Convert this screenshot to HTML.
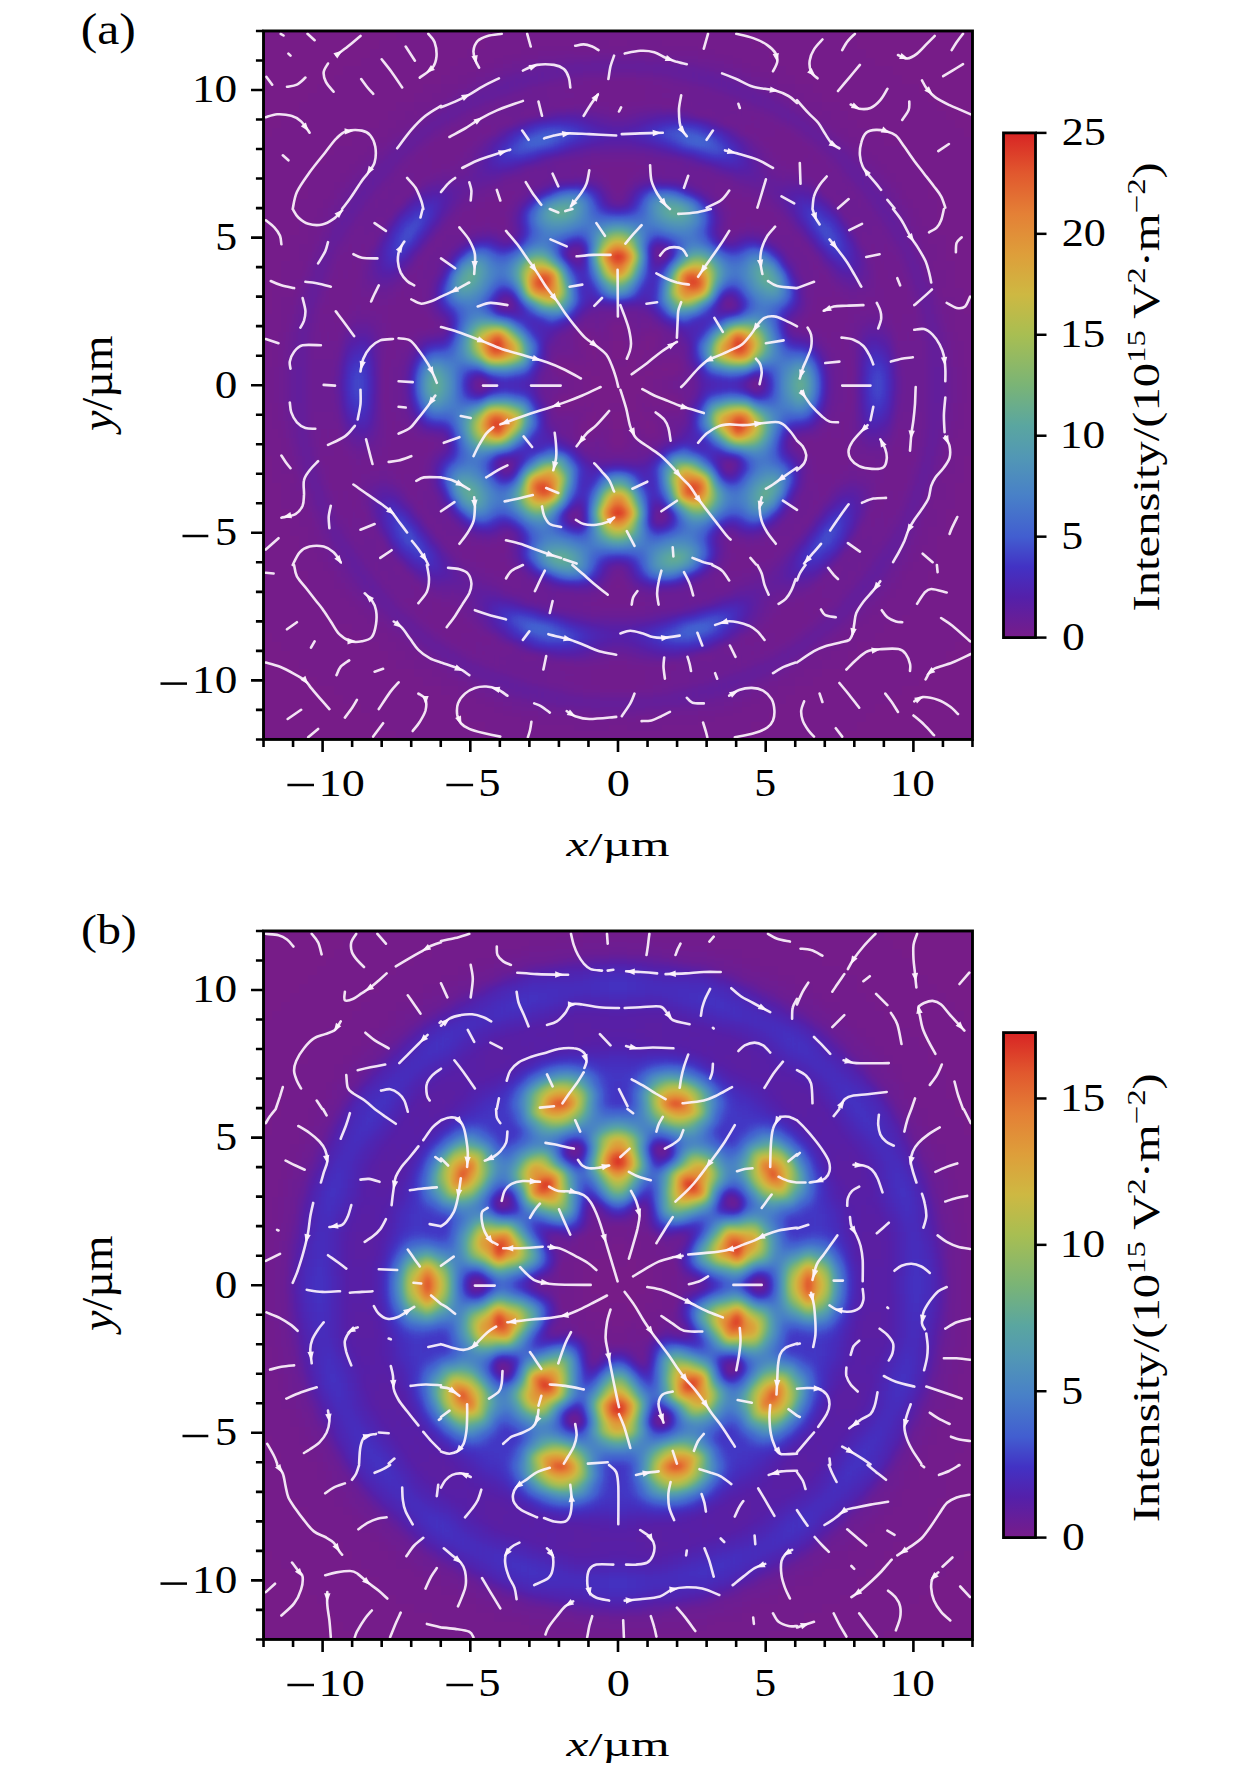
<!DOCTYPE html>
<html><head><meta charset="utf-8"><style>
html,body{margin:0;padding:0;background:#fff;}
svg{display:block;}
text{font-family:"Liberation Serif",serif;fill:#000;}
</style></head><body>
<svg width="1260" height="1772" viewBox="0 0 1260 1772">
<defs><filter id="cma" x="0" y="0" width="1260" height="1772" filterUnits="userSpaceOnUse" color-interpolation-filters="sRGB"><feGaussianBlur stdDeviation="4.43"/><feComponentTransfer><feFuncR type="table" tableValues="0.467 0.424 0.381 0.338 0.306 0.276 0.259 0.259 0.259 0.266 0.274 0.281 0.292 0.304 0.317 0.329 0.342 0.361 0.400 0.439 0.478 0.524 0.569 0.614 0.659 0.705 0.752 0.799 0.824 0.843 0.863 0.875 0.882 0.890 0.893 0.889 0.885 0.880 0.869 0.858 0.847"/><feFuncG type="table" tableValues="0.110 0.115 0.120 0.125 0.149 0.178 0.225 0.297 0.369 0.410 0.452 0.494 0.525 0.555 0.584 0.610 0.633 0.654 0.672 0.689 0.706 0.716 0.725 0.735 0.745 0.738 0.730 0.723 0.696 0.664 0.632 0.598 0.561 0.524 0.482 0.433 0.384 0.332 0.269 0.205 0.141"/><feFuncB type="table" tableValues="0.537 0.578 0.618 0.659 0.701 0.743 0.776 0.796 0.816 0.806 0.796 0.786 0.765 0.740 0.716 0.686 0.654 0.617 0.566 0.514 0.463 0.427 0.392 0.357 0.322 0.302 0.282 0.263 0.251 0.241 0.231 0.225 0.220 0.215 0.208 0.198 0.188 0.178 0.166 0.153 0.141"/></feComponentTransfer></filter><filter id="cmb" x="0" y="0" width="1260" height="1772" filterUnits="userSpaceOnUse" color-interpolation-filters="sRGB"><feGaussianBlur stdDeviation="4.43"/><feComponentTransfer><feFuncR type="table" tableValues="0.467 0.424 0.381 0.338 0.306 0.276 0.259 0.259 0.259 0.266 0.274 0.281 0.292 0.304 0.317 0.329 0.342 0.361 0.400 0.439 0.478 0.524 0.569 0.614 0.659 0.705 0.752 0.799 0.824 0.843 0.863 0.875 0.882 0.890 0.893 0.889 0.885 0.880 0.869 0.858 0.847"/><feFuncG type="table" tableValues="0.110 0.115 0.120 0.125 0.149 0.178 0.225 0.297 0.369 0.410 0.452 0.494 0.525 0.555 0.584 0.610 0.633 0.654 0.672 0.689 0.706 0.716 0.725 0.735 0.745 0.738 0.730 0.723 0.696 0.664 0.632 0.598 0.561 0.524 0.482 0.433 0.384 0.332 0.269 0.205 0.141"/><feFuncB type="table" tableValues="0.537 0.578 0.618 0.659 0.701 0.743 0.776 0.796 0.816 0.806 0.796 0.786 0.765 0.740 0.716 0.686 0.654 0.617 0.566 0.514 0.463 0.427 0.392 0.357 0.322 0.302 0.282 0.263 0.251 0.241 0.231 0.225 0.220 0.215 0.208 0.198 0.188 0.178 0.166 0.153 0.141"/></feComponentTransfer></filter><linearGradient id="cbga" x1="0" y1="1" x2="0" y2="0"><stop offset="0.000" stop-color="rgb(119,28,137)"/><stop offset="0.080" stop-color="rgb(84,32,170)"/><stop offset="0.140" stop-color="rgb(66,50,196)"/><stop offset="0.200" stop-color="rgb(66,94,208)"/><stop offset="0.280" stop-color="rgb(72,128,200)"/><stop offset="0.360" stop-color="rgb(82,152,180)"/><stop offset="0.420" stop-color="rgb(90,166,160)"/><stop offset="0.500" stop-color="rgb(122,180,118)"/><stop offset="0.600" stop-color="rgb(168,190,82)"/><stop offset="0.680" stop-color="rgb(206,184,66)"/><stop offset="0.760" stop-color="rgb(222,158,58)"/><stop offset="0.840" stop-color="rgb(228,128,54)"/><stop offset="0.920" stop-color="rgb(225,88,46)"/><stop offset="1.000" stop-color="rgb(216,36,36)"/></linearGradient><linearGradient id="cbgb" x1="0" y1="1" x2="0" y2="0"><stop offset="0.000" stop-color="rgb(119,28,137)"/><stop offset="0.080" stop-color="rgb(84,32,170)"/><stop offset="0.140" stop-color="rgb(66,50,196)"/><stop offset="0.200" stop-color="rgb(66,94,208)"/><stop offset="0.280" stop-color="rgb(72,128,200)"/><stop offset="0.360" stop-color="rgb(82,152,180)"/><stop offset="0.420" stop-color="rgb(90,166,160)"/><stop offset="0.500" stop-color="rgb(122,180,118)"/><stop offset="0.600" stop-color="rgb(168,190,82)"/><stop offset="0.680" stop-color="rgb(206,184,66)"/><stop offset="0.760" stop-color="rgb(222,158,58)"/><stop offset="0.840" stop-color="rgb(228,128,54)"/><stop offset="0.920" stop-color="rgb(225,88,46)"/><stop offset="1.000" stop-color="rgb(216,36,36)"/></linearGradient></defs>
<clipPath id="clipa"><rect x="263.52" y="30.96" width="708.96" height="708.48"/></clipPath>
<g clip-path="url(#clipa)"><g filter="url(#cma)">
<g transform="translate(236.93 4.39) scale(8.8620 8.8560)" shape-rendering="crispEdges">
<rect x="-2" y="-2" width="90" height="90" fill="#000"/>
<path fill="#010101" d="M22 0h42v1h-42zM20 1h46v1h-46zM19 2h48v1h-48zM18 3h11v1h-11zM57 3h11v1h-11zM16 4h12v1h-12zM58 4h12v1h-12zM15 5h11v1h-11zM60 5h11v1h-11zM14 6h11v1h-11zM61 6h11v1h-11zM12 7h12v1h-12zM62 7h12v1h-12zM11 8h12v1h-12zM63 8h12v1h-12zM9 9h12v1h-12zM65 9h12v1h-12zM8 10h12v1h-12zM66 10h12v1h-12zM7 11h11v1h-11zM68 11h11v1h-11zM6 12h11v1h-11zM69 12h11v1h-11zM5 13h11v1h-11zM70 13h11v1h-11zM4 14h10v1h-10zM72 14h10v1h-10zM3 15h10v1h-10zM73 15h10v1h-10zM3 16h8v1h-8zM75 16h8v1h-8zM2 17h8v1h-8zM76 17h8v1h-8zM2 18h7v1h-7zM77 18h7v1h-7zM1 19h7v1h-7zM78 19h7v1h-7zM1 20h7v1h-7zM78 20h7v1h-7zM1 21h7v1h-7zM78 21h7v1h-7zM1 22h6v1h-6zM18 22h1v1h-1zM67 22h1v1h-1zM79 22h6v1h-6zM0 23h7v1h-7zM79 23h7v1h-7zM0 24h7v1h-7zM79 24h7v1h-7zM0 25h7v1h-7zM79 25h7v1h-7zM0 26h6v1h-6zM80 26h6v1h-6zM0 27h6v1h-6zM80 27h6v1h-6zM0 28h6v1h-6zM80 28h6v1h-6zM0 29h5v1h-5zM81 29h5v1h-5zM0 30h5v1h-5zM81 30h5v1h-5zM0 31h5v1h-5zM81 31h5v1h-5zM0 32h4v1h-4zM82 32h4v1h-4zM0 33h4v1h-4zM82 33h4v1h-4zM0 34h4v1h-4zM82 34h4v1h-4zM0 35h3v1h-3zM83 35h3v1h-3zM0 36h3v1h-3zM83 36h3v1h-3zM0 37h3v1h-3zM38 37h1v1h-1zM42 37h2v1h-2zM47 37h1v1h-1zM83 37h3v1h-3zM0 38h2v1h-2zM40 38h1v1h-1zM45 38h1v1h-1zM84 38h2v1h-2zM0 39h2v1h-2zM39 39h1v1h-1zM46 39h1v1h-1zM84 39h2v1h-2zM0 40h1v1h-1zM37 40h1v1h-1zM40 40h1v1h-1zM42 40h2v1h-2zM45 40h1v1h-1zM48 40h1v1h-1zM85 40h1v1h-1zM0 41h1v1h-1zM40 41h1v1h-1zM45 41h1v1h-1zM85 41h1v1h-1zM0 42h1v1h-1zM39 42h1v1h-1zM46 42h1v1h-1zM85 42h1v1h-1zM0 43h1v1h-1zM39 43h1v1h-1zM46 43h1v1h-1zM85 43h1v1h-1zM0 44h1v1h-1zM40 44h1v1h-1zM45 44h1v1h-1zM85 44h1v1h-1zM0 45h1v1h-1zM37 45h1v1h-1zM40 45h1v1h-1zM42 45h2v1h-2zM45 45h1v1h-1zM48 45h1v1h-1zM85 45h1v1h-1zM0 46h2v1h-2zM39 46h1v1h-1zM46 46h1v1h-1zM84 46h2v1h-2zM0 47h2v1h-2zM40 47h1v1h-1zM45 47h1v1h-1zM84 47h2v1h-2zM0 48h3v1h-3zM38 48h1v1h-1zM42 48h2v1h-2zM47 48h1v1h-1zM83 48h3v1h-3zM0 49h3v1h-3zM83 49h3v1h-3zM0 50h3v1h-3zM83 50h3v1h-3zM0 51h4v1h-4zM82 51h4v1h-4zM0 52h4v1h-4zM82 52h4v1h-4zM0 53h4v1h-4zM82 53h4v1h-4zM0 54h5v1h-5zM81 54h5v1h-5zM0 55h5v1h-5zM81 55h5v1h-5zM0 56h5v1h-5zM81 56h5v1h-5zM0 57h6v1h-6zM80 57h6v1h-6zM0 58h6v1h-6zM80 58h6v1h-6zM0 59h6v1h-6zM80 59h6v1h-6zM0 60h7v1h-7zM79 60h7v1h-7zM0 61h7v1h-7zM79 61h7v1h-7zM0 62h7v1h-7zM79 62h7v1h-7zM1 63h6v1h-6zM18 63h1v1h-1zM67 63h1v1h-1zM79 63h6v1h-6zM1 64h7v1h-7zM78 64h7v1h-7zM1 65h7v1h-7zM78 65h7v1h-7zM1 66h7v1h-7zM78 66h7v1h-7zM2 67h7v1h-7zM77 67h7v1h-7zM2 68h8v1h-8zM76 68h8v1h-8zM3 69h8v1h-8zM75 69h8v1h-8zM3 70h10v1h-10zM73 70h10v1h-10zM4 71h10v1h-10zM72 71h10v1h-10zM5 72h11v1h-11zM70 72h11v1h-11zM6 73h11v1h-11zM69 73h11v1h-11zM7 74h11v1h-11zM68 74h11v1h-11zM8 75h12v1h-12zM66 75h12v1h-12zM9 76h12v1h-12zM65 76h12v1h-12zM11 77h12v1h-12zM63 77h12v1h-12zM12 78h12v1h-12zM62 78h12v1h-12zM14 79h11v1h-11zM61 79h11v1h-11zM15 80h11v1h-11zM60 80h11v1h-11zM16 81h12v1h-12zM58 81h12v1h-12zM18 82h11v1h-11zM57 82h11v1h-11zM19 83h48v1h-48zM20 84h46v1h-46zM22 85h42v1h-42z"/>
<path fill="#020202" d="M29 3h28v1h-28zM28 4h10v1h-10zM42 4h2v1h-2zM48 4h10v1h-10zM26 5h6v1h-6zM54 5h6v1h-6zM25 6h4v1h-4zM57 6h4v1h-4zM24 7h3v1h-3zM59 7h3v1h-3zM23 8h2v1h-2zM61 8h2v1h-2zM21 9h2v1h-2zM63 9h2v1h-2zM20 10h2v1h-2zM64 10h2v1h-2zM18 11h2v1h-2zM36 11h1v1h-1zM49 11h1v1h-1zM66 11h2v1h-2zM17 12h2v1h-2zM20 12h1v1h-1zM33 12h1v1h-1zM52 12h1v1h-1zM65 12h1v1h-1zM67 12h2v1h-2zM16 13h2v1h-2zM30 13h1v1h-1zM55 13h1v1h-1zM68 13h2v1h-2zM14 14h3v1h-3zM24 14h1v1h-1zM28 14h1v1h-1zM57 14h1v1h-1zM61 14h1v1h-1zM69 14h3v1h-3zM13 15h3v1h-3zM22 15h1v1h-1zM63 15h1v1h-1zM70 15h3v1h-3zM11 16h4v1h-4zM21 16h1v1h-1zM64 16h1v1h-1zM71 16h4v1h-4zM10 17h4v1h-4zM72 17h4v1h-4zM9 18h4v1h-4zM73 18h4v1h-4zM8 19h4v1h-4zM74 19h4v1h-4zM8 20h3v1h-3zM42 20h2v1h-2zM75 20h3v1h-3zM8 21h3v1h-3zM19 21h1v1h-1zM66 21h1v1h-1zM75 21h3v1h-3zM7 22h3v1h-3zM76 22h3v1h-3zM7 23h2v1h-2zM17 23h1v1h-1zM68 23h1v1h-1zM77 23h2v1h-2zM7 24h2v1h-2zM29 24h1v1h-1zM56 24h1v1h-1zM77 24h2v1h-2zM7 25h1v1h-1zM78 25h1v1h-1zM6 26h2v1h-2zM15 26h1v1h-1zM22 26h1v1h-1zM63 26h1v1h-1zM70 26h1v1h-1zM78 26h2v1h-2zM6 27h1v1h-1zM21 27h1v1h-1zM64 27h1v1h-1zM79 27h1v1h-1zM6 28h1v1h-1zM14 28h1v1h-1zM71 28h1v1h-1zM79 28h1v1h-1zM5 29h3v1h-3zM78 29h3v1h-3zM5 30h1v1h-1zM13 30h1v1h-1zM72 30h1v1h-1zM80 30h1v1h-1zM5 31h1v1h-1zM80 31h1v1h-1zM4 32h3v1h-3zM10 32h1v1h-1zM75 32h1v1h-1zM79 32h3v1h-3zM4 33h1v1h-1zM81 33h1v1h-1zM4 34h1v1h-1zM81 34h1v1h-1zM3 35h2v1h-2zM81 35h2v1h-2zM3 36h2v1h-2zM21 36h1v1h-1zM64 36h1v1h-1zM81 36h2v1h-2zM3 37h2v1h-2zM81 37h2v1h-2zM2 38h2v1h-2zM38 38h1v1h-1zM47 38h1v1h-1zM82 38h2v1h-2zM2 39h2v1h-2zM41 39h1v1h-1zM44 39h1v1h-1zM82 39h2v1h-2zM1 40h3v1h-3zM38 40h1v1h-1zM47 40h1v1h-1zM82 40h3v1h-3zM1 41h3v1h-3zM16 41h1v1h-1zM69 41h1v1h-1zM82 41h3v1h-3zM1 42h3v1h-3zM16 42h1v1h-1zM27 42h1v1h-1zM38 42h1v1h-1zM47 42h1v1h-1zM58 42h1v1h-1zM69 42h1v1h-1zM82 42h3v1h-3zM1 43h3v1h-3zM16 43h1v1h-1zM27 43h1v1h-1zM38 43h1v1h-1zM47 43h1v1h-1zM58 43h1v1h-1zM69 43h1v1h-1zM82 43h3v1h-3zM1 44h3v1h-3zM16 44h1v1h-1zM69 44h1v1h-1zM82 44h3v1h-3zM1 45h3v1h-3zM38 45h1v1h-1zM47 45h1v1h-1zM82 45h3v1h-3zM2 46h2v1h-2zM41 46h1v1h-1zM44 46h1v1h-1zM82 46h2v1h-2zM2 47h2v1h-2zM38 47h1v1h-1zM47 47h1v1h-1zM82 47h2v1h-2zM3 48h2v1h-2zM81 48h2v1h-2zM3 49h2v1h-2zM21 49h1v1h-1zM64 49h1v1h-1zM81 49h2v1h-2zM3 50h2v1h-2zM81 50h2v1h-2zM4 51h1v1h-1zM81 51h1v1h-1zM4 52h1v1h-1zM81 52h1v1h-1zM4 53h3v1h-3zM10 53h1v1h-1zM75 53h1v1h-1zM79 53h3v1h-3zM5 54h1v1h-1zM80 54h1v1h-1zM5 55h1v1h-1zM13 55h1v1h-1zM72 55h1v1h-1zM80 55h1v1h-1zM5 56h3v1h-3zM78 56h3v1h-3zM6 57h1v1h-1zM14 57h1v1h-1zM71 57h1v1h-1zM79 57h1v1h-1zM6 58h1v1h-1zM21 58h1v1h-1zM64 58h1v1h-1zM79 58h1v1h-1zM6 59h2v1h-2zM15 59h1v1h-1zM22 59h1v1h-1zM63 59h1v1h-1zM70 59h1v1h-1zM78 59h2v1h-2zM7 60h1v1h-1zM78 60h1v1h-1zM7 61h2v1h-2zM29 61h1v1h-1zM56 61h1v1h-1zM77 61h2v1h-2zM7 62h2v1h-2zM17 62h1v1h-1zM68 62h1v1h-1zM77 62h2v1h-2zM7 63h3v1h-3zM76 63h3v1h-3zM8 64h3v1h-3zM19 64h1v1h-1zM66 64h1v1h-1zM75 64h3v1h-3zM8 65h3v1h-3zM42 65h2v1h-2zM75 65h3v1h-3zM8 66h4v1h-4zM74 66h4v1h-4zM9 67h4v1h-4zM73 67h4v1h-4zM10 68h4v1h-4zM72 68h4v1h-4zM11 69h4v1h-4zM21 69h1v1h-1zM64 69h1v1h-1zM71 69h4v1h-4zM13 70h3v1h-3zM22 70h1v1h-1zM63 70h1v1h-1zM70 70h3v1h-3zM14 71h3v1h-3zM24 71h1v1h-1zM28 71h1v1h-1zM57 71h1v1h-1zM61 71h1v1h-1zM69 71h3v1h-3zM16 72h2v1h-2zM30 72h1v1h-1zM55 72h1v1h-1zM68 72h2v1h-2zM17 73h2v1h-2zM20 73h1v1h-1zM33 73h1v1h-1zM52 73h1v1h-1zM65 73h1v1h-1zM67 73h2v1h-2zM18 74h2v1h-2zM36 74h1v1h-1zM49 74h1v1h-1zM66 74h2v1h-2zM20 75h2v1h-2zM64 75h2v1h-2zM21 76h2v1h-2zM63 76h2v1h-2zM23 77h2v1h-2zM61 77h2v1h-2zM24 78h3v1h-3zM59 78h3v1h-3zM25 79h4v1h-4zM57 79h4v1h-4zM26 80h6v1h-6zM54 80h6v1h-6zM28 81h10v1h-10zM42 81h2v1h-2zM48 81h10v1h-10zM29 82h28v1h-28z"/>
<path fill="#030303" d="M38 4h4v1h-4zM44 4h4v1h-4zM32 5h2v1h-2zM38 5h3v1h-3zM45 5h3v1h-3zM52 5h2v1h-2zM29 6h1v1h-1zM56 6h1v1h-1zM27 7h1v1h-1zM58 7h1v1h-1zM25 8h1v1h-1zM41 8h4v1h-4zM60 8h1v1h-1zM23 9h2v1h-2zM40 9h6v1h-6zM61 9h2v1h-2zM22 10h2v1h-2zM40 10h6v1h-6zM62 10h2v1h-2zM20 11h3v1h-3zM37 11h1v1h-1zM42 11h2v1h-2zM48 11h1v1h-1zM63 11h3v1h-3zM19 12h1v1h-1zM32 12h1v1h-1zM53 12h1v1h-1zM66 12h1v1h-1zM18 13h2v1h-2zM25 13h1v1h-1zM60 13h1v1h-1zM66 13h2v1h-2zM17 14h2v1h-2zM23 14h1v1h-1zM62 14h1v1h-1zM67 14h2v1h-2zM16 15h1v1h-1zM23 15h4v1h-4zM59 15h4v1h-4zM69 15h1v1h-1zM22 16h4v1h-4zM60 16h4v1h-4zM20 17h1v1h-1zM22 17h3v1h-3zM61 17h3v1h-3zM65 17h1v1h-1zM22 18h1v1h-1zM41 18h4v1h-4zM63 18h1v1h-1zM21 19h1v1h-1zM42 19h2v1h-2zM64 19h1v1h-1zM11 20h1v1h-1zM20 20h1v1h-1zM65 20h1v1h-1zM74 20h1v1h-1zM28 22h3v1h-3zM55 22h3v1h-3zM9 23h1v1h-1zM27 23h3v1h-3zM56 23h3v1h-3zM76 23h1v1h-1zM27 24h1v1h-1zM58 24h1v1h-1zM8 25h1v1h-1zM77 25h1v1h-1zM8 26h1v1h-1zM77 26h1v1h-1zM7 27h2v1h-2zM77 27h2v1h-2zM7 28h1v1h-1zM78 28h1v1h-1zM11 29h1v1h-1zM13 29h1v1h-1zM20 29h1v1h-1zM65 29h1v1h-1zM72 29h1v1h-1zM74 29h1v1h-1zM6 30h2v1h-2zM11 30h1v1h-1zM19 30h1v1h-1zM66 30h1v1h-1zM74 30h1v1h-1zM78 30h2v1h-2zM6 31h1v1h-1zM10 31h4v1h-4zM19 31h1v1h-1zM66 31h1v1h-1zM72 31h4v1h-4zM79 31h1v1h-1zM11 32h2v1h-2zM18 32h1v1h-1zM67 32h1v1h-1zM73 32h2v1h-2zM5 33h2v1h-2zM10 33h3v1h-3zM18 33h3v1h-3zM65 33h3v1h-3zM73 33h3v1h-3zM79 33h2v1h-2zM5 34h1v1h-1zM9 34h4v1h-4zM17 34h4v1h-4zM65 34h4v1h-4zM73 34h4v1h-4zM80 34h1v1h-1zM5 35h1v1h-1zM9 35h1v1h-1zM11 35h1v1h-1zM17 35h5v1h-5zM64 35h5v1h-5zM74 35h1v1h-1zM76 35h1v1h-1zM80 35h1v1h-1zM5 36h1v1h-1zM9 36h1v1h-1zM11 36h1v1h-1zM17 36h4v1h-4zM65 36h4v1h-4zM74 36h1v1h-1zM76 36h1v1h-1zM80 36h1v1h-1zM11 37h1v1h-1zM17 37h1v1h-1zM19 37h1v1h-1zM40 37h1v1h-1zM45 37h1v1h-1zM66 37h1v1h-1zM68 37h1v1h-1zM74 37h1v1h-1zM4 38h1v1h-1zM17 38h1v1h-1zM41 38h1v1h-1zM44 38h1v1h-1zM68 38h1v1h-1zM81 38h1v1h-1zM4 39h1v1h-1zM81 39h1v1h-1zM4 40h1v1h-1zM16 40h1v1h-1zM39 40h1v1h-1zM46 40h1v1h-1zM69 40h1v1h-1zM81 40h1v1h-1zM37 42h1v1h-1zM48 42h1v1h-1zM37 43h1v1h-1zM48 43h1v1h-1zM4 45h1v1h-1zM16 45h1v1h-1zM39 45h1v1h-1zM46 45h1v1h-1zM69 45h1v1h-1zM81 45h1v1h-1zM4 46h1v1h-1zM81 46h1v1h-1zM4 47h1v1h-1zM17 47h1v1h-1zM41 47h1v1h-1zM44 47h1v1h-1zM68 47h1v1h-1zM81 47h1v1h-1zM11 48h1v1h-1zM17 48h1v1h-1zM19 48h1v1h-1zM40 48h1v1h-1zM45 48h1v1h-1zM66 48h1v1h-1zM68 48h1v1h-1zM74 48h1v1h-1zM5 49h1v1h-1zM9 49h1v1h-1zM11 49h1v1h-1zM17 49h4v1h-4zM65 49h4v1h-4zM74 49h1v1h-1zM76 49h1v1h-1zM80 49h1v1h-1zM5 50h1v1h-1zM9 50h1v1h-1zM11 50h1v1h-1zM17 50h5v1h-5zM64 50h5v1h-5zM74 50h1v1h-1zM76 50h1v1h-1zM80 50h1v1h-1zM5 51h1v1h-1zM9 51h4v1h-4zM17 51h4v1h-4zM65 51h4v1h-4zM73 51h4v1h-4zM80 51h1v1h-1zM5 52h2v1h-2zM10 52h3v1h-3zM18 52h3v1h-3zM65 52h3v1h-3zM73 52h3v1h-3zM79 52h2v1h-2zM11 53h2v1h-2zM18 53h1v1h-1zM67 53h1v1h-1zM73 53h2v1h-2zM6 54h1v1h-1zM10 54h4v1h-4zM19 54h1v1h-1zM66 54h1v1h-1zM72 54h4v1h-4zM79 54h1v1h-1zM6 55h2v1h-2zM11 55h1v1h-1zM19 55h1v1h-1zM66 55h1v1h-1zM74 55h1v1h-1zM78 55h2v1h-2zM11 56h1v1h-1zM13 56h1v1h-1zM20 56h1v1h-1zM65 56h1v1h-1zM72 56h1v1h-1zM74 56h1v1h-1zM7 57h1v1h-1zM78 57h1v1h-1zM7 58h2v1h-2zM77 58h2v1h-2zM8 59h1v1h-1zM77 59h1v1h-1zM8 60h1v1h-1zM77 60h1v1h-1zM27 61h1v1h-1zM58 61h1v1h-1zM9 62h1v1h-1zM27 62h3v1h-3zM56 62h3v1h-3zM76 62h1v1h-1zM28 63h3v1h-3zM55 63h3v1h-3zM11 65h1v1h-1zM20 65h1v1h-1zM65 65h1v1h-1zM74 65h1v1h-1zM21 66h1v1h-1zM42 66h2v1h-2zM64 66h1v1h-1zM22 67h1v1h-1zM41 67h4v1h-4zM63 67h1v1h-1zM20 68h1v1h-1zM22 68h3v1h-3zM61 68h3v1h-3zM65 68h1v1h-1zM22 69h4v1h-4zM60 69h4v1h-4zM16 70h1v1h-1zM23 70h4v1h-4zM59 70h4v1h-4zM69 70h1v1h-1zM17 71h2v1h-2zM23 71h1v1h-1zM62 71h1v1h-1zM67 71h2v1h-2zM18 72h2v1h-2zM25 72h1v1h-1zM60 72h1v1h-1zM66 72h2v1h-2zM19 73h1v1h-1zM32 73h1v1h-1zM53 73h1v1h-1zM66 73h1v1h-1zM20 74h3v1h-3zM37 74h1v1h-1zM42 74h2v1h-2zM48 74h1v1h-1zM63 74h3v1h-3zM22 75h2v1h-2zM40 75h6v1h-6zM62 75h2v1h-2zM23 76h2v1h-2zM40 76h6v1h-6zM61 76h2v1h-2zM25 77h1v1h-1zM41 77h4v1h-4zM60 77h1v1h-1zM27 78h1v1h-1zM58 78h1v1h-1zM29 79h1v1h-1zM56 79h1v1h-1zM32 80h2v1h-2zM38 80h3v1h-3zM45 80h3v1h-3zM52 80h2v1h-2zM38 81h4v1h-4zM44 81h4v1h-4z"/>
<path fill="#040404" d="M34 5h4v1h-4zM41 5h4v1h-4zM48 5h4v1h-4zM30 6h1v1h-1zM55 6h1v1h-1zM28 7h1v1h-1zM57 7h1v1h-1zM26 8h1v1h-1zM39 8h2v1h-2zM45 8h2v1h-2zM59 8h1v1h-1zM25 9h1v1h-1zM35 9h5v1h-5zM46 9h5v1h-5zM60 9h1v1h-1zM38 10h2v1h-2zM46 10h2v1h-2zM29 11h1v1h-1zM35 11h1v1h-1zM38 11h4v1h-4zM44 11h4v1h-4zM50 11h1v1h-1zM56 11h1v1h-1zM26 12h2v1h-2zM58 12h2v1h-2zM26 13h1v1h-1zM29 13h1v1h-1zM56 13h1v1h-1zM59 13h1v1h-1zM25 14h3v1h-3zM58 14h3v1h-3zM17 15h1v1h-1zM68 15h1v1h-1zM15 16h1v1h-1zM70 16h1v1h-1zM14 17h1v1h-1zM19 17h1v1h-1zM21 17h1v1h-1zM64 17h1v1h-1zM66 17h1v1h-1zM71 17h1v1h-1zM13 18h1v1h-1zM18 18h4v1h-4zM23 18h1v1h-1zM40 18h1v1h-1zM45 18h1v1h-1zM62 18h1v1h-1zM64 18h4v1h-4zM72 18h1v1h-1zM12 19h1v1h-1zM20 19h1v1h-1zM41 19h1v1h-1zM44 19h1v1h-1zM65 19h1v1h-1zM73 19h1v1h-1zM29 21h3v1h-3zM54 21h3v1h-3zM10 22h1v1h-1zM27 22h1v1h-1zM58 22h1v1h-1zM75 22h1v1h-1zM25 23h2v1h-2zM59 23h2v1h-2zM9 24h1v1h-1zM16 24h1v1h-1zM24 24h3v1h-3zM28 24h1v1h-1zM30 24h1v1h-1zM55 24h1v1h-1zM57 24h1v1h-1zM59 24h3v1h-3zM69 24h1v1h-1zM76 24h1v1h-1zM9 25h1v1h-1zM13 25h1v1h-1zM16 25h1v1h-1zM23 25h1v1h-1zM26 25h1v1h-1zM29 25h2v1h-2zM55 25h2v1h-2zM59 25h1v1h-1zM62 25h1v1h-1zM69 25h1v1h-1zM72 25h1v1h-1zM76 25h1v1h-1zM12 27h1v1h-1zM14 27h1v1h-1zM71 27h1v1h-1zM73 27h1v1h-1zM8 28h1v1h-1zM11 28h2v1h-2zM73 28h2v1h-2zM77 28h1v1h-1zM12 29h1v1h-1zM73 29h1v1h-1zM12 30h1v1h-1zM73 30h1v1h-1zM21 31h1v1h-1zM64 31h1v1h-1zM13 32h1v1h-1zM19 32h2v1h-2zM65 32h2v1h-2zM72 32h1v1h-1zM13 33h3v1h-3zM17 33h1v1h-1zM68 33h1v1h-1zM70 33h3v1h-3zM6 34h1v1h-1zM14 34h3v1h-3zM69 34h3v1h-3zM79 34h1v1h-1zM10 35h1v1h-1zM12 35h1v1h-1zM16 35h1v1h-1zM42 35h2v1h-2zM69 35h1v1h-1zM73 35h1v1h-1zM75 35h1v1h-1zM10 36h1v1h-1zM22 36h1v1h-1zM39 36h1v1h-1zM46 36h1v1h-1zM63 36h1v1h-1zM75 36h1v1h-1zM5 37h1v1h-1zM9 37h1v1h-1zM18 37h1v1h-1zM41 37h1v1h-1zM44 37h1v1h-1zM67 37h1v1h-1zM76 37h1v1h-1zM80 37h1v1h-1zM5 38h1v1h-1zM11 38h1v1h-1zM18 38h1v1h-1zM67 38h1v1h-1zM74 38h1v1h-1zM80 38h1v1h-1zM16 39h2v1h-2zM38 39h1v1h-1zM47 39h1v1h-1zM68 39h2v1h-2zM4 41h1v1h-1zM81 41h1v1h-1zM4 42h1v1h-1zM81 42h1v1h-1zM4 43h1v1h-1zM81 43h1v1h-1zM4 44h1v1h-1zM81 44h1v1h-1zM16 46h2v1h-2zM38 46h1v1h-1zM47 46h1v1h-1zM68 46h2v1h-2zM5 47h1v1h-1zM11 47h1v1h-1zM18 47h1v1h-1zM67 47h1v1h-1zM74 47h1v1h-1zM80 47h1v1h-1zM5 48h1v1h-1zM9 48h1v1h-1zM18 48h1v1h-1zM41 48h1v1h-1zM44 48h1v1h-1zM67 48h1v1h-1zM76 48h1v1h-1zM80 48h1v1h-1zM10 49h1v1h-1zM22 49h1v1h-1zM39 49h1v1h-1zM46 49h1v1h-1zM63 49h1v1h-1zM75 49h1v1h-1zM10 50h1v1h-1zM12 50h1v1h-1zM16 50h1v1h-1zM42 50h2v1h-2zM69 50h1v1h-1zM73 50h1v1h-1zM75 50h1v1h-1zM6 51h1v1h-1zM14 51h3v1h-3zM69 51h3v1h-3zM79 51h1v1h-1zM13 52h3v1h-3zM17 52h1v1h-1zM68 52h1v1h-1zM70 52h3v1h-3zM13 53h1v1h-1zM19 53h2v1h-2zM65 53h2v1h-2zM72 53h1v1h-1zM21 54h1v1h-1zM64 54h1v1h-1zM12 55h1v1h-1zM73 55h1v1h-1zM12 56h1v1h-1zM73 56h1v1h-1zM8 57h1v1h-1zM11 57h2v1h-2zM73 57h2v1h-2zM77 57h1v1h-1zM12 58h1v1h-1zM14 58h1v1h-1zM71 58h1v1h-1zM73 58h1v1h-1zM9 60h1v1h-1zM13 60h1v1h-1zM16 60h1v1h-1zM23 60h1v1h-1zM26 60h1v1h-1zM29 60h2v1h-2zM55 60h2v1h-2zM59 60h1v1h-1zM62 60h1v1h-1zM69 60h1v1h-1zM72 60h1v1h-1zM76 60h1v1h-1zM9 61h1v1h-1zM16 61h1v1h-1zM24 61h3v1h-3zM28 61h1v1h-1zM30 61h1v1h-1zM55 61h1v1h-1zM57 61h1v1h-1zM59 61h3v1h-3zM69 61h1v1h-1zM76 61h1v1h-1zM25 62h2v1h-2zM59 62h2v1h-2zM10 63h1v1h-1zM27 63h1v1h-1zM58 63h1v1h-1zM75 63h1v1h-1zM29 64h3v1h-3zM54 64h3v1h-3zM12 66h1v1h-1zM20 66h1v1h-1zM41 66h1v1h-1zM44 66h1v1h-1zM65 66h1v1h-1zM73 66h1v1h-1zM13 67h1v1h-1zM18 67h4v1h-4zM23 67h1v1h-1zM40 67h1v1h-1zM45 67h1v1h-1zM62 67h1v1h-1zM64 67h4v1h-4zM72 67h1v1h-1zM14 68h1v1h-1zM19 68h1v1h-1zM21 68h1v1h-1zM64 68h1v1h-1zM66 68h1v1h-1zM71 68h1v1h-1zM15 69h1v1h-1zM70 69h1v1h-1zM17 70h1v1h-1zM68 70h1v1h-1zM25 71h3v1h-3zM58 71h3v1h-3zM26 72h1v1h-1zM29 72h1v1h-1zM56 72h1v1h-1zM59 72h1v1h-1zM26 73h2v1h-2zM58 73h2v1h-2zM29 74h1v1h-1zM35 74h1v1h-1zM38 74h4v1h-4zM44 74h4v1h-4zM50 74h1v1h-1zM56 74h1v1h-1zM38 75h2v1h-2zM46 75h2v1h-2zM25 76h1v1h-1zM35 76h5v1h-5zM46 76h5v1h-5zM60 76h1v1h-1zM26 77h1v1h-1zM39 77h2v1h-2zM45 77h2v1h-2zM59 77h1v1h-1zM28 78h1v1h-1zM57 78h1v1h-1zM30 79h1v1h-1zM55 79h1v1h-1zM34 80h4v1h-4zM41 80h4v1h-4zM48 80h4v1h-4z"/>
<path fill="#050505" d="M31 6h3v1h-3zM52 6h3v1h-3zM29 7h1v1h-1zM56 7h1v1h-1zM27 8h1v1h-1zM38 8h1v1h-1zM47 8h1v1h-1zM58 8h1v1h-1zM26 9h1v1h-1zM34 9h1v1h-1zM51 9h1v1h-1zM59 9h1v1h-1zM24 10h1v1h-1zM31 10h2v1h-2zM37 10h1v1h-1zM48 10h1v1h-1zM53 10h2v1h-2zM61 10h1v1h-1zM28 11h1v1h-1zM57 11h1v1h-1zM21 12h1v1h-1zM28 12h1v1h-1zM57 12h1v1h-1zM64 12h1v1h-1zM24 13h1v1h-1zM27 13h2v1h-2zM57 13h2v1h-2zM61 13h1v1h-1zM27 15h1v1h-1zM58 15h1v1h-1zM16 16h1v1h-1zM20 16h1v1h-1zM65 16h1v1h-1zM69 16h1v1h-1zM15 17h1v1h-1zM25 17h1v1h-1zM40 17h6v1h-6zM60 17h1v1h-1zM70 17h1v1h-1zM14 18h1v1h-1zM24 18h1v1h-1zM38 18h2v1h-2zM46 18h2v1h-2zM61 18h1v1h-1zM71 18h1v1h-1zM13 19h1v1h-1zM17 19h3v1h-3zM66 19h3v1h-3zM72 19h1v1h-1zM12 20h1v1h-1zM16 20h4v1h-4zM30 20h2v1h-2zM33 20h1v1h-1zM52 20h1v1h-1zM54 20h2v1h-2zM66 20h4v1h-4zM73 20h1v1h-1zM11 21h1v1h-1zM16 21h1v1h-1zM28 21h1v1h-1zM42 21h2v1h-2zM57 21h1v1h-1zM69 21h1v1h-1zM74 21h1v1h-1zM11 22h1v1h-1zM15 22h1v1h-1zM26 22h1v1h-1zM59 22h1v1h-1zM70 22h1v1h-1zM74 22h1v1h-1zM10 23h1v1h-1zM14 23h1v1h-1zM30 23h1v1h-1zM55 23h1v1h-1zM71 23h1v1h-1zM75 23h1v1h-1zM10 24h1v1h-1zM75 24h1v1h-1zM24 25h2v1h-2zM60 25h2v1h-2zM9 26h1v1h-1zM12 26h2v1h-2zM25 26h1v1h-1zM60 26h1v1h-1zM72 26h2v1h-2zM76 26h1v1h-1zM13 27h1v1h-1zM24 27h1v1h-1zM61 27h1v1h-1zM72 27h1v1h-1zM13 28h1v1h-1zM20 28h2v1h-2zM23 28h1v1h-1zM37 28h2v1h-2zM47 28h2v1h-2zM62 28h1v1h-1zM64 28h2v1h-2zM72 28h1v1h-1zM10 30h1v1h-1zM20 30h1v1h-1zM65 30h1v1h-1zM75 30h1v1h-1zM7 31h1v1h-1zM20 31h1v1h-1zM65 31h1v1h-1zM78 31h1v1h-1zM14 32h1v1h-1zM21 32h1v1h-1zM64 32h1v1h-1zM71 32h1v1h-1zM9 33h1v1h-1zM16 33h1v1h-1zM69 33h1v1h-1zM76 33h1v1h-1zM13 34h1v1h-1zM21 34h1v1h-1zM64 34h1v1h-1zM72 34h1v1h-1zM6 35h1v1h-1zM39 35h1v1h-1zM46 35h1v1h-1zM79 35h1v1h-1zM16 36h1v1h-1zM38 36h1v1h-1zM41 36h1v1h-1zM44 36h1v1h-1zM47 36h1v1h-1zM69 36h1v1h-1zM10 37h1v1h-1zM16 37h1v1h-1zM36 37h1v1h-1zM49 37h1v1h-1zM69 37h1v1h-1zM75 37h1v1h-1zM8 38h3v1h-3zM16 38h1v1h-1zM19 38h1v1h-1zM66 38h1v1h-1zM69 38h1v1h-1zM75 38h3v1h-3zM5 39h1v1h-1zM8 39h3v1h-3zM18 39h1v1h-1zM36 39h2v1h-2zM48 39h2v1h-2zM67 39h1v1h-1zM75 39h3v1h-3zM80 39h1v1h-1zM5 40h1v1h-1zM8 40h1v1h-1zM10 40h1v1h-1zM17 40h2v1h-2zM35 40h1v1h-1zM50 40h1v1h-1zM67 40h2v1h-2zM75 40h1v1h-1zM77 40h1v1h-1zM80 40h1v1h-1zM8 41h1v1h-1zM10 41h1v1h-1zM35 41h1v1h-1zM50 41h1v1h-1zM75 41h1v1h-1zM77 41h1v1h-1zM8 42h1v1h-1zM10 42h1v1h-1zM36 42h1v1h-1zM49 42h1v1h-1zM75 42h1v1h-1zM77 42h1v1h-1zM8 43h1v1h-1zM10 43h1v1h-1zM36 43h1v1h-1zM49 43h1v1h-1zM75 43h1v1h-1zM77 43h1v1h-1zM8 44h1v1h-1zM10 44h1v1h-1zM35 44h1v1h-1zM50 44h1v1h-1zM75 44h1v1h-1zM77 44h1v1h-1zM5 45h1v1h-1zM8 45h1v1h-1zM10 45h1v1h-1zM17 45h2v1h-2zM35 45h1v1h-1zM50 45h1v1h-1zM67 45h2v1h-2zM75 45h1v1h-1zM77 45h1v1h-1zM80 45h1v1h-1zM5 46h1v1h-1zM8 46h3v1h-3zM18 46h1v1h-1zM36 46h2v1h-2zM48 46h2v1h-2zM67 46h1v1h-1zM75 46h3v1h-3zM80 46h1v1h-1zM8 47h3v1h-3zM16 47h1v1h-1zM19 47h1v1h-1zM66 47h1v1h-1zM69 47h1v1h-1zM75 47h3v1h-3zM10 48h1v1h-1zM16 48h1v1h-1zM36 48h1v1h-1zM49 48h1v1h-1zM69 48h1v1h-1zM75 48h1v1h-1zM16 49h1v1h-1zM38 49h1v1h-1zM41 49h1v1h-1zM44 49h1v1h-1zM47 49h1v1h-1zM69 49h1v1h-1zM6 50h1v1h-1zM39 50h1v1h-1zM46 50h1v1h-1zM79 50h1v1h-1zM13 51h1v1h-1zM21 51h1v1h-1zM64 51h1v1h-1zM72 51h1v1h-1zM9 52h1v1h-1zM16 52h1v1h-1zM69 52h1v1h-1zM76 52h1v1h-1zM14 53h1v1h-1zM21 53h1v1h-1zM64 53h1v1h-1zM71 53h1v1h-1zM7 54h1v1h-1zM20 54h1v1h-1zM65 54h1v1h-1zM78 54h1v1h-1zM10 55h1v1h-1zM20 55h1v1h-1zM65 55h1v1h-1zM75 55h1v1h-1zM13 57h1v1h-1zM20 57h2v1h-2zM23 57h1v1h-1zM37 57h2v1h-2zM47 57h2v1h-2zM62 57h1v1h-1zM64 57h2v1h-2zM72 57h1v1h-1zM13 58h1v1h-1zM24 58h1v1h-1zM61 58h1v1h-1zM72 58h1v1h-1zM9 59h1v1h-1zM12 59h2v1h-2zM25 59h1v1h-1zM60 59h1v1h-1zM72 59h2v1h-2zM76 59h1v1h-1zM24 60h2v1h-2zM60 60h2v1h-2zM10 61h1v1h-1zM75 61h1v1h-1zM10 62h1v1h-1zM14 62h1v1h-1zM30 62h1v1h-1zM55 62h1v1h-1zM71 62h1v1h-1zM75 62h1v1h-1zM11 63h1v1h-1zM15 63h1v1h-1zM26 63h1v1h-1zM59 63h1v1h-1zM70 63h1v1h-1zM74 63h1v1h-1zM11 64h1v1h-1zM16 64h1v1h-1zM28 64h1v1h-1zM42 64h2v1h-2zM57 64h1v1h-1zM69 64h1v1h-1zM74 64h1v1h-1zM12 65h1v1h-1zM16 65h4v1h-4zM30 65h2v1h-2zM33 65h1v1h-1zM52 65h1v1h-1zM54 65h2v1h-2zM66 65h4v1h-4zM73 65h1v1h-1zM13 66h1v1h-1zM17 66h3v1h-3zM66 66h3v1h-3zM72 66h1v1h-1zM14 67h1v1h-1zM24 67h1v1h-1zM38 67h2v1h-2zM46 67h2v1h-2zM61 67h1v1h-1zM71 67h1v1h-1zM15 68h1v1h-1zM25 68h1v1h-1zM40 68h6v1h-6zM60 68h1v1h-1zM70 68h1v1h-1zM16 69h1v1h-1zM20 69h1v1h-1zM65 69h1v1h-1zM69 69h1v1h-1zM27 70h1v1h-1zM58 70h1v1h-1zM24 72h1v1h-1zM27 72h2v1h-2zM57 72h2v1h-2zM61 72h1v1h-1zM21 73h1v1h-1zM28 73h1v1h-1zM57 73h1v1h-1zM64 73h1v1h-1zM28 74h1v1h-1zM57 74h1v1h-1zM24 75h1v1h-1zM31 75h2v1h-2zM37 75h1v1h-1zM48 75h1v1h-1zM53 75h2v1h-2zM61 75h1v1h-1zM26 76h1v1h-1zM34 76h1v1h-1zM51 76h1v1h-1zM59 76h1v1h-1zM27 77h1v1h-1zM38 77h1v1h-1zM47 77h1v1h-1zM58 77h1v1h-1zM29 78h1v1h-1zM56 78h1v1h-1zM31 79h3v1h-3zM52 79h3v1h-3z"/>
<path fill="#060606" d="M34 6h2v1h-2zM50 6h2v1h-2zM30 7h1v1h-1zM55 7h1v1h-1zM28 8h1v1h-1zM37 8h1v1h-1zM48 8h1v1h-1zM57 8h1v1h-1zM33 9h1v1h-1zM52 9h1v1h-1zM30 10h1v1h-1zM33 10h4v1h-4zM49 10h4v1h-4zM55 10h1v1h-1zM30 11h2v1h-2zM34 11h1v1h-1zM51 11h1v1h-1zM54 11h2v1h-2zM29 12h3v1h-3zM54 12h3v1h-3zM20 13h1v1h-1zM65 13h1v1h-1zM21 15h1v1h-1zM64 15h1v1h-1zM26 16h1v1h-1zM59 16h1v1h-1zM39 17h1v1h-1zM46 17h1v1h-1zM25 18h1v1h-1zM33 18h1v1h-1zM52 18h1v1h-1zM60 18h1v1h-1zM31 19h2v1h-2zM36 19h2v1h-2zM40 19h1v1h-1zM45 19h1v1h-1zM48 19h2v1h-2zM53 19h2v1h-2zM29 20h1v1h-1zM32 20h1v1h-1zM53 20h1v1h-1zM56 20h1v1h-1zM15 21h1v1h-1zM17 21h2v1h-2zM27 21h1v1h-1zM32 21h1v1h-1zM53 21h1v1h-1zM58 21h1v1h-1zM67 21h2v1h-2zM70 21h1v1h-1zM16 22h1v1h-1zM69 22h1v1h-1zM15 23h1v1h-1zM70 23h1v1h-1zM13 24h3v1h-3zM70 24h3v1h-3zM14 25h2v1h-2zM28 25h1v1h-1zM57 25h1v1h-1zM70 25h2v1h-2zM14 26h1v1h-1zM23 26h2v1h-2zM30 26h1v1h-1zM55 26h1v1h-1zM61 26h2v1h-2zM71 26h1v1h-1zM22 27h1v1h-1zM38 27h1v1h-1zM47 27h1v1h-1zM63 27h1v1h-1zM14 29h1v1h-1zM21 29h2v1h-2zM63 29h2v1h-2zM71 29h1v1h-1zM21 30h2v1h-2zM63 30h2v1h-2zM18 31h1v1h-1zM67 31h1v1h-1zM15 32h1v1h-1zM17 32h1v1h-1zM68 32h1v1h-1zM70 32h1v1h-1zM21 33h1v1h-1zM64 33h1v1h-1zM15 35h1v1h-1zM22 35h1v1h-1zM41 35h1v1h-1zM44 35h1v1h-1zM63 35h1v1h-1zM70 35h1v1h-1zM23 36h1v1h-1zM40 36h1v1h-1zM45 36h1v1h-1zM62 36h1v1h-1zM8 37h1v1h-1zM20 37h1v1h-1zM37 37h1v1h-1zM48 37h1v1h-1zM65 37h1v1h-1zM77 37h1v1h-1zM37 38h1v1h-1zM48 38h1v1h-1zM11 39h1v1h-1zM35 39h1v1h-1zM50 39h1v1h-1zM74 39h1v1h-1zM9 40h1v1h-1zM76 40h1v1h-1zM5 41h1v1h-1zM9 41h1v1h-1zM17 41h2v1h-2zM67 41h2v1h-2zM76 41h1v1h-1zM80 41h1v1h-1zM5 42h1v1h-1zM17 42h2v1h-2zM34 42h1v1h-1zM51 42h1v1h-1zM67 42h2v1h-2zM80 42h1v1h-1zM5 43h1v1h-1zM17 43h2v1h-2zM34 43h1v1h-1zM51 43h1v1h-1zM67 43h2v1h-2zM80 43h1v1h-1zM5 44h1v1h-1zM9 44h1v1h-1zM17 44h2v1h-2zM67 44h2v1h-2zM76 44h1v1h-1zM80 44h1v1h-1zM9 45h1v1h-1zM76 45h1v1h-1zM11 46h1v1h-1zM35 46h1v1h-1zM50 46h1v1h-1zM74 46h1v1h-1zM37 47h1v1h-1zM48 47h1v1h-1zM8 48h1v1h-1zM20 48h1v1h-1zM37 48h1v1h-1zM48 48h1v1h-1zM65 48h1v1h-1zM77 48h1v1h-1zM23 49h1v1h-1zM40 49h1v1h-1zM45 49h1v1h-1zM62 49h1v1h-1zM15 50h1v1h-1zM22 50h1v1h-1zM41 50h1v1h-1zM44 50h1v1h-1zM63 50h1v1h-1zM70 50h1v1h-1zM21 52h1v1h-1zM64 52h1v1h-1zM15 53h1v1h-1zM17 53h1v1h-1zM68 53h1v1h-1zM70 53h1v1h-1zM18 54h1v1h-1zM67 54h1v1h-1zM21 55h2v1h-2zM63 55h2v1h-2zM14 56h1v1h-1zM21 56h2v1h-2zM63 56h2v1h-2zM71 56h1v1h-1zM22 58h1v1h-1zM38 58h1v1h-1zM47 58h1v1h-1zM63 58h1v1h-1zM14 59h1v1h-1zM23 59h2v1h-2zM30 59h1v1h-1zM55 59h1v1h-1zM61 59h2v1h-2zM71 59h1v1h-1zM14 60h2v1h-2zM28 60h1v1h-1zM57 60h1v1h-1zM70 60h2v1h-2zM13 61h3v1h-3zM70 61h3v1h-3zM15 62h1v1h-1zM70 62h1v1h-1zM16 63h1v1h-1zM69 63h1v1h-1zM15 64h1v1h-1zM17 64h2v1h-2zM27 64h1v1h-1zM32 64h1v1h-1zM53 64h1v1h-1zM58 64h1v1h-1zM67 64h2v1h-2zM70 64h1v1h-1zM29 65h1v1h-1zM32 65h1v1h-1zM53 65h1v1h-1zM56 65h1v1h-1zM31 66h2v1h-2zM36 66h2v1h-2zM40 66h1v1h-1zM45 66h1v1h-1zM48 66h2v1h-2zM53 66h2v1h-2zM25 67h1v1h-1zM33 67h1v1h-1zM52 67h1v1h-1zM60 67h1v1h-1zM39 68h1v1h-1zM46 68h1v1h-1zM26 69h1v1h-1zM59 69h1v1h-1zM21 70h1v1h-1zM64 70h1v1h-1zM20 72h1v1h-1zM65 72h1v1h-1zM29 73h3v1h-3zM54 73h3v1h-3zM30 74h2v1h-2zM34 74h1v1h-1zM51 74h1v1h-1zM54 74h2v1h-2zM30 75h1v1h-1zM33 75h4v1h-4zM49 75h4v1h-4zM55 75h1v1h-1zM33 76h1v1h-1zM52 76h1v1h-1zM28 77h1v1h-1zM37 77h1v1h-1zM48 77h1v1h-1zM57 77h1v1h-1zM30 78h1v1h-1zM55 78h1v1h-1zM34 79h2v1h-2zM50 79h2v1h-2z"/>
<path fill="#070707" d="M36 6h1v1h-1zM49 6h1v1h-1zM31 7h1v1h-1zM54 7h1v1h-1zM23 11h1v1h-1zM32 11h2v1h-2zM52 11h2v1h-2zM62 11h1v1h-1zM34 12h1v1h-1zM42 12h2v1h-2zM51 12h1v1h-1zM31 13h1v1h-1zM54 13h1v1h-1zM19 14h1v1h-1zM22 14h1v1h-1zM63 14h1v1h-1zM66 14h1v1h-1zM36 17h3v1h-3zM47 17h3v1h-3zM34 18h1v1h-1zM36 18h2v1h-2zM48 18h2v1h-2zM51 18h1v1h-1zM22 19h1v1h-1zM24 19h1v1h-1zM30 19h1v1h-1zM33 19h3v1h-3zM38 19h2v1h-2zM46 19h2v1h-2zM50 19h3v1h-3zM55 19h1v1h-1zM61 19h1v1h-1zM63 19h1v1h-1zM34 20h1v1h-1zM41 20h1v1h-1zM44 20h1v1h-1zM51 20h1v1h-1zM12 21h1v1h-1zM73 21h1v1h-1zM17 22h1v1h-1zM25 22h1v1h-1zM60 22h1v1h-1zM68 22h1v1h-1zM16 23h1v1h-1zM24 23h1v1h-1zM61 23h1v1h-1zM69 23h1v1h-1zM23 24h1v1h-1zM62 24h1v1h-1zM27 25h1v1h-1zM58 25h1v1h-1zM11 27h1v1h-1zM15 27h1v1h-1zM23 27h1v1h-1zM62 27h1v1h-1zM70 27h1v1h-1zM74 27h1v1h-1zM22 28h1v1h-1zM63 28h1v1h-1zM8 29h1v1h-1zM77 29h1v1h-1zM14 31h1v1h-1zM71 31h1v1h-1zM7 32h1v1h-1zM9 32h1v1h-1zM16 32h1v1h-1zM69 32h1v1h-1zM76 32h1v1h-1zM78 32h1v1h-1zM30 34h1v1h-1zM55 34h1v1h-1zM13 35h2v1h-2zM40 35h1v1h-1zM45 35h1v1h-1zM71 35h2v1h-2zM6 36h1v1h-1zM8 36h1v1h-1zM12 36h1v1h-1zM73 36h1v1h-1zM77 36h1v1h-1zM79 36h1v1h-1zM9 42h1v1h-1zM35 42h1v1h-1zM50 42h1v1h-1zM76 42h1v1h-1zM9 43h1v1h-1zM35 43h1v1h-1zM50 43h1v1h-1zM76 43h1v1h-1zM6 49h1v1h-1zM8 49h1v1h-1zM12 49h1v1h-1zM73 49h1v1h-1zM77 49h1v1h-1zM79 49h1v1h-1zM13 50h2v1h-2zM40 50h1v1h-1zM45 50h1v1h-1zM71 50h2v1h-2zM30 51h1v1h-1zM55 51h1v1h-1zM7 53h1v1h-1zM9 53h1v1h-1zM16 53h1v1h-1zM69 53h1v1h-1zM76 53h1v1h-1zM78 53h1v1h-1zM14 54h1v1h-1zM71 54h1v1h-1zM8 56h1v1h-1zM77 56h1v1h-1zM22 57h1v1h-1zM63 57h1v1h-1zM11 58h1v1h-1zM15 58h1v1h-1zM23 58h1v1h-1zM62 58h1v1h-1zM70 58h1v1h-1zM74 58h1v1h-1zM27 60h1v1h-1zM58 60h1v1h-1zM23 61h1v1h-1zM62 61h1v1h-1zM16 62h1v1h-1zM24 62h1v1h-1zM61 62h1v1h-1zM69 62h1v1h-1zM17 63h1v1h-1zM25 63h1v1h-1zM60 63h1v1h-1zM68 63h1v1h-1zM12 64h1v1h-1zM73 64h1v1h-1zM34 65h1v1h-1zM41 65h1v1h-1zM44 65h1v1h-1zM51 65h1v1h-1zM22 66h1v1h-1zM24 66h1v1h-1zM30 66h1v1h-1zM33 66h3v1h-3zM38 66h2v1h-2zM46 66h2v1h-2zM50 66h3v1h-3zM55 66h1v1h-1zM61 66h1v1h-1zM63 66h1v1h-1zM34 67h1v1h-1zM36 67h2v1h-2zM48 67h2v1h-2zM51 67h1v1h-1zM36 68h3v1h-3zM47 68h3v1h-3zM19 71h1v1h-1zM22 71h1v1h-1zM63 71h1v1h-1zM66 71h1v1h-1zM31 72h1v1h-1zM54 72h1v1h-1zM34 73h1v1h-1zM42 73h2v1h-2zM51 73h1v1h-1zM23 74h1v1h-1zM32 74h2v1h-2zM52 74h2v1h-2zM62 74h1v1h-1zM31 78h1v1h-1zM54 78h1v1h-1zM36 79h1v1h-1zM49 79h1v1h-1z"/>
<path fill="#080808" d="M37 6h1v1h-1zM48 6h1v1h-1zM32 7h1v1h-1zM53 7h1v1h-1zM29 8h1v1h-1zM36 8h1v1h-1zM49 8h1v1h-1zM56 8h1v1h-1zM27 9h1v1h-1zM32 9h1v1h-1zM53 9h1v1h-1zM58 9h1v1h-1zM25 10h1v1h-1zM60 10h1v1h-1zM27 11h1v1h-1zM58 11h1v1h-1zM25 12h1v1h-1zM41 12h1v1h-1zM44 12h1v1h-1zM60 12h1v1h-1zM29 14h1v1h-1zM56 14h1v1h-1zM18 15h1v1h-1zM67 15h1v1h-1zM26 17h1v1h-1zM59 17h1v1h-1zM35 18h1v1h-1zM50 18h1v1h-1zM23 19h1v1h-1zM62 19h1v1h-1zM13 20h1v1h-1zM28 20h1v1h-1zM57 20h1v1h-1zM72 20h1v1h-1zM26 21h1v1h-1zM59 21h1v1h-1zM14 22h1v1h-1zM31 22h1v1h-1zM42 22h2v1h-2zM54 22h1v1h-1zM71 22h1v1h-1zM11 23h1v1h-1zM74 23h1v1h-1zM10 25h1v1h-1zM12 25h1v1h-1zM73 25h1v1h-1zM75 25h1v1h-1zM9 27h1v1h-1zM76 27h1v1h-1zM10 29h1v1h-1zM75 29h1v1h-1zM14 30h1v1h-1zM71 30h1v1h-1zM41 34h1v1h-1zM44 34h1v1h-1zM15 36h1v1h-1zM70 36h1v1h-1zM6 37h1v1h-1zM79 37h1v1h-1zM35 38h2v1h-2zM49 38h2v1h-2zM19 39h1v1h-1zM66 39h1v1h-1zM11 40h1v1h-1zM74 40h1v1h-1zM11 45h1v1h-1zM74 45h1v1h-1zM19 46h1v1h-1zM66 46h1v1h-1zM35 47h2v1h-2zM49 47h2v1h-2zM6 48h1v1h-1zM79 48h1v1h-1zM15 49h1v1h-1zM70 49h1v1h-1zM41 51h1v1h-1zM44 51h1v1h-1zM14 55h1v1h-1zM71 55h1v1h-1zM10 56h1v1h-1zM75 56h1v1h-1zM9 58h1v1h-1zM76 58h1v1h-1zM10 60h1v1h-1zM12 60h1v1h-1zM73 60h1v1h-1zM75 60h1v1h-1zM11 62h1v1h-1zM74 62h1v1h-1zM14 63h1v1h-1zM31 63h1v1h-1zM42 63h2v1h-2zM54 63h1v1h-1zM71 63h1v1h-1zM26 64h1v1h-1zM59 64h1v1h-1zM13 65h1v1h-1zM28 65h1v1h-1zM57 65h1v1h-1zM72 65h1v1h-1zM23 66h1v1h-1zM62 66h1v1h-1zM35 67h1v1h-1zM50 67h1v1h-1zM26 68h1v1h-1zM59 68h1v1h-1zM18 70h1v1h-1zM67 70h1v1h-1zM29 71h1v1h-1zM56 71h1v1h-1zM25 73h1v1h-1zM41 73h1v1h-1zM44 73h1v1h-1zM60 73h1v1h-1zM27 74h1v1h-1zM58 74h1v1h-1zM25 75h1v1h-1zM60 75h1v1h-1zM27 76h1v1h-1zM32 76h1v1h-1zM53 76h1v1h-1zM58 76h1v1h-1zM29 77h1v1h-1zM36 77h1v1h-1zM49 77h1v1h-1zM56 77h1v1h-1zM32 78h1v1h-1zM53 78h1v1h-1zM37 79h1v1h-1zM48 79h1v1h-1z"/>
<path fill="#090909" d="M38 6h2v1h-2zM46 6h2v1h-2zM29 10h1v1h-1zM56 10h1v1h-1zM22 12h1v1h-1zM63 12h1v1h-1zM23 13h1v1h-1zM62 13h1v1h-1zM17 16h1v1h-1zM68 16h1v1h-1zM16 17h1v1h-1zM35 17h1v1h-1zM50 17h1v1h-1zM69 17h1v1h-1zM15 18h1v1h-1zM26 18h1v1h-1zM32 18h1v1h-1zM53 18h1v1h-1zM59 18h1v1h-1zM70 18h1v1h-1zM14 19h1v1h-1zM25 19h1v1h-1zM60 19h1v1h-1zM71 19h1v1h-1zM8 30h1v1h-1zM77 30h1v1h-1zM7 33h1v1h-1zM78 33h1v1h-1zM8 35h1v1h-1zM77 35h1v1h-1zM37 36h1v1h-1zM48 36h1v1h-1zM21 37h1v1h-1zM64 37h1v1h-1zM6 38h1v1h-1zM79 38h1v1h-1zM34 41h1v1h-1zM51 41h1v1h-1zM34 44h1v1h-1zM51 44h1v1h-1zM6 47h1v1h-1zM79 47h1v1h-1zM21 48h1v1h-1zM64 48h1v1h-1zM37 49h1v1h-1zM48 49h1v1h-1zM8 50h1v1h-1zM77 50h1v1h-1zM7 52h1v1h-1zM78 52h1v1h-1zM8 55h1v1h-1zM77 55h1v1h-1zM14 66h1v1h-1zM25 66h1v1h-1zM60 66h1v1h-1zM71 66h1v1h-1zM15 67h1v1h-1zM26 67h1v1h-1zM32 67h1v1h-1zM53 67h1v1h-1zM59 67h1v1h-1zM70 67h1v1h-1zM16 68h1v1h-1zM35 68h1v1h-1zM50 68h1v1h-1zM69 68h1v1h-1zM17 69h1v1h-1zM68 69h1v1h-1zM23 72h1v1h-1zM62 72h1v1h-1zM22 73h1v1h-1zM63 73h1v1h-1zM29 75h1v1h-1zM56 75h1v1h-1zM38 79h2v1h-2zM46 79h2v1h-2z"/>
<path fill="#0a0a0a" d="M40 6h6v1h-6zM33 7h1v1h-1zM41 7h4v1h-4zM52 7h1v1h-1zM35 8h1v1h-1zM50 8h1v1h-1zM24 11h1v1h-1zM61 11h1v1h-1zM21 13h1v1h-1zM64 13h1v1h-1zM20 15h1v1h-1zM65 15h1v1h-1zM19 16h1v1h-1zM41 16h4v1h-4zM66 16h1v1h-1zM18 17h1v1h-1zM67 17h1v1h-1zM17 18h1v1h-1zM68 18h1v1h-1zM27 20h1v1h-1zM58 20h1v1h-1zM12 22h1v1h-1zM73 22h1v1h-1zM22 25h1v1h-1zM63 25h1v1h-1zM9 28h1v1h-1zM76 28h1v1h-1zM19 29h1v1h-1zM66 29h1v1h-1zM9 31h1v1h-1zM15 31h1v1h-1zM17 31h1v1h-1zM68 31h1v1h-1zM70 31h1v1h-1zM76 31h1v1h-1zM7 34h2v1h-2zM40 34h1v1h-1zM42 34h2v1h-2zM45 34h1v1h-1zM77 34h2v1h-2zM6 39h1v1h-1zM79 39h1v1h-1zM11 41h1v1h-1zM74 41h1v1h-1zM11 44h1v1h-1zM74 44h1v1h-1zM6 46h1v1h-1zM79 46h1v1h-1zM7 51h2v1h-2zM40 51h1v1h-1zM42 51h2v1h-2zM45 51h1v1h-1zM77 51h2v1h-2zM9 54h1v1h-1zM15 54h1v1h-1zM17 54h1v1h-1zM68 54h1v1h-1zM70 54h1v1h-1zM76 54h1v1h-1zM19 56h1v1h-1zM66 56h1v1h-1zM9 57h1v1h-1zM76 57h1v1h-1zM22 60h1v1h-1zM63 60h1v1h-1zM12 63h1v1h-1zM73 63h1v1h-1zM27 65h1v1h-1zM58 65h1v1h-1zM17 67h1v1h-1zM68 67h1v1h-1zM18 68h1v1h-1zM67 68h1v1h-1zM19 69h1v1h-1zM41 69h4v1h-4zM66 69h1v1h-1zM20 70h1v1h-1zM65 70h1v1h-1zM21 72h1v1h-1zM64 72h1v1h-1zM24 74h1v1h-1zM61 74h1v1h-1zM35 77h1v1h-1zM50 77h1v1h-1zM33 78h1v1h-1zM41 78h4v1h-4zM52 78h1v1h-1zM40 79h6v1h-6z"/>
<path fill="#0b0b0b" d="M39 7h2v1h-2zM45 7h2v1h-2zM30 8h1v1h-1zM55 8h1v1h-1zM28 9h1v1h-1zM31 9h1v1h-1zM54 9h1v1h-1zM57 9h1v1h-1zM26 10h1v1h-1zM59 10h1v1h-1zM26 11h1v1h-1zM59 11h1v1h-1zM24 12h1v1h-1zM40 12h1v1h-1zM45 12h1v1h-1zM61 12h1v1h-1zM20 14h2v1h-2zM64 14h2v1h-2zM27 16h1v1h-1zM40 16h1v1h-1zM45 16h1v1h-1zM58 16h1v1h-1zM16 19h1v1h-1zM26 19h1v1h-1zM59 19h1v1h-1zM69 19h1v1h-1zM21 20h1v1h-1zM26 20h1v1h-1zM59 20h1v1h-1zM64 20h1v1h-1zM25 21h1v1h-1zM60 21h1v1h-1zM13 23h1v1h-1zM31 23h1v1h-1zM54 23h1v1h-1zM72 23h1v1h-1zM11 24h1v1h-1zM17 24h1v1h-1zM68 24h1v1h-1zM74 24h1v1h-1zM31 25h1v1h-1zM54 25h1v1h-1zM10 26h2v1h-2zM74 26h2v1h-2zM10 28h1v1h-1zM75 28h1v1h-1zM9 30h1v1h-1zM76 30h1v1h-1zM8 31h1v1h-1zM77 31h1v1h-1zM7 35h1v1h-1zM78 35h1v1h-1zM13 36h1v1h-1zM72 36h1v1h-1zM15 37h1v1h-1zM22 37h1v1h-1zM63 37h1v1h-1zM70 37h1v1h-1zM20 38h1v1h-1zM65 38h1v1h-1zM6 40h1v1h-1zM19 40h1v1h-1zM66 40h1v1h-1zM79 40h1v1h-1zM11 42h1v1h-1zM74 42h1v1h-1zM11 43h1v1h-1zM74 43h1v1h-1zM6 45h1v1h-1zM19 45h1v1h-1zM66 45h1v1h-1zM79 45h1v1h-1zM20 47h1v1h-1zM65 47h1v1h-1zM15 48h1v1h-1zM22 48h1v1h-1zM63 48h1v1h-1zM70 48h1v1h-1zM13 49h1v1h-1zM72 49h1v1h-1zM7 50h1v1h-1zM78 50h1v1h-1zM8 54h1v1h-1zM77 54h1v1h-1zM9 55h1v1h-1zM76 55h1v1h-1zM10 57h1v1h-1zM75 57h1v1h-1zM10 59h2v1h-2zM74 59h2v1h-2zM31 60h1v1h-1zM54 60h1v1h-1zM11 61h1v1h-1zM17 61h1v1h-1zM68 61h1v1h-1zM74 61h1v1h-1zM13 62h1v1h-1zM31 62h1v1h-1zM54 62h1v1h-1zM72 62h1v1h-1zM25 64h1v1h-1zM60 64h1v1h-1zM21 65h1v1h-1zM26 65h1v1h-1zM59 65h1v1h-1zM64 65h1v1h-1zM16 66h1v1h-1zM26 66h1v1h-1zM59 66h1v1h-1zM69 66h1v1h-1zM27 69h1v1h-1zM40 69h1v1h-1zM45 69h1v1h-1zM58 69h1v1h-1zM20 71h2v1h-2zM64 71h2v1h-2zM24 73h1v1h-1zM40 73h1v1h-1zM45 73h1v1h-1zM61 73h1v1h-1zM26 74h1v1h-1zM59 74h1v1h-1zM26 75h1v1h-1zM59 75h1v1h-1zM28 76h1v1h-1zM31 76h1v1h-1zM54 76h1v1h-1zM57 76h1v1h-1zM30 77h1v1h-1zM55 77h1v1h-1zM39 78h2v1h-2zM45 78h2v1h-2z"/>
<path fill="#0c0c0c" d="M34 7h2v1h-2zM37 7h2v1h-2zM47 7h2v1h-2zM50 7h2v1h-2zM34 8h1v1h-1zM51 8h1v1h-1zM28 10h1v1h-1zM57 10h1v1h-1zM25 11h1v1h-1zM60 11h1v1h-1zM23 12h1v1h-1zM62 12h1v1h-1zM22 13h1v1h-1zM63 13h1v1h-1zM19 15h1v1h-1zM66 15h1v1h-1zM18 16h1v1h-1zM39 16h1v1h-1zM46 16h1v1h-1zM67 16h1v1h-1zM17 17h1v1h-1zM68 17h1v1h-1zM29 19h1v1h-1zM56 19h1v1h-1zM15 20h1v1h-1zM23 20h3v1h-3zM60 20h3v1h-3zM70 20h1v1h-1zM13 21h1v1h-1zM72 21h1v1h-1zM10 27h1v1h-1zM75 27h1v1h-1zM9 29h1v1h-1zM76 29h1v1h-1zM8 32h1v1h-1zM77 32h1v1h-1zM8 33h1v1h-1zM77 33h1v1h-1zM29 34h1v1h-1zM56 34h1v1h-1zM7 36h1v1h-1zM14 36h1v1h-1zM71 36h1v1h-1zM78 36h1v1h-1zM7 37h1v1h-1zM12 37h1v1h-1zM73 37h1v1h-1zM78 37h1v1h-1zM7 38h1v1h-1zM78 38h1v1h-1zM7 39h1v1h-1zM78 39h1v1h-1zM7 40h1v1h-1zM78 40h1v1h-1zM6 41h2v1h-2zM78 41h2v1h-2zM6 42h2v1h-2zM78 42h2v1h-2zM6 43h2v1h-2zM78 43h2v1h-2zM6 44h2v1h-2zM78 44h2v1h-2zM7 45h1v1h-1zM78 45h1v1h-1zM7 46h1v1h-1zM78 46h1v1h-1zM7 47h1v1h-1zM78 47h1v1h-1zM7 48h1v1h-1zM12 48h1v1h-1zM73 48h1v1h-1zM78 48h1v1h-1zM7 49h1v1h-1zM14 49h1v1h-1zM71 49h1v1h-1zM78 49h1v1h-1zM29 51h1v1h-1zM56 51h1v1h-1zM8 52h1v1h-1zM77 52h1v1h-1zM8 53h1v1h-1zM77 53h1v1h-1zM9 56h1v1h-1zM76 56h1v1h-1zM10 58h1v1h-1zM75 58h1v1h-1zM13 64h1v1h-1zM72 64h1v1h-1zM15 65h1v1h-1zM23 65h3v1h-3zM60 65h3v1h-3zM70 65h1v1h-1zM29 66h1v1h-1zM56 66h1v1h-1zM17 68h1v1h-1zM68 68h1v1h-1zM18 69h1v1h-1zM39 69h1v1h-1zM46 69h1v1h-1zM67 69h1v1h-1zM19 70h1v1h-1zM66 70h1v1h-1zM22 72h1v1h-1zM63 72h1v1h-1zM23 73h1v1h-1zM62 73h1v1h-1zM25 74h1v1h-1zM60 74h1v1h-1zM28 75h1v1h-1zM57 75h1v1h-1zM34 77h1v1h-1zM51 77h1v1h-1zM34 78h2v1h-2zM37 78h2v1h-2zM47 78h2v1h-2zM50 78h2v1h-2z"/>
<path fill="#0d0d0d" d="M36 7h1v1h-1zM49 7h1v1h-1zM31 8h1v1h-1zM33 8h1v1h-1zM52 8h1v1h-1zM54 8h1v1h-1zM29 9h2v1h-2zM55 9h2v1h-2zM27 10h1v1h-1zM58 10h1v1h-1zM35 12h1v1h-1zM39 12h1v1h-1zM46 12h1v1h-1zM50 12h1v1h-1zM28 15h1v1h-1zM57 15h1v1h-1zM27 17h1v1h-1zM58 17h1v1h-1zM16 18h1v1h-1zM69 18h1v1h-1zM15 19h1v1h-1zM70 19h1v1h-1zM14 20h1v1h-1zM22 20h1v1h-1zM35 20h1v1h-1zM50 20h1v1h-1zM63 20h1v1h-1zM71 20h1v1h-1zM14 21h1v1h-1zM71 21h1v1h-1zM24 22h1v1h-1zM61 22h1v1h-1zM12 23h1v1h-1zM73 23h1v1h-1zM12 24h1v1h-1zM73 24h1v1h-1zM11 25h1v1h-1zM74 25h1v1h-1zM26 26h1v1h-1zM29 26h1v1h-1zM56 26h1v1h-1zM59 26h1v1h-1zM15 30h1v1h-1zM18 30h1v1h-1zM67 30h1v1h-1zM70 30h1v1h-1zM16 31h1v1h-1zM69 31h1v1h-1zM22 34h1v1h-1zM63 34h1v1h-1zM23 35h1v1h-1zM38 35h1v1h-1zM47 35h1v1h-1zM62 35h1v1h-1zM23 50h1v1h-1zM38 50h1v1h-1zM47 50h1v1h-1zM62 50h1v1h-1zM22 51h1v1h-1zM63 51h1v1h-1zM16 54h1v1h-1zM69 54h1v1h-1zM15 55h1v1h-1zM18 55h1v1h-1zM67 55h1v1h-1zM70 55h1v1h-1zM26 59h1v1h-1zM29 59h1v1h-1zM56 59h1v1h-1zM59 59h1v1h-1zM11 60h1v1h-1zM74 60h1v1h-1zM12 61h1v1h-1zM73 61h1v1h-1zM12 62h1v1h-1zM73 62h1v1h-1zM24 63h1v1h-1zM61 63h1v1h-1zM14 64h1v1h-1zM71 64h1v1h-1zM14 65h1v1h-1zM22 65h1v1h-1zM35 65h1v1h-1zM50 65h1v1h-1zM63 65h1v1h-1zM71 65h1v1h-1zM15 66h1v1h-1zM70 66h1v1h-1zM16 67h1v1h-1zM69 67h1v1h-1zM27 68h1v1h-1zM58 68h1v1h-1zM28 70h1v1h-1zM57 70h1v1h-1zM35 73h1v1h-1zM39 73h1v1h-1zM46 73h1v1h-1zM50 73h1v1h-1zM27 75h1v1h-1zM58 75h1v1h-1zM29 76h2v1h-2zM55 76h2v1h-2zM31 77h1v1h-1zM33 77h1v1h-1zM52 77h1v1h-1zM54 77h1v1h-1zM36 78h1v1h-1zM49 78h1v1h-1z"/>
<path fill="#0e0e0e" d="M32 8h1v1h-1zM53 8h1v1h-1zM42 13h2v1h-2zM27 19h2v1h-2zM57 19h2v1h-2zM33 21h1v1h-1zM52 21h1v1h-1zM13 22h1v1h-1zM72 22h1v1h-1zM21 26h1v1h-1zM64 26h1v1h-1zM37 27h1v1h-1zM48 27h1v1h-1zM23 29h1v1h-1zM62 29h1v1h-1zM22 31h1v1h-1zM63 31h1v1h-1zM15 38h1v1h-1zM70 38h1v1h-1zM15 47h1v1h-1zM70 47h1v1h-1zM22 54h1v1h-1zM63 54h1v1h-1zM23 56h1v1h-1zM62 56h1v1h-1zM37 58h1v1h-1zM48 58h1v1h-1zM21 59h1v1h-1zM64 59h1v1h-1zM13 63h1v1h-1zM72 63h1v1h-1zM33 64h1v1h-1zM52 64h1v1h-1zM27 66h2v1h-2zM57 66h2v1h-2zM42 72h2v1h-2zM32 77h1v1h-1zM53 77h1v1h-1z"/>
<path fill="#0f0f0f" d="M38 16h1v1h-1zM47 16h1v1h-1zM34 17h1v1h-1zM51 17h1v1h-1zM27 18h1v1h-1zM58 18h1v1h-1zM40 20h1v1h-1zM45 20h1v1h-1zM24 21h1v1h-1zM41 21h1v1h-1zM44 21h1v1h-1zM61 21h1v1h-1zM32 22h1v1h-1zM53 22h1v1h-1zM31 24h1v1h-1zM54 24h1v1h-1zM15 28h1v1h-1zM70 28h1v1h-1zM15 29h1v1h-1zM70 29h1v1h-1zM22 32h1v1h-1zM63 32h1v1h-1zM39 34h1v1h-1zM46 34h1v1h-1zM23 37h1v1h-1zM62 37h1v1h-1zM19 41h1v1h-1zM66 41h1v1h-1zM19 44h1v1h-1zM66 44h1v1h-1zM23 48h1v1h-1zM62 48h1v1h-1zM39 51h1v1h-1zM46 51h1v1h-1zM22 53h1v1h-1zM63 53h1v1h-1zM15 56h1v1h-1zM70 56h1v1h-1zM15 57h1v1h-1zM70 57h1v1h-1zM31 61h1v1h-1zM54 61h1v1h-1zM32 63h1v1h-1zM53 63h1v1h-1zM24 64h1v1h-1zM41 64h1v1h-1zM44 64h1v1h-1zM61 64h1v1h-1zM40 65h1v1h-1zM45 65h1v1h-1zM27 67h1v1h-1zM58 67h1v1h-1zM34 68h1v1h-1zM51 68h1v1h-1zM38 69h1v1h-1zM47 69h1v1h-1z"/>
<path fill="#101010" d="M38 12h1v1h-1zM47 12h1v1h-1zM41 13h1v1h-1zM44 13h1v1h-1zM31 18h1v1h-1zM54 18h1v1h-1zM20 21h1v1h-1zM65 21h1v1h-1zM23 23h1v1h-1zM62 23h1v1h-1zM31 26h1v1h-1zM54 26h1v1h-1zM38 29h1v1h-1zM47 29h1v1h-1zM13 37h1v1h-1zM72 37h1v1h-1zM15 39h1v1h-1zM70 39h1v1h-1zM26 42h1v1h-1zM28 42h1v1h-1zM57 42h1v1h-1zM59 42h1v1h-1zM26 43h1v1h-1zM28 43h1v1h-1zM57 43h1v1h-1zM59 43h1v1h-1zM15 46h1v1h-1zM70 46h1v1h-1zM13 48h1v1h-1zM72 48h1v1h-1zM38 56h1v1h-1zM47 56h1v1h-1zM31 59h1v1h-1zM54 59h1v1h-1zM23 62h1v1h-1zM62 62h1v1h-1zM20 64h1v1h-1zM65 64h1v1h-1zM31 67h1v1h-1zM54 67h1v1h-1zM41 72h1v1h-1zM44 72h1v1h-1zM38 73h1v1h-1zM47 73h1v1h-1z"/>
<path fill="#111111" d="M36 12h1v1h-1zM49 12h1v1h-1zM32 13h1v1h-1zM53 13h1v1h-1zM28 16h1v1h-1zM57 16h1v1h-1zM18 23h1v1h-1zM67 23h1v1h-1zM27 26h1v1h-1zM58 26h1v1h-1zM29 33h1v1h-1zM56 33h1v1h-1zM31 34h1v1h-1zM54 34h1v1h-1zM12 38h1v1h-1zM73 38h1v1h-1zM19 42h1v1h-1zM66 42h1v1h-1zM19 43h1v1h-1zM66 43h1v1h-1zM12 47h1v1h-1zM73 47h1v1h-1zM31 51h1v1h-1zM54 51h1v1h-1zM29 52h1v1h-1zM56 52h1v1h-1zM27 59h1v1h-1zM58 59h1v1h-1zM18 62h1v1h-1zM67 62h1v1h-1zM28 69h1v1h-1zM57 69h1v1h-1zM32 72h1v1h-1zM53 72h1v1h-1zM36 73h1v1h-1zM49 73h1v1h-1z"/>
<path fill="#121212" d="M37 12h1v1h-1zM48 12h1v1h-1zM19 22h1v1h-1zM66 22h1v1h-1zM16 26h1v1h-1zM69 26h1v1h-1zM25 27h1v1h-1zM60 27h1v1h-1zM17 30h1v1h-1zM68 30h1v1h-1zM22 33h1v1h-1zM63 33h1v1h-1zM14 37h1v1h-1zM35 37h1v1h-1zM50 37h1v1h-1zM71 37h1v1h-1zM15 40h1v1h-1zM70 40h1v1h-1zM15 45h1v1h-1zM70 45h1v1h-1zM14 48h1v1h-1zM35 48h1v1h-1zM50 48h1v1h-1zM71 48h1v1h-1zM22 52h1v1h-1zM63 52h1v1h-1zM17 55h1v1h-1zM68 55h1v1h-1zM25 58h1v1h-1zM60 58h1v1h-1zM16 59h1v1h-1zM69 59h1v1h-1zM19 63h1v1h-1zM66 63h1v1h-1zM37 73h1v1h-1zM48 73h1v1h-1z"/>
<path fill="#131313" d="M40 13h1v1h-1zM45 13h1v1h-1zM30 14h1v1h-1zM55 14h1v1h-1zM42 15h2v1h-2zM37 16h1v1h-1zM48 16h1v1h-1zM36 20h1v1h-1zM49 20h1v1h-1zM21 21h1v1h-1zM64 21h1v1h-1zM23 22h1v1h-1zM62 22h1v1h-1zM20 27h1v1h-1zM65 27h1v1h-1zM24 28h1v1h-1zM61 28h1v1h-1zM18 29h1v1h-1zM67 29h1v1h-1zM16 30h1v1h-1zM69 30h1v1h-1zM34 40h1v1h-1zM51 40h1v1h-1zM15 41h1v1h-1zM70 41h1v1h-1zM15 44h1v1h-1zM70 44h1v1h-1zM34 45h1v1h-1zM51 45h1v1h-1zM16 55h1v1h-1zM69 55h1v1h-1zM18 56h1v1h-1zM67 56h1v1h-1zM24 57h1v1h-1zM61 57h1v1h-1zM20 58h1v1h-1zM65 58h1v1h-1zM23 63h1v1h-1zM62 63h1v1h-1zM21 64h1v1h-1zM64 64h1v1h-1zM36 65h1v1h-1zM49 65h1v1h-1zM37 69h1v1h-1zM48 69h1v1h-1zM42 70h2v1h-2zM30 71h1v1h-1zM55 71h1v1h-1zM40 72h1v1h-1zM45 72h1v1h-1z"/>
<path fill="#141414" d="M41 15h1v1h-1zM44 15h1v1h-1zM28 18h1v1h-1zM57 18h1v1h-1zM22 21h2v1h-2zM62 21h2v1h-2zM28 26h1v1h-1zM57 26h1v1h-1zM36 36h1v1h-1zM49 36h1v1h-1zM15 42h1v1h-1zM33 42h1v1h-1zM52 42h1v1h-1zM70 42h1v1h-1zM15 43h1v1h-1zM33 43h1v1h-1zM52 43h1v1h-1zM70 43h1v1h-1zM36 49h1v1h-1zM49 49h1v1h-1zM28 59h1v1h-1zM57 59h1v1h-1zM22 64h2v1h-2zM62 64h2v1h-2zM28 67h1v1h-1zM57 67h1v1h-1zM41 70h1v1h-1zM44 70h1v1h-1z"/>
<path fill="#151515" d="M42 14h2v1h-2zM29 15h1v1h-1zM56 15h1v1h-1zM30 18h1v1h-1zM55 18h1v1h-1zM39 20h1v1h-1zM46 20h1v1h-1zM41 22h1v1h-1zM44 22h1v1h-1zM22 24h1v1h-1zM63 24h1v1h-1zM19 28h1v1h-1zM66 28h1v1h-1zM31 33h1v1h-1zM54 33h1v1h-1zM31 52h1v1h-1zM54 52h1v1h-1zM19 57h1v1h-1zM66 57h1v1h-1zM22 61h1v1h-1zM63 61h1v1h-1zM41 63h1v1h-1zM44 63h1v1h-1zM39 65h1v1h-1zM46 65h1v1h-1zM30 67h1v1h-1zM55 67h1v1h-1zM29 70h1v1h-1zM56 70h1v1h-1zM42 71h2v1h-2z"/>
<path fill="#161616" d="M28 17h1v1h-1zM57 17h1v1h-1zM29 18h1v1h-1zM56 18h1v1h-1zM37 20h1v1h-1zM48 20h1v1h-1zM30 32h1v1h-1zM55 32h1v1h-1zM12 39h1v1h-1zM20 39h1v1h-1zM65 39h1v1h-1zM73 39h1v1h-1zM12 46h1v1h-1zM20 46h1v1h-1zM65 46h1v1h-1zM73 46h1v1h-1zM30 53h1v1h-1zM55 53h1v1h-1zM37 65h1v1h-1zM48 65h1v1h-1zM29 67h1v1h-1zM56 67h1v1h-1zM28 68h1v1h-1zM57 68h1v1h-1z"/>
<path fill="#171717" d="M39 13h1v1h-1zM46 13h1v1h-1zM41 14h1v1h-1zM44 14h1v1h-1zM40 15h1v1h-1zM45 15h1v1h-1zM38 20h1v1h-1zM47 20h1v1h-1zM34 21h1v1h-1zM51 21h1v1h-1zM16 29h1v1h-1zM69 29h1v1h-1zM23 30h1v1h-1zM62 30h1v1h-1zM35 36h1v1h-1zM50 36h1v1h-1zM13 38h1v1h-1zM34 38h1v1h-1zM51 38h1v1h-1zM72 38h1v1h-1zM13 47h1v1h-1zM34 47h1v1h-1zM51 47h1v1h-1zM72 47h1v1h-1zM35 49h1v1h-1zM50 49h1v1h-1zM23 55h1v1h-1zM62 55h1v1h-1zM16 56h1v1h-1zM69 56h1v1h-1zM34 64h1v1h-1zM51 64h1v1h-1zM38 65h1v1h-1zM47 65h1v1h-1zM40 70h1v1h-1zM45 70h1v1h-1zM41 71h1v1h-1zM44 71h1v1h-1zM39 72h1v1h-1zM46 72h1v1h-1z"/>
<path fill="#181818" d="M33 17h1v1h-1zM52 17h1v1h-1zM21 25h1v1h-1zM64 25h1v1h-1zM16 28h1v1h-1zM69 28h1v1h-1zM39 33h2v1h-2zM45 33h2v1h-2zM34 39h1v1h-1zM51 39h1v1h-1zM34 46h1v1h-1zM51 46h1v1h-1zM39 52h2v1h-2zM45 52h2v1h-2zM16 57h1v1h-1zM69 57h1v1h-1zM21 60h1v1h-1zM64 60h1v1h-1zM33 68h1v1h-1zM52 68h1v1h-1z"/>
<path fill="#191919" d="M20 22h1v1h-1zM65 22h1v1h-1zM16 27h1v1h-1zM30 27h1v1h-1zM55 27h1v1h-1zM69 27h1v1h-1zM41 33h1v1h-1zM44 33h1v1h-1zM34 37h1v1h-1zM51 37h1v1h-1zM14 38h1v1h-1zM21 38h1v1h-1zM64 38h1v1h-1zM71 38h1v1h-1zM14 47h1v1h-1zM21 47h1v1h-1zM64 47h1v1h-1zM71 47h1v1h-1zM34 48h1v1h-1zM51 48h1v1h-1zM41 52h1v1h-1zM44 52h1v1h-1zM16 58h1v1h-1zM30 58h1v1h-1zM55 58h1v1h-1zM69 58h1v1h-1zM20 63h1v1h-1zM65 63h1v1h-1z"/>
<path fill="#1a1a1a" d="M39 15h1v1h-1zM46 15h1v1h-1zM36 16h1v1h-1zM49 16h1v1h-1zM22 23h1v1h-1zM63 23h1v1h-1zM34 36h1v1h-1zM51 36h1v1h-1zM33 41h1v1h-1zM52 41h1v1h-1zM32 42h1v1h-1zM53 42h1v1h-1zM32 43h1v1h-1zM53 43h1v1h-1zM33 44h1v1h-1zM52 44h1v1h-1zM34 49h1v1h-1zM51 49h1v1h-1zM22 62h1v1h-1zM63 62h1v1h-1zM36 69h1v1h-1zM49 69h1v1h-1zM39 70h1v1h-1zM46 70h1v1h-1z"/>
<path fill="#1b1b1b" d="M33 13h1v1h-1zM38 13h1v1h-1zM47 13h1v1h-1zM52 13h1v1h-1zM40 14h1v1h-1zM45 14h1v1h-1zM29 16h1v1h-1zM56 16h1v1h-1zM20 26h1v1h-1zM65 26h1v1h-1zM29 27h1v1h-1zM56 27h1v1h-1zM39 31h1v1h-1zM46 31h1v1h-1zM39 32h1v1h-1zM46 32h1v1h-1zM23 34h1v1h-1zM62 34h1v1h-1zM33 36h1v1h-1zM52 36h1v1h-1zM12 40h1v1h-1zM73 40h1v1h-1zM12 45h1v1h-1zM73 45h1v1h-1zM33 49h1v1h-1zM52 49h1v1h-1zM23 51h1v1h-1zM62 51h1v1h-1zM39 53h1v1h-1zM46 53h1v1h-1zM39 54h1v1h-1zM46 54h1v1h-1zM29 58h1v1h-1zM56 58h1v1h-1zM20 59h1v1h-1zM65 59h1v1h-1zM29 69h1v1h-1zM56 69h1v1h-1zM40 71h1v1h-1zM45 71h1v1h-1zM33 72h1v1h-1zM38 72h1v1h-1zM47 72h1v1h-1zM52 72h1v1h-1z"/>
<path fill="#1c1c1c" d="M17 25h1v1h-1zM32 25h1v1h-1zM53 25h1v1h-1zM68 25h1v1h-1zM39 27h1v1h-1zM46 27h1v1h-1zM38 34h1v1h-1zM47 34h1v1h-1zM31 35h1v1h-1zM54 35h1v1h-1zM31 42h1v1h-1zM54 42h1v1h-1zM31 43h1v1h-1zM54 43h1v1h-1zM31 50h1v1h-1zM54 50h1v1h-1zM38 51h1v1h-1zM47 51h1v1h-1zM39 58h1v1h-1zM46 58h1v1h-1zM17 60h1v1h-1zM32 60h1v1h-1zM53 60h1v1h-1zM68 60h1v1h-1z"/>
<path fill="#1d1d1d" d="M31 14h1v1h-1zM54 14h1v1h-1zM30 15h1v1h-1zM55 15h1v1h-1zM21 22h2v1h-2zM63 22h2v1h-2zM19 23h1v1h-1zM66 23h1v1h-1zM17 29h1v1h-1zM68 29h1v1h-1zM24 35h1v1h-1zM33 35h1v1h-1zM52 35h1v1h-1zM61 35h1v1h-1zM24 36h1v1h-1zM61 36h1v1h-1zM22 38h1v1h-1zM63 38h1v1h-1zM29 42h1v1h-1zM56 42h1v1h-1zM29 43h1v1h-1zM56 43h1v1h-1zM22 47h1v1h-1zM63 47h1v1h-1zM24 49h1v1h-1zM61 49h1v1h-1zM24 50h1v1h-1zM33 50h1v1h-1zM52 50h1v1h-1zM61 50h1v1h-1zM17 56h1v1h-1zM68 56h1v1h-1zM19 62h1v1h-1zM66 62h1v1h-1zM21 63h2v1h-2zM63 63h2v1h-2zM30 70h1v1h-1zM55 70h1v1h-1zM31 71h1v1h-1zM54 71h1v1h-1z"/>
<path fill="#1e1e1e" d="M37 13h1v1h-1zM48 13h1v1h-1zM32 17h1v1h-1zM53 17h1v1h-1zM19 27h1v1h-1zM66 27h1v1h-1zM39 28h1v1h-1zM46 28h1v1h-1zM39 29h1v1h-1zM46 29h1v1h-1zM29 32h1v1h-1zM40 32h1v1h-1zM45 32h1v1h-1zM56 32h1v1h-1zM42 33h2v1h-2zM37 35h1v1h-1zM48 35h1v1h-1zM13 39h2v1h-2zM71 39h2v1h-2zM12 41h1v1h-1zM73 41h1v1h-1zM30 42h1v1h-1zM55 42h1v1h-1zM30 43h1v1h-1zM55 43h1v1h-1zM12 44h1v1h-1zM73 44h1v1h-1zM13 46h2v1h-2zM71 46h2v1h-2zM37 50h1v1h-1zM48 50h1v1h-1zM42 52h2v1h-2zM29 53h1v1h-1zM40 53h1v1h-1zM45 53h1v1h-1zM56 53h1v1h-1zM39 56h1v1h-1zM46 56h1v1h-1zM39 57h1v1h-1zM46 57h1v1h-1zM19 58h1v1h-1zM66 58h1v1h-1zM32 68h1v1h-1zM53 68h1v1h-1zM37 72h1v1h-1zM48 72h1v1h-1z"/>
<path fill="#1f1f1f" d="M34 13h1v1h-1zM51 13h1v1h-1zM38 15h1v1h-1zM47 15h1v1h-1zM29 17h1v1h-1zM56 17h1v1h-1zM18 24h1v1h-1zM67 24h1v1h-1zM17 26h1v1h-1zM68 26h1v1h-1zM26 27h1v1h-1zM59 27h1v1h-1zM24 29h1v1h-1zM61 29h1v1h-1zM38 30h1v1h-1zM47 30h1v1h-1zM32 34h1v1h-1zM53 34h1v1h-1zM32 35h1v1h-1zM53 35h1v1h-1zM32 50h1v1h-1zM53 50h1v1h-1zM32 51h1v1h-1zM53 51h1v1h-1zM38 55h1v1h-1zM47 55h1v1h-1zM24 56h1v1h-1zM61 56h1v1h-1zM26 58h1v1h-1zM59 58h1v1h-1zM17 59h1v1h-1zM68 59h1v1h-1zM18 61h1v1h-1zM67 61h1v1h-1zM29 68h1v1h-1zM56 68h1v1h-1zM38 70h1v1h-1zM47 70h1v1h-1zM34 72h1v1h-1zM51 72h1v1h-1z"/>
<path fill="#202020" d="M35 13h2v1h-2zM49 13h2v1h-2zM39 14h1v1h-1zM46 14h1v1h-1zM31 17h1v1h-1zM54 17h1v1h-1zM40 21h1v1h-1zM45 21h1v1h-1zM38 26h1v1h-1zM47 26h1v1h-1zM18 28h1v1h-1zM67 28h1v1h-1zM39 30h1v1h-1zM46 30h1v1h-1zM27 41h1v1h-1zM58 41h1v1h-1zM12 42h1v1h-1zM73 42h1v1h-1zM12 43h1v1h-1zM73 43h1v1h-1zM27 44h1v1h-1zM58 44h1v1h-1zM39 55h1v1h-1zM46 55h1v1h-1zM18 57h1v1h-1zM67 57h1v1h-1zM38 59h1v1h-1zM47 59h1v1h-1zM40 64h1v1h-1zM45 64h1v1h-1zM31 68h1v1h-1zM54 68h1v1h-1zM39 71h1v1h-1zM46 71h1v1h-1zM35 72h2v1h-2zM49 72h2v1h-2z"/>
<path fill="#212121" d="M32 23h1v1h-1zM42 23h2v1h-2zM53 23h1v1h-1zM21 24h1v1h-1zM32 24h1v1h-1zM53 24h1v1h-1zM64 24h1v1h-1zM23 38h1v1h-1zM62 38h1v1h-1zM23 47h1v1h-1zM62 47h1v1h-1zM21 61h1v1h-1zM32 61h1v1h-1zM53 61h1v1h-1zM64 61h1v1h-1zM32 62h1v1h-1zM42 62h2v1h-2zM53 62h1v1h-1z"/>
<path fill="#222222" d="M35 16h1v1h-1zM50 16h1v1h-1zM30 17h1v1h-1zM55 17h1v1h-1zM17 27h1v1h-1zM68 27h1v1h-1zM37 29h1v1h-1zM48 29h1v1h-1zM38 31h1v1h-1zM47 31h1v1h-1zM14 40h1v1h-1zM71 40h1v1h-1zM14 45h1v1h-1zM71 45h1v1h-1zM38 54h1v1h-1zM47 54h1v1h-1zM37 56h1v1h-1zM48 56h1v1h-1zM17 58h1v1h-1zM68 58h1v1h-1zM30 68h1v1h-1zM55 68h1v1h-1zM35 69h1v1h-1zM50 69h1v1h-1z"/>
<path fill="#232323" d="M32 14h1v1h-1zM53 14h1v1h-1zM33 22h1v1h-1zM52 22h1v1h-1zM34 35h1v1h-1zM51 35h1v1h-1zM34 50h1v1h-1zM51 50h1v1h-1zM33 63h1v1h-1zM52 63h1v1h-1zM32 71h1v1h-1zM53 71h1v1h-1z"/>
<path fill="#242424" d="M20 23h1v1h-1zM65 23h1v1h-1zM18 25h1v1h-1zM67 25h1v1h-1zM32 26h1v1h-1zM53 26h1v1h-1zM36 27h1v1h-1zM49 27h1v1h-1zM17 28h1v1h-1zM68 28h1v1h-1zM38 32h1v1h-1zM47 32h1v1h-1zM20 40h1v1h-1zM65 40h1v1h-1zM26 41h1v1h-1zM59 41h1v1h-1zM26 44h1v1h-1zM59 44h1v1h-1zM20 45h1v1h-1zM65 45h1v1h-1zM38 53h1v1h-1zM47 53h1v1h-1zM17 57h1v1h-1zM68 57h1v1h-1zM36 58h1v1h-1zM49 58h1v1h-1zM32 59h1v1h-1zM53 59h1v1h-1zM18 60h1v1h-1zM67 60h1v1h-1zM20 62h1v1h-1zM65 62h1v1h-1z"/>
<path fill="#252525" d="M37 15h1v1h-1zM48 15h1v1h-1zM25 28h1v1h-1zM60 28h1v1h-1zM28 33h1v1h-1zM57 33h1v1h-1zM33 37h1v1h-1zM52 37h1v1h-1zM13 40h1v1h-1zM72 40h1v1h-1zM14 41h1v1h-1zM71 41h1v1h-1zM14 44h1v1h-1zM71 44h1v1h-1zM13 45h1v1h-1zM72 45h1v1h-1zM33 48h1v1h-1zM52 48h1v1h-1zM28 52h1v1h-1zM57 52h1v1h-1zM25 57h1v1h-1zM60 57h1v1h-1zM37 70h1v1h-1zM48 70h1v1h-1z"/>
<path fill="#262626" d="M34 16h1v1h-1zM51 16h1v1h-1zM19 24h1v1h-1zM66 24h1v1h-1zM23 31h1v1h-1zM62 31h1v1h-1zM36 35h1v1h-1zM49 35h1v1h-1zM32 36h1v1h-1zM53 36h1v1h-1zM32 49h1v1h-1zM53 49h1v1h-1zM36 50h1v1h-1zM49 50h1v1h-1zM23 54h1v1h-1zM62 54h1v1h-1zM19 61h1v1h-1zM66 61h1v1h-1zM34 69h1v1h-1zM51 69h1v1h-1z"/>
<path fill="#272727" d="M38 14h1v1h-1zM47 14h1v1h-1zM21 23h1v1h-1zM41 23h1v1h-1zM44 23h1v1h-1zM64 23h1v1h-1zM37 26h1v1h-1zM48 26h1v1h-1zM31 27h1v1h-1zM54 27h1v1h-1zM36 28h1v1h-1zM49 28h1v1h-1zM14 42h1v1h-1zM71 42h1v1h-1zM14 43h1v1h-1zM71 43h1v1h-1zM36 57h1v1h-1zM49 57h1v1h-1zM31 58h1v1h-1zM54 58h1v1h-1zM37 59h1v1h-1zM48 59h1v1h-1zM21 62h1v1h-1zM41 62h1v1h-1zM44 62h1v1h-1zM64 62h1v1h-1zM38 71h1v1h-1zM47 71h1v1h-1z"/>
<path fill="#282828" d="M31 15h1v1h-1zM54 15h1v1h-1zM30 16h1v1h-1zM55 16h1v1h-1zM35 21h1v1h-1zM50 21h1v1h-1zM20 25h1v1h-1zM65 25h1v1h-1zM28 27h1v1h-1zM57 27h1v1h-1zM24 37h1v1h-1zM61 37h1v1h-1zM33 40h1v1h-1zM52 40h1v1h-1zM33 45h1v1h-1zM52 45h1v1h-1zM24 48h1v1h-1zM61 48h1v1h-1zM28 58h1v1h-1zM57 58h1v1h-1zM20 60h1v1h-1zM65 60h1v1h-1zM35 64h1v1h-1zM50 64h1v1h-1zM30 69h1v1h-1zM55 69h1v1h-1zM31 70h1v1h-1zM54 70h1v1h-1z"/>
<path fill="#292929" d="M33 14h1v1h-1zM52 14h1v1h-1zM23 33h1v1h-1zM62 33h1v1h-1zM24 34h1v1h-1zM61 34h1v1h-1zM24 51h1v1h-1zM61 51h1v1h-1zM23 52h1v1h-1zM62 52h1v1h-1zM33 71h1v1h-1zM52 71h1v1h-1z"/>
<path fill="#2a2a2a" d="M38 33h1v1h-1zM47 33h1v1h-1zM13 41h1v1h-1zM72 41h1v1h-1zM13 44h1v1h-1zM72 44h1v1h-1zM38 52h1v1h-1zM47 52h1v1h-1z"/>
<path fill="#2b2b2b" d="M40 22h1v1h-1zM45 22h1v1h-1zM28 34h1v1h-1zM57 34h1v1h-1zM25 42h1v1h-1zM60 42h1v1h-1zM25 43h1v1h-1zM60 43h1v1h-1zM28 51h1v1h-1zM57 51h1v1h-1zM40 63h1v1h-1zM45 63h1v1h-1z"/>
<path fill="#2c2c2c" d="M36 15h1v1h-1zM49 15h1v1h-1zM33 16h1v1h-1zM52 16h1v1h-1zM18 26h1v1h-1zM67 26h1v1h-1zM18 59h1v1h-1zM67 59h1v1h-1zM33 69h1v1h-1zM52 69h1v1h-1zM36 70h1v1h-1zM49 70h1v1h-1z"/>
<path fill="#2d2d2d" d="M18 27h1v1h-1zM67 27h1v1h-1zM31 32h1v1h-1zM54 32h1v1h-1zM13 42h1v1h-1zM72 42h1v1h-1zM13 43h1v1h-1zM72 43h1v1h-1zM31 53h1v1h-1zM54 53h1v1h-1zM18 58h1v1h-1zM67 58h1v1h-1z"/>
<path fill="#2e2e2e" d="M37 14h1v1h-1zM48 14h1v1h-1zM19 26h1v1h-1zM66 26h1v1h-1zM40 31h1v1h-1zM45 31h1v1h-1zM30 35h1v1h-1zM55 35h1v1h-1zM30 50h1v1h-1zM55 50h1v1h-1zM40 54h1v1h-1zM45 54h1v1h-1zM19 59h1v1h-1zM66 59h1v1h-1zM37 71h1v1h-1zM48 71h1v1h-1z"/>
<path fill="#2f2f2f" d="M20 24h1v1h-1zM65 24h1v1h-1zM39 26h1v1h-1zM46 26h1v1h-1zM27 27h1v1h-1zM58 27h1v1h-1zM21 39h1v1h-1zM64 39h1v1h-1zM21 46h1v1h-1zM64 46h1v1h-1zM27 58h1v1h-1zM58 58h1v1h-1zM39 59h1v1h-1zM46 59h1v1h-1zM20 61h1v1h-1zM65 61h1v1h-1z"/>
<path fill="#303030" d="M34 14h1v1h-1zM51 14h1v1h-1zM31 16h2v1h-2zM53 16h2v1h-2zM29 28h1v1h-1zM56 28h1v1h-1zM29 57h1v1h-1zM56 57h1v1h-1zM31 69h2v1h-2zM53 69h2v1h-2zM34 71h1v1h-1zM51 71h1v1h-1z"/>
<path fill="#313131" d="M19 25h1v1h-1zM66 25h1v1h-1zM20 41h1v1h-1zM32 41h1v1h-1zM53 41h1v1h-1zM65 41h1v1h-1zM20 44h1v1h-1zM32 44h1v1h-1zM53 44h1v1h-1zM65 44h1v1h-1zM19 60h1v1h-1zM66 60h1v1h-1z"/>
<path fill="#323232" d="M36 14h1v1h-1zM49 14h1v1h-1zM39 21h1v1h-1zM46 21h1v1h-1zM25 41h1v1h-1zM60 41h1v1h-1zM25 44h1v1h-1zM60 44h1v1h-1zM39 64h1v1h-1zM46 64h1v1h-1zM36 71h1v1h-1zM49 71h1v1h-1z"/>
<path fill="#333333" d="M35 14h1v1h-1zM50 14h1v1h-1zM32 15h1v1h-1zM53 15h1v1h-1zM40 23h1v1h-1zM45 23h1v1h-1zM33 25h1v1h-1zM52 25h1v1h-1zM30 28h1v1h-1zM55 28h1v1h-1zM23 32h1v1h-1zM62 32h1v1h-1zM23 53h1v1h-1zM62 53h1v1h-1zM30 57h1v1h-1zM55 57h1v1h-1zM33 60h1v1h-1zM52 60h1v1h-1zM40 62h1v1h-1zM45 62h1v1h-1zM32 70h1v1h-1zM53 70h1v1h-1zM35 71h1v1h-1zM50 71h1v1h-1z"/>
<path fill="#343434" d="M35 15h1v1h-1zM50 15h1v1h-1zM36 26h1v1h-1zM49 26h1v1h-1zM30 31h1v1h-1zM55 31h1v1h-1zM24 38h1v1h-1zM61 38h1v1h-1zM24 47h1v1h-1zM61 47h1v1h-1zM30 54h1v1h-1zM55 54h1v1h-1zM36 59h1v1h-1zM49 59h1v1h-1zM35 70h1v1h-1zM50 70h1v1h-1z"/>
<path fill="#353535" d="M37 34h1v1h-1zM48 34h1v1h-1zM37 51h1v1h-1zM48 51h1v1h-1z"/>
<path fill="#363636" d="M29 31h1v1h-1zM56 31h1v1h-1zM25 35h1v1h-1zM60 35h1v1h-1zM23 39h1v1h-1zM62 39h1v1h-1zM23 46h1v1h-1zM62 46h1v1h-1zM25 50h1v1h-1zM60 50h1v1h-1zM29 54h1v1h-1zM56 54h1v1h-1z"/>
<path fill="#373737" d="M22 39h1v1h-1zM63 39h1v1h-1zM22 46h1v1h-1zM63 46h1v1h-1z"/>
<path fill="#383838" d="M33 26h1v1h-1zM52 26h1v1h-1zM33 34h1v1h-1zM52 34h1v1h-1zM31 41h1v1h-1zM54 41h1v1h-1zM31 44h1v1h-1zM54 44h1v1h-1zM33 51h1v1h-1zM52 51h1v1h-1zM33 59h1v1h-1zM52 59h1v1h-1z"/>
<path fill="#393939" d="M37 30h1v1h-1zM48 30h1v1h-1zM25 34h1v1h-1zM60 34h1v1h-1zM29 35h1v1h-1zM56 35h1v1h-1zM33 39h1v1h-1zM52 39h1v1h-1zM20 42h1v1h-1zM65 42h1v1h-1zM20 43h1v1h-1zM65 43h1v1h-1zM33 46h1v1h-1zM52 46h1v1h-1zM29 50h1v1h-1zM56 50h1v1h-1zM25 51h1v1h-1zM60 51h1v1h-1zM37 55h1v1h-1zM48 55h1v1h-1z"/>
<path fill="#3a3a3a" d="M33 15h2v1h-2zM51 15h2v1h-2zM33 23h1v1h-1zM52 23h1v1h-1zM32 27h1v1h-1zM53 27h1v1h-1zM28 32h1v1h-1zM57 32h1v1h-1zM35 35h1v1h-1zM50 35h1v1h-1zM35 50h1v1h-1zM50 50h1v1h-1zM28 53h1v1h-1zM57 53h1v1h-1zM32 58h1v1h-1zM53 58h1v1h-1zM33 62h1v1h-1zM52 62h1v1h-1zM33 70h2v1h-2zM51 70h2v1h-2z"/>
<path fill="#3c3c3c" d="M36 21h1v1h-1zM49 21h1v1h-1zM25 36h1v1h-1zM60 36h1v1h-1zM28 41h1v1h-1zM57 41h1v1h-1zM28 44h1v1h-1zM57 44h1v1h-1zM25 49h1v1h-1zM60 49h1v1h-1zM36 64h1v1h-1zM49 64h1v1h-1z"/>
<path fill="#3d3d3d" d="M33 24h1v1h-1zM52 24h1v1h-1zM38 25h2v1h-2zM46 25h2v1h-2zM41 32h1v1h-1zM44 32h1v1h-1zM41 53h1v1h-1zM44 53h1v1h-1zM38 60h2v1h-2zM46 60h2v1h-2zM33 61h1v1h-1zM52 61h1v1h-1z"/>
<path fill="#3e3e3e" d="M35 27h1v1h-1zM50 27h1v1h-1zM27 34h1v1h-1zM58 34h1v1h-1zM24 39h1v1h-1zM61 39h1v1h-1zM24 46h1v1h-1zM61 46h1v1h-1zM27 51h1v1h-1zM58 51h1v1h-1zM35 58h1v1h-1zM50 58h1v1h-1z"/>
<path fill="#3f3f3f" d="M28 28h1v1h-1zM57 28h1v1h-1zM28 57h1v1h-1zM57 57h1v1h-1z"/>
<path fill="#404040" d="M40 24h2v1h-2zM44 24h2v1h-2zM35 26h1v1h-1zM50 26h1v1h-1zM27 33h1v1h-1zM58 33h1v1h-1zM27 52h1v1h-1zM58 52h1v1h-1zM35 59h1v1h-1zM50 59h1v1h-1zM40 61h2v1h-2zM44 61h2v1h-2z"/>
<path fill="#414141" d="M31 28h1v1h-1zM54 28h1v1h-1zM29 29h1v1h-1zM56 29h1v1h-1zM24 33h1v1h-1zM61 33h1v1h-1zM24 52h1v1h-1zM61 52h1v1h-1zM29 56h1v1h-1zM56 56h1v1h-1zM31 57h1v1h-1zM54 57h1v1h-1z"/>
<path fill="#424242" d="M38 21h1v1h-1zM47 21h1v1h-1zM42 24h2v1h-2zM34 26h1v1h-1zM51 26h1v1h-1zM29 30h1v1h-1zM56 30h1v1h-1zM32 33h1v1h-1zM53 33h1v1h-1zM26 34h1v1h-1zM59 34h1v1h-1zM33 38h1v1h-1zM52 38h1v1h-1zM25 40h1v1h-1zM60 40h1v1h-1zM25 45h1v1h-1zM60 45h1v1h-1zM33 47h1v1h-1zM52 47h1v1h-1zM26 51h1v1h-1zM59 51h1v1h-1zM32 52h1v1h-1zM53 52h1v1h-1zM29 55h1v1h-1zM56 55h1v1h-1zM34 59h1v1h-1zM51 59h1v1h-1zM42 61h2v1h-2zM38 64h1v1h-1zM47 64h1v1h-1z"/>
<path fill="#434343" d="M34 22h1v1h-1zM51 22h1v1h-1zM30 29h1v1h-1zM55 29h1v1h-1zM40 30h1v1h-1zM45 30h1v1h-1zM29 41h1v1h-1zM56 41h1v1h-1zM29 44h1v1h-1zM56 44h1v1h-1zM40 55h1v1h-1zM45 55h1v1h-1zM30 56h1v1h-1zM55 56h1v1h-1zM34 63h1v1h-1zM51 63h1v1h-1z"/>
<path fill="#444444" d="M34 25h1v1h-1zM51 25h1v1h-1zM24 40h1v1h-1zM61 40h1v1h-1zM24 45h1v1h-1zM61 45h1v1h-1zM34 60h1v1h-1zM51 60h1v1h-1z"/>
<path fill="#454545" d="M39 24h1v1h-1zM46 24h1v1h-1zM24 30h1v1h-1zM61 30h1v1h-1zM31 36h1v1h-1zM54 36h1v1h-1zM30 41h1v1h-1zM55 41h1v1h-1zM30 44h1v1h-1zM55 44h1v1h-1zM31 49h1v1h-1zM54 49h1v1h-1zM24 55h1v1h-1zM61 55h1v1h-1zM39 61h1v1h-1zM46 61h1v1h-1z"/>
<path fill="#464646" d="M37 21h1v1h-1zM48 21h1v1h-1zM39 22h1v1h-1zM46 22h1v1h-1zM39 23h1v1h-1zM46 23h1v1h-1zM37 25h1v1h-1zM48 25h1v1h-1zM21 40h1v1h-1zM64 40h1v1h-1zM21 45h1v1h-1zM64 45h1v1h-1zM37 60h1v1h-1zM48 60h1v1h-1zM39 62h1v1h-1zM46 62h1v1h-1zM39 63h1v1h-1zM46 63h1v1h-1zM37 64h1v1h-1zM48 64h1v1h-1z"/>
<path fill="#474747" d="M30 30h1v1h-1zM55 30h1v1h-1zM24 41h1v1h-1zM61 41h1v1h-1zM24 44h1v1h-1zM61 44h1v1h-1zM30 55h1v1h-1zM55 55h1v1h-1z"/>
<path fill="#484848" d="M28 31h1v1h-1zM57 31h1v1h-1zM25 37h1v1h-1zM60 37h1v1h-1zM23 40h1v1h-1zM62 40h1v1h-1zM23 45h1v1h-1zM62 45h1v1h-1zM25 48h1v1h-1zM60 48h1v1h-1zM28 54h1v1h-1zM57 54h1v1h-1z"/>
<path fill="#494949" d="M26 28h1v1h-1zM59 28h1v1h-1zM25 33h1v1h-1zM60 33h1v1h-1zM26 35h1v1h-1zM59 35h1v1h-1zM26 50h1v1h-1zM59 50h1v1h-1zM25 52h1v1h-1zM60 52h1v1h-1zM26 57h1v1h-1zM59 57h1v1h-1z"/>
<path fill="#4a4a4a" d="M27 28h1v1h-1zM58 28h1v1h-1zM26 40h1v1h-1zM59 40h1v1h-1zM24 42h1v1h-1zM61 42h1v1h-1zM24 43h1v1h-1zM61 43h1v1h-1zM26 45h1v1h-1zM59 45h1v1h-1zM27 57h1v1h-1zM58 57h1v1h-1z"/>
<path fill="#4b4b4b" d="M40 25h1v1h-1zM45 25h1v1h-1zM33 27h1v1h-1zM52 27h1v1h-1zM28 29h1v1h-1zM57 29h1v1h-1zM26 33h1v1h-1zM59 33h1v1h-1zM26 52h1v1h-1zM59 52h1v1h-1zM28 56h1v1h-1zM57 56h1v1h-1zM33 58h1v1h-1zM52 58h1v1h-1zM40 60h1v1h-1zM45 60h1v1h-1z"/>
<path fill="#4d4d4d" d="M35 25h2v1h-2zM49 25h2v1h-2zM28 35h1v1h-1zM57 35h1v1h-1zM32 37h1v1h-1zM53 37h1v1h-1zM32 48h1v1h-1zM53 48h1v1h-1zM28 50h1v1h-1zM57 50h1v1h-1zM35 60h2v1h-2zM49 60h2v1h-2z"/>
<path fill="#4f4f4f" d="M24 32h1v1h-1zM27 32h1v1h-1zM58 32h1v1h-1zM61 32h1v1h-1zM25 39h1v1h-1zM60 39h1v1h-1zM25 46h1v1h-1zM60 46h1v1h-1zM24 53h1v1h-1zM27 53h1v1h-1zM58 53h1v1h-1zM61 53h1v1h-1z"/>
<path fill="#505050" d="M38 24h1v1h-1zM47 24h1v1h-1zM34 27h1v1h-1zM51 27h1v1h-1zM28 30h1v1h-1zM57 30h1v1h-1zM28 55h1v1h-1zM57 55h1v1h-1zM34 58h1v1h-1zM51 58h1v1h-1zM38 61h1v1h-1zM47 61h1v1h-1z"/>
<path fill="#515151" d="M37 31h1v1h-1zM48 31h1v1h-1zM25 38h1v1h-1zM60 38h1v1h-1zM25 47h1v1h-1zM60 47h1v1h-1zM37 54h1v1h-1zM48 54h1v1h-1z"/>
<path fill="#525252" d="M24 31h1v1h-1zM61 31h1v1h-1zM24 54h1v1h-1zM61 54h1v1h-1z"/>
<path fill="#535353" d="M25 29h1v1h-1zM60 29h1v1h-1zM27 35h1v1h-1zM58 35h1v1h-1zM22 40h1v1h-1zM63 40h1v1h-1zM22 45h1v1h-1zM63 45h1v1h-1zM27 50h1v1h-1zM58 50h1v1h-1zM25 56h1v1h-1zM60 56h1v1h-1z"/>
<path fill="#545454" d="M40 26h1v1h-1zM45 26h1v1h-1zM31 31h1v1h-1zM54 31h1v1h-1zM31 54h1v1h-1zM54 54h1v1h-1zM40 59h1v1h-1zM45 59h1v1h-1z"/>
<path fill="#555555" d="M34 24h1v1h-1zM51 24h1v1h-1zM34 61h1v1h-1zM51 61h1v1h-1z"/>
<path fill="#565656" d="M34 23h1v1h-1zM51 23h1v1h-1zM34 62h1v1h-1zM51 62h1v1h-1z"/>
<path fill="#575757" d="M36 29h1v1h-1zM49 29h1v1h-1zM23 41h1v1h-1zM62 41h1v1h-1zM23 44h1v1h-1zM62 44h1v1h-1zM36 56h1v1h-1zM49 56h1v1h-1z"/>
<path fill="#585858" d="M40 27h1v1h-1zM45 27h1v1h-1zM42 32h2v1h-2zM42 53h2v1h-2zM40 58h1v1h-1zM45 58h1v1h-1z"/>
<path fill="#595959" d="M35 28h1v1h-1zM50 28h1v1h-1zM40 29h1v1h-1zM45 29h1v1h-1zM37 33h1v1h-1zM48 33h1v1h-1zM37 52h1v1h-1zM48 52h1v1h-1zM40 56h1v1h-1zM45 56h1v1h-1zM35 57h1v1h-1zM50 57h1v1h-1z"/>
<path fill="#5a5a5a" d="M35 22h1v1h-1zM50 22h1v1h-1zM41 31h1v1h-1zM44 31h1v1h-1zM26 32h1v1h-1zM59 32h1v1h-1zM21 41h1v1h-1zM64 41h1v1h-1zM21 44h1v1h-1zM64 44h1v1h-1zM26 53h1v1h-1zM59 53h1v1h-1zM41 54h1v1h-1zM44 54h1v1h-1zM35 63h1v1h-1zM50 63h1v1h-1z"/>
<path fill="#5b5b5b" d="M37 24h1v1h-1zM48 24h1v1h-1zM37 32h1v1h-1zM48 32h1v1h-1zM37 53h1v1h-1zM48 53h1v1h-1zM37 61h1v1h-1zM48 61h1v1h-1z"/>
<path fill="#5c5c5c" d="M38 22h1v1h-1zM47 22h1v1h-1zM38 23h1v1h-1zM47 23h1v1h-1zM31 29h1v1h-1zM54 29h1v1h-1zM27 31h1v1h-1zM58 31h1v1h-1zM35 34h1v1h-1zM50 34h1v1h-1zM35 51h1v1h-1zM50 51h1v1h-1zM27 54h1v1h-1zM58 54h1v1h-1zM31 56h1v1h-1zM54 56h1v1h-1zM38 62h1v1h-1zM47 62h1v1h-1zM38 63h1v1h-1zM47 63h1v1h-1z"/>
<path fill="#5d5d5d" d="M32 28h1v1h-1zM53 28h1v1h-1zM34 34h1v1h-1zM51 34h1v1h-1zM27 40h1v1h-1zM32 40h1v1h-1zM53 40h1v1h-1zM58 40h1v1h-1zM27 45h1v1h-1zM32 45h1v1h-1zM53 45h1v1h-1zM58 45h1v1h-1zM34 51h1v1h-1zM51 51h1v1h-1zM32 57h1v1h-1zM53 57h1v1h-1z"/>
<path fill="#5f5f5f" d="M41 25h1v1h-1zM44 25h1v1h-1zM26 36h1v1h-1zM59 36h1v1h-1zM23 42h1v1h-1zM62 42h1v1h-1zM23 43h1v1h-1zM62 43h1v1h-1zM26 49h1v1h-1zM59 49h1v1h-1zM41 60h1v1h-1zM44 60h1v1h-1z"/>
<path fill="#606060" d="M35 24h1v1h-1zM50 24h1v1h-1zM35 61h1v1h-1zM50 61h1v1h-1z"/>
<path fill="#616161" d="M36 24h1v1h-1zM49 24h1v1h-1zM36 61h1v1h-1zM49 61h1v1h-1z"/>
<path fill="#626262" d="M26 29h1v1h-1zM59 29h1v1h-1zM25 32h1v1h-1zM60 32h1v1h-1zM25 53h1v1h-1zM60 53h1v1h-1zM26 56h1v1h-1zM59 56h1v1h-1z"/>
<path fill="#646464" d="M25 30h1v1h-1zM27 30h1v1h-1zM58 30h1v1h-1zM60 30h1v1h-1zM32 38h1v1h-1zM53 38h1v1h-1zM32 47h1v1h-1zM53 47h1v1h-1zM25 55h1v1h-1zM27 55h1v1h-1zM58 55h1v1h-1zM60 55h1v1h-1z"/>
<path fill="#656565" d="M27 29h1v1h-1zM58 29h1v1h-1zM31 30h1v1h-1zM54 30h1v1h-1zM21 42h1v1h-1zM64 42h1v1h-1zM21 43h1v1h-1zM64 43h1v1h-1zM31 55h1v1h-1zM54 55h1v1h-1zM27 56h1v1h-1zM58 56h1v1h-1z"/>
<path fill="#666666" d="M36 22h1v1h-1zM49 22h1v1h-1zM36 63h1v1h-1zM49 63h1v1h-1z"/>
<path fill="#686868" d="M37 22h1v1h-1zM48 22h1v1h-1zM37 63h1v1h-1zM48 63h1v1h-1z"/>
<path fill="#6a6a6a" d="M22 41h1v1h-1zM63 41h1v1h-1zM22 44h1v1h-1zM63 44h1v1h-1z"/>
<path fill="#6b6b6b" d="M40 28h1v1h-1zM45 28h1v1h-1zM40 57h1v1h-1zM45 57h1v1h-1z"/>
<path fill="#6d6d6d" d="M36 34h1v1h-1zM49 34h1v1h-1zM36 51h1v1h-1zM49 51h1v1h-1z"/>
<path fill="#6f6f6f" d="M42 25h2v1h-2zM26 31h1v1h-1zM59 31h1v1h-1zM26 39h1v1h-1zM59 39h1v1h-1zM26 46h1v1h-1zM59 46h1v1h-1zM26 54h1v1h-1zM59 54h1v1h-1zM42 60h2v1h-2z"/>
<path fill="#707070" d="M35 23h1v1h-1zM37 23h1v1h-1zM48 23h1v1h-1zM50 23h1v1h-1zM33 33h1v1h-1zM52 33h1v1h-1zM33 52h1v1h-1zM52 52h1v1h-1zM35 62h1v1h-1zM37 62h1v1h-1zM48 62h1v1h-1zM50 62h1v1h-1z"/>
<path fill="#717171" d="M25 31h1v1h-1zM60 31h1v1h-1zM25 54h1v1h-1zM60 54h1v1h-1z"/>
<path fill="#727272" d="M32 39h1v1h-1zM53 39h1v1h-1zM32 46h1v1h-1zM53 46h1v1h-1z"/>
<path fill="#747474" d="M33 28h1v1h-1zM52 28h1v1h-1zM33 57h1v1h-1zM52 57h1v1h-1z"/>
<path fill="#757575" d="M34 28h1v1h-1zM51 28h1v1h-1zM30 36h1v1h-1zM55 36h1v1h-1zM31 40h1v1h-1zM54 40h1v1h-1zM31 45h1v1h-1zM54 45h1v1h-1zM30 49h1v1h-1zM55 49h1v1h-1zM34 57h1v1h-1zM51 57h1v1h-1z"/>
<path fill="#767676" d="M22 42h1v1h-1zM63 42h1v1h-1zM22 43h1v1h-1zM63 43h1v1h-1z"/>
<path fill="#777777" d="M26 37h1v1h-1zM59 37h1v1h-1zM26 48h1v1h-1zM59 48h1v1h-1z"/>
<path fill="#797979" d="M36 23h1v1h-1zM49 23h1v1h-1zM36 62h1v1h-1zM49 62h1v1h-1z"/>
<path fill="#7a7a7a" d="M26 30h1v1h-1zM59 30h1v1h-1zM32 32h1v1h-1zM53 32h1v1h-1zM32 53h1v1h-1zM53 53h1v1h-1zM26 55h1v1h-1zM59 55h1v1h-1z"/>
<path fill="#7b7b7b" d="M36 33h1v1h-1zM49 33h1v1h-1zM36 52h1v1h-1zM49 52h1v1h-1z"/>
<path fill="#7e7e7e" d="M42 31h2v1h-2zM27 36h1v1h-1zM58 36h1v1h-1zM31 37h1v1h-1zM54 37h1v1h-1zM31 48h1v1h-1zM54 48h1v1h-1zM27 49h1v1h-1zM58 49h1v1h-1zM42 54h2v1h-2z"/>
<path fill="#7f7f7f" d="M26 38h1v1h-1zM59 38h1v1h-1zM26 47h1v1h-1zM59 47h1v1h-1z"/>
<path fill="#838383" d="M41 26h1v1h-1zM44 26h1v1h-1zM32 29h1v1h-1zM53 29h1v1h-1zM32 56h1v1h-1zM53 56h1v1h-1zM41 59h1v1h-1zM44 59h1v1h-1z"/>
<path fill="#888888" d="M35 29h1v1h-1zM50 29h1v1h-1zM35 56h1v1h-1zM50 56h1v1h-1z"/>
<path fill="#8a8a8a" d="M36 30h1v1h-1zM41 30h1v1h-1zM44 30h1v1h-1zM49 30h1v1h-1zM36 55h1v1h-1zM41 55h1v1h-1zM44 55h1v1h-1zM49 55h1v1h-1z"/>
<path fill="#8b8b8b" d="M28 36h1v1h-1zM57 36h1v1h-1zM28 49h1v1h-1zM57 49h1v1h-1z"/>
<path fill="#8f8f8f" d="M30 40h1v1h-1zM55 40h1v1h-1zM30 45h1v1h-1zM55 45h1v1h-1z"/>
<path fill="#909090" d="M32 31h1v1h-1zM53 31h1v1h-1zM29 36h1v1h-1zM56 36h1v1h-1zM29 49h1v1h-1zM56 49h1v1h-1zM32 54h1v1h-1zM53 54h1v1h-1z"/>
<path fill="#929292" d="M28 40h1v1h-1zM57 40h1v1h-1zM28 45h1v1h-1zM57 45h1v1h-1z"/>
<path fill="#959595" d="M29 40h1v1h-1zM56 40h1v1h-1zM29 45h1v1h-1zM56 45h1v1h-1z"/>
<path fill="#999999" d="M36 31h1v1h-1zM49 31h1v1h-1zM27 39h1v1h-1zM58 39h1v1h-1zM27 46h1v1h-1zM58 46h1v1h-1zM36 54h1v1h-1zM49 54h1v1h-1z"/>
<path fill="#9a9a9a" d="M32 30h1v1h-1zM53 30h1v1h-1zM34 33h1v1h-1zM51 33h1v1h-1zM34 52h1v1h-1zM51 52h1v1h-1zM32 55h1v1h-1zM53 55h1v1h-1z"/>
<path fill="#a0a0a0" d="M41 27h1v1h-1zM44 27h1v1h-1zM41 58h1v1h-1zM44 58h1v1h-1z"/>
<path fill="#a3a3a3" d="M42 26h2v1h-2zM42 59h2v1h-2z"/>
<path fill="#a6a6a6" d="M33 29h1v1h-1zM52 29h1v1h-1zM33 56h1v1h-1zM52 56h1v1h-1z"/>
<path fill="#a7a7a7" d="M41 29h1v1h-1zM44 29h1v1h-1zM27 37h1v1h-1zM58 37h1v1h-1zM27 48h1v1h-1zM58 48h1v1h-1zM41 56h1v1h-1zM44 56h1v1h-1z"/>
<path fill="#acacac" d="M34 29h1v1h-1zM51 29h1v1h-1zM34 56h1v1h-1zM51 56h1v1h-1z"/>
<path fill="#aeaeae" d="M36 32h1v1h-1zM49 32h1v1h-1zM36 53h1v1h-1zM49 53h1v1h-1z"/>
<path fill="#b3b3b3" d="M31 39h1v1h-1zM54 39h1v1h-1zM31 46h1v1h-1zM54 46h1v1h-1z"/>
<path fill="#b5b5b5" d="M30 37h1v1h-1zM55 37h1v1h-1zM31 38h1v1h-1zM54 38h1v1h-1zM31 47h1v1h-1zM54 47h1v1h-1zM30 48h1v1h-1zM55 48h1v1h-1z"/>
<path fill="#b6b6b6" d="M27 38h1v1h-1zM58 38h1v1h-1zM27 47h1v1h-1zM58 47h1v1h-1z"/>
<path fill="#b8b8b8" d="M35 33h1v1h-1zM50 33h1v1h-1zM35 52h1v1h-1zM50 52h1v1h-1z"/>
<path fill="#c2c2c2" d="M42 30h2v1h-2zM42 55h2v1h-2z"/>
<path fill="#c7c7c7" d="M33 32h1v1h-1zM52 32h1v1h-1zM33 53h1v1h-1zM52 53h1v1h-1z"/>
<path fill="#c8c8c8" d="M30 39h1v1h-1zM55 39h1v1h-1zM30 46h1v1h-1zM55 46h1v1h-1z"/>
<path fill="#cacaca" d="M28 37h1v1h-1zM57 37h1v1h-1zM28 48h1v1h-1zM57 48h1v1h-1z"/>
<path fill="#cdcdcd" d="M33 30h1v1h-1zM52 30h1v1h-1zM33 55h1v1h-1zM52 55h1v1h-1z"/>
<path fill="#cecece" d="M41 28h1v1h-1zM44 28h1v1h-1zM35 32h1v1h-1zM50 32h1v1h-1zM35 53h1v1h-1zM50 53h1v1h-1zM41 57h1v1h-1zM44 57h1v1h-1z"/>
<path fill="#d2d2d2" d="M42 27h2v1h-2zM42 58h2v1h-2z"/>
<path fill="#d6d6d6" d="M34 32h1v1h-1zM51 32h1v1h-1zM34 53h1v1h-1zM51 53h1v1h-1z"/>
<path fill="#d7d7d7" d="M30 38h1v1h-1zM55 38h1v1h-1zM30 47h1v1h-1zM55 47h1v1h-1z"/>
<path fill="#dcdcdc" d="M28 39h1v1h-1zM57 39h1v1h-1zM28 46h1v1h-1zM57 46h1v1h-1z"/>
<path fill="#dfdfdf" d="M42 29h2v1h-2zM42 56h2v1h-2z"/>
<path fill="#e3e3e3" d="M35 31h1v1h-1zM50 31h1v1h-1zM35 54h1v1h-1zM50 54h1v1h-1z"/>
<path fill="#e5e5e5" d="M35 30h1v1h-1zM50 30h1v1h-1zM35 55h1v1h-1zM50 55h1v1h-1z"/>
<path fill="#e8e8e8" d="M33 31h1v1h-1zM52 31h1v1h-1zM33 54h1v1h-1zM52 54h1v1h-1z"/>
<path fill="#eaeaea" d="M34 30h1v1h-1zM51 30h1v1h-1zM34 55h1v1h-1zM51 55h1v1h-1z"/>
<path fill="#ececec" d="M29 39h1v1h-1zM56 39h1v1h-1zM29 46h1v1h-1zM56 46h1v1h-1z"/>
<path fill="#ededed" d="M28 38h1v1h-1zM57 38h1v1h-1zM28 47h1v1h-1zM57 47h1v1h-1z"/>
<path fill="#f4f4f4" d="M29 37h1v1h-1zM56 37h1v1h-1zM29 48h1v1h-1zM56 48h1v1h-1z"/>
<path fill="#ffffff" d="M42 28h2v1h-2zM34 31h1v1h-1zM51 31h1v1h-1zM29 38h1v1h-1zM56 38h1v1h-1zM29 47h1v1h-1zM56 47h1v1h-1zM34 54h1v1h-1zM51 54h1v1h-1zM42 57h2v1h-2z"/>
</g>
</g></g>
<g clip-path="url(#clipa)"><path d="M280.7 33.8L283.5 35.5M307.5 33.8L314.6 40.2M336.5 55.0C338.3 53.6 343.8 49.7 347.8 46.5C351.8 43.4 358.4 37.7 360.5 35.9M428.3 33.8C429.3 35.2 433.3 38.5 434.6 42.3C436.0 46.1 436.8 52.2 436.5 56.4C436.1 60.7 435.3 64.2 432.5 67.7C429.7 71.3 421.9 76.0 419.8 77.6M405.7 46.5L414.9 60.7M288.4 53.6L290.5 55.7M266.5 76.9L272.2 84.7M287.0 86.8C288.7 86.4 293.8 86.2 296.9 84.7C300.0 83.2 304.0 78.8 305.4 77.6M328.0 63.5C327.3 64.9 324.1 68.9 323.7 72.0C323.4 75.0 324.2 78.6 325.9 81.9C327.5 85.2 332.3 90.1 333.6 91.7M381.7 59.3C383.3 61.4 388.1 67.3 391.6 72.0C395.0 76.7 400.4 84.9 402.2 87.5M361.2 79.0C362.2 80.4 365.5 85.0 367.5 87.5C369.5 90.0 372.2 92.8 373.2 93.9M265.8 117.2C267.7 116.7 272.9 114.6 277.1 114.3C281.4 114.1 287.3 114.6 291.3 115.8C295.3 116.9 298.1 118.6 301.1 121.4C304.2 124.2 308.2 130.8 309.6 132.7M292.7 209.0C293.4 206.2 294.1 198.2 296.9 192.0C299.7 185.9 304.9 178.9 309.6 172.3C314.3 165.7 320.7 158.1 325.2 152.5C329.6 146.8 332.9 141.9 336.5 138.4C340.0 134.8 342.1 132.6 346.3 131.3C350.6 130.0 357.9 129.9 361.9 130.6C365.9 131.3 368.1 132.8 370.4 135.5C372.6 138.2 374.6 142.4 375.3 146.8C376.0 151.3 375.9 157.9 374.6 162.4C373.3 166.9 369.7 170.6 367.5 173.7C365.4 176.7 364.7 176.7 361.9 180.7C359.1 184.7 353.9 193.0 350.6 197.7C347.3 202.4 343.5 207.1 342.1 209.0M397.2 148.3C399.6 145.2 406.6 135.3 411.3 129.9C416.0 124.5 420.5 119.8 425.5 115.8C430.4 111.8 438.4 107.5 441.0 105.9M282.8 155.3L288.4 160.3M407.1 177.9C408.5 179.6 413.2 184.0 415.6 187.8C417.9 191.6 419.9 197.0 421.2 200.5C422.5 204.1 423.0 207.6 423.3 209.0M501.7 33.8C499.4 34.2 491.6 34.8 487.6 35.9C483.6 37.1 480.1 38.4 477.7 40.9C475.4 43.4 473.8 47.5 473.5 50.8C473.1 54.1 474.7 57.8 475.6 60.7C476.6 63.5 478.6 66.6 479.1 67.7M527.2 33.8L530.7 46.5M575.2 45.8C576.6 45.6 580.9 44.3 583.7 44.4C586.5 44.5 589.7 45.6 592.2 46.5C594.6 47.5 597.5 49.5 598.5 50.1M614.1 55.7C613.5 57.5 611.5 62.4 610.5 66.3C609.6 70.2 608.8 76.9 608.4 79.0M522.9 70.6C525.3 69.6 531.9 65.8 537.1 64.9C542.2 64.0 549.5 64.2 554.0 64.9C558.5 65.6 561.4 67.0 563.9 69.1C566.4 71.3 567.8 74.6 568.8 77.6C569.9 80.7 570.0 85.9 570.3 87.5M441.0 107.3C443.4 106.3 450.4 103.8 455.1 101.6C459.8 99.5 464.5 97.2 469.3 94.6C474.0 92.0 478.4 88.8 483.4 86.1C488.3 83.4 496.3 79.6 498.9 78.3M449.5 137.0C452.1 135.5 459.8 131.5 465.0 128.5C470.2 125.4 475.1 121.6 480.6 118.6C486.0 115.5 490.4 113.1 497.5 110.1C504.6 107.2 518.7 102.5 522.9 100.9M538.5 101.6L542.0 115.8M583.7 115.8C584.9 113.9 588.4 108.0 590.7 104.5C593.1 100.9 596.6 96.2 597.8 94.6M522.2 130.6L528.6 139.8M544.1 138.4C545.8 137.9 550.0 136.4 554.0 135.5C558.0 134.7 562.3 133.7 568.1 133.4C574.0 133.2 581.3 133.8 589.3 134.1C597.3 134.5 611.7 135.3 616.2 135.5M462.2 168.0C464.5 166.9 471.6 163.0 476.3 161.0C481.0 159.0 484.8 157.9 490.4 156.0C496.1 154.1 506.9 150.7 510.2 149.7M441.0 192.0C442.2 190.6 445.7 185.9 448.1 183.6C450.4 181.2 453.9 178.9 455.1 177.9M469.3 182.2C469.6 183.6 471.1 187.6 471.4 190.6C471.6 193.7 470.8 198.9 470.7 200.5M496.8 189.9L500.3 200.5M525.8 182.2C526.9 184.0 530.2 189.7 532.8 193.5C535.4 197.2 539.9 202.9 541.3 204.8M552.6 173.7L558.3 186.4M589.3 170.2C588.9 172.4 587.9 179.7 586.5 183.6C585.1 187.5 583.4 189.7 580.9 193.5C578.3 197.2 572.6 204.1 571.0 206.2M708.0 33.8L703.8 48.7M736.3 33.8C739.1 34.5 748.0 36.2 753.2 38.1C758.4 39.9 763.6 42.5 767.3 45.1C771.1 47.7 774.2 50.8 775.8 53.6C777.5 56.4 777.7 59.1 777.2 62.1C776.8 65.0 773.7 69.7 773.0 71.3M624.7 53.6C627.2 53.1 635.2 51.0 640.2 50.8C645.1 50.5 650.1 51.0 654.3 52.2C658.6 53.4 662.1 56.3 665.6 57.8C669.2 59.4 672.0 60.3 675.5 61.4C679.0 62.4 684.9 63.7 686.8 64.2M722.1 73.4C724.5 74.3 731.1 76.8 736.3 79.0C741.4 81.3 746.8 84.9 753.2 86.8C759.6 88.7 768.5 88.8 774.4 90.3C780.3 91.9 784.8 93.9 788.5 96.0C792.3 98.1 795.6 101.9 797.0 103.0M681.2 95.3C680.8 97.5 679.3 104.1 679.0 108.7C678.8 113.3 679.3 119.3 679.7 122.8C680.2 126.4 680.7 127.7 681.9 129.9C683.0 132.1 686.0 135.2 686.8 136.2M619.0 111.5L621.1 107.3M738.4 103.8L739.8 108.0M621.8 134.1C624.9 134.0 633.4 133.7 640.2 133.4C647.0 133.2 659.0 132.8 662.8 132.7M706.6 139.8L712.9 130.6M725.0 150.4C727.3 151.0 733.7 152.4 739.1 153.9C744.5 155.4 751.8 157.2 757.4 159.6C763.1 161.9 770.4 166.6 773.0 168.0M650.1 165.2C650.3 167.8 650.3 176.0 651.5 180.7C652.7 185.5 655.0 189.7 657.1 193.5C659.3 197.2 662.1 200.8 664.2 203.3C666.3 205.9 668.9 208.1 669.9 209.0M688.2 175.8L684.0 187.8M706.6 207.6C708.9 206.4 716.9 203.3 720.7 200.5C724.5 197.7 727.8 192.3 729.2 190.6M765.9 179.3C765.2 181.7 763.1 188.8 761.7 193.5C760.3 198.2 758.2 205.2 757.4 207.6M781.5 196.3L794.2 203.3M822.4 39.5C821.0 41.1 816.1 45.8 814.0 49.4C811.8 52.9 810.2 56.9 809.7 60.7C809.2 64.4 809.8 69.0 811.1 72.0C812.4 74.9 816.4 77.3 817.5 78.3M854.9 33.8C853.7 35.0 850.0 38.2 847.9 40.9C845.7 43.6 843.1 48.5 842.2 50.1M898.0 55.0C899.5 55.6 904.0 58.8 907.2 58.5C910.4 58.3 913.8 56.1 917.1 53.6C920.4 51.1 924.0 46.7 927.0 43.7C929.9 40.8 933.4 37.2 934.7 35.9M963.0 33.8C961.9 35.2 958.5 39.6 956.6 42.3C954.8 45.0 952.5 48.8 951.7 50.1M859.9 64.9C858.1 67.0 852.9 73.3 849.3 77.6C845.6 82.0 839.9 88.8 838.0 91.0M963.0 64.2C961.2 65.3 955.7 68.6 952.4 70.6C949.1 72.6 944.7 75.3 943.2 76.2M922.0 80.4C922.8 81.9 924.7 86.1 927.0 88.9C929.2 91.7 931.7 94.7 935.4 97.4C939.2 100.1 943.7 102.3 949.6 105.2C955.5 108.0 967.2 112.8 970.8 114.3M850.7 104.5C852.1 105.2 855.9 108.1 859.2 108.7C862.5 109.3 866.9 109.4 870.5 108.0C874.0 106.6 877.5 103.4 880.3 100.2C883.2 97.0 886.2 90.8 887.4 88.9M909.3 101.6C909.2 103.0 909.8 107.1 908.6 110.1C907.4 113.2 903.3 118.4 902.2 120.0M797.0 100.2C798.9 102.3 804.8 109.2 808.3 112.9C811.8 116.7 815.4 119.3 818.2 122.8C821.0 126.4 822.9 130.6 825.3 134.1C827.6 137.7 830.0 141.7 832.3 144.0C834.7 146.4 838.2 147.5 839.4 148.3M881.1 189.9C880.2 188.9 878.3 186.3 876.1 183.6C873.9 180.9 869.9 176.5 867.6 173.7C865.4 170.9 864.0 169.7 862.7 166.6C861.4 163.6 860.1 159.3 859.9 155.3C859.6 151.3 860.2 146.4 861.3 142.6C862.3 138.8 863.8 134.8 866.2 132.7C868.7 130.6 872.8 130.1 876.1 129.9C879.4 129.7 882.7 130.4 886.0 131.3C889.3 132.2 892.8 132.9 895.9 135.5C898.9 138.1 901.3 142.6 904.4 146.8C907.4 151.1 911.0 156.5 914.3 161.0C917.6 165.4 920.8 169.4 924.1 173.7C927.4 177.9 931.2 182.6 934.0 186.4C936.9 190.2 939.2 192.8 941.1 196.3C943.0 199.8 944.6 205.7 945.3 207.6M948.9 144.0L938.3 151.1M799.8 163.1L800.5 183.6M826.7 176.5C825.5 177.9 821.7 181.7 819.6 185.0C817.5 188.3 815.1 192.3 814.0 196.3C812.8 200.3 812.8 206.9 812.5 209.0M848.6 199.1L838.0 208.3M887.4 199.8L894.5 208.3M292.7 209.0C293.6 210.4 295.7 215.0 298.3 217.5C300.9 219.9 304.2 222.7 308.2 223.8C312.2 225.0 318.1 225.4 322.3 224.5C326.6 223.7 330.3 221.2 333.6 218.9C336.9 216.5 340.7 211.8 342.1 210.4M265.8 220.3C267.2 221.5 271.9 224.8 274.3 227.4C276.7 230.0 278.8 233.0 280.0 235.8C281.1 238.7 281.1 242.9 281.4 244.3M422.6 209.0L420.5 217.5M374.6 223.1L385.9 230.9M328.0 242.2C327.5 243.7 326.8 247.8 325.2 251.4C323.5 254.9 319.3 261.4 318.1 263.4M353.4 254.2C354.8 254.8 357.9 257.0 361.9 257.7C365.9 258.4 374.8 258.3 377.4 258.4M414.2 285.3C413.0 284.6 409.3 283.2 407.1 281.0C404.9 278.9 402.3 275.9 400.7 272.6C399.2 269.3 398.1 265.0 397.9 261.3C397.7 257.5 398.3 253.3 399.3 250.0C400.4 246.7 403.4 242.9 404.3 241.5M270.8 281.0C272.5 281.8 277.5 284.1 281.4 285.3C285.2 286.5 292.0 287.6 294.1 288.1M305.4 281.8C307.3 282.0 312.4 282.3 316.7 283.2C320.9 284.0 328.5 286.1 330.8 286.7M378.8 285.3C378.1 286.7 375.9 291.1 374.6 293.8C373.3 296.5 371.7 300.2 371.1 301.5M411.3 299.4C413.0 300.1 417.7 303.4 421.2 303.7C424.8 303.9 429.2 302.0 432.5 300.8C435.8 299.6 439.6 297.3 441.0 296.6M302.6 298.0C303.0 300.1 305.1 306.9 305.4 310.7C305.6 314.5 304.8 317.8 304.0 320.6C303.1 323.4 301.0 326.5 300.4 327.7M335.8 311.4C337.3 313.4 341.9 319.3 344.9 323.4C348.0 327.5 352.6 334.0 354.1 336.1M265.8 339.0L278.5 343.2M320.9 345.3C317.9 345.3 307.0 344.3 302.6 345.3C298.1 346.4 296.2 349.0 294.1 351.7C292.0 354.4 290.4 358.7 289.8 361.6C289.3 364.4 290.4 367.5 290.5 368.6M393.0 339.0C390.8 339.2 384.0 339.0 380.3 340.4C376.5 341.8 373.2 344.4 370.4 347.4C367.5 350.5 364.9 354.7 363.3 358.7C361.7 362.7 360.9 369.3 360.5 371.5M398.6 338.3C400.5 338.6 406.4 338.1 409.9 340.4C413.5 342.6 416.7 347.7 419.8 351.7C422.9 355.7 425.9 360.4 428.3 364.4C430.6 368.4 432.5 372.6 433.9 375.7C435.3 378.8 436.3 381.6 436.8 382.8M398.6 381.3L412.7 382.1M323.7 384.9L335.0 385.6M549.8 209.0L558.3 212.5M565.3 211.1L572.4 209.0M459.4 227.4C461.0 229.5 466.7 235.6 469.3 240.1C471.8 244.6 474.1 248.6 474.9 254.2C475.7 259.9 474.3 270.7 474.2 274.0M596.4 223.1L604.9 235.8M506.0 230.9C507.9 233.1 513.8 239.7 517.3 244.3C520.8 248.9 523.9 253.7 527.2 258.4C530.5 263.2 533.8 267.6 537.1 272.6C540.4 277.5 543.7 283.4 547.0 288.1C550.2 292.8 553.8 296.6 556.8 300.8C559.9 305.1 562.3 309.3 565.3 313.5C568.4 317.8 571.9 322.3 575.2 326.3C578.5 330.3 581.6 334.3 585.1 337.6C588.6 340.9 592.9 343.2 596.4 346.0C599.9 348.9 603.7 351.2 606.3 354.5C608.9 357.8 610.3 361.8 611.9 365.8C613.6 369.8 615.1 375.0 616.2 378.5C617.2 382.1 617.9 385.6 618.3 387.0M441.0 258.4L455.1 268.3M550.5 239.4L566.7 246.4M576.6 256.3C579.4 256.1 587.9 255.1 593.6 254.9C599.2 254.7 607.7 254.9 610.5 254.9M617.6 269.7L617.9 316.4M469.3 282.5C466.7 283.9 458.4 288.6 453.7 290.9C449.0 293.3 443.1 295.6 441.0 296.6M569.6 286.7L582.3 284.6M594.3 305.8L602.0 298.0M477.7 306.5C479.8 305.9 485.5 303.2 490.4 302.9C495.4 302.7 504.6 304.7 507.4 305.1M441.0 327.0C443.8 327.8 451.4 329.7 458.0 331.9C464.5 334.1 473.3 337.6 480.6 340.4C487.9 343.2 494.2 346.3 501.7 348.9C509.3 351.4 518.2 353.7 525.8 355.9C533.3 358.2 540.4 359.9 547.0 362.3C553.5 364.6 559.7 367.3 565.3 370.0C571.0 372.8 578.3 377.1 580.9 378.5M678.3 213.9C681.2 213.7 689.9 213.4 695.3 212.5C700.7 211.7 708.2 209.6 710.8 209.0M641.6 225.2C640.2 226.8 635.8 231.4 633.1 234.4C630.4 237.5 626.7 242.1 625.4 243.6M729.2 230.9C727.8 233.1 723.8 239.7 720.7 244.3C717.7 248.9 713.7 254.4 710.8 258.4C708.0 262.4 705.9 265.3 703.8 268.3C701.6 271.4 699.1 275.4 698.1 276.8M775.1 226.7C773.8 228.2 769.6 232.2 767.3 235.8C765.1 239.5 762.9 244.3 761.7 248.6C760.5 252.8 760.2 257.0 760.3 261.3C760.4 265.5 762.0 271.9 762.4 274.0M660.0 255.6C660.9 254.6 663.3 250.7 665.6 249.3C668.0 247.8 671.3 247.1 674.1 247.1C676.9 247.1 680.5 247.8 682.6 249.3C684.7 250.7 686.1 254.6 686.8 255.6M656.4 273.3C658.0 274.1 662.2 276.7 665.6 278.2C669.0 279.8 673.0 281.4 676.9 282.5C680.8 283.5 686.9 284.2 688.9 284.6M768.0 281.0C769.6 281.9 772.4 284.8 777.2 286.0C782.0 287.2 793.7 287.8 797.0 288.1M646.5 303.7L657.1 302.2M620.4 305.1C621.1 306.9 623.2 312.4 624.7 316.4C626.1 320.4 627.8 324.6 628.9 329.1C629.9 333.6 630.9 339.4 631.0 343.2C631.1 347.0 630.3 349.1 629.6 351.7C628.9 354.3 627.2 357.6 626.8 358.7M681.2 302.2C680.7 303.7 678.9 307.4 678.3 310.7C677.7 314.0 677.9 317.5 677.6 322.0C677.4 326.5 677.0 335.0 676.9 337.6M714.4 317.8L722.8 331.9M631.7 374.3C634.3 372.4 642.3 366.8 647.3 363.0C652.2 359.2 656.4 355.2 661.4 351.7C666.3 348.2 674.3 343.4 676.9 341.8M797.0 326.3C795.1 325.3 789.5 322.3 785.7 320.6C781.9 319.0 777.9 316.8 774.4 316.4C770.9 315.9 767.3 316.4 764.5 317.8C761.7 319.2 759.6 322.3 757.4 324.8C755.3 327.4 754.4 330.0 751.8 333.3C749.2 336.6 745.2 341.9 741.9 344.6C738.6 347.3 736.0 347.7 732.0 349.6C728.0 351.4 721.9 354.2 717.9 355.9C713.9 357.7 711.3 358.0 708.0 360.2C704.7 362.3 701.9 364.9 698.1 368.6C694.3 372.4 688.2 379.7 685.4 382.8C682.6 385.8 681.9 386.3 681.2 387.0M765.9 343.2L783.6 340.4M756.0 358.7C756.7 359.7 759.3 362.0 760.3 364.4C761.2 366.8 761.8 369.6 761.7 372.9C761.6 376.2 759.9 382.3 759.6 384.2M812.5 209.0C813.0 210.4 814.2 214.9 815.4 217.5C816.5 220.1 818.9 223.4 819.6 224.5M893.1 209.0C894.5 210.9 898.7 215.8 901.5 220.3C904.4 224.8 907.2 231.1 910.0 235.8C912.8 240.6 915.9 244.3 918.5 248.6C921.1 252.8 923.8 257.3 925.6 261.3C927.3 265.3 928.1 269.0 929.1 272.6C930.0 276.1 930.9 280.8 931.2 282.5M943.9 209.0C943.4 210.9 942.3 217.2 941.1 220.3C939.9 223.4 938.9 225.4 936.9 227.4C934.9 229.4 930.4 231.5 929.1 232.3M849.3 230.2L862.0 223.8M961.6 237.3C960.8 238.2 957.6 240.4 956.6 242.9C955.7 245.4 956.0 250.6 955.9 252.1M829.5 239.4C830.9 241.1 835.1 246.3 838.0 250.0C840.8 253.6 843.6 257.0 846.4 261.3C849.3 265.5 852.4 271.2 854.9 275.4C857.4 279.6 860.2 284.8 861.3 286.7M866.2 257.0L879.6 254.2M897.3 278.2L900.1 285.3M797.0 288.1L814.0 281.8M914.3 305.1C915.9 303.7 921.2 299.2 924.1 296.6C927.1 294.0 930.6 290.7 931.9 289.5M946.7 302.9C948.4 303.8 953.6 307.3 956.6 307.9C959.7 308.5 962.9 308.4 965.1 306.5C967.3 304.6 969.2 298.2 970.1 296.6M863.4 305.1C860.6 305.2 851.4 305.5 846.4 305.8C841.5 306.0 837.5 305.7 833.7 306.5C830.0 307.3 825.5 310.0 823.8 310.7M876.8 302.9C877.4 304.2 879.6 308.0 880.3 310.7C881.1 313.4 881.4 316.2 881.1 319.2C880.7 322.1 878.7 326.8 878.2 328.4M807.6 327.7C808.2 328.8 810.5 331.4 811.1 334.7C811.7 338.0 811.8 343.4 811.1 347.4C810.4 351.4 808.3 355.2 806.9 358.7C805.5 362.3 803.8 365.3 802.7 368.6C801.5 371.9 800.3 376.9 799.8 378.5M841.5 337.6C843.5 337.9 849.9 338.3 853.5 339.7C857.2 341.1 860.7 343.3 863.4 346.0C866.1 348.7 868.1 352.9 869.8 355.9C871.4 359.0 872.7 363.0 873.3 364.4M914.3 329.8C915.9 329.7 921.1 328.3 924.1 329.1C927.2 329.9 930.0 332.1 932.6 334.7C935.2 337.3 937.8 341.1 939.7 344.6C941.6 348.2 943.0 351.9 943.9 355.9C944.9 359.9 945.1 364.4 945.3 368.6C945.6 372.9 945.3 379.2 945.3 381.3M825.3 363.0L839.4 361.6M890.9 361.6C892.7 361.1 897.9 359.5 901.5 358.7C905.2 358.0 911.0 357.6 912.8 357.3M842.2 385.6L870.5 385.6M289.8 402.5C290.1 404.2 290.1 409.1 291.3 412.4C292.4 415.7 294.6 419.7 296.9 422.3C299.3 424.9 302.3 426.9 305.4 428.0C308.4 429.0 313.6 428.6 315.3 428.7M360.5 389.8C360.5 392.2 360.9 399.0 360.5 404.0C360.0 408.9 358.1 416.9 357.7 419.5M354.8 425.8C353.2 427.6 349.4 433.3 344.9 436.4C340.5 439.6 330.8 443.5 328.0 444.9M398.6 406.8L405.7 407.5M435.3 395.5C434.2 397.1 431.1 401.6 428.3 405.4C425.5 409.1 421.5 414.3 418.4 418.1C415.3 421.8 413.2 425.4 409.9 428.0C406.6 430.6 400.5 432.7 398.6 433.6M366.1 439.3C366.6 441.2 367.9 446.5 369.0 450.6C370.0 454.7 371.9 461.8 372.5 464.0M388.7 461.9C390.4 461.6 394.9 461.4 398.6 460.5C402.4 459.5 409.2 456.9 411.3 456.2M281.4 455.5C282.1 456.6 284.1 459.8 285.6 461.9C287.1 464.0 289.7 467.2 290.5 468.2M318.1 461.2C316.7 462.7 312.0 467.2 309.6 470.3C307.3 473.5 304.9 476.2 304.0 480.2C303.0 484.2 304.2 490.1 304.0 494.4C303.7 498.6 304.0 502.4 302.6 505.7C301.1 509.0 299.0 512.1 295.5 514.1C292.0 516.1 283.7 517.1 281.4 517.7M416.3 480.9C417.6 480.4 419.9 478.0 424.0 477.4C428.2 476.8 438.2 477.4 441.0 477.4M353.4 484.5C355.8 486.1 362.8 491.1 367.5 494.4C372.2 497.7 377.7 501.3 381.7 504.3C385.7 507.2 388.7 509.2 391.6 512.0C394.4 514.8 396.0 517.8 398.6 521.2C401.2 524.6 405.7 530.6 407.1 532.5M330.8 505.7C330.5 507.6 328.9 513.2 328.7 517.0C328.5 520.7 329.3 526.4 329.4 528.3M360.5 529.7L374.6 524.0M265.8 549.5L278.5 538.2M292.7 565.0C293.8 562.9 296.9 555.3 299.7 552.3C302.6 549.2 305.6 547.6 309.6 546.6C313.6 545.7 319.7 545.7 323.7 546.6C327.7 547.6 330.8 549.7 333.6 552.3C336.5 554.9 339.5 560.5 340.7 562.2M380.3 557.9L391.6 550.2M412.0 541.0C413.3 542.6 417.6 547.8 419.8 550.9C422.0 553.9 424.0 557.0 425.5 559.3C426.9 561.7 427.8 564.1 428.3 565.0M483.0 385.6L497.1 385.6M531.0 385.6L560.7 385.6M600.6 387.0C597.6 388.4 587.7 393.1 582.3 395.5C576.9 397.8 573.6 399.1 568.1 401.1C562.7 403.1 556.8 405.1 549.8 407.5C542.7 409.8 532.1 413.1 525.8 415.3C519.4 417.4 515.9 418.7 511.6 420.2C507.4 421.7 502.2 423.7 500.3 424.4M460.8 416.0L470.7 418.1M493.3 427.3C492.1 428.3 488.6 430.7 486.2 433.6C483.9 436.6 481.3 441.2 479.1 444.9C477.0 448.7 474.4 454.3 473.5 456.2M443.8 442.8L459.4 437.2M523.6 436.4L532.1 447.0M554.7 432.9C555.0 435.1 555.9 442.2 556.1 446.3C556.4 450.5 556.6 453.6 556.1 457.6C555.7 461.6 553.8 468.2 553.3 470.3M609.1 411.0C607.0 413.4 600.2 421.4 596.4 425.1C592.6 428.9 589.8 430.1 586.5 433.6C583.2 437.2 578.3 444.2 576.6 446.3M507.4 465.4C505.7 466.2 501.0 468.3 497.5 470.3C494.0 472.4 488.1 476.2 486.2 477.4M441.0 477.4C442.9 477.9 449.0 479.1 452.3 480.2C455.6 481.4 458.0 482.9 460.8 484.5C463.6 486.0 467.8 488.6 469.3 489.4M594.3 463.3C595.6 464.7 599.6 468.9 602.0 471.8C604.5 474.6 607.1 476.9 609.1 480.2C611.1 483.5 613.2 489.7 614.1 491.5M532.8 495.1C530.5 495.7 523.4 497.5 518.7 498.6C514.0 499.7 506.9 501.0 504.6 501.4M546.2 488.0L558.3 493.0M441.0 511.3L454.4 502.1M474.2 497.2C474.3 498.8 475.0 503.1 474.9 507.1C474.8 511.1 474.7 517.0 473.5 521.2C472.3 525.4 470.2 528.7 467.8 532.5C465.5 536.3 460.8 541.9 459.4 543.8M542.0 506.4C542.4 507.9 542.8 512.6 544.1 515.6C545.4 518.5 547.0 522.1 549.8 524.0C552.6 525.9 559.2 526.4 561.1 526.9M575.9 519.8C577.2 520.5 580.3 523.2 583.7 524.0C587.1 524.9 592.4 525.1 596.4 524.7C600.4 524.4 604.8 523.1 607.7 521.9C610.6 520.7 613.0 518.4 614.1 517.7M506.0 540.3C508.3 540.9 515.2 542.3 520.1 543.8C525.1 545.3 530.5 547.6 535.7 549.5C540.8 551.3 547.0 553.7 551.2 555.1C555.4 556.5 559.4 557.5 561.1 557.9M563.9 559.3L576.6 563.6M620.4 389.8C621.4 392.9 624.4 402.1 626.1 408.2C627.7 414.3 628.7 421.6 630.3 426.6C631.9 431.5 633.1 434.6 636.0 437.9C638.8 441.2 643.0 443.3 647.3 446.3C651.5 449.4 657.1 452.7 661.4 456.2C665.6 459.8 669.4 464.0 672.7 467.5C676.0 471.1 678.3 474.4 681.2 477.4C684.0 480.5 686.8 482.4 689.6 485.9C692.5 489.4 695.3 494.6 698.1 498.6C700.9 502.6 703.5 505.9 706.6 509.9C709.6 513.9 713.2 518.4 716.5 522.6C719.8 526.9 724.0 532.5 726.4 535.3C728.7 538.2 729.9 538.9 730.6 539.6M642.3 389.1C644.3 390.2 650.0 393.5 654.3 395.5C658.7 397.5 663.7 399.2 668.4 401.1C673.2 403.0 678.6 405.4 682.6 406.8C686.6 408.2 688.9 408.5 692.5 409.6C696.0 410.7 701.9 412.5 703.8 413.1M655.7 412.4C657.1 413.6 662.1 416.9 664.2 419.5C666.3 422.1 667.4 424.4 668.4 428.0C669.5 431.5 670.2 438.6 670.6 440.7M698.1 442.8C699.5 441.3 703.3 436.3 706.6 433.6C709.9 430.9 714.1 428.1 717.9 426.6C721.7 425.0 725.0 424.7 729.2 424.4C733.4 424.2 738.1 425.3 743.3 425.1C748.5 425.0 754.4 423.9 760.3 423.4C766.2 423.0 773.9 421.3 778.6 422.3C783.3 423.3 785.5 426.3 788.5 429.4C791.6 432.4 795.6 438.8 797.0 440.7M632.4 488.7L647.3 481.7M661.4 511.3L676.9 500.7M797.0 467.5C794.6 469.2 786.9 474.6 782.9 477.4C778.9 480.2 775.8 482.6 773.0 484.5C770.2 486.4 767.1 488.0 765.9 488.7M761.7 497.2C761.3 498.8 759.6 503.1 759.6 507.1C759.6 511.1 760.4 517.0 761.7 521.2C763.0 525.4 765.0 528.7 767.3 532.5C769.7 536.3 774.4 541.9 775.8 543.8M782.9 500.7L797.0 509.9M626.8 531.1L634.5 545.9M672.7 547.3L673.4 556.5M692.5 557.9C694.3 558.6 700.5 561.1 703.8 562.2C707.1 563.2 710.8 563.9 712.2 564.3M750.4 557.9L756.0 564.3M801.2 391.2C802.9 393.6 807.6 401.1 811.1 405.4C814.7 409.6 819.4 414.0 822.4 416.7C825.5 419.4 826.9 420.7 829.5 421.6C832.1 422.6 836.6 422.2 838.0 422.3M873.3 406.8L870.5 420.2M867.6 425.1C866.2 426.6 861.7 430.8 859.2 433.6C856.6 436.4 853.9 439.3 852.1 442.1C850.3 444.9 848.8 447.7 848.6 450.6C848.3 453.4 848.9 456.5 850.7 459.0C852.4 461.6 855.6 464.5 859.2 466.1C862.7 467.8 867.9 468.7 871.9 468.9C875.9 469.2 880.7 469.2 883.2 467.5C885.6 465.9 886.4 462.1 886.7 459.0C887.1 456.0 886.4 452.5 885.3 449.2C884.2 445.9 881.2 440.9 880.3 439.3M797.0 440.7C797.9 441.6 801.1 444.0 802.7 446.3C804.2 448.7 805.9 452.0 806.2 454.8C806.4 457.6 805.6 460.7 804.1 463.3C802.5 465.9 798.2 469.2 797.0 470.3M915.7 387.0C915.5 389.8 915.3 398.5 915.0 404.0C914.6 409.4 914.1 414.5 913.5 419.5C913.0 424.4 912.0 428.4 911.4 433.6C910.8 438.8 910.3 447.7 910.0 450.6M945.3 397.6C945.1 400.5 944.0 409.5 943.9 415.3C943.8 421.0 944.5 429.4 944.6 432.2M945.3 436.4C946.0 438.1 948.9 442.8 949.6 446.3C950.3 449.9 950.5 454.1 949.6 457.6C948.6 461.2 946.3 464.2 943.9 467.5C941.6 470.8 937.6 474.4 935.4 477.4C933.3 480.5 932.4 482.4 931.2 485.9C930.0 489.4 930.0 494.6 928.4 498.6C926.7 502.6 923.7 506.4 921.3 509.9C919.0 513.4 916.4 516.5 914.3 519.8C912.1 523.1 910.3 526.2 908.6 529.7C907.0 533.2 906.0 537.2 904.4 541.0C902.7 544.8 900.6 548.8 898.7 552.3C896.8 555.8 894.0 560.5 893.1 562.2M862.0 502.8C863.9 502.1 869.3 499.4 873.3 498.6C877.3 497.8 883.9 498.0 886.0 497.9M848.6 504.3C847.0 506.4 842.4 512.6 839.4 517.0C836.3 521.3 831.7 528.2 830.2 530.4M957.3 517.0C956.5 518.6 953.7 524.0 952.4 526.9C951.1 529.7 950.0 532.7 949.6 533.9M847.9 543.1L859.9 551.6M821.0 543.8C819.6 545.5 815.4 550.4 812.5 553.7C809.7 557.0 805.5 561.9 804.1 563.6M922.7 553.7L932.6 562.2M265.8 572.8L273.6 573.5M294.1 565.0C294.6 566.9 294.8 572.3 296.9 576.3C299.0 580.3 303.5 584.8 306.8 589.0C310.1 593.3 314.1 598.4 316.7 601.7C319.3 605.0 320.0 605.5 322.3 608.8C324.7 612.1 328.0 617.3 330.8 621.5C333.6 625.7 336.0 630.9 339.3 634.2C342.6 637.5 346.8 640.1 350.6 641.3C354.4 642.5 358.4 642.0 361.9 641.3C365.4 640.6 369.4 639.9 371.8 637.0C374.1 634.2 375.3 628.8 376.0 624.3C376.7 619.9 376.7 614.2 376.0 610.2C375.3 606.2 373.7 603.1 371.8 600.3C369.9 597.5 365.9 594.4 364.7 593.3M426.9 565.0C427.2 567.4 429.0 574.7 429.0 579.1C429.0 583.6 428.6 587.8 426.9 591.8C425.1 595.8 419.8 601.3 418.4 603.1M287.0 629.3L296.9 622.2M311.0 647.6L314.6 641.3M393.7 621.5C395.0 622.4 398.7 624.3 401.4 627.2C404.2 630.0 407.1 634.7 409.9 638.5C412.7 642.2 415.1 646.5 418.4 649.8C421.7 653.1 425.9 656.1 429.7 658.2C433.5 660.4 439.1 661.8 441.0 662.5M265.8 662.5C268.2 663.2 275.2 664.8 280.0 666.7C284.7 668.6 289.8 671.4 294.1 673.8C298.3 676.1 302.6 678.5 305.4 680.8C308.2 683.2 308.7 685.1 311.0 687.9C313.4 690.7 316.4 694.3 319.5 697.8C322.6 701.3 327.7 707.2 329.4 709.1M336.5 675.2C337.2 673.8 338.6 669.2 340.7 666.7C342.8 664.2 347.8 661.4 349.2 660.4M374.6 671.7L383.1 668.8M398.6 682.3C397.2 683.9 393.4 687.7 390.1 692.1C386.8 696.6 380.7 706.3 378.8 709.1M418.4 693.6C419.6 694.5 424.3 696.4 425.5 699.2C426.6 702.0 426.4 706.7 425.5 710.5C424.5 714.3 421.9 718.4 419.8 721.8C417.7 725.2 413.9 729.5 412.7 731.0M287.7 719.0L301.1 709.8M344.9 717.6C346.0 716.2 349.3 712.0 351.3 709.1C353.3 706.2 356.0 701.4 356.9 699.9M308.2 737.3L318.1 728.9M373.2 736.6L383.1 723.2M448.1 567.8C449.9 568.1 456.1 568.3 459.4 569.2C462.7 570.2 465.8 571.1 467.8 573.5C469.8 575.8 471.1 580.1 471.4 583.4C471.6 586.7 470.8 589.7 469.3 593.3C467.7 596.8 464.5 600.8 462.2 604.6C459.8 608.3 457.7 612.1 455.1 615.9C452.5 619.6 448.1 625.3 446.7 627.2M506.0 578.4C506.9 577.1 508.8 572.9 511.6 570.7C514.5 568.4 521.1 565.9 522.9 565.0M544.8 570.7C544.0 572.3 541.5 577.1 539.9 580.5C538.2 584.0 535.8 589.4 534.9 591.1M572.4 565.0C574.0 566.4 578.7 570.4 582.3 573.5C585.8 576.5 589.3 579.8 593.6 583.4C597.8 586.9 605.3 592.8 607.7 594.7M552.6 601.0L549.8 613.0M474.9 610.2C477.0 610.9 482.4 612.9 487.6 614.4C492.8 616.0 502.9 618.6 506.0 619.4M522.9 639.9L529.3 631.4M548.4 634.2C550.2 634.7 555.9 636.1 559.7 637.0C563.4 638.0 566.7 638.5 571.0 639.9C575.2 641.3 580.4 643.6 585.1 645.5C589.8 647.4 594.0 649.6 599.2 651.2C604.4 652.7 613.3 654.1 616.2 654.7M546.2 656.1L543.4 669.5M441.0 662.5C443.1 663.2 450.2 665.4 453.7 666.7C457.2 668.0 459.6 668.8 462.2 670.2C464.8 671.7 468.1 674.4 469.3 675.2M507.4 695.7C505.7 694.6 501.0 690.8 497.5 689.3C494.0 687.8 490.0 686.7 486.2 686.5C482.4 686.3 478.4 686.7 474.9 687.9C471.4 689.1 467.8 691.0 465.0 693.6C462.2 696.1 459.2 699.9 458.0 703.4C456.7 707.0 456.8 711.4 457.2 714.7C457.7 718.0 458.8 720.9 460.8 723.2C462.8 725.6 465.5 727.2 469.3 728.9C473.0 730.5 478.2 731.8 483.4 733.1C488.6 734.4 497.5 736.1 500.3 736.6M534.2 703.4C535.4 703.9 538.7 704.7 541.3 706.3C543.9 707.8 548.4 711.6 549.8 712.6M566.7 711.2C568.1 712.0 571.4 714.9 575.2 716.2C579.0 717.5 582.5 718.9 589.3 719.0C596.2 719.1 611.7 717.2 616.2 716.9M531.4 721.8C531.2 723.2 530.6 727.7 530.0 730.3C529.4 732.9 528.2 736.2 527.9 737.3M661.4 570.7C660.9 572.5 659.3 578.2 658.6 582.0C657.8 585.7 657.1 589.5 657.1 593.3C657.1 597.0 658.3 602.7 658.6 604.6M684.0 572.1C684.9 573.9 688.1 579.5 689.6 583.4C691.2 587.2 692.6 593.4 693.2 595.4M637.4 591.1C636.7 592.2 634.1 595.3 633.1 597.5C632.2 599.7 631.9 603.4 631.7 604.6M712.2 565.0C713.9 565.9 719.3 568.1 722.1 570.7C725.0 573.2 728.0 578.9 729.2 580.5M757.4 565.0C758.2 566.4 760.5 570.2 761.7 573.5C762.9 576.8 763.3 581.2 764.5 584.8C765.7 588.3 768.0 593.0 768.7 594.7M795.6 579.1C794.9 581.0 793.0 587.1 791.3 590.4C789.7 593.7 787.8 596.7 785.7 598.9C783.6 601.1 779.8 603.0 778.6 603.8M620.4 633.5C622.1 633.0 626.5 630.7 630.3 630.7C634.1 630.7 639.2 632.5 643.0 633.5C646.8 634.6 649.4 636.3 652.9 637.0C656.4 637.8 659.7 638.0 664.2 637.8C668.7 637.5 677.2 636.0 679.7 635.6M764.5 639.9C763.3 638.5 760.0 633.8 757.4 631.4C754.9 629.0 752.3 627.3 749.0 625.7C745.7 624.2 741.4 622.9 737.7 622.2C733.9 621.5 730.1 621.0 726.4 621.5C722.6 622.0 716.9 624.5 715.1 625.0M697.4 632.8L702.3 645.5M729.9 645.5L735.5 656.8M664.2 657.5C664.1 659.1 663.4 663.2 663.5 666.7C663.6 670.2 664.7 676.7 664.9 678.7M687.5 656.8C687.9 658.0 689.0 661.5 689.6 663.9C690.2 666.2 690.8 669.8 691.0 671.0M715.1 673.1L717.2 678.7M795.6 662.5C793.7 663.2 788.1 664.9 784.3 666.7C780.5 668.5 774.9 672.0 773.0 673.1M634.5 693.6C633.8 695.2 632.4 699.7 630.3 703.4C628.2 707.2 623.2 714.0 621.8 716.2M686.8 697.8C687.8 698.6 689.6 701.8 692.5 702.7C695.3 703.7 701.9 703.3 703.8 703.4M669.9 711.9C668.4 712.6 664.4 714.7 661.4 716.2C658.3 717.6 654.8 719.6 651.5 720.4C648.2 721.2 643.3 721.0 641.6 721.1M729.2 695.7C730.8 694.7 735.3 691.3 739.1 690.0C742.8 688.7 747.8 687.8 751.8 687.9C755.8 688.0 759.8 688.8 763.1 690.7C766.4 692.6 769.7 695.9 771.6 699.2C773.5 702.5 774.2 707.0 774.4 710.5C774.6 714.0 774.2 717.6 773.0 720.4C771.8 723.2 770.4 725.3 767.3 727.5C764.3 729.6 760.0 731.5 754.6 733.1C749.2 734.8 738.1 736.6 734.8 737.3M703.1 722.5C703.5 724.0 705.2 729.2 705.9 731.7C706.6 734.2 707.1 736.4 707.3 737.3M805.5 565.0C804.5 566.4 801.2 570.9 799.8 573.5C798.4 576.1 797.5 579.4 797.0 580.5M828.1 567.8C829.0 569.0 832.1 573.0 833.7 574.9C835.4 576.8 837.3 578.4 838.0 579.1M936.9 565.0L937.6 572.1M880.3 581.2C879.2 582.8 876.1 587.0 873.3 590.4C870.5 593.8 866.2 598.0 863.4 601.7C860.6 605.5 857.9 609.3 856.3 613.0C854.8 616.8 854.8 621.0 854.2 624.3C853.6 627.6 853.6 630.2 852.8 632.8C852.0 635.4 851.5 638.2 849.3 639.9C847.0 641.5 843.4 641.6 839.4 642.7C835.4 643.8 829.5 644.8 825.3 646.2C821.0 647.6 818.7 648.5 814.0 651.2C809.2 653.9 799.8 660.6 797.0 662.5M917.1 603.8C918.3 602.1 921.8 595.7 924.1 593.3C926.5 590.8 927.4 589.1 931.2 589.0C935.0 588.9 944.2 592.0 946.7 592.5M821.0 609.5C821.7 610.4 822.8 613.9 825.3 615.2C827.7 616.4 834.1 616.9 835.8 617.3M881.8 610.2C882.7 611.4 885.1 615.4 887.4 617.3C889.8 619.2 893.4 620.7 895.9 621.5C898.4 622.3 901.2 622.1 902.2 622.2M941.1 618.0C943.0 619.3 947.6 621.9 952.4 625.7C957.2 629.6 967.1 638.7 970.1 641.3M846.4 669.5C848.1 667.9 852.8 662.7 856.3 659.7C859.9 656.6 863.4 652.9 867.6 651.2C871.9 649.4 876.6 649.4 881.8 649.1C886.9 648.7 894.7 648.2 898.7 649.1C902.7 649.9 903.9 651.5 905.8 654.0C907.7 656.5 909.3 661.1 910.0 663.9C910.7 666.7 910.0 669.8 910.0 671.0M970.8 654.0C967.7 655.4 958.3 660.1 952.4 662.5C946.5 664.8 939.2 666.5 935.4 668.1C931.7 669.8 931.4 670.5 929.8 672.4C928.1 674.2 926.3 678.3 925.6 679.4M839.4 683.0C841.0 685.0 846.0 690.8 849.3 695.0C852.6 699.1 857.5 705.6 859.2 707.7M819.6 693.6L822.4 702.0M885.3 693.6C886.4 695.0 889.5 699.0 891.7 702.0C893.8 705.1 896.9 710.3 898.0 711.9M914.3 701.3C915.7 700.6 918.7 697.3 922.7 697.1C926.7 696.9 933.8 698.4 938.3 699.9C942.7 701.4 946.3 703.9 949.6 706.3C952.9 708.6 956.6 712.7 958.0 714.0M804.1 701.3C803.6 702.9 801.5 707.3 801.2 710.5C801.0 713.7 801.5 717.1 802.7 720.4C803.8 723.7 806.4 727.6 808.3 730.3C810.2 733.0 813.0 735.6 814.0 736.6M835.8 728.2L842.2 736.6M913.5 715.5C915.3 717.0 920.7 721.3 924.1 724.6C927.6 727.9 932.4 733.5 934.0 735.2" fill="none" stroke="#fdf4fd" stroke-width="2.6" stroke-linecap="round" stroke-linejoin="round" stroke-opacity="0.92"/><path d="M342.5 50.5L337.3 58.4L333.4 53.3zM425.8 72.9L431.0 64.9L434.9 69.9zM308.8 131.6L300.8 126.3L305.9 122.4zM366.6 175.1L368.7 165.8L374.1 169.2zM353.7 131.0L344.8 134.6L344.5 128.2zM476.4 64.4L471.4 56.3L477.7 54.9zM538.1 64.5L530.9 70.8L528.5 64.9zM470.5 94.0L463.8 100.9L461.0 95.1zM482.7 117.2L476.8 124.8L473.4 119.4zM599.3 92.5L596.7 101.7L591.4 98.0zM571.2 133.0L562.8 137.5L561.8 131.1zM507.5 150.5L499.9 156.3L497.9 150.3zM569.4 208.2L572.4 199.1L577.5 203.0zM777.3 62.3L772.6 53.9L778.9 52.9zM674.3 60.9L664.7 60.9L666.9 54.9zM778.8 91.1L769.4 92.7L770.5 86.4zM685.6 134.7L677.5 129.5L682.6 125.6zM661.6 132.8L652.8 136.2L652.6 129.8zM736.3 153.2L726.8 154.1L728.3 147.9zM666.8 207.0L659.0 201.5L664.2 197.8zM815.7 76.6L807.1 72.5L811.6 67.9zM908.7 59.1L899.1 58.9L901.4 52.9zM933.0 94.9L924.3 90.8L928.9 86.3zM860.4 109.3L850.9 108.1L853.7 102.4zM837.8 147.3L828.5 145.4L831.8 140.0zM890.2 133.1L880.7 132.5L883.2 126.6zM863.3 167.4L871.0 173.0L865.8 176.6zM343.2 209.3L339.1 218.0L334.5 213.5zM403.1 243.6L401.3 253.0L395.8 249.7zM360.8 370.2L359.6 360.7L365.8 362.1zM434.0 375.8L427.1 369.1L432.8 366.3zM474.3 270.0L471.5 260.9L477.9 261.1zM537.0 272.4L529.2 266.9L534.4 263.2zM557.7 301.9L549.7 296.8L554.7 292.9zM598.4 347.5L589.3 344.7L593.1 339.6zM449.8 293.1L456.1 286.0L459.2 291.6zM486.2 342.6L476.7 342.3L479.0 336.3zM541.4 360.6L531.9 361.1L533.7 355.0zM700.2 273.7L702.5 264.4L707.8 268.0zM761.5 268.7L756.9 260.3L763.2 259.3zM676.4 342.1L670.5 349.6L667.1 344.2zM752.8 331.8L755.1 322.6L760.4 326.1zM704.1 361.8L711.1 355.3L713.7 361.2zM816.7 221.5L810.8 214.0L816.9 212.0zM914.3 242.2L906.6 236.5L911.9 232.9zM837.7 249.6L829.6 244.6L834.6 240.6zM822.3 311.4L829.4 304.9L831.9 310.8zM799.8 378.7L799.2 369.2L805.3 371.0zM945.0 366.0L940.9 357.4L947.2 356.7zM428.0 405.8L430.6 396.6L435.8 400.4zM282.5 517.4L290.4 512.1L292.0 518.3zM395.1 514.8L386.0 511.8L390.0 506.7zM342.2 564.2L334.3 558.8L339.5 555.0zM427.2 562.0L419.5 556.2L424.9 552.7zM551.2 407.0L558.7 401.0L560.8 407.1zM500.3 424.4L507.6 418.3L509.9 424.3zM553.3 470.6L552.1 461.1L558.3 462.5zM578.2 444.3L581.2 435.2L586.2 439.2zM464.8 486.5L455.3 485.3L458.2 479.6zM475.0 508.7L471.2 500.0L477.6 499.5zM615.7 516.6L610.0 524.2L606.4 518.9zM555.4 556.6L545.9 556.6L548.1 550.6zM635.4 436.8L628.5 430.2L634.3 427.3zM681.5 477.8L673.2 473.1L678.1 468.9zM702.0 503.8L694.0 498.5L699.2 494.7zM689.7 408.8L680.2 409.4L681.9 403.3zM763.4 423.1L754.8 427.2L754.1 420.8zM776.7 481.8L782.1 474.0L785.9 479.2zM758.9 510.0L757.7 500.5L764.0 501.9zM806.3 398.4L798.5 392.9L803.7 389.2zM860.2 432.6L864.3 423.9L868.8 428.5zM879.7 438.1L886.6 444.7L880.9 447.6zM910.9 439.5L908.5 430.3L914.9 430.8zM948.9 444.7L942.4 437.7L948.3 435.1zM906.7 533.0L908.4 523.6L914.0 526.8zM803.7 564.0L807.2 555.1L812.0 559.2zM365.4 594.0L374.0 598.1L369.5 602.6zM356.5 641.3L347.5 644.5L347.5 638.1zM402.6 628.0L393.4 625.3L397.2 620.1zM308.5 684.8L300.4 679.8L305.4 675.8zM425.5 705.1L422.3 696.1L428.7 696.1zM490.8 687.6L500.3 686.7L498.8 692.9zM461.5 725.0L455.1 717.9L461.0 715.4zM572.5 640.3L563.0 641.2L564.6 635.0zM463.7 670.9L454.1 670.4L456.6 664.5zM576.1 716.7L566.7 714.9L569.9 709.4zM670.1 636.9L661.7 641.3L660.8 635.0zM719.1 623.8L726.7 618.0L728.6 624.2zM738.3 690.5L732.0 697.7L728.9 692.2zM873.0 590.9L875.9 581.8L881.0 585.7zM852.1 637.2L850.4 627.8L856.7 628.9zM880.6 649.2L872.2 653.7L871.2 647.4zM926.2 675.1L931.5 667.1L935.3 672.2zM923.6 696.6L917.0 703.5L914.2 697.8z" fill="#fdf4fd" fill-opacity="0.95"/></g>
<rect x="263.52" y="30.96" width="708.96" height="708.48" fill="none" stroke="#000" stroke-width="2.9"/>
<path d="M263.52 739.44v7.6M263.52 739.44h-7.6M293.06 739.44v7.6M263.52 709.92h-7.6M322.60 739.44v12.5M263.52 680.40h-12.5M352.14 739.44v7.6M263.52 650.88h-7.6M381.68 739.44v7.6M263.52 621.36h-7.6M411.22 739.44v7.6M263.52 591.84h-7.6M440.76 739.44v7.6M263.52 562.32h-7.6M470.30 739.44v12.5M263.52 532.80h-12.5M499.84 739.44v7.6M263.52 503.28h-7.6M529.38 739.44v7.6M263.52 473.76h-7.6M558.92 739.44v7.6M263.52 444.24h-7.6M588.46 739.44v7.6M263.52 414.72h-7.6M618.00 739.44v12.5M263.52 385.20h-12.5M647.54 739.44v7.6M263.52 355.68h-7.6M677.08 739.44v7.6M263.52 326.16h-7.6M706.62 739.44v7.6M263.52 296.64h-7.6M736.16 739.44v7.6M263.52 267.12h-7.6M765.70 739.44v12.5M263.52 237.60h-12.5M795.24 739.44v7.6M263.52 208.08h-7.6M824.78 739.44v7.6M263.52 178.56h-7.6M854.32 739.44v7.6M263.52 149.04h-7.6M883.86 739.44v7.6M263.52 119.52h-7.6M913.40 739.44v12.5M263.52 90.00h-12.5M942.94 739.44v7.6M263.52 60.48h-7.6M972.48 739.44v7.6M263.52 30.96h-7.6" stroke="#000" stroke-width="2.6" fill="none"/>
<rect x="1003.5" y="132.9" width="32.0" height="504.7" fill="url(#cbga)" stroke="#000" stroke-width="2.8"/>
<path d="M1035.5 637.60h11" stroke="#000" stroke-width="2.5"/>
<path d="M1035.5 536.66h11" stroke="#000" stroke-width="2.5"/>
<path d="M1035.5 435.72h11" stroke="#000" stroke-width="2.5"/>
<path d="M1035.5 334.78h11" stroke="#000" stroke-width="2.5"/>
<path d="M1035.5 233.84h11" stroke="#000" stroke-width="2.5"/>
<path d="M1035.5 132.90h11" stroke="#000" stroke-width="2.5"/>
<clipPath id="clipb"><rect x="263.52" y="930.96" width="708.96" height="708.48"/></clipPath>
<g clip-path="url(#clipb)"><g filter="url(#cmb)">
<g transform="translate(236.93 904.39) scale(8.8620 8.8560)" shape-rendering="crispEdges">
<rect x="-2" y="-2" width="90" height="90" fill="#000"/>
<path fill="#010101" d="M18 0h20v1h-20zM48 0h20v1h-20zM16 1h13v1h-13zM57 1h13v1h-13zM14 2h13v1h-13zM59 2h13v1h-13zM13 3h13v1h-13zM60 3h13v1h-13zM12 4h12v1h-12zM62 4h12v1h-12zM11 5h11v1h-11zM64 5h11v1h-11zM10 6h10v1h-10zM66 6h10v1h-10zM9 7h9v1h-9zM68 7h9v1h-9zM8 8h8v1h-8zM70 8h8v1h-8zM7 9h9v1h-9zM70 9h9v1h-9zM6 10h9v1h-9zM71 10h9v1h-9zM5 11h9v1h-9zM72 11h9v1h-9zM4 12h9v1h-9zM73 12h9v1h-9zM3 13h9v1h-9zM74 13h9v1h-9zM2 14h8v1h-8zM76 14h8v1h-8zM1 15h8v1h-8zM77 15h8v1h-8zM1 16h7v1h-7zM78 16h7v1h-7zM1 17h7v1h-7zM78 17h7v1h-7zM0 18h7v1h-7zM79 18h7v1h-7zM0 19h6v1h-6zM80 19h6v1h-6zM0 20h6v1h-6zM80 20h6v1h-6zM0 21h6v1h-6zM80 21h6v1h-6zM0 22h5v1h-5zM81 22h5v1h-5zM0 23h5v1h-5zM81 23h5v1h-5zM0 24h4v1h-4zM82 24h4v1h-4zM0 25h4v1h-4zM82 25h4v1h-4zM0 26h3v1h-3zM83 26h3v1h-3zM0 27h3v1h-3zM83 27h3v1h-3zM0 28h2v1h-2zM84 28h2v1h-2zM0 29h1v1h-1zM85 29h1v1h-1zM0 30h1v1h-1zM85 30h1v1h-1zM0 31h1v1h-1zM85 31h1v1h-1zM0 32h1v1h-1zM85 32h1v1h-1zM0 33h1v1h-1zM85 33h1v1h-1zM0 34h1v1h-1zM85 34h1v1h-1zM0 35h1v1h-1zM85 35h1v1h-1zM0 36h1v1h-1zM85 36h1v1h-1zM0 37h1v1h-1zM85 37h1v1h-1zM42 38h2v1h-2zM41 39h4v1h-4zM40 40h1v1h-1zM42 40h2v1h-2zM45 40h1v1h-1zM39 41h2v1h-2zM45 41h2v1h-2zM39 42h1v1h-1zM46 42h1v1h-1zM39 43h1v1h-1zM46 43h1v1h-1zM39 44h2v1h-2zM45 44h2v1h-2zM40 45h1v1h-1zM42 45h2v1h-2zM45 45h1v1h-1zM41 46h4v1h-4zM42 47h2v1h-2zM0 48h1v1h-1zM85 48h1v1h-1zM0 49h1v1h-1zM85 49h1v1h-1zM0 50h1v1h-1zM85 50h1v1h-1zM0 51h1v1h-1zM85 51h1v1h-1zM0 52h1v1h-1zM85 52h1v1h-1zM0 53h1v1h-1zM85 53h1v1h-1zM0 54h1v1h-1zM85 54h1v1h-1zM0 55h1v1h-1zM85 55h1v1h-1zM0 56h1v1h-1zM85 56h1v1h-1zM0 57h2v1h-2zM84 57h2v1h-2zM0 58h3v1h-3zM83 58h3v1h-3zM0 59h3v1h-3zM83 59h3v1h-3zM0 60h4v1h-4zM82 60h4v1h-4zM0 61h4v1h-4zM82 61h4v1h-4zM0 62h5v1h-5zM81 62h5v1h-5zM0 63h5v1h-5zM81 63h5v1h-5zM0 64h6v1h-6zM80 64h6v1h-6zM0 65h6v1h-6zM80 65h6v1h-6zM0 66h6v1h-6zM80 66h6v1h-6zM0 67h7v1h-7zM79 67h7v1h-7zM1 68h7v1h-7zM78 68h7v1h-7zM1 69h7v1h-7zM78 69h7v1h-7zM1 70h8v1h-8zM77 70h8v1h-8zM2 71h8v1h-8zM76 71h8v1h-8zM3 72h9v1h-9zM74 72h9v1h-9zM4 73h9v1h-9zM73 73h9v1h-9zM5 74h9v1h-9zM72 74h9v1h-9zM6 75h9v1h-9zM71 75h9v1h-9zM7 76h9v1h-9zM70 76h9v1h-9zM8 77h8v1h-8zM70 77h8v1h-8zM9 78h9v1h-9zM68 78h9v1h-9zM10 79h10v1h-10zM66 79h10v1h-10zM11 80h11v1h-11zM64 80h11v1h-11zM12 81h12v1h-12zM62 81h12v1h-12zM13 82h13v1h-13zM60 82h13v1h-13zM14 83h13v1h-13zM59 83h13v1h-13zM16 84h13v1h-13zM57 84h13v1h-13zM18 85h20v1h-20zM48 85h20v1h-20z"/>
<path fill="#020202" d="M38 0h10v1h-10zM29 1h28v1h-28zM27 2h32v1h-32zM26 3h13v1h-13zM47 3h13v1h-13zM24 4h9v1h-9zM53 4h9v1h-9zM22 5h7v1h-7zM57 5h7v1h-7zM20 6h7v1h-7zM59 6h7v1h-7zM18 7h7v1h-7zM61 7h7v1h-7zM16 8h7v1h-7zM63 8h7v1h-7zM16 9h5v1h-5zM65 9h5v1h-5zM15 10h5v1h-5zM66 10h5v1h-5zM14 11h4v1h-4zM68 11h4v1h-4zM13 12h4v1h-4zM69 12h4v1h-4zM12 13h4v1h-4zM70 13h4v1h-4zM10 14h5v1h-5zM71 14h5v1h-5zM9 15h5v1h-5zM72 15h5v1h-5zM8 16h5v1h-5zM73 16h5v1h-5zM8 17h4v1h-4zM74 17h4v1h-4zM7 18h4v1h-4zM75 18h4v1h-4zM6 19h5v1h-5zM75 19h5v1h-5zM6 20h4v1h-4zM76 20h4v1h-4zM6 21h3v1h-3zM77 21h3v1h-3zM5 22h4v1h-4zM77 22h4v1h-4zM5 23h3v1h-3zM78 23h3v1h-3zM4 24h4v1h-4zM78 24h4v1h-4zM4 25h3v1h-3zM79 25h3v1h-3zM3 26h4v1h-4zM79 26h4v1h-4zM3 27h3v1h-3zM80 27h3v1h-3zM2 28h4v1h-4zM80 28h4v1h-4zM1 29h4v1h-4zM81 29h4v1h-4zM1 30h4v1h-4zM81 30h4v1h-4zM1 31h4v1h-4zM81 31h4v1h-4zM1 32h4v1h-4zM81 32h4v1h-4zM1 33h3v1h-3zM82 33h3v1h-3zM1 34h3v1h-3zM82 34h3v1h-3zM1 35h3v1h-3zM82 35h3v1h-3zM1 36h3v1h-3zM42 36h2v1h-2zM82 36h3v1h-3zM1 37h3v1h-3zM39 37h1v1h-1zM46 37h1v1h-1zM82 37h3v1h-3zM0 38h4v1h-4zM40 38h1v1h-1zM45 38h1v1h-1zM82 38h4v1h-4zM0 39h3v1h-3zM39 39h2v1h-2zM45 39h2v1h-2zM83 39h3v1h-3zM0 40h3v1h-3zM36 40h1v1h-1zM38 40h2v1h-2zM46 40h2v1h-2zM49 40h1v1h-1zM83 40h3v1h-3zM0 41h3v1h-3zM36 41h1v1h-1zM38 41h1v1h-1zM47 41h1v1h-1zM49 41h1v1h-1zM83 41h3v1h-3zM0 42h3v1h-3zM38 42h1v1h-1zM47 42h1v1h-1zM83 42h3v1h-3zM0 43h3v1h-3zM38 43h1v1h-1zM47 43h1v1h-1zM83 43h3v1h-3zM0 44h3v1h-3zM36 44h1v1h-1zM38 44h1v1h-1zM47 44h1v1h-1zM49 44h1v1h-1zM83 44h3v1h-3zM0 45h3v1h-3zM36 45h1v1h-1zM38 45h2v1h-2zM46 45h2v1h-2zM49 45h1v1h-1zM83 45h3v1h-3zM0 46h3v1h-3zM39 46h2v1h-2zM45 46h2v1h-2zM83 46h3v1h-3zM0 47h4v1h-4zM40 47h1v1h-1zM45 47h1v1h-1zM82 47h4v1h-4zM1 48h3v1h-3zM39 48h1v1h-1zM46 48h1v1h-1zM82 48h3v1h-3zM1 49h3v1h-3zM42 49h2v1h-2zM82 49h3v1h-3zM1 50h3v1h-3zM82 50h3v1h-3zM1 51h3v1h-3zM82 51h3v1h-3zM1 52h3v1h-3zM82 52h3v1h-3zM1 53h4v1h-4zM81 53h4v1h-4zM1 54h4v1h-4zM81 54h4v1h-4zM1 55h4v1h-4zM81 55h4v1h-4zM1 56h4v1h-4zM81 56h4v1h-4zM2 57h4v1h-4zM80 57h4v1h-4zM3 58h3v1h-3zM80 58h3v1h-3zM3 59h4v1h-4zM79 59h4v1h-4zM4 60h3v1h-3zM79 60h3v1h-3zM4 61h4v1h-4zM78 61h4v1h-4zM5 62h3v1h-3zM78 62h3v1h-3zM5 63h4v1h-4zM77 63h4v1h-4zM6 64h3v1h-3zM77 64h3v1h-3zM6 65h4v1h-4zM76 65h4v1h-4zM6 66h5v1h-5zM75 66h5v1h-5zM7 67h4v1h-4zM75 67h4v1h-4zM8 68h4v1h-4zM74 68h4v1h-4zM8 69h5v1h-5zM73 69h5v1h-5zM9 70h5v1h-5zM72 70h5v1h-5zM10 71h5v1h-5zM71 71h5v1h-5zM12 72h4v1h-4zM70 72h4v1h-4zM13 73h4v1h-4zM69 73h4v1h-4zM14 74h4v1h-4zM68 74h4v1h-4zM15 75h5v1h-5zM66 75h5v1h-5zM16 76h5v1h-5zM65 76h5v1h-5zM16 77h7v1h-7zM63 77h7v1h-7zM18 78h7v1h-7zM61 78h7v1h-7zM20 79h7v1h-7zM59 79h7v1h-7zM22 80h7v1h-7zM57 80h7v1h-7zM24 81h9v1h-9zM53 81h9v1h-9zM26 82h13v1h-13zM47 82h13v1h-13zM27 83h32v1h-32zM29 84h28v1h-28zM38 85h10v1h-10z"/>
<path fill="#030303" d="M39 3h8v1h-8zM33 4h3v1h-3zM50 4h3v1h-3zM29 5h3v1h-3zM54 5h3v1h-3zM27 6h2v1h-2zM57 6h2v1h-2zM25 7h2v1h-2zM59 7h2v1h-2zM23 8h2v1h-2zM61 8h2v1h-2zM21 9h2v1h-2zM63 9h2v1h-2zM20 10h1v1h-1zM65 10h1v1h-1zM18 11h2v1h-2zM66 11h2v1h-2zM17 12h1v1h-1zM68 12h1v1h-1zM16 13h1v1h-1zM69 13h1v1h-1zM15 14h1v1h-1zM70 14h1v1h-1zM14 15h1v1h-1zM71 15h1v1h-1zM13 16h1v1h-1zM72 16h1v1h-1zM12 17h1v1h-1zM73 17h1v1h-1zM11 18h1v1h-1zM74 18h1v1h-1zM11 19h1v1h-1zM74 19h1v1h-1zM10 20h1v1h-1zM75 20h1v1h-1zM9 21h1v1h-1zM76 21h1v1h-1zM9 22h1v1h-1zM76 22h1v1h-1zM8 23h1v1h-1zM77 23h1v1h-1zM8 24h1v1h-1zM77 24h1v1h-1zM7 25h1v1h-1zM78 25h1v1h-1zM7 26h1v1h-1zM78 26h1v1h-1zM6 27h1v1h-1zM79 27h1v1h-1zM6 28h1v1h-1zM79 28h1v1h-1zM5 29h1v1h-1zM80 29h1v1h-1zM5 30h1v1h-1zM80 30h1v1h-1zM4 33h1v1h-1zM81 33h1v1h-1zM4 34h1v1h-1zM81 34h1v1h-1zM4 35h1v1h-1zM81 35h1v1h-1zM40 37h1v1h-1zM42 37h2v1h-2zM45 37h1v1h-1zM38 38h1v1h-1zM41 38h1v1h-1zM44 38h1v1h-1zM47 38h1v1h-1zM3 39h1v1h-1zM82 39h1v1h-1zM3 40h1v1h-1zM37 40h1v1h-1zM48 40h1v1h-1zM82 40h1v1h-1zM3 41h1v1h-1zM37 41h1v1h-1zM48 41h1v1h-1zM82 41h1v1h-1zM3 42h1v1h-1zM37 42h1v1h-1zM48 42h1v1h-1zM82 42h1v1h-1zM3 43h1v1h-1zM37 43h1v1h-1zM48 43h1v1h-1zM82 43h1v1h-1zM3 44h1v1h-1zM37 44h1v1h-1zM48 44h1v1h-1zM82 44h1v1h-1zM3 45h1v1h-1zM37 45h1v1h-1zM48 45h1v1h-1zM82 45h1v1h-1zM3 46h1v1h-1zM82 46h1v1h-1zM38 47h1v1h-1zM41 47h1v1h-1zM44 47h1v1h-1zM47 47h1v1h-1zM40 48h1v1h-1zM42 48h2v1h-2zM45 48h1v1h-1zM4 50h1v1h-1zM81 50h1v1h-1zM4 51h1v1h-1zM81 51h1v1h-1zM4 52h1v1h-1zM81 52h1v1h-1zM5 55h1v1h-1zM80 55h1v1h-1zM5 56h1v1h-1zM80 56h1v1h-1zM6 57h1v1h-1zM79 57h1v1h-1zM6 58h1v1h-1zM79 58h1v1h-1zM7 59h1v1h-1zM78 59h1v1h-1zM7 60h1v1h-1zM78 60h1v1h-1zM8 61h1v1h-1zM77 61h1v1h-1zM8 62h1v1h-1zM77 62h1v1h-1zM9 63h1v1h-1zM76 63h1v1h-1zM9 64h1v1h-1zM76 64h1v1h-1zM10 65h1v1h-1zM75 65h1v1h-1zM11 66h1v1h-1zM74 66h1v1h-1zM11 67h1v1h-1zM74 67h1v1h-1zM12 68h1v1h-1zM73 68h1v1h-1zM13 69h1v1h-1zM72 69h1v1h-1zM14 70h1v1h-1zM71 70h1v1h-1zM15 71h1v1h-1zM70 71h1v1h-1zM16 72h1v1h-1zM69 72h1v1h-1zM17 73h1v1h-1zM68 73h1v1h-1zM18 74h2v1h-2zM66 74h2v1h-2zM20 75h1v1h-1zM65 75h1v1h-1zM21 76h2v1h-2zM63 76h2v1h-2zM23 77h2v1h-2zM61 77h2v1h-2zM25 78h2v1h-2zM59 78h2v1h-2zM27 79h2v1h-2zM57 79h2v1h-2zM29 80h3v1h-3zM54 80h3v1h-3zM33 81h3v1h-3zM50 81h3v1h-3zM39 82h8v1h-8z"/>
<path fill="#040404" d="M36 4h3v1h-3zM47 4h3v1h-3zM32 5h1v1h-1zM53 5h1v1h-1zM29 6h1v1h-1zM56 6h1v1h-1zM27 7h1v1h-1zM58 7h1v1h-1zM25 8h1v1h-1zM60 8h1v1h-1zM23 9h1v1h-1zM62 9h1v1h-1zM21 10h1v1h-1zM64 10h1v1h-1zM18 12h1v1h-1zM67 12h1v1h-1zM17 13h1v1h-1zM68 13h1v1h-1zM16 14h1v1h-1zM69 14h1v1h-1zM15 15h1v1h-1zM70 15h1v1h-1zM14 16h1v1h-1zM71 16h1v1h-1zM13 17h1v1h-1zM72 17h1v1h-1zM12 18h1v1h-1zM73 18h1v1h-1zM10 21h1v1h-1zM75 21h1v1h-1zM9 23h1v1h-1zM76 23h1v1h-1zM8 25h1v1h-1zM77 25h1v1h-1zM7 27h1v1h-1zM37 27h1v1h-1zM48 27h1v1h-1zM78 27h1v1h-1zM6 29h1v1h-1zM79 29h1v1h-1zM5 31h1v1h-1zM80 31h1v1h-1zM5 32h1v1h-1zM80 32h1v1h-1zM4 36h1v1h-1zM41 36h1v1h-1zM44 36h1v1h-1zM81 36h1v1h-1zM4 37h1v1h-1zM38 37h1v1h-1zM41 37h1v1h-1zM44 37h1v1h-1zM47 37h1v1h-1zM81 37h1v1h-1zM4 38h1v1h-1zM39 38h1v1h-1zM46 38h1v1h-1zM81 38h1v1h-1zM37 39h2v1h-2zM47 39h2v1h-2zM36 42h1v1h-1zM49 42h1v1h-1zM36 43h1v1h-1zM49 43h1v1h-1zM37 46h2v1h-2zM47 46h2v1h-2zM4 47h1v1h-1zM39 47h1v1h-1zM46 47h1v1h-1zM81 47h1v1h-1zM4 48h1v1h-1zM38 48h1v1h-1zM41 48h1v1h-1zM44 48h1v1h-1zM47 48h1v1h-1zM81 48h1v1h-1zM4 49h1v1h-1zM41 49h1v1h-1zM44 49h1v1h-1zM81 49h1v1h-1zM5 53h1v1h-1zM80 53h1v1h-1zM5 54h1v1h-1zM80 54h1v1h-1zM6 56h1v1h-1zM79 56h1v1h-1zM7 58h1v1h-1zM37 58h1v1h-1zM48 58h1v1h-1zM78 58h1v1h-1zM8 60h1v1h-1zM77 60h1v1h-1zM9 62h1v1h-1zM76 62h1v1h-1zM10 64h1v1h-1zM75 64h1v1h-1zM12 67h1v1h-1zM73 67h1v1h-1zM13 68h1v1h-1zM72 68h1v1h-1zM14 69h1v1h-1zM71 69h1v1h-1zM15 70h1v1h-1zM70 70h1v1h-1zM16 71h1v1h-1zM69 71h1v1h-1zM17 72h1v1h-1zM68 72h1v1h-1zM18 73h1v1h-1zM67 73h1v1h-1zM21 75h1v1h-1zM64 75h1v1h-1zM23 76h1v1h-1zM62 76h1v1h-1zM25 77h1v1h-1zM60 77h1v1h-1zM27 78h1v1h-1zM58 78h1v1h-1zM29 79h1v1h-1zM56 79h1v1h-1zM32 80h1v1h-1zM53 80h1v1h-1zM36 81h3v1h-3zM47 81h3v1h-3z"/>
<path fill="#050505" d="M39 4h8v1h-8zM33 5h5v1h-5zM48 5h5v1h-5zM30 6h1v1h-1zM55 6h1v1h-1zM28 7h1v1h-1zM57 7h1v1h-1zM26 8h1v1h-1zM59 8h1v1h-1zM24 9h1v1h-1zM61 9h1v1h-1zM22 10h1v1h-1zM63 10h1v1h-1zM20 11h1v1h-1zM65 11h1v1h-1zM19 12h1v1h-1zM66 12h1v1h-1zM18 13h1v1h-1zM67 13h1v1h-1zM12 19h1v1h-1zM73 19h1v1h-1zM11 20h1v1h-1zM74 20h1v1h-1zM10 22h1v1h-1zM75 22h1v1h-1zM9 24h1v1h-1zM76 24h1v1h-1zM8 26h1v1h-1zM77 26h1v1h-1zM7 28h1v1h-1zM78 28h1v1h-1zM6 30h1v1h-1zM79 30h1v1h-1zM5 33h1v1h-1zM29 33h1v1h-1zM56 33h1v1h-1zM80 33h1v1h-1zM5 34h1v1h-1zM40 34h1v1h-1zM45 34h1v1h-1zM80 34h1v1h-1zM5 35h1v1h-1zM40 35h1v1h-1zM45 35h1v1h-1zM80 35h1v1h-1zM5 36h1v1h-1zM40 36h1v1h-1zM45 36h1v1h-1zM80 36h1v1h-1zM5 37h1v1h-1zM80 37h1v1h-1zM36 38h2v1h-2zM48 38h2v1h-2zM4 39h1v1h-1zM81 39h1v1h-1zM4 40h1v1h-1zM81 40h1v1h-1zM4 41h1v1h-1zM81 41h1v1h-1zM4 42h1v1h-1zM81 42h1v1h-1zM4 43h1v1h-1zM81 43h1v1h-1zM4 44h1v1h-1zM81 44h1v1h-1zM4 45h1v1h-1zM81 45h1v1h-1zM4 46h1v1h-1zM81 46h1v1h-1zM36 47h2v1h-2zM48 47h2v1h-2zM5 48h1v1h-1zM80 48h1v1h-1zM5 49h1v1h-1zM40 49h1v1h-1zM45 49h1v1h-1zM80 49h1v1h-1zM5 50h1v1h-1zM40 50h1v1h-1zM45 50h1v1h-1zM80 50h1v1h-1zM5 51h1v1h-1zM40 51h1v1h-1zM45 51h1v1h-1zM80 51h1v1h-1zM5 52h1v1h-1zM29 52h1v1h-1zM56 52h1v1h-1zM80 52h1v1h-1zM6 55h1v1h-1zM79 55h1v1h-1zM7 57h1v1h-1zM78 57h1v1h-1zM8 59h1v1h-1zM77 59h1v1h-1zM9 61h1v1h-1zM76 61h1v1h-1zM10 63h1v1h-1zM75 63h1v1h-1zM11 65h1v1h-1zM74 65h1v1h-1zM12 66h1v1h-1zM73 66h1v1h-1zM18 72h1v1h-1zM67 72h1v1h-1zM19 73h1v1h-1zM66 73h1v1h-1zM20 74h1v1h-1zM65 74h1v1h-1zM22 75h1v1h-1zM63 75h1v1h-1zM24 76h1v1h-1zM61 76h1v1h-1zM26 77h1v1h-1zM59 77h1v1h-1zM28 78h1v1h-1zM57 78h1v1h-1zM30 79h1v1h-1zM55 79h1v1h-1zM33 80h5v1h-5zM48 80h5v1h-5zM39 81h8v1h-8z"/>
<path fill="#060606" d="M38 5h4v1h-4zM44 5h4v1h-4zM31 6h4v1h-4zM51 6h4v1h-4zM29 7h2v1h-2zM55 7h2v1h-2zM27 8h2v1h-2zM57 8h2v1h-2zM25 9h2v1h-2zM59 9h2v1h-2zM23 10h2v1h-2zM61 10h2v1h-2zM21 11h2v1h-2zM63 11h2v1h-2zM20 12h1v1h-1zM65 12h1v1h-1zM19 13h1v1h-1zM66 13h1v1h-1zM17 14h2v1h-2zM67 14h2v1h-2zM16 15h2v1h-2zM68 15h2v1h-2zM15 16h2v1h-2zM69 16h2v1h-2zM14 17h2v1h-2zM70 17h2v1h-2zM13 18h2v1h-2zM71 18h2v1h-2zM13 19h1v1h-1zM72 19h1v1h-1zM12 20h1v1h-1zM73 20h1v1h-1zM11 21h1v1h-1zM74 21h1v1h-1zM11 22h1v1h-1zM74 22h1v1h-1zM10 23h1v1h-1zM75 23h1v1h-1zM10 24h1v1h-1zM75 24h1v1h-1zM9 25h1v1h-1zM76 25h1v1h-1zM9 26h1v1h-1zM76 26h1v1h-1zM8 27h1v1h-1zM77 27h1v1h-1zM8 28h1v1h-1zM77 28h1v1h-1zM7 29h1v1h-1zM78 29h1v1h-1zM7 30h1v1h-1zM78 30h1v1h-1zM6 31h1v1h-1zM79 31h1v1h-1zM6 32h1v1h-1zM79 32h1v1h-1zM6 33h1v1h-1zM79 33h1v1h-1zM6 34h1v1h-1zM79 34h1v1h-1zM5 38h1v1h-1zM80 38h1v1h-1zM5 39h1v1h-1zM80 39h1v1h-1zM5 40h1v1h-1zM80 40h1v1h-1zM5 41h1v1h-1zM80 41h1v1h-1zM5 42h1v1h-1zM27 42h1v1h-1zM34 42h2v1h-2zM50 42h2v1h-2zM58 42h1v1h-1zM80 42h1v1h-1zM5 43h1v1h-1zM27 43h1v1h-1zM34 43h2v1h-2zM50 43h2v1h-2zM58 43h1v1h-1zM80 43h1v1h-1zM5 44h1v1h-1zM80 44h1v1h-1zM5 45h1v1h-1zM80 45h1v1h-1zM5 46h1v1h-1zM80 46h1v1h-1zM5 47h1v1h-1zM80 47h1v1h-1zM6 51h1v1h-1zM79 51h1v1h-1zM6 52h1v1h-1zM79 52h1v1h-1zM6 53h1v1h-1zM79 53h1v1h-1zM6 54h1v1h-1zM79 54h1v1h-1zM7 55h1v1h-1zM78 55h1v1h-1zM7 56h1v1h-1zM78 56h1v1h-1zM8 57h1v1h-1zM77 57h1v1h-1zM8 58h1v1h-1zM77 58h1v1h-1zM9 59h1v1h-1zM76 59h1v1h-1zM9 60h1v1h-1zM76 60h1v1h-1zM10 61h1v1h-1zM75 61h1v1h-1zM10 62h1v1h-1zM75 62h1v1h-1zM11 63h1v1h-1zM74 63h1v1h-1zM11 64h1v1h-1zM74 64h1v1h-1zM12 65h1v1h-1zM73 65h1v1h-1zM13 66h1v1h-1zM72 66h1v1h-1zM13 67h2v1h-2zM71 67h2v1h-2zM14 68h2v1h-2zM70 68h2v1h-2zM15 69h2v1h-2zM69 69h2v1h-2zM16 70h2v1h-2zM68 70h2v1h-2zM17 71h2v1h-2zM67 71h2v1h-2zM19 72h1v1h-1zM66 72h1v1h-1zM20 73h1v1h-1zM65 73h1v1h-1zM21 74h2v1h-2zM63 74h2v1h-2zM23 75h2v1h-2zM61 75h2v1h-2zM25 76h2v1h-2zM59 76h2v1h-2zM27 77h2v1h-2zM57 77h2v1h-2zM29 78h2v1h-2zM55 78h2v1h-2zM31 79h4v1h-4zM51 79h4v1h-4zM38 80h4v1h-4zM44 80h4v1h-4z"/>
<path fill="#070707" d="M42 5h2v1h-2zM35 6h1v1h-1zM50 6h1v1h-1zM31 7h1v1h-1zM54 7h1v1h-1zM21 12h1v1h-1zM64 12h1v1h-1zM12 21h1v1h-1zM73 21h1v1h-1zM6 35h1v1h-1zM79 35h1v1h-1zM39 36h1v1h-1zM46 36h1v1h-1zM35 37h2v1h-2zM49 37h2v1h-2zM36 39h1v1h-1zM49 39h1v1h-1zM36 46h1v1h-1zM49 46h1v1h-1zM35 48h2v1h-2zM49 48h2v1h-2zM39 49h1v1h-1zM46 49h1v1h-1zM6 50h1v1h-1zM79 50h1v1h-1zM12 64h1v1h-1zM73 64h1v1h-1zM21 73h1v1h-1zM64 73h1v1h-1zM31 78h1v1h-1zM54 78h1v1h-1zM35 79h1v1h-1zM50 79h1v1h-1zM42 80h2v1h-2z"/>
<path fill="#080808" d="M7 31h1v1h-1zM78 31h1v1h-1zM41 35h1v1h-1zM44 35h1v1h-1zM26 42h1v1h-1zM59 42h1v1h-1zM26 43h1v1h-1zM59 43h1v1h-1zM41 50h1v1h-1zM44 50h1v1h-1zM7 54h1v1h-1zM78 54h1v1h-1z"/>
<path fill="#090909" d="M36 6h1v1h-1zM49 6h1v1h-1zM23 11h1v1h-1zM62 11h1v1h-1zM20 13h1v1h-1zM65 13h1v1h-1zM13 20h1v1h-1zM72 20h1v1h-1zM6 36h1v1h-1zM79 36h1v1h-1zM6 49h1v1h-1zM79 49h1v1h-1zM13 65h1v1h-1zM72 65h1v1h-1zM20 72h1v1h-1zM65 72h1v1h-1zM23 74h1v1h-1zM62 74h1v1h-1zM36 79h1v1h-1zM49 79h1v1h-1z"/>
<path fill="#0a0a0a" d="M29 8h1v1h-1zM56 8h1v1h-1zM11 23h1v1h-1zM74 23h1v1h-1zM8 29h1v1h-1zM77 29h1v1h-1zM7 32h1v1h-1zM78 32h1v1h-1zM7 53h1v1h-1zM78 53h1v1h-1zM8 56h1v1h-1zM77 56h1v1h-1zM11 62h1v1h-1zM74 62h1v1h-1zM29 77h1v1h-1zM56 77h1v1h-1z"/>
<path fill="#0b0b0b" d="M37 6h1v1h-1zM48 6h1v1h-1zM32 7h1v1h-1zM53 7h1v1h-1zM27 9h1v1h-1zM58 9h1v1h-1zM25 10h1v1h-1zM60 10h1v1h-1zM19 14h1v1h-1zM66 14h1v1h-1zM14 19h1v1h-1zM71 19h1v1h-1zM10 25h1v1h-1zM75 25h1v1h-1zM9 27h1v1h-1zM76 27h1v1h-1zM29 34h1v1h-1zM56 34h1v1h-1zM6 37h1v1h-1zM79 37h1v1h-1zM35 38h1v1h-1zM50 38h1v1h-1zM35 47h1v1h-1zM50 47h1v1h-1zM6 48h1v1h-1zM79 48h1v1h-1zM29 51h1v1h-1zM56 51h1v1h-1zM9 58h1v1h-1zM76 58h1v1h-1zM10 60h1v1h-1zM75 60h1v1h-1zM14 66h1v1h-1zM71 66h1v1h-1zM19 71h1v1h-1zM66 71h1v1h-1zM25 75h1v1h-1zM60 75h1v1h-1zM27 76h1v1h-1zM58 76h1v1h-1zM32 78h1v1h-1zM53 78h1v1h-1zM37 79h1v1h-1zM48 79h1v1h-1z"/>
<path fill="#0c0c0c" d="M18 15h1v1h-1zM67 15h1v1h-1zM37 28h1v1h-1zM48 28h1v1h-1zM37 57h1v1h-1zM48 57h1v1h-1zM18 70h1v1h-1zM67 70h1v1h-1z"/>
<path fill="#0d0d0d" d="M38 6h1v1h-1zM47 6h1v1h-1zM17 16h1v1h-1zM68 16h1v1h-1zM16 17h1v1h-1zM69 17h1v1h-1zM15 18h1v1h-1zM70 18h1v1h-1zM38 28h1v1h-1zM47 28h1v1h-1zM39 35h1v1h-1zM42 35h2v1h-2zM46 35h1v1h-1zM37 37h1v1h-1zM48 37h1v1h-1zM6 38h1v1h-1zM79 38h1v1h-1zM35 41h1v1h-1zM50 41h1v1h-1zM35 44h1v1h-1zM50 44h1v1h-1zM6 47h1v1h-1zM79 47h1v1h-1zM37 48h1v1h-1zM48 48h1v1h-1zM39 50h1v1h-1zM42 50h2v1h-2zM46 50h1v1h-1zM38 57h1v1h-1zM47 57h1v1h-1zM15 67h1v1h-1zM70 67h1v1h-1zM16 68h1v1h-1zM69 68h1v1h-1zM17 69h1v1h-1zM68 69h1v1h-1zM38 79h1v1h-1zM47 79h1v1h-1z"/>
<path fill="#0e0e0e" d="M39 6h1v1h-1zM46 6h1v1h-1zM22 12h1v1h-1zM63 12h1v1h-1zM7 33h1v1h-1zM78 33h1v1h-1zM39 34h1v1h-1zM46 34h1v1h-1zM33 42h1v1h-1zM52 42h1v1h-1zM33 43h1v1h-1zM52 43h1v1h-1zM39 51h1v1h-1zM46 51h1v1h-1zM7 52h1v1h-1zM78 52h1v1h-1zM22 73h1v1h-1zM63 73h1v1h-1zM39 79h1v1h-1zM46 79h1v1h-1z"/>
<path fill="#0f0f0f" d="M33 7h1v1h-1zM52 7h1v1h-1zM12 22h1v1h-1zM23 22h1v1h-1zM62 22h1v1h-1zM73 22h1v1h-1zM22 23h1v1h-1zM63 23h1v1h-1zM8 30h1v1h-1zM17 30h1v1h-1zM68 30h1v1h-1zM77 30h1v1h-1zM6 39h1v1h-1zM79 39h1v1h-1zM6 46h1v1h-1zM79 46h1v1h-1zM8 55h1v1h-1zM17 55h1v1h-1zM68 55h1v1h-1zM77 55h1v1h-1zM22 62h1v1h-1zM63 62h1v1h-1zM12 63h1v1h-1zM23 63h1v1h-1zM62 63h1v1h-1zM73 63h1v1h-1zM33 78h1v1h-1zM52 78h1v1h-1z"/>
<path fill="#101010" d="M40 6h1v1h-1zM45 6h1v1h-1zM30 8h1v1h-1zM55 8h1v1h-1zM24 11h1v1h-1zM61 11h1v1h-1zM36 13h4v1h-4zM46 13h4v1h-4zM38 14h3v1h-3zM45 14h3v1h-3zM30 15h1v1h-1zM36 15h3v1h-3zM47 15h3v1h-3zM55 15h1v1h-1zM28 16h2v1h-2zM33 16h1v1h-1zM52 16h1v1h-1zM56 16h2v1h-2zM28 17h4v1h-4zM54 17h4v1h-4zM28 18h2v1h-2zM56 18h2v1h-2zM21 21h4v1h-4zM61 21h4v1h-4zM20 22h3v1h-3zM63 22h3v1h-3zM21 24h1v1h-1zM64 24h1v1h-1zM19 27h1v1h-1zM66 27h1v1h-1zM9 28h1v1h-1zM16 28h1v1h-1zM18 28h1v1h-1zM67 28h1v1h-1zM69 28h1v1h-1zM76 28h1v1h-1zM16 29h3v1h-3zM67 29h3v1h-3zM15 30h2v1h-2zM69 30h2v1h-2zM16 31h2v1h-2zM68 31h2v1h-2zM16 32h1v1h-1zM69 32h1v1h-1zM15 36h1v1h-1zM70 36h1v1h-1zM13 37h3v1h-3zM70 37h3v1h-3zM13 38h3v1h-3zM70 38h3v1h-3zM13 39h2v1h-2zM71 39h2v1h-2zM13 46h2v1h-2zM71 46h2v1h-2zM13 47h3v1h-3zM70 47h3v1h-3zM13 48h3v1h-3zM70 48h3v1h-3zM15 49h1v1h-1zM70 49h1v1h-1zM16 53h1v1h-1zM69 53h1v1h-1zM16 54h2v1h-2zM68 54h2v1h-2zM15 55h2v1h-2zM69 55h2v1h-2zM16 56h3v1h-3zM67 56h3v1h-3zM9 57h1v1h-1zM16 57h1v1h-1zM18 57h1v1h-1zM67 57h1v1h-1zM69 57h1v1h-1zM76 57h1v1h-1zM19 58h1v1h-1zM66 58h1v1h-1zM21 61h1v1h-1zM64 61h1v1h-1zM20 63h3v1h-3zM63 63h3v1h-3zM21 64h4v1h-4zM61 64h4v1h-4zM28 67h2v1h-2zM56 67h2v1h-2zM28 68h4v1h-4zM54 68h4v1h-4zM28 69h2v1h-2zM33 69h1v1h-1zM52 69h1v1h-1zM56 69h2v1h-2zM30 70h1v1h-1zM36 70h3v1h-3zM47 70h3v1h-3zM55 70h1v1h-1zM38 71h3v1h-3zM45 71h3v1h-3zM36 72h4v1h-4zM46 72h4v1h-4zM24 74h1v1h-1zM61 74h1v1h-1zM30 77h1v1h-1zM55 77h1v1h-1zM40 79h1v1h-1zM45 79h1v1h-1z"/>
<path fill="#111111" d="M41 6h1v1h-1zM44 6h1v1h-1zM26 10h1v1h-1zM59 10h1v1h-1zM35 13h1v1h-1zM40 13h1v1h-1zM45 13h1v1h-1zM50 13h1v1h-1zM32 14h3v1h-3zM36 14h2v1h-2zM41 14h4v1h-4zM48 14h2v1h-2zM51 14h3v1h-3zM29 15h1v1h-1zM31 15h1v1h-1zM35 15h1v1h-1zM39 15h1v1h-1zM46 15h1v1h-1zM50 15h1v1h-1zM54 15h1v1h-1zM56 15h1v1h-1zM30 16h3v1h-3zM53 16h3v1h-3zM27 17h1v1h-1zM58 17h1v1h-1zM27 18h1v1h-1zM58 18h1v1h-1zM26 19h2v1h-2zM58 19h2v1h-2zM22 20h4v1h-4zM60 20h4v1h-4zM19 23h3v1h-3zM64 23h3v1h-3zM11 24h1v1h-1zM19 24h1v1h-1zM66 24h1v1h-1zM74 24h1v1h-1zM18 25h1v1h-1zM20 25h1v1h-1zM65 25h1v1h-1zM67 25h1v1h-1zM10 26h1v1h-1zM17 26h1v1h-1zM20 26h1v1h-1zM65 26h1v1h-1zM68 26h1v1h-1zM75 26h1v1h-1zM17 27h1v1h-1zM68 27h1v1h-1zM17 28h1v1h-1zM68 28h1v1h-1zM15 29h1v1h-1zM70 29h1v1h-1zM15 31h1v1h-1zM70 31h1v1h-1zM16 33h1v1h-1zM69 33h1v1h-1zM7 34h1v1h-1zM15 34h1v1h-1zM70 34h1v1h-1zM78 34h1v1h-1zM14 35h2v1h-2zM70 35h2v1h-2zM13 36h2v1h-2zM71 36h2v1h-2zM15 39h1v1h-1zM70 39h1v1h-1zM6 40h1v1h-1zM13 40h2v1h-2zM71 40h2v1h-2zM79 40h1v1h-1zM14 41h1v1h-1zM71 41h1v1h-1zM14 42h1v1h-1zM71 42h1v1h-1zM14 43h1v1h-1zM71 43h1v1h-1zM14 44h1v1h-1zM71 44h1v1h-1zM6 45h1v1h-1zM13 45h2v1h-2zM71 45h2v1h-2zM79 45h1v1h-1zM15 46h1v1h-1zM70 46h1v1h-1zM13 49h2v1h-2zM71 49h2v1h-2zM14 50h2v1h-2zM70 50h2v1h-2zM7 51h1v1h-1zM15 51h1v1h-1zM70 51h1v1h-1zM78 51h1v1h-1zM16 52h1v1h-1zM69 52h1v1h-1zM15 54h1v1h-1zM70 54h1v1h-1zM15 56h1v1h-1zM70 56h1v1h-1zM17 57h1v1h-1zM68 57h1v1h-1zM17 58h1v1h-1zM68 58h1v1h-1zM10 59h1v1h-1zM17 59h1v1h-1zM20 59h1v1h-1zM65 59h1v1h-1zM68 59h1v1h-1zM75 59h1v1h-1zM18 60h1v1h-1zM20 60h1v1h-1zM65 60h1v1h-1zM67 60h1v1h-1zM11 61h1v1h-1zM19 61h1v1h-1zM66 61h1v1h-1zM74 61h1v1h-1zM19 62h3v1h-3zM64 62h3v1h-3zM22 65h4v1h-4zM60 65h4v1h-4zM26 66h2v1h-2zM58 66h2v1h-2zM27 67h1v1h-1zM58 67h1v1h-1zM27 68h1v1h-1zM58 68h1v1h-1zM30 69h3v1h-3zM53 69h3v1h-3zM29 70h1v1h-1zM31 70h1v1h-1zM35 70h1v1h-1zM39 70h1v1h-1zM46 70h1v1h-1zM50 70h1v1h-1zM54 70h1v1h-1zM56 70h1v1h-1zM32 71h3v1h-3zM36 71h2v1h-2zM41 71h4v1h-4zM48 71h2v1h-2zM51 71h3v1h-3zM35 72h1v1h-1zM40 72h1v1h-1zM45 72h1v1h-1zM50 72h1v1h-1zM26 75h1v1h-1zM59 75h1v1h-1zM41 79h1v1h-1zM44 79h1v1h-1z"/>
<path fill="#121212" d="M42 6h2v1h-2zM34 7h1v1h-1zM51 7h1v1h-1zM28 9h1v1h-1zM57 9h1v1h-1zM38 12h4v1h-4zM44 12h4v1h-4zM21 13h1v1h-1zM41 13h4v1h-4zM64 13h1v1h-1zM35 14h1v1h-1zM50 14h1v1h-1zM32 15h3v1h-3zM40 15h1v1h-1zM45 15h1v1h-1zM51 15h3v1h-3zM27 16h1v1h-1zM34 16h1v1h-1zM51 16h1v1h-1zM58 16h1v1h-1zM26 17h1v1h-1zM59 17h1v1h-1zM26 18h1v1h-1zM30 18h1v1h-1zM55 18h1v1h-1zM59 18h1v1h-1zM23 19h3v1h-3zM28 19h1v1h-1zM57 19h1v1h-1zM60 19h3v1h-3zM25 21h1v1h-1zM60 21h1v1h-1zM24 22h1v1h-1zM61 22h1v1h-1zM23 23h1v1h-1zM62 23h1v1h-1zM20 24h1v1h-1zM22 24h1v1h-1zM63 24h1v1h-1zM65 24h1v1h-1zM19 25h1v1h-1zM21 25h1v1h-1zM64 25h1v1h-1zM66 25h1v1h-1zM18 26h2v1h-2zM66 26h2v1h-2zM16 27h1v1h-1zM18 27h1v1h-1zM67 27h1v1h-1zM69 27h1v1h-1zM18 30h1v1h-1zM67 30h1v1h-1zM14 31h1v1h-1zM71 31h1v1h-1zM14 32h2v1h-2zM70 32h2v1h-2zM15 33h1v1h-1zM70 33h1v1h-1zM14 34h1v1h-1zM71 34h1v1h-1zM13 35h1v1h-1zM72 35h1v1h-1zM12 38h1v1h-1zM73 38h1v1h-1zM12 39h1v1h-1zM73 39h1v1h-1zM12 40h1v1h-1zM73 40h1v1h-1zM6 41h1v1h-1zM12 41h2v1h-2zM72 41h2v1h-2zM79 41h1v1h-1zM12 42h2v1h-2zM72 42h2v1h-2zM12 43h2v1h-2zM72 43h2v1h-2zM6 44h1v1h-1zM12 44h2v1h-2zM72 44h2v1h-2zM79 44h1v1h-1zM12 45h1v1h-1zM73 45h1v1h-1zM12 46h1v1h-1zM73 46h1v1h-1zM12 47h1v1h-1zM73 47h1v1h-1zM13 50h1v1h-1zM72 50h1v1h-1zM14 51h1v1h-1zM71 51h1v1h-1zM15 52h1v1h-1zM70 52h1v1h-1zM14 53h2v1h-2zM70 53h2v1h-2zM14 54h1v1h-1zM71 54h1v1h-1zM18 55h1v1h-1zM67 55h1v1h-1zM16 58h1v1h-1zM18 58h1v1h-1zM67 58h1v1h-1zM69 58h1v1h-1zM18 59h2v1h-2zM66 59h2v1h-2zM19 60h1v1h-1zM21 60h1v1h-1zM64 60h1v1h-1zM66 60h1v1h-1zM20 61h1v1h-1zM22 61h1v1h-1zM63 61h1v1h-1zM65 61h1v1h-1zM23 62h1v1h-1zM62 62h1v1h-1zM24 63h1v1h-1zM61 63h1v1h-1zM25 64h1v1h-1zM60 64h1v1h-1zM23 66h3v1h-3zM28 66h1v1h-1zM57 66h1v1h-1zM60 66h3v1h-3zM26 67h1v1h-1zM30 67h1v1h-1zM55 67h1v1h-1zM59 67h1v1h-1zM26 68h1v1h-1zM59 68h1v1h-1zM27 69h1v1h-1zM34 69h1v1h-1zM51 69h1v1h-1zM58 69h1v1h-1zM32 70h3v1h-3zM40 70h1v1h-1zM45 70h1v1h-1zM51 70h3v1h-3zM35 71h1v1h-1zM50 71h1v1h-1zM21 72h1v1h-1zM41 72h4v1h-4zM64 72h1v1h-1zM38 73h4v1h-4zM44 73h4v1h-4zM28 76h1v1h-1zM57 76h1v1h-1zM34 78h1v1h-1zM51 78h1v1h-1zM42 79h2v1h-2z"/>
<path fill="#131313" d="M37 12h1v1h-1zM42 12h2v1h-2zM48 12h1v1h-1zM34 13h1v1h-1zM51 13h1v1h-1zM31 14h1v1h-1zM54 14h1v1h-1zM41 15h1v1h-1zM44 15h1v1h-1zM32 17h1v1h-1zM53 17h1v1h-1zM24 18h2v1h-2zM60 18h2v1h-2zM26 20h1v1h-1zM59 20h1v1h-1zM13 21h1v1h-1zM72 21h1v1h-1zM18 24h1v1h-1zM67 24h1v1h-1zM19 28h1v1h-1zM66 28h1v1h-1zM17 32h1v1h-1zM30 32h1v1h-1zM55 32h1v1h-1zM68 32h1v1h-1zM14 33h1v1h-1zM71 33h1v1h-1zM13 34h1v1h-1zM16 34h1v1h-1zM30 34h1v1h-1zM41 34h1v1h-1zM44 34h1v1h-1zM55 34h1v1h-1zM69 34h1v1h-1zM72 34h1v1h-1zM7 35h1v1h-1zM78 35h1v1h-1zM12 37h1v1h-1zM73 37h1v1h-1zM15 40h1v1h-1zM70 40h1v1h-1zM6 42h1v1h-1zM79 42h1v1h-1zM6 43h1v1h-1zM79 43h1v1h-1zM15 45h1v1h-1zM70 45h1v1h-1zM12 48h1v1h-1zM73 48h1v1h-1zM7 50h1v1h-1zM78 50h1v1h-1zM13 51h1v1h-1zM16 51h1v1h-1zM30 51h1v1h-1zM41 51h1v1h-1zM44 51h1v1h-1zM55 51h1v1h-1zM69 51h1v1h-1zM72 51h1v1h-1zM14 52h1v1h-1zM71 52h1v1h-1zM17 53h1v1h-1zM30 53h1v1h-1zM55 53h1v1h-1zM68 53h1v1h-1zM19 57h1v1h-1zM66 57h1v1h-1zM18 61h1v1h-1zM67 61h1v1h-1zM13 64h1v1h-1zM72 64h1v1h-1zM26 65h1v1h-1zM59 65h1v1h-1zM24 67h2v1h-2zM60 67h2v1h-2zM32 68h1v1h-1zM53 68h1v1h-1zM41 70h1v1h-1zM44 70h1v1h-1zM31 71h1v1h-1zM54 71h1v1h-1zM34 72h1v1h-1zM51 72h1v1h-1zM37 73h1v1h-1zM42 73h2v1h-2zM48 73h1v1h-1z"/>
<path fill="#141414" d="M35 7h1v1h-1zM50 7h1v1h-1zM20 14h1v1h-1zM65 14h1v1h-1zM28 15h1v1h-1zM42 15h2v1h-2zM57 15h1v1h-1zM35 16h1v1h-1zM50 16h1v1h-1zM25 17h1v1h-1zM60 17h1v1h-1zM21 20h1v1h-1zM64 20h1v1h-1zM20 21h1v1h-1zM65 21h1v1h-1zM15 28h1v1h-1zM70 28h1v1h-1zM14 30h1v1h-1zM71 30h1v1h-1zM8 31h1v1h-1zM77 31h1v1h-1zM39 33h2v1h-2zM45 33h2v1h-2zM16 35h1v1h-1zM69 35h1v1h-1zM12 36h1v1h-1zM16 36h1v1h-1zM69 36h1v1h-1zM73 36h1v1h-1zM16 37h1v1h-1zM69 37h1v1h-1zM15 41h1v1h-1zM70 41h1v1h-1zM15 42h1v1h-1zM70 42h1v1h-1zM15 43h1v1h-1zM70 43h1v1h-1zM15 44h1v1h-1zM70 44h1v1h-1zM16 48h1v1h-1zM69 48h1v1h-1zM12 49h1v1h-1zM16 49h1v1h-1zM69 49h1v1h-1zM73 49h1v1h-1zM16 50h1v1h-1zM69 50h1v1h-1zM39 52h2v1h-2zM45 52h2v1h-2zM8 54h1v1h-1zM77 54h1v1h-1zM14 55h1v1h-1zM71 55h1v1h-1zM15 57h1v1h-1zM70 57h1v1h-1zM20 64h1v1h-1zM65 64h1v1h-1zM21 65h1v1h-1zM64 65h1v1h-1zM25 68h1v1h-1zM60 68h1v1h-1zM35 69h1v1h-1zM50 69h1v1h-1zM28 70h1v1h-1zM42 70h2v1h-2zM57 70h1v1h-1zM20 71h1v1h-1zM65 71h1v1h-1zM35 78h1v1h-1zM50 78h1v1h-1z"/>
<path fill="#151515" d="M31 8h1v1h-1zM54 8h1v1h-1zM23 12h1v1h-1zM36 12h1v1h-1zM49 12h1v1h-1zM62 12h1v1h-1zM33 13h1v1h-1zM52 13h1v1h-1zM30 14h1v1h-1zM55 14h1v1h-1zM19 15h1v1h-1zM66 15h1v1h-1zM18 16h1v1h-1zM26 16h1v1h-1zM59 16h1v1h-1zM67 16h1v1h-1zM22 19h1v1h-1zM29 19h1v1h-1zM56 19h1v1h-1zM63 19h1v1h-1zM27 20h1v1h-1zM58 20h1v1h-1zM25 22h1v1h-1zM60 22h1v1h-1zM17 25h1v1h-1zM68 25h1v1h-1zM9 29h1v1h-1zM76 29h1v1h-1zM18 31h1v1h-1zM67 31h1v1h-1zM13 33h1v1h-1zM17 33h1v1h-1zM68 33h1v1h-1zM72 33h1v1h-1zM7 36h1v1h-1zM78 36h1v1h-1zM7 49h1v1h-1zM78 49h1v1h-1zM13 52h1v1h-1zM17 52h1v1h-1zM68 52h1v1h-1zM72 52h1v1h-1zM18 54h1v1h-1zM67 54h1v1h-1zM9 56h1v1h-1zM76 56h1v1h-1zM17 60h1v1h-1zM68 60h1v1h-1zM25 63h1v1h-1zM60 63h1v1h-1zM27 65h1v1h-1zM58 65h1v1h-1zM22 66h1v1h-1zM29 66h1v1h-1zM56 66h1v1h-1zM63 66h1v1h-1zM18 69h1v1h-1zM26 69h1v1h-1zM59 69h1v1h-1zM67 69h1v1h-1zM19 70h1v1h-1zM66 70h1v1h-1zM30 71h1v1h-1zM55 71h1v1h-1zM33 72h1v1h-1zM52 72h1v1h-1zM23 73h1v1h-1zM36 73h1v1h-1zM49 73h1v1h-1zM62 73h1v1h-1zM31 77h1v1h-1zM54 77h1v1h-1z"/>
<path fill="#161616" d="M36 7h1v1h-1zM49 7h1v1h-1zM25 11h1v1h-1zM60 11h1v1h-1zM36 16h5v1h-5zM45 16h5v1h-5zM17 17h1v1h-1zM68 17h1v1h-1zM31 18h1v1h-1zM54 18h1v1h-1zM30 19h1v1h-1zM55 19h1v1h-1zM14 20h1v1h-1zM28 20h1v1h-1zM57 20h1v1h-1zM71 20h1v1h-1zM26 21h1v1h-1zM59 21h1v1h-1zM19 22h1v1h-1zM66 22h1v1h-1zM24 23h1v1h-1zM61 23h1v1h-1zM16 26h1v1h-1zM69 26h1v1h-1zM10 27h1v1h-1zM75 27h1v1h-1zM14 29h1v1h-1zM19 29h1v1h-1zM66 29h1v1h-1zM71 29h1v1h-1zM18 32h1v1h-1zM67 32h1v1h-1zM12 35h1v1h-1zM73 35h1v1h-1zM16 38h1v1h-1zM69 38h1v1h-1zM16 47h1v1h-1zM69 47h1v1h-1zM12 50h1v1h-1zM73 50h1v1h-1zM18 53h1v1h-1zM67 53h1v1h-1zM14 56h1v1h-1zM19 56h1v1h-1zM66 56h1v1h-1zM71 56h1v1h-1zM10 58h1v1h-1zM75 58h1v1h-1zM16 59h1v1h-1zM69 59h1v1h-1zM24 62h1v1h-1zM61 62h1v1h-1zM19 63h1v1h-1zM66 63h1v1h-1zM26 64h1v1h-1zM59 64h1v1h-1zM14 65h1v1h-1zM28 65h1v1h-1zM57 65h1v1h-1zM71 65h1v1h-1zM30 66h1v1h-1zM55 66h1v1h-1zM31 67h1v1h-1zM54 67h1v1h-1zM17 68h1v1h-1zM68 68h1v1h-1zM36 69h5v1h-5zM45 69h5v1h-5zM25 74h1v1h-1zM60 74h1v1h-1zM36 78h1v1h-1zM49 78h1v1h-1z"/>
<path fill="#171717" d="M37 7h2v1h-2zM47 7h2v1h-2zM27 10h1v1h-1zM58 10h1v1h-1zM38 11h3v1h-3zM45 11h3v1h-3zM35 12h1v1h-1zM50 12h1v1h-1zM29 14h1v1h-1zM56 14h1v1h-1zM27 15h1v1h-1zM58 15h1v1h-1zM41 16h1v1h-1zM44 16h1v1h-1zM33 17h1v1h-1zM52 17h1v1h-1zM16 18h1v1h-1zM23 18h1v1h-1zM62 18h1v1h-1zM69 18h1v1h-1zM15 19h1v1h-1zM70 19h1v1h-1zM20 20h1v1h-1zM65 20h1v1h-1zM12 23h1v1h-1zM73 23h1v1h-1zM23 24h1v1h-1zM62 24h1v1h-1zM11 25h1v1h-1zM74 25h1v1h-1zM15 27h1v1h-1zM20 27h1v1h-1zM65 27h1v1h-1zM70 27h1v1h-1zM19 30h1v1h-1zM66 30h1v1h-1zM8 32h1v1h-1zM13 32h1v1h-1zM72 32h1v1h-1zM77 32h1v1h-1zM17 34h1v1h-1zM68 34h1v1h-1zM17 35h1v1h-1zM68 35h1v1h-1zM7 37h1v1h-1zM78 37h1v1h-1zM16 39h1v1h-1zM35 39h1v1h-1zM50 39h1v1h-1zM69 39h1v1h-1zM16 46h1v1h-1zM35 46h1v1h-1zM50 46h1v1h-1zM69 46h1v1h-1zM7 48h1v1h-1zM78 48h1v1h-1zM17 50h1v1h-1zM68 50h1v1h-1zM17 51h1v1h-1zM68 51h1v1h-1zM8 53h1v1h-1zM13 53h1v1h-1zM72 53h1v1h-1zM77 53h1v1h-1zM19 55h1v1h-1zM66 55h1v1h-1zM15 58h1v1h-1zM20 58h1v1h-1zM65 58h1v1h-1zM70 58h1v1h-1zM11 60h1v1h-1zM74 60h1v1h-1zM23 61h1v1h-1zM62 61h1v1h-1zM12 62h1v1h-1zM73 62h1v1h-1zM20 65h1v1h-1zM65 65h1v1h-1zM15 66h1v1h-1zM70 66h1v1h-1zM16 67h1v1h-1zM23 67h1v1h-1zM62 67h1v1h-1zM69 67h1v1h-1zM33 68h1v1h-1zM52 68h1v1h-1zM41 69h1v1h-1zM44 69h1v1h-1zM27 70h1v1h-1zM58 70h1v1h-1zM29 71h1v1h-1zM56 71h1v1h-1zM35 73h1v1h-1zM50 73h1v1h-1zM38 74h3v1h-3zM45 74h3v1h-3zM27 75h1v1h-1zM58 75h1v1h-1zM37 78h2v1h-2zM47 78h2v1h-2z"/>
<path fill="#181818" d="M39 7h1v1h-1zM46 7h1v1h-1zM29 9h1v1h-1zM56 9h1v1h-1zM26 11h1v1h-1zM37 11h1v1h-1zM41 11h4v1h-4zM48 11h1v1h-1zM59 11h1v1h-1zM24 12h1v1h-1zM61 12h1v1h-1zM22 13h1v1h-1zM32 13h1v1h-1zM53 13h1v1h-1zM63 13h1v1h-1zM28 14h1v1h-1zM57 14h1v1h-1zM42 16h2v1h-2zM21 19h1v1h-1zM64 19h1v1h-1zM29 20h1v1h-1zM56 20h1v1h-1zM19 21h1v1h-1zM27 21h1v1h-1zM58 21h1v1h-1zM66 21h1v1h-1zM26 22h1v1h-1zM59 22h1v1h-1zM18 23h1v1h-1zM25 23h1v1h-1zM60 23h1v1h-1zM67 23h1v1h-1zM10 28h1v1h-1zM14 28h1v1h-1zM71 28h1v1h-1zM75 28h1v1h-1zM13 31h1v1h-1zM72 31h1v1h-1zM18 33h1v1h-1zM67 33h1v1h-1zM17 36h1v1h-1zM68 36h1v1h-1zM11 37h1v1h-1zM34 37h1v1h-1zM51 37h1v1h-1zM74 37h1v1h-1zM7 38h1v1h-1zM11 38h1v1h-1zM74 38h1v1h-1zM78 38h1v1h-1zM11 39h1v1h-1zM74 39h1v1h-1zM11 40h1v1h-1zM74 40h1v1h-1zM11 41h1v1h-1zM74 41h1v1h-1zM11 44h1v1h-1zM74 44h1v1h-1zM11 45h1v1h-1zM74 45h1v1h-1zM11 46h1v1h-1zM74 46h1v1h-1zM7 47h1v1h-1zM11 47h1v1h-1zM74 47h1v1h-1zM78 47h1v1h-1zM11 48h1v1h-1zM34 48h1v1h-1zM51 48h1v1h-1zM74 48h1v1h-1zM17 49h1v1h-1zM68 49h1v1h-1zM18 52h1v1h-1zM67 52h1v1h-1zM13 54h1v1h-1zM72 54h1v1h-1zM10 57h1v1h-1zM14 57h1v1h-1zM71 57h1v1h-1zM75 57h1v1h-1zM18 62h1v1h-1zM25 62h1v1h-1zM60 62h1v1h-1zM67 62h1v1h-1zM26 63h1v1h-1zM59 63h1v1h-1zM19 64h1v1h-1zM27 64h1v1h-1zM58 64h1v1h-1zM66 64h1v1h-1zM29 65h1v1h-1zM56 65h1v1h-1zM21 66h1v1h-1zM64 66h1v1h-1zM42 69h2v1h-2zM28 71h1v1h-1zM57 71h1v1h-1zM22 72h1v1h-1zM32 72h1v1h-1zM53 72h1v1h-1zM63 72h1v1h-1zM24 73h1v1h-1zM61 73h1v1h-1zM26 74h1v1h-1zM37 74h1v1h-1zM41 74h4v1h-4zM48 74h1v1h-1zM59 74h1v1h-1zM29 76h1v1h-1zM56 76h1v1h-1zM39 78h1v1h-1zM46 78h1v1h-1z"/>
<path fill="#191919" d="M40 7h1v1h-1zM45 7h1v1h-1zM32 8h1v1h-1zM53 8h1v1h-1zM34 12h1v1h-1zM51 12h1v1h-1zM30 13h2v1h-2zM54 13h2v1h-2zM20 15h1v1h-1zM26 15h1v1h-1zM59 15h1v1h-1zM65 15h1v1h-1zM19 16h1v1h-1zM25 16h1v1h-1zM60 16h1v1h-1zM66 16h1v1h-1zM18 17h1v1h-1zM24 17h1v1h-1zM61 17h1v1h-1zM67 17h1v1h-1zM17 18h1v1h-1zM22 18h1v1h-1zM32 18h1v1h-1zM53 18h1v1h-1zM63 18h1v1h-1zM68 18h1v1h-1zM18 22h1v1h-1zM67 22h1v1h-1zM17 24h1v1h-1zM68 24h1v1h-1zM16 25h1v1h-1zM22 25h1v1h-1zM63 25h1v1h-1zM69 25h1v1h-1zM11 26h1v1h-1zM15 26h1v1h-1zM21 26h1v1h-1zM64 26h1v1h-1zM70 26h1v1h-1zM74 26h1v1h-1zM9 30h1v1h-1zM13 30h1v1h-1zM72 30h1v1h-1zM76 30h1v1h-1zM8 33h1v1h-1zM77 33h1v1h-1zM8 34h1v1h-1zM12 34h1v1h-1zM73 34h1v1h-1zM77 34h1v1h-1zM8 35h1v1h-1zM77 35h1v1h-1zM11 36h1v1h-1zM74 36h1v1h-1zM16 40h1v1h-1zM69 40h1v1h-1zM11 42h1v1h-1zM74 42h1v1h-1zM11 43h1v1h-1zM74 43h1v1h-1zM16 45h1v1h-1zM69 45h1v1h-1zM11 49h1v1h-1zM74 49h1v1h-1zM8 50h1v1h-1zM77 50h1v1h-1zM8 51h1v1h-1zM12 51h1v1h-1zM73 51h1v1h-1zM77 51h1v1h-1zM8 52h1v1h-1zM77 52h1v1h-1zM9 55h1v1h-1zM13 55h1v1h-1zM72 55h1v1h-1zM76 55h1v1h-1zM11 59h1v1h-1zM15 59h1v1h-1zM21 59h1v1h-1zM64 59h1v1h-1zM70 59h1v1h-1zM74 59h1v1h-1zM16 60h1v1h-1zM22 60h1v1h-1zM63 60h1v1h-1zM69 60h1v1h-1zM17 61h1v1h-1zM68 61h1v1h-1zM18 63h1v1h-1zM67 63h1v1h-1zM17 67h1v1h-1zM22 67h1v1h-1zM32 67h1v1h-1zM53 67h1v1h-1zM63 67h1v1h-1zM68 67h1v1h-1zM18 68h1v1h-1zM24 68h1v1h-1zM61 68h1v1h-1zM67 68h1v1h-1zM19 69h1v1h-1zM25 69h1v1h-1zM60 69h1v1h-1zM66 69h1v1h-1zM20 70h1v1h-1zM26 70h1v1h-1zM59 70h1v1h-1zM65 70h1v1h-1zM30 72h2v1h-2zM54 72h2v1h-2zM34 73h1v1h-1zM51 73h1v1h-1zM32 77h1v1h-1zM53 77h1v1h-1zM40 78h1v1h-1zM45 78h1v1h-1z"/>
<path fill="#1a1a1a" d="M41 7h1v1h-1zM44 7h1v1h-1zM28 10h1v1h-1zM57 10h1v1h-1zM36 11h1v1h-1zM49 11h1v1h-1zM25 12h1v1h-1zM33 12h1v1h-1zM52 12h1v1h-1zM60 12h1v1h-1zM23 13h1v1h-1zM62 13h1v1h-1zM21 14h1v1h-1zM27 14h1v1h-1zM58 14h1v1h-1zM64 14h1v1h-1zM34 17h1v1h-1zM51 17h1v1h-1zM16 19h1v1h-1zM20 19h1v1h-1zM65 19h1v1h-1zM69 19h1v1h-1zM12 24h1v1h-1zM73 24h1v1h-1zM11 27h1v1h-1zM14 27h1v1h-1zM71 27h1v1h-1zM74 27h1v1h-1zM20 28h1v1h-1zM65 28h1v1h-1zM10 29h1v1h-1zM13 29h1v1h-1zM72 29h1v1h-1zM75 29h1v1h-1zM19 31h1v1h-1zM66 31h1v1h-1zM11 35h1v1h-1zM74 35h1v1h-1zM8 36h1v1h-1zM38 36h1v1h-1zM47 36h1v1h-1zM77 36h1v1h-1zM17 37h1v1h-1zM68 37h1v1h-1zM7 39h1v1h-1zM78 39h1v1h-1zM35 40h1v1h-1zM50 40h1v1h-1zM35 45h1v1h-1zM50 45h1v1h-1zM7 46h1v1h-1zM78 46h1v1h-1zM17 48h1v1h-1zM68 48h1v1h-1zM8 49h1v1h-1zM38 49h1v1h-1zM47 49h1v1h-1zM77 49h1v1h-1zM11 50h1v1h-1zM74 50h1v1h-1zM19 54h1v1h-1zM66 54h1v1h-1zM10 56h1v1h-1zM13 56h1v1h-1zM72 56h1v1h-1zM75 56h1v1h-1zM20 57h1v1h-1zM65 57h1v1h-1zM11 58h1v1h-1zM14 58h1v1h-1zM71 58h1v1h-1zM74 58h1v1h-1zM12 61h1v1h-1zM73 61h1v1h-1zM16 66h1v1h-1zM20 66h1v1h-1zM65 66h1v1h-1zM69 66h1v1h-1zM34 68h1v1h-1zM51 68h1v1h-1zM21 71h1v1h-1zM27 71h1v1h-1zM58 71h1v1h-1zM64 71h1v1h-1zM23 72h1v1h-1zM62 72h1v1h-1zM25 73h1v1h-1zM33 73h1v1h-1zM52 73h1v1h-1zM60 73h1v1h-1zM36 74h1v1h-1zM49 74h1v1h-1zM28 75h1v1h-1zM57 75h1v1h-1zM41 78h1v1h-1zM44 78h1v1h-1z"/>
<path fill="#1b1b1b" d="M42 7h2v1h-2zM33 8h5v1h-5zM48 8h5v1h-5zM30 9h1v1h-1zM55 9h1v1h-1zM39 10h1v1h-1zM46 10h1v1h-1zM27 11h1v1h-1zM58 11h1v1h-1zM29 13h1v1h-1zM56 13h1v1h-1zM23 17h1v1h-1zM62 17h1v1h-1zM21 18h1v1h-1zM64 18h1v1h-1zM15 20h1v1h-1zM19 20h1v1h-1zM66 20h1v1h-1zM70 20h1v1h-1zM28 21h1v1h-1zM57 21h1v1h-1zM13 22h1v1h-1zM72 22h1v1h-1zM17 23h1v1h-1zM68 23h1v1h-1zM24 24h1v1h-1zM61 24h1v1h-1zM12 25h1v1h-1zM73 25h1v1h-1zM9 31h1v1h-1zM76 31h1v1h-1zM12 33h1v1h-1zM73 33h1v1h-1zM34 36h1v1h-1zM51 36h1v1h-1zM8 37h1v1h-1zM77 37h1v1h-1zM7 40h1v1h-1zM78 40h1v1h-1zM34 41h1v1h-1zM51 41h1v1h-1zM34 44h1v1h-1zM51 44h1v1h-1zM7 45h1v1h-1zM78 45h1v1h-1zM8 48h1v1h-1zM77 48h1v1h-1zM34 49h1v1h-1zM51 49h1v1h-1zM12 52h1v1h-1zM73 52h1v1h-1zM9 54h1v1h-1zM76 54h1v1h-1zM12 60h1v1h-1zM73 60h1v1h-1zM24 61h1v1h-1zM61 61h1v1h-1zM17 62h1v1h-1zM68 62h1v1h-1zM13 63h1v1h-1zM72 63h1v1h-1zM28 64h1v1h-1zM57 64h1v1h-1zM15 65h1v1h-1zM19 65h1v1h-1zM66 65h1v1h-1zM70 65h1v1h-1zM21 67h1v1h-1zM64 67h1v1h-1zM23 68h1v1h-1zM62 68h1v1h-1zM29 72h1v1h-1zM56 72h1v1h-1zM27 74h1v1h-1zM58 74h1v1h-1zM39 75h1v1h-1zM46 75h1v1h-1zM30 76h1v1h-1zM55 76h1v1h-1zM33 77h5v1h-5zM48 77h5v1h-5zM42 78h2v1h-2z"/>
<path fill="#1c1c1c" d="M38 8h1v1h-1zM47 8h1v1h-1zM31 9h1v1h-1zM54 9h1v1h-1zM29 10h1v1h-1zM38 10h1v1h-1zM40 10h2v1h-2zM44 10h2v1h-2zM47 10h1v1h-1zM56 10h1v1h-1zM35 11h1v1h-1zM50 11h1v1h-1zM32 12h1v1h-1zM53 12h1v1h-1zM25 15h1v1h-1zM60 15h1v1h-1zM24 16h1v1h-1zM61 16h1v1h-1zM35 17h1v1h-1zM50 17h1v1h-1zM31 19h1v1h-1zM54 19h1v1h-1zM14 21h1v1h-1zM71 21h1v1h-1zM13 23h1v1h-1zM72 23h1v1h-1zM16 24h1v1h-1zM69 24h1v1h-1zM13 28h1v1h-1zM72 28h1v1h-1zM12 32h1v1h-1zM73 32h1v1h-1zM18 34h1v1h-1zM31 34h1v1h-1zM54 34h1v1h-1zM67 34h1v1h-1zM35 36h1v1h-1zM50 36h1v1h-1zM7 41h1v1h-1zM16 41h1v1h-1zM69 41h1v1h-1zM78 41h1v1h-1zM7 42h1v1h-1zM32 42h1v1h-1zM53 42h1v1h-1zM78 42h1v1h-1zM7 43h1v1h-1zM32 43h1v1h-1zM53 43h1v1h-1zM78 43h1v1h-1zM7 44h1v1h-1zM16 44h1v1h-1zM69 44h1v1h-1zM78 44h1v1h-1zM35 49h1v1h-1zM50 49h1v1h-1zM18 51h1v1h-1zM31 51h1v1h-1zM54 51h1v1h-1zM67 51h1v1h-1zM12 53h1v1h-1zM73 53h1v1h-1zM13 57h1v1h-1zM72 57h1v1h-1zM16 61h1v1h-1zM69 61h1v1h-1zM13 62h1v1h-1zM72 62h1v1h-1zM14 64h1v1h-1zM71 64h1v1h-1zM31 66h1v1h-1zM54 66h1v1h-1zM35 68h1v1h-1zM50 68h1v1h-1zM24 69h1v1h-1zM61 69h1v1h-1zM25 70h1v1h-1zM60 70h1v1h-1zM32 73h1v1h-1zM53 73h1v1h-1zM35 74h1v1h-1zM50 74h1v1h-1zM29 75h1v1h-1zM38 75h1v1h-1zM40 75h2v1h-2zM44 75h2v1h-2zM47 75h1v1h-1zM56 75h1v1h-1zM31 76h1v1h-1zM54 76h1v1h-1zM38 77h1v1h-1zM47 77h1v1h-1z"/>
<path fill="#1d1d1d" d="M39 8h1v1h-1zM46 8h1v1h-1zM37 10h1v1h-1zM42 10h2v1h-2zM48 10h1v1h-1zM28 11h1v1h-1zM57 11h1v1h-1zM26 12h1v1h-1zM59 12h1v1h-1zM24 13h1v1h-1zM28 13h1v1h-1zM57 13h1v1h-1zM61 13h1v1h-1zM22 14h1v1h-1zM26 14h1v1h-1zM59 14h1v1h-1zM63 14h1v1h-1zM20 16h1v1h-1zM65 16h1v1h-1zM19 17h1v1h-1zM22 17h1v1h-1zM63 17h1v1h-1zM66 17h1v1h-1zM18 18h1v1h-1zM67 18h1v1h-1zM18 21h1v1h-1zM67 21h1v1h-1zM14 22h1v1h-1zM27 22h1v1h-1zM58 22h1v1h-1zM71 22h1v1h-1zM23 25h1v1h-1zM62 25h1v1h-1zM12 26h1v1h-1zM73 26h1v1h-1zM21 27h1v1h-1zM64 27h1v1h-1zM11 28h1v1h-1zM74 28h1v1h-1zM12 31h1v1h-1zM73 31h1v1h-1zM9 32h1v1h-1zM76 32h1v1h-1zM11 34h1v1h-1zM74 34h1v1h-1zM10 37h1v1h-1zM75 37h1v1h-1zM8 38h1v1h-1zM10 38h1v1h-1zM75 38h1v1h-1zM77 38h1v1h-1zM10 39h1v1h-1zM75 39h1v1h-1zM10 40h1v1h-1zM75 40h1v1h-1zM10 41h1v1h-1zM75 41h1v1h-1zM16 42h1v1h-1zM69 42h1v1h-1zM16 43h1v1h-1zM69 43h1v1h-1zM10 44h1v1h-1zM75 44h1v1h-1zM10 45h1v1h-1zM75 45h1v1h-1zM10 46h1v1h-1zM75 46h1v1h-1zM8 47h1v1h-1zM10 47h1v1h-1zM75 47h1v1h-1zM77 47h1v1h-1zM10 48h1v1h-1zM75 48h1v1h-1zM11 51h1v1h-1zM74 51h1v1h-1zM9 53h1v1h-1zM76 53h1v1h-1zM12 54h1v1h-1zM73 54h1v1h-1zM11 57h1v1h-1zM74 57h1v1h-1zM21 58h1v1h-1zM64 58h1v1h-1zM12 59h1v1h-1zM73 59h1v1h-1zM23 60h1v1h-1zM62 60h1v1h-1zM14 63h1v1h-1zM27 63h1v1h-1zM58 63h1v1h-1zM71 63h1v1h-1zM18 64h1v1h-1zM67 64h1v1h-1zM18 67h1v1h-1zM67 67h1v1h-1zM19 68h1v1h-1zM22 68h1v1h-1zM63 68h1v1h-1zM66 68h1v1h-1zM20 69h1v1h-1zM65 69h1v1h-1zM22 71h1v1h-1zM26 71h1v1h-1zM59 71h1v1h-1zM63 71h1v1h-1zM24 72h1v1h-1zM28 72h1v1h-1zM57 72h1v1h-1zM61 72h1v1h-1zM26 73h1v1h-1zM59 73h1v1h-1zM28 74h1v1h-1zM57 74h1v1h-1zM37 75h1v1h-1zM42 75h2v1h-2zM48 75h1v1h-1zM39 77h1v1h-1zM46 77h1v1h-1z"/>
<path fill="#1e1e1e" d="M32 9h1v1h-1zM53 9h1v1h-1zM30 10h1v1h-1zM55 10h1v1h-1zM34 11h1v1h-1zM51 11h1v1h-1zM31 12h1v1h-1zM54 12h1v1h-1zM21 15h1v1h-1zM64 15h1v1h-1zM40 17h2v1h-2zM44 17h2v1h-2zM17 19h1v1h-1zM68 19h1v1h-1zM16 20h1v1h-1zM30 20h1v1h-1zM55 20h1v1h-1zM69 20h1v1h-1zM15 21h1v1h-1zM70 21h1v1h-1zM26 23h1v1h-1zM59 23h1v1h-1zM13 24h1v1h-1zM72 24h1v1h-1zM15 25h1v1h-1zM70 25h1v1h-1zM14 26h1v1h-1zM22 26h1v1h-1zM63 26h1v1h-1zM71 26h1v1h-1zM20 29h1v1h-1zM65 29h1v1h-1zM10 30h1v1h-1zM12 30h1v1h-1zM73 30h1v1h-1zM75 30h1v1h-1zM19 32h1v1h-1zM66 32h1v1h-1zM9 33h1v1h-1zM76 33h1v1h-1zM18 35h1v1h-1zM67 35h1v1h-1zM10 36h1v1h-1zM75 36h1v1h-1zM17 38h1v1h-1zM68 38h1v1h-1zM8 39h1v1h-1zM77 39h1v1h-1zM10 42h1v1h-1zM75 42h1v1h-1zM10 43h1v1h-1zM75 43h1v1h-1zM8 46h1v1h-1zM77 46h1v1h-1zM17 47h1v1h-1zM68 47h1v1h-1zM10 49h1v1h-1zM75 49h1v1h-1zM18 50h1v1h-1zM67 50h1v1h-1zM9 52h1v1h-1zM76 52h1v1h-1zM19 53h1v1h-1zM66 53h1v1h-1zM10 55h1v1h-1zM12 55h1v1h-1zM73 55h1v1h-1zM75 55h1v1h-1zM20 56h1v1h-1zM65 56h1v1h-1zM14 59h1v1h-1zM22 59h1v1h-1zM63 59h1v1h-1zM71 59h1v1h-1zM15 60h1v1h-1zM70 60h1v1h-1zM13 61h1v1h-1zM72 61h1v1h-1zM26 62h1v1h-1zM59 62h1v1h-1zM15 64h1v1h-1zM70 64h1v1h-1zM16 65h1v1h-1zM30 65h1v1h-1zM55 65h1v1h-1zM69 65h1v1h-1zM17 66h1v1h-1zM68 66h1v1h-1zM40 68h2v1h-2zM44 68h2v1h-2zM21 70h1v1h-1zM64 70h1v1h-1zM31 73h1v1h-1zM54 73h1v1h-1zM34 74h1v1h-1zM51 74h1v1h-1zM30 75h1v1h-1zM55 75h1v1h-1zM32 76h1v1h-1zM53 76h1v1h-1z"/>
<path fill="#1f1f1f" d="M40 8h1v1h-1zM45 8h1v1h-1zM33 9h2v1h-2zM51 9h2v1h-2zM36 10h1v1h-1zM49 10h1v1h-1zM27 12h1v1h-1zM58 12h1v1h-1zM27 13h1v1h-1zM58 13h1v1h-1zM36 17h1v1h-1zM42 17h2v1h-2zM49 17h1v1h-1zM20 18h1v1h-1zM33 18h1v1h-1zM52 18h1v1h-1zM65 18h1v1h-1zM19 19h1v1h-1zM66 19h1v1h-1zM29 21h1v1h-1zM56 21h1v1h-1zM17 22h1v1h-1zM68 22h1v1h-1zM12 27h2v1h-2zM72 27h2v1h-2zM12 29h1v1h-1zM38 29h1v1h-1zM47 29h1v1h-1zM73 29h1v1h-1zM11 33h1v1h-1zM19 33h1v1h-1zM66 33h1v1h-1zM74 33h1v1h-1zM9 34h1v1h-1zM76 34h1v1h-1zM9 35h1v1h-1zM76 35h1v1h-1zM9 36h1v1h-1zM18 36h1v1h-1zM67 36h1v1h-1zM76 36h1v1h-1zM8 40h1v1h-1zM77 40h1v1h-1zM28 42h1v1h-1zM57 42h1v1h-1zM28 43h1v1h-1zM57 43h1v1h-1zM8 45h1v1h-1zM77 45h1v1h-1zM9 49h1v1h-1zM18 49h1v1h-1zM67 49h1v1h-1zM76 49h1v1h-1zM9 50h1v1h-1zM76 50h1v1h-1zM9 51h1v1h-1zM76 51h1v1h-1zM11 52h1v1h-1zM19 52h1v1h-1zM66 52h1v1h-1zM74 52h1v1h-1zM12 56h1v1h-1zM38 56h1v1h-1zM47 56h1v1h-1zM73 56h1v1h-1zM12 58h2v1h-2zM72 58h2v1h-2zM17 63h1v1h-1zM68 63h1v1h-1zM29 64h1v1h-1zM56 64h1v1h-1zM19 66h1v1h-1zM66 66h1v1h-1zM20 67h1v1h-1zM33 67h1v1h-1zM52 67h1v1h-1zM65 67h1v1h-1zM36 68h1v1h-1zM42 68h2v1h-2zM49 68h1v1h-1zM27 72h1v1h-1zM58 72h1v1h-1zM27 73h1v1h-1zM58 73h1v1h-1zM36 75h1v1h-1zM49 75h1v1h-1zM33 76h2v1h-2zM51 76h2v1h-2zM40 77h1v1h-1zM45 77h1v1h-1z"/>
<path fill="#202020" d="M41 8h1v1h-1zM44 8h1v1h-1zM35 9h5v1h-5zM46 9h5v1h-5zM29 11h1v1h-1zM33 11h1v1h-1zM52 11h1v1h-1zM56 11h1v1h-1zM28 12h1v1h-1zM30 12h1v1h-1zM55 12h1v1h-1zM57 12h1v1h-1zM25 13h2v1h-2zM59 13h2v1h-2zM25 14h1v1h-1zM60 14h1v1h-1zM24 15h1v1h-1zM61 15h1v1h-1zM23 16h1v1h-1zM62 16h1v1h-1zM20 17h2v1h-2zM39 17h1v1h-1zM46 17h1v1h-1zM64 17h2v1h-2zM19 18h1v1h-1zM66 18h1v1h-1zM18 19h1v1h-1zM67 19h1v1h-1zM18 20h1v1h-1zM67 20h1v1h-1zM14 23h1v1h-1zM71 23h1v1h-1zM13 25h1v1h-1zM72 25h1v1h-1zM12 28h1v1h-1zM73 28h1v1h-1zM11 29h1v1h-1zM74 29h1v1h-1zM29 32h1v1h-1zM39 32h1v1h-1zM46 32h1v1h-1zM56 32h1v1h-1zM10 35h1v1h-1zM75 35h1v1h-1zM9 37h1v1h-1zM76 37h1v1h-1zM9 38h1v1h-1zM76 38h1v1h-1zM8 41h1v1h-1zM77 41h1v1h-1zM8 44h1v1h-1zM77 44h1v1h-1zM9 47h1v1h-1zM76 47h1v1h-1zM9 48h1v1h-1zM76 48h1v1h-1zM10 50h1v1h-1zM75 50h1v1h-1zM29 53h1v1h-1zM39 53h1v1h-1zM46 53h1v1h-1zM56 53h1v1h-1zM11 56h1v1h-1zM74 56h1v1h-1zM12 57h1v1h-1zM73 57h1v1h-1zM13 60h1v1h-1zM72 60h1v1h-1zM14 62h1v1h-1zM71 62h1v1h-1zM18 65h1v1h-1zM67 65h1v1h-1zM18 66h1v1h-1zM67 66h1v1h-1zM19 67h1v1h-1zM66 67h1v1h-1zM20 68h2v1h-2zM39 68h1v1h-1zM46 68h1v1h-1zM64 68h2v1h-2zM23 69h1v1h-1zM62 69h1v1h-1zM24 70h1v1h-1zM61 70h1v1h-1zM25 71h1v1h-1zM60 71h1v1h-1zM25 72h2v1h-2zM59 72h2v1h-2zM28 73h1v1h-1zM30 73h1v1h-1zM55 73h1v1h-1zM57 73h1v1h-1zM29 74h1v1h-1zM33 74h1v1h-1zM52 74h1v1h-1zM56 74h1v1h-1zM35 76h5v1h-5zM46 76h5v1h-5zM41 77h1v1h-1zM44 77h1v1h-1z"/>
<path fill="#212121" d="M42 8h2v1h-2zM40 9h1v1h-1zM45 9h1v1h-1zM31 10h1v1h-1zM35 10h1v1h-1zM50 10h1v1h-1zM54 10h1v1h-1zM29 12h1v1h-1zM56 12h1v1h-1zM23 14h1v1h-1zM62 14h1v1h-1zM37 17h2v1h-2zM47 17h2v1h-2zM17 20h1v1h-1zM68 20h1v1h-1zM28 22h2v1h-2zM56 22h2v1h-2zM16 23h1v1h-1zM27 23h1v1h-1zM58 23h1v1h-1zM69 23h1v1h-1zM13 26h1v1h-1zM72 26h1v1h-1zM39 27h1v1h-1zM46 27h1v1h-1zM10 31h1v1h-1zM75 31h1v1h-1zM11 32h1v1h-1zM74 32h1v1h-1zM19 34h1v1h-1zM66 34h1v1h-1zM9 39h1v1h-1zM76 39h1v1h-1zM8 42h1v1h-1zM77 42h1v1h-1zM8 43h1v1h-1zM77 43h1v1h-1zM9 46h1v1h-1zM76 46h1v1h-1zM19 51h1v1h-1zM66 51h1v1h-1zM11 53h1v1h-1zM74 53h1v1h-1zM10 54h1v1h-1zM75 54h1v1h-1zM39 58h1v1h-1zM46 58h1v1h-1zM13 59h1v1h-1zM72 59h1v1h-1zM16 62h1v1h-1zM27 62h1v1h-1zM58 62h1v1h-1zM69 62h1v1h-1zM28 63h2v1h-2zM56 63h2v1h-2zM17 65h1v1h-1zM68 65h1v1h-1zM37 68h2v1h-2zM47 68h2v1h-2zM23 71h1v1h-1zM62 71h1v1h-1zM29 73h1v1h-1zM56 73h1v1h-1zM31 75h1v1h-1zM35 75h1v1h-1zM50 75h1v1h-1zM54 75h1v1h-1zM40 76h1v1h-1zM45 76h1v1h-1zM42 77h2v1h-2z"/>
<path fill="#222222" d="M41 9h1v1h-1zM44 9h1v1h-1zM32 10h1v1h-1zM34 10h1v1h-1zM51 10h1v1h-1zM53 10h1v1h-1zM30 11h1v1h-1zM32 11h1v1h-1zM53 11h1v1h-1zM55 11h1v1h-1zM24 14h1v1h-1zM61 14h1v1h-1zM22 15h1v1h-1zM63 15h1v1h-1zM21 16h2v1h-2zM63 16h2v1h-2zM41 18h4v1h-4zM16 21h2v1h-2zM68 21h2v1h-2zM15 22h1v1h-1zM70 22h1v1h-1zM14 24h2v1h-2zM70 24h2v1h-2zM14 25h1v1h-1zM71 25h1v1h-1zM30 26h1v1h-1zM55 26h1v1h-1zM11 30h1v1h-1zM74 30h1v1h-1zM11 31h1v1h-1zM74 31h1v1h-1zM10 34h1v1h-1zM75 34h1v1h-1zM19 35h1v1h-1zM66 35h1v1h-1zM19 36h1v1h-1zM36 36h1v1h-1zM49 36h1v1h-1zM66 36h1v1h-1zM18 37h1v1h-1zM67 37h1v1h-1zM9 40h1v1h-1zM76 40h1v1h-1zM9 45h1v1h-1zM76 45h1v1h-1zM18 48h1v1h-1zM67 48h1v1h-1zM19 49h1v1h-1zM36 49h1v1h-1zM49 49h1v1h-1zM66 49h1v1h-1zM19 50h1v1h-1zM66 50h1v1h-1zM10 51h1v1h-1zM75 51h1v1h-1zM11 54h1v1h-1zM74 54h1v1h-1zM11 55h1v1h-1zM74 55h1v1h-1zM30 59h1v1h-1zM55 59h1v1h-1zM14 60h1v1h-1zM71 60h1v1h-1zM14 61h2v1h-2zM70 61h2v1h-2zM15 63h1v1h-1zM70 63h1v1h-1zM16 64h2v1h-2zM68 64h2v1h-2zM41 67h4v1h-4zM21 69h2v1h-2zM63 69h2v1h-2zM22 70h1v1h-1zM63 70h1v1h-1zM24 71h1v1h-1zM61 71h1v1h-1zM30 74h1v1h-1zM32 74h1v1h-1zM53 74h1v1h-1zM55 74h1v1h-1zM32 75h1v1h-1zM34 75h1v1h-1zM51 75h1v1h-1zM53 75h1v1h-1zM41 76h1v1h-1zM44 76h1v1h-1z"/>
<path fill="#232323" d="M42 9h2v1h-2zM33 10h1v1h-1zM52 10h1v1h-1zM31 11h1v1h-1zM54 11h1v1h-1zM23 15h1v1h-1zM62 15h1v1h-1zM16 22h1v1h-1zM69 22h1v1h-1zM15 23h1v1h-1zM28 23h1v1h-1zM57 23h1v1h-1zM70 23h1v1h-1zM25 24h1v1h-1zM60 24h1v1h-1zM31 25h1v1h-1zM54 25h1v1h-1zM38 26h1v1h-1zM47 26h1v1h-1zM10 32h1v1h-1zM75 32h1v1h-1zM10 33h1v1h-1zM75 33h1v1h-1zM9 41h1v1h-1zM76 41h1v1h-1zM9 42h1v1h-1zM76 42h1v1h-1zM9 43h1v1h-1zM76 43h1v1h-1zM9 44h1v1h-1zM76 44h1v1h-1zM10 52h1v1h-1zM75 52h1v1h-1zM10 53h1v1h-1zM75 53h1v1h-1zM38 59h1v1h-1zM47 59h1v1h-1zM31 60h1v1h-1zM54 60h1v1h-1zM25 61h1v1h-1zM60 61h1v1h-1zM15 62h1v1h-1zM28 62h1v1h-1zM57 62h1v1h-1zM70 62h1v1h-1zM16 63h1v1h-1zM69 63h1v1h-1zM23 70h1v1h-1zM62 70h1v1h-1zM31 74h1v1h-1zM54 74h1v1h-1zM33 75h1v1h-1zM52 75h1v1h-1zM42 76h2v1h-2z"/>
<path fill="#242424" d="M42 20h2v1h-2zM30 21h1v1h-1zM42 21h2v1h-2zM55 21h1v1h-1zM42 22h2v1h-2zM29 23h1v1h-1zM56 23h1v1h-1zM26 24h1v1h-1zM30 24h1v1h-1zM55 24h1v1h-1zM59 24h1v1h-1zM29 25h1v1h-1zM56 25h1v1h-1zM20 34h1v1h-1zM65 34h1v1h-1zM21 35h1v1h-1zM23 35h1v1h-1zM62 35h1v1h-1zM64 35h1v1h-1zM21 36h1v1h-1zM23 36h1v1h-1zM37 36h1v1h-1zM48 36h1v1h-1zM62 36h1v1h-1zM64 36h1v1h-1zM17 39h1v1h-1zM68 39h1v1h-1zM17 46h1v1h-1zM68 46h1v1h-1zM21 49h1v1h-1zM23 49h1v1h-1zM37 49h1v1h-1zM48 49h1v1h-1zM62 49h1v1h-1zM64 49h1v1h-1zM21 50h1v1h-1zM23 50h1v1h-1zM62 50h1v1h-1zM64 50h1v1h-1zM20 51h1v1h-1zM65 51h1v1h-1zM29 60h1v1h-1zM56 60h1v1h-1zM26 61h1v1h-1zM30 61h1v1h-1zM55 61h1v1h-1zM59 61h1v1h-1zM29 62h1v1h-1zM56 62h1v1h-1zM42 63h2v1h-2zM30 64h1v1h-1zM42 64h2v1h-2zM55 64h1v1h-1zM42 65h2v1h-2z"/>
<path fill="#252525" d="M42 19h2v1h-2zM27 24h3v1h-3zM56 24h3v1h-3zM30 25h1v1h-1zM55 25h1v1h-1zM20 33h1v1h-1zM31 33h1v1h-1zM54 33h1v1h-1zM65 33h1v1h-1zM20 35h1v1h-1zM22 35h1v1h-1zM63 35h1v1h-1zM65 35h1v1h-1zM20 36h1v1h-1zM22 36h1v1h-1zM63 36h1v1h-1zM65 36h1v1h-1zM20 49h1v1h-1zM22 49h1v1h-1zM63 49h1v1h-1zM65 49h1v1h-1zM20 50h1v1h-1zM22 50h1v1h-1zM63 50h1v1h-1zM65 50h1v1h-1zM20 52h1v1h-1zM31 52h1v1h-1zM54 52h1v1h-1zM65 52h1v1h-1zM30 60h1v1h-1zM55 60h1v1h-1zM27 61h3v1h-3zM56 61h3v1h-3zM42 66h2v1h-2z"/>
<path fill="#262626" d="M40 18h1v1h-1zM45 18h1v1h-1zM42 34h2v1h-2zM33 36h1v1h-1zM52 36h1v1h-1zM22 37h1v1h-1zM63 37h1v1h-1zM22 48h1v1h-1zM63 48h1v1h-1zM33 49h1v1h-1zM52 49h1v1h-1zM42 51h2v1h-2zM40 67h1v1h-1zM45 67h1v1h-1z"/>
<path fill="#272727" d="M41 19h1v1h-1zM44 19h1v1h-1zM30 23h1v1h-1zM55 23h1v1h-1zM20 30h1v1h-1zM65 30h1v1h-1zM20 32h1v1h-1zM65 32h1v1h-1zM23 37h1v1h-1zM62 37h1v1h-1zM23 48h1v1h-1zM62 48h1v1h-1zM20 53h1v1h-1zM65 53h1v1h-1zM20 55h1v1h-1zM65 55h1v1h-1zM30 62h1v1h-1zM55 62h1v1h-1zM41 66h1v1h-1zM44 66h1v1h-1z"/>
<path fill="#282828" d="M32 19h1v1h-1zM53 19h1v1h-1zM30 22h1v1h-1zM55 22h1v1h-1zM28 25h1v1h-1zM57 25h1v1h-1zM29 26h1v1h-1zM37 26h1v1h-1zM48 26h1v1h-1zM56 26h1v1h-1zM21 34h1v1h-1zM64 34h1v1h-1zM38 35h1v1h-1zM47 35h1v1h-1zM19 37h1v1h-1zM66 37h1v1h-1zM34 38h1v1h-1zM51 38h1v1h-1zM26 41h1v1h-1zM59 41h1v1h-1zM26 44h1v1h-1zM59 44h1v1h-1zM34 47h1v1h-1zM51 47h1v1h-1zM19 48h1v1h-1zM66 48h1v1h-1zM38 50h1v1h-1zM47 50h1v1h-1zM21 51h1v1h-1zM64 51h1v1h-1zM29 59h1v1h-1zM37 59h1v1h-1zM48 59h1v1h-1zM56 59h1v1h-1zM28 60h1v1h-1zM57 60h1v1h-1zM30 63h1v1h-1zM55 63h1v1h-1zM32 66h1v1h-1zM53 66h1v1h-1z"/>
<path fill="#292929" d="M31 20h1v1h-1zM41 20h1v1h-1zM44 20h1v1h-1zM54 20h1v1h-1zM21 28h1v1h-1zM64 28h1v1h-1zM28 33h1v1h-1zM57 33h1v1h-1zM21 37h1v1h-1zM64 37h1v1h-1zM18 38h1v1h-1zM67 38h1v1h-1zM31 42h1v1h-1zM54 42h1v1h-1zM31 43h1v1h-1zM54 43h1v1h-1zM18 47h1v1h-1zM67 47h1v1h-1zM21 48h1v1h-1zM64 48h1v1h-1zM28 52h1v1h-1zM57 52h1v1h-1zM21 57h1v1h-1zM64 57h1v1h-1zM31 65h1v1h-1zM41 65h1v1h-1zM44 65h1v1h-1zM54 65h1v1h-1z"/>
<path fill="#2a2a2a" d="M34 18h1v1h-1zM51 18h1v1h-1zM41 22h1v1h-1zM44 22h1v1h-1zM31 26h1v1h-1zM54 26h1v1h-1zM20 31h1v1h-1zM39 31h1v1h-1zM46 31h1v1h-1zM65 31h1v1h-1zM40 32h1v1h-1zM45 32h1v1h-1zM27 41h1v1h-1zM58 41h1v1h-1zM27 44h1v1h-1zM58 44h1v1h-1zM40 53h1v1h-1zM45 53h1v1h-1zM20 54h1v1h-1zM39 54h1v1h-1zM46 54h1v1h-1zM65 54h1v1h-1zM31 59h1v1h-1zM54 59h1v1h-1zM41 63h1v1h-1zM44 63h1v1h-1zM34 67h1v1h-1zM51 67h1v1h-1z"/>
<path fill="#2b2b2b" d="M36 27h1v1h-1zM49 27h1v1h-1zM20 37h1v1h-1zM65 37h1v1h-1zM20 48h1v1h-1zM65 48h1v1h-1zM36 58h1v1h-1zM49 58h1v1h-1z"/>
<path fill="#2c2c2c" d="M41 21h1v1h-1zM44 21h1v1h-1zM24 25h1v1h-1zM61 25h1v1h-1zM17 40h1v1h-1zM68 40h1v1h-1zM17 45h1v1h-1zM68 45h1v1h-1zM24 60h1v1h-1zM61 60h1v1h-1zM41 64h1v1h-1zM44 64h1v1h-1z"/>
<path fill="#2d2d2d" d="M39 18h1v1h-1zM46 18h1v1h-1zM31 24h1v1h-1zM54 24h1v1h-1zM36 28h1v1h-1zM49 28h1v1h-1zM33 41h1v1h-1zM52 41h1v1h-1zM25 42h1v1h-1zM60 42h1v1h-1zM25 43h1v1h-1zM60 43h1v1h-1zM33 44h1v1h-1zM52 44h1v1h-1zM36 57h1v1h-1zM49 57h1v1h-1zM31 61h1v1h-1zM54 61h1v1h-1zM39 67h1v1h-1zM46 67h1v1h-1z"/>
<path fill="#2e2e2e" d="M39 28h1v1h-1zM46 28h1v1h-1zM41 33h1v1h-1zM44 33h1v1h-1zM22 34h1v1h-1zM63 34h1v1h-1zM22 51h1v1h-1zM63 51h1v1h-1zM41 52h1v1h-1zM44 52h1v1h-1zM39 57h1v1h-1zM46 57h1v1h-1z"/>
<path fill="#2f2f2f" d="M29 27h2v1h-2zM55 27h2v1h-2zM29 58h2v1h-2zM55 58h2v1h-2z"/>
<path fill="#303030" d="M25 25h1v1h-1zM32 25h1v1h-1zM53 25h1v1h-1zM60 25h1v1h-1zM33 35h1v1h-1zM52 35h1v1h-1zM33 50h1v1h-1zM52 50h1v1h-1zM25 60h1v1h-1zM32 60h1v1h-1zM53 60h1v1h-1zM60 60h1v1h-1z"/>
<path fill="#313131" d="M24 35h1v1h-1zM61 35h1v1h-1zM24 50h1v1h-1zM61 50h1v1h-1z"/>
<path fill="#323232" d="M31 21h1v1h-1zM54 21h1v1h-1zM27 25h1v1h-1zM58 25h1v1h-1zM23 26h1v1h-1zM62 26h1v1h-1zM22 27h1v1h-1zM63 27h1v1h-1zM38 34h1v1h-1zM47 34h1v1h-1zM38 51h1v1h-1zM47 51h1v1h-1zM22 58h1v1h-1zM63 58h1v1h-1zM23 59h1v1h-1zM62 59h1v1h-1zM27 60h1v1h-1zM58 60h1v1h-1zM31 64h1v1h-1zM54 64h1v1h-1z"/>
<path fill="#333333" d="M38 18h1v1h-1zM47 18h1v1h-1zM31 23h1v1h-1zM54 23h1v1h-1zM37 29h1v1h-1zM48 29h1v1h-1zM24 36h1v1h-1zM61 36h1v1h-1zM17 41h1v1h-1zM68 41h1v1h-1zM17 44h1v1h-1zM68 44h1v1h-1zM24 49h1v1h-1zM61 49h1v1h-1zM37 56h1v1h-1zM48 56h1v1h-1zM31 62h1v1h-1zM54 62h1v1h-1zM38 67h1v1h-1zM47 67h1v1h-1z"/>
<path fill="#343434" d="M35 18h1v1h-1zM50 18h1v1h-1zM40 19h1v1h-1zM45 19h1v1h-1zM21 33h1v1h-1zM64 33h1v1h-1zM28 34h1v1h-1zM57 34h1v1h-1zM33 37h1v1h-1zM52 37h1v1h-1zM23 38h1v1h-1zM62 38h1v1h-1zM23 47h1v1h-1zM62 47h1v1h-1zM33 48h1v1h-1zM52 48h1v1h-1zM28 51h1v1h-1zM57 51h1v1h-1zM21 52h1v1h-1zM64 52h1v1h-1zM40 66h1v1h-1zM45 66h1v1h-1zM35 67h1v1h-1zM50 67h1v1h-1z"/>
<path fill="#353535" d="M42 23h2v1h-2zM32 26h1v1h-1zM53 26h1v1h-1zM18 39h1v1h-1zM67 39h1v1h-1zM34 40h1v1h-1zM51 40h1v1h-1zM34 45h1v1h-1zM51 45h1v1h-1zM18 46h1v1h-1zM67 46h1v1h-1zM32 59h1v1h-1zM53 59h1v1h-1zM42 62h2v1h-2z"/>
<path fill="#363636" d="M26 25h1v1h-1zM59 25h1v1h-1zM28 26h1v1h-1zM57 26h1v1h-1zM28 59h1v1h-1zM57 59h1v1h-1zM26 60h1v1h-1zM59 60h1v1h-1z"/>
<path fill="#373737" d="M33 19h1v1h-1zM52 19h1v1h-1zM41 23h1v1h-1zM44 23h1v1h-1zM21 29h1v1h-1zM64 29h1v1h-1zM38 32h1v1h-1zM47 32h1v1h-1zM34 35h1v1h-1zM51 35h1v1h-1zM17 42h1v1h-1zM68 42h1v1h-1zM17 43h1v1h-1zM68 43h1v1h-1zM34 50h1v1h-1zM51 50h1v1h-1zM38 53h1v1h-1zM47 53h1v1h-1zM21 56h1v1h-1zM64 56h1v1h-1zM41 62h1v1h-1zM44 62h1v1h-1zM33 66h1v1h-1zM52 66h1v1h-1z"/>
<path fill="#383838" d="M37 18h1v1h-1zM48 18h1v1h-1zM32 20h1v1h-1zM53 20h1v1h-1zM36 26h1v1h-1zM39 26h1v1h-1zM46 26h1v1h-1zM49 26h1v1h-1zM31 32h1v1h-1zM54 32h1v1h-1zM24 37h1v1h-1zM61 37h1v1h-1zM19 38h1v1h-1zM22 38h1v1h-1zM63 38h1v1h-1zM66 38h1v1h-1zM34 39h1v1h-1zM51 39h1v1h-1zM25 41h1v1h-1zM60 41h1v1h-1zM30 42h1v1h-1zM55 42h1v1h-1zM30 43h1v1h-1zM55 43h1v1h-1zM25 44h1v1h-1zM60 44h1v1h-1zM34 46h1v1h-1zM51 46h1v1h-1zM19 47h1v1h-1zM22 47h1v1h-1zM63 47h1v1h-1zM66 47h1v1h-1zM24 48h1v1h-1zM61 48h1v1h-1zM31 53h1v1h-1zM54 53h1v1h-1zM36 59h1v1h-1zM39 59h1v1h-1zM46 59h1v1h-1zM49 59h1v1h-1zM32 65h1v1h-1zM53 65h1v1h-1zM37 67h1v1h-1zM48 67h1v1h-1z"/>
<path fill="#393939" d="M36 18h1v1h-1zM49 18h1v1h-1zM31 27h1v1h-1zM54 27h1v1h-1zM32 35h1v1h-1zM53 35h1v1h-1zM32 50h1v1h-1zM53 50h1v1h-1zM31 58h1v1h-1zM54 58h1v1h-1zM36 67h1v1h-1zM49 67h1v1h-1z"/>
<path fill="#3a3a3a" d="M29 31h1v1h-1zM56 31h1v1h-1zM23 34h1v1h-1zM62 34h1v1h-1zM23 51h1v1h-1zM62 51h1v1h-1zM29 54h1v1h-1zM56 54h1v1h-1z"/>
<path fill="#3b3b3b" d="M40 20h1v1h-1zM45 20h1v1h-1zM31 22h1v1h-1zM54 22h1v1h-1zM30 28h1v1h-1zM55 28h1v1h-1zM21 30h1v1h-1zM64 30h1v1h-1zM38 31h1v1h-1zM47 31h1v1h-1zM38 33h1v1h-1zM47 33h1v1h-1zM29 42h1v1h-1zM56 42h1v1h-1zM29 43h1v1h-1zM56 43h1v1h-1zM38 52h1v1h-1zM47 52h1v1h-1zM38 54h1v1h-1zM47 54h1v1h-1zM21 55h1v1h-1zM64 55h1v1h-1zM30 57h1v1h-1zM55 57h1v1h-1zM31 63h1v1h-1zM54 63h1v1h-1zM40 65h1v1h-1zM45 65h1v1h-1z"/>
<path fill="#3c3c3c" d="M39 29h1v1h-1zM46 29h1v1h-1zM28 32h1v1h-1zM57 32h1v1h-1zM30 35h1v1h-1zM55 35h1v1h-1zM30 50h1v1h-1zM55 50h1v1h-1zM28 53h1v1h-1zM57 53h1v1h-1zM39 56h1v1h-1zM46 56h1v1h-1z"/>
<path fill="#3d3d3d" d="M38 30h1v1h-1zM47 30h1v1h-1zM31 35h1v1h-1zM54 35h1v1h-1zM24 38h1v1h-1zM61 38h1v1h-1zM24 47h1v1h-1zM61 47h1v1h-1zM31 50h1v1h-1zM54 50h1v1h-1zM38 55h1v1h-1zM47 55h1v1h-1z"/>
<path fill="#3e3e3e" d="M24 26h1v1h-1zM61 26h1v1h-1zM25 35h1v1h-1zM60 35h1v1h-1zM20 38h1v1h-1zM65 38h1v1h-1zM20 47h1v1h-1zM65 47h1v1h-1zM25 50h1v1h-1zM60 50h1v1h-1zM24 59h1v1h-1zM61 59h1v1h-1z"/>
<path fill="#3f3f3f" d="M39 30h1v1h-1zM46 30h1v1h-1zM21 32h1v1h-1zM64 32h1v1h-1zM21 53h1v1h-1zM64 53h1v1h-1zM39 55h1v1h-1zM46 55h1v1h-1z"/>
<path fill="#404040" d="M33 26h1v1h-1zM52 26h1v1h-1zM30 31h1v1h-1zM55 31h1v1h-1zM22 33h1v1h-1zM63 33h1v1h-1zM24 34h1v1h-1zM61 34h1v1h-1zM32 36h1v1h-1zM53 36h1v1h-1zM21 38h1v1h-1zM64 38h1v1h-1zM21 47h1v1h-1zM64 47h1v1h-1zM32 49h1v1h-1zM53 49h1v1h-1zM24 51h1v1h-1zM61 51h1v1h-1zM22 52h1v1h-1zM63 52h1v1h-1zM30 54h1v1h-1zM55 54h1v1h-1zM33 59h1v1h-1zM52 59h1v1h-1z"/>
<path fill="#414141" d="M21 31h1v1h-1zM64 31h1v1h-1zM21 54h1v1h-1zM64 54h1v1h-1z"/>
<path fill="#424242" d="M32 34h1v1h-1zM53 34h1v1h-1zM32 51h1v1h-1zM53 51h1v1h-1z"/>
<path fill="#434343" d="M38 25h2v1h-2zM46 25h2v1h-2zM22 28h1v1h-1zM63 28h1v1h-1zM27 34h1v1h-1zM58 34h1v1h-1zM32 41h1v1h-1zM53 41h1v1h-1zM32 44h1v1h-1zM53 44h1v1h-1zM27 51h1v1h-1zM58 51h1v1h-1zM22 57h1v1h-1zM63 57h1v1h-1zM38 60h2v1h-2zM46 60h2v1h-2z"/>
<path fill="#444444" d="M40 22h1v1h-1zM45 22h1v1h-1zM27 26h1v1h-1zM58 26h1v1h-1zM40 31h1v1h-1zM45 31h1v1h-1zM18 40h1v1h-1zM67 40h1v1h-1zM18 45h1v1h-1zM67 45h1v1h-1zM40 54h1v1h-1zM45 54h1v1h-1zM27 59h1v1h-1zM58 59h1v1h-1zM40 63h1v1h-1zM45 63h1v1h-1z"/>
<path fill="#454545" d="M34 19h1v1h-1zM51 19h1v1h-1zM29 35h1v1h-1zM37 35h1v1h-1zM48 35h1v1h-1zM56 35h1v1h-1zM29 50h1v1h-1zM37 50h1v1h-1zM48 50h1v1h-1zM56 50h1v1h-1zM34 66h1v1h-1zM51 66h1v1h-1z"/>
<path fill="#464646" d="M35 26h1v1h-1zM50 26h1v1h-1zM23 27h1v1h-1zM32 27h1v1h-1zM53 27h1v1h-1zM62 27h1v1h-1zM29 28h1v1h-1zM56 28h1v1h-1zM24 39h1v1h-1zM61 39h1v1h-1zM24 46h1v1h-1zM61 46h1v1h-1zM29 57h1v1h-1zM56 57h1v1h-1zM23 58h1v1h-1zM32 58h1v1h-1zM53 58h1v1h-1zM62 58h1v1h-1zM35 59h1v1h-1zM50 59h1v1h-1z"/>
<path fill="#474747" d="M32 24h1v1h-1zM53 24h1v1h-1zM35 27h1v1h-1zM50 27h1v1h-1zM27 33h1v1h-1zM58 33h1v1h-1zM25 40h1v1h-1zM60 40h1v1h-1zM25 45h1v1h-1zM60 45h1v1h-1zM27 52h1v1h-1zM58 52h1v1h-1zM35 58h1v1h-1zM50 58h1v1h-1zM32 61h1v1h-1zM53 61h1v1h-1z"/>
<path fill="#484848" d="M39 19h1v1h-1zM46 19h1v1h-1zM40 23h1v1h-1zM45 23h1v1h-1zM40 24h1v1h-1zM45 24h1v1h-1zM25 36h1v1h-1zM60 36h1v1h-1zM25 49h1v1h-1zM60 49h1v1h-1zM40 61h1v1h-1zM45 61h1v1h-1zM40 62h1v1h-1zM45 62h1v1h-1zM39 66h1v1h-1zM46 66h1v1h-1z"/>
<path fill="#494949" d="M41 24h1v1h-1zM44 24h1v1h-1zM41 61h1v1h-1zM44 61h1v1h-1z"/>
<path fill="#4a4a4a" d="M40 21h1v1h-1zM45 21h1v1h-1zM33 25h1v1h-1zM52 25h1v1h-1zM34 26h1v1h-1zM51 26h1v1h-1zM26 34h1v1h-1zM59 34h1v1h-1zM26 51h1v1h-1zM59 51h1v1h-1zM34 59h1v1h-1zM51 59h1v1h-1zM33 60h1v1h-1zM52 60h1v1h-1zM40 64h1v1h-1zM45 64h1v1h-1z"/>
<path fill="#4b4b4b" d="M30 29h1v1h-1zM55 29h1v1h-1zM29 30h2v1h-2zM55 30h2v1h-2zM42 33h2v1h-2zM35 35h1v1h-1zM50 35h1v1h-1zM35 50h1v1h-1zM50 50h1v1h-1zM42 52h2v1h-2zM29 55h2v1h-2zM55 55h2v1h-2zM30 56h1v1h-1zM55 56h1v1h-1z"/>
<path fill="#4c4c4c" d="M28 41h1v1h-1zM57 41h1v1h-1zM28 44h1v1h-1zM57 44h1v1h-1z"/>
<path fill="#4d4d4d" d="M25 34h1v1h-1zM60 34h1v1h-1zM23 39h1v1h-1zM62 39h1v1h-1zM23 46h1v1h-1zM62 46h1v1h-1zM25 51h1v1h-1zM60 51h1v1h-1z"/>
<path fill="#4e4e4e" d="M37 25h1v1h-1zM48 25h1v1h-1zM31 28h1v1h-1zM54 28h1v1h-1zM24 40h1v1h-1zM61 40h1v1h-1zM24 45h1v1h-1zM61 45h1v1h-1zM31 57h1v1h-1zM54 57h1v1h-1zM37 60h1v1h-1zM48 60h1v1h-1z"/>
<path fill="#4f4f4f" d="M42 24h2v1h-2zM29 29h1v1h-1zM56 29h1v1h-1zM29 56h1v1h-1zM56 56h1v1h-1zM42 61h2v1h-2z"/>
<path fill="#505050" d="M32 23h1v1h-1zM53 23h1v1h-1zM40 25h1v1h-1zM45 25h1v1h-1zM28 27h1v1h-1zM57 27h1v1h-1zM26 35h1v1h-1zM59 35h1v1h-1zM31 41h1v1h-1zM54 41h1v1h-1zM31 44h1v1h-1zM54 44h1v1h-1zM26 50h1v1h-1zM59 50h1v1h-1zM28 58h1v1h-1zM57 58h1v1h-1zM40 60h1v1h-1zM45 60h1v1h-1zM32 62h1v1h-1zM53 62h1v1h-1z"/>
<path fill="#515151" d="M32 21h1v1h-1zM53 21h1v1h-1zM32 64h1v1h-1zM53 64h1v1h-1z"/>
<path fill="#525252" d="M41 32h1v1h-1zM44 32h1v1h-1zM41 53h1v1h-1zM44 53h1v1h-1z"/>
<path fill="#535353" d="M33 20h1v1h-1zM52 20h1v1h-1zM39 24h1v1h-1zM46 24h1v1h-1zM25 26h1v1h-1zM60 26h1v1h-1zM19 39h1v1h-1zM66 39h1v1h-1zM19 46h1v1h-1zM66 46h1v1h-1zM25 59h1v1h-1zM60 59h1v1h-1zM39 61h1v1h-1zM46 61h1v1h-1zM33 65h1v1h-1zM52 65h1v1h-1z"/>
<path fill="#545454" d="M35 19h1v1h-1zM50 19h1v1h-1zM33 27h2v1h-2zM51 27h2v1h-2zM28 31h1v1h-1zM57 31h1v1h-1zM25 39h1v1h-1zM60 39h1v1h-1zM18 41h1v1h-1zM24 41h1v1h-1zM61 41h1v1h-1zM67 41h1v1h-1zM18 44h1v1h-1zM24 44h1v1h-1zM61 44h1v1h-1zM67 44h1v1h-1zM25 46h1v1h-1zM60 46h1v1h-1zM28 54h1v1h-1zM57 54h1v1h-1zM33 58h2v1h-2zM51 58h2v1h-2zM35 66h1v1h-1zM50 66h1v1h-1z"/>
<path fill="#555555" d="M22 29h1v1h-1zM63 29h1v1h-1zM33 34h1v1h-1zM52 34h1v1h-1zM33 51h1v1h-1zM52 51h1v1h-1zM22 56h1v1h-1zM63 56h1v1h-1z"/>
<path fill="#565656" d="M24 42h1v1h-1zM61 42h1v1h-1zM24 43h1v1h-1zM61 43h1v1h-1z"/>
<path fill="#575757" d="M26 26h1v1h-1zM59 26h1v1h-1zM36 35h1v1h-1zM49 35h1v1h-1zM25 37h1v1h-1zM60 37h1v1h-1zM25 48h1v1h-1zM60 48h1v1h-1zM36 50h1v1h-1zM49 50h1v1h-1zM26 59h1v1h-1zM59 59h1v1h-1z"/>
<path fill="#585858" d="M32 22h1v1h-1zM53 22h1v1h-1zM33 38h1v1h-1zM52 38h1v1h-1zM33 47h1v1h-1zM52 47h1v1h-1zM32 63h1v1h-1zM53 63h1v1h-1z"/>
<path fill="#595959" d="M39 20h1v1h-1zM46 20h1v1h-1zM28 35h1v1h-1zM57 35h1v1h-1zM25 38h1v1h-1zM60 38h1v1h-1zM22 39h1v1h-1zM63 39h1v1h-1zM26 40h1v1h-1zM59 40h1v1h-1zM26 45h1v1h-1zM59 45h1v1h-1zM22 46h1v1h-1zM63 46h1v1h-1zM25 47h1v1h-1zM60 47h1v1h-1zM28 50h1v1h-1zM57 50h1v1h-1zM39 65h1v1h-1zM46 65h1v1h-1z"/>
<path fill="#5a5a5a" d="M38 19h1v1h-1zM47 19h1v1h-1zM36 29h1v1h-1zM49 29h1v1h-1zM33 40h1v1h-1zM52 40h1v1h-1zM33 45h1v1h-1zM52 45h1v1h-1zM36 56h1v1h-1zM49 56h1v1h-1zM38 66h1v1h-1zM47 66h1v1h-1z"/>
<path fill="#5b5b5b" d="M22 32h1v1h-1zM63 32h1v1h-1zM22 53h1v1h-1zM63 53h1v1h-1z"/>
<path fill="#5c5c5c" d="M27 35h1v1h-1zM58 35h1v1h-1zM27 50h1v1h-1zM58 50h1v1h-1z"/>
<path fill="#5d5d5d" d="M28 28h1v1h-1zM57 28h1v1h-1zM18 42h1v1h-1zM67 42h1v1h-1zM18 43h1v1h-1zM67 43h1v1h-1zM28 57h1v1h-1zM57 57h1v1h-1z"/>
<path fill="#5e5e5e" d="M36 25h1v1h-1zM49 25h1v1h-1zM40 30h1v1h-1zM45 30h1v1h-1zM31 31h1v1h-1zM54 31h1v1h-1zM20 39h1v1h-1zM65 39h1v1h-1zM20 46h1v1h-1zM65 46h1v1h-1zM31 54h1v1h-1zM54 54h1v1h-1zM40 55h1v1h-1zM45 55h1v1h-1zM36 60h1v1h-1zM49 60h1v1h-1z"/>
<path fill="#5f5f5f" d="M37 30h1v1h-1zM48 30h1v1h-1zM32 33h1v1h-1zM53 33h1v1h-1zM30 41h1v1h-1zM55 41h1v1h-1zM30 44h1v1h-1zM55 44h1v1h-1zM32 52h1v1h-1zM53 52h1v1h-1zM37 55h1v1h-1zM48 55h1v1h-1z"/>
<path fill="#606060" d="M33 24h1v1h-1zM52 24h1v1h-1zM40 27h1v1h-1zM45 27h1v1h-1zM40 58h1v1h-1zM45 58h1v1h-1zM33 61h1v1h-1zM52 61h1v1h-1z"/>
<path fill="#616161" d="M36 19h1v1h-1zM49 19h1v1h-1zM34 25h1v1h-1zM51 25h1v1h-1zM31 29h1v1h-1zM54 29h1v1h-1zM27 32h1v1h-1zM58 32h1v1h-1zM26 33h1v1h-1zM59 33h1v1h-1zM26 52h1v1h-1zM59 52h1v1h-1zM27 53h1v1h-1zM58 53h1v1h-1zM31 56h1v1h-1zM54 56h1v1h-1zM34 60h1v1h-1zM51 60h1v1h-1zM36 66h1v1h-1zM49 66h1v1h-1z"/>
<path fill="#626262" d="M23 33h1v1h-1zM62 33h1v1h-1zM23 52h1v1h-1zM62 52h1v1h-1z"/>
<path fill="#636363" d="M32 37h1v1h-1zM53 37h1v1h-1zM32 48h1v1h-1zM53 48h1v1h-1z"/>
<path fill="#646464" d="M37 19h1v1h-1zM48 19h1v1h-1zM40 26h1v1h-1zM45 26h1v1h-1zM40 59h1v1h-1zM45 59h1v1h-1zM37 66h1v1h-1zM48 66h1v1h-1z"/>
<path fill="#656565" d="M35 28h1v1h-1zM50 28h1v1h-1zM24 33h1v1h-1zM61 33h1v1h-1zM27 40h1v1h-1zM58 40h1v1h-1zM27 45h1v1h-1zM58 45h1v1h-1zM24 52h1v1h-1zM61 52h1v1h-1zM35 57h1v1h-1zM50 57h1v1h-1z"/>
<path fill="#666666" d="M41 25h1v1h-1zM44 25h1v1h-1zM26 36h1v1h-1zM31 36h1v1h-1zM54 36h1v1h-1zM59 36h1v1h-1zM26 49h1v1h-1zM31 49h1v1h-1zM54 49h1v1h-1zM59 49h1v1h-1zM41 60h1v1h-1zM44 60h1v1h-1z"/>
<path fill="#676767" d="M35 25h1v1h-1zM50 25h1v1h-1zM35 60h1v1h-1zM50 60h1v1h-1z"/>
<path fill="#686868" d="M39 23h1v1h-1zM46 23h1v1h-1zM32 28h1v1h-1zM53 28h1v1h-1zM29 41h1v1h-1zM56 41h1v1h-1zM29 44h1v1h-1zM56 44h1v1h-1zM32 57h1v1h-1zM53 57h1v1h-1zM39 62h1v1h-1zM46 62h1v1h-1z"/>
<path fill="#6a6a6a" d="M24 27h1v1h-1zM61 27h1v1h-1zM37 31h1v1h-1zM48 31h1v1h-1zM37 33h1v1h-1zM48 33h1v1h-1zM37 52h1v1h-1zM48 52h1v1h-1zM37 54h1v1h-1zM48 54h1v1h-1zM24 58h1v1h-1zM61 58h1v1h-1z"/>
<path fill="#6b6b6b" d="M23 28h1v1h-1zM62 28h1v1h-1zM23 40h1v1h-1zM62 40h1v1h-1zM23 45h1v1h-1zM62 45h1v1h-1zM23 57h1v1h-1zM62 57h1v1h-1z"/>
<path fill="#6c6c6c" d="M38 24h1v1h-1zM47 24h1v1h-1zM38 61h1v1h-1zM47 61h1v1h-1z"/>
<path fill="#6d6d6d" d="M27 27h1v1h-1zM58 27h1v1h-1zM40 28h1v1h-1zM45 28h1v1h-1zM37 34h1v1h-1zM48 34h1v1h-1zM21 39h1v1h-1zM64 39h1v1h-1zM21 46h1v1h-1zM64 46h1v1h-1zM37 51h1v1h-1zM48 51h1v1h-1zM40 57h1v1h-1zM45 57h1v1h-1zM27 58h1v1h-1zM58 58h1v1h-1z"/>
<path fill="#6e6e6e" d="M22 30h1v1h-1zM63 30h1v1h-1zM25 33h1v1h-1zM60 33h1v1h-1zM25 52h1v1h-1zM60 52h1v1h-1zM22 55h1v1h-1zM63 55h1v1h-1z"/>
<path fill="#707070" d="M39 22h1v1h-1zM46 22h1v1h-1zM28 30h1v1h-1zM57 30h1v1h-1zM34 34h1v1h-1zM51 34h1v1h-1zM33 39h1v1h-1zM52 39h1v1h-1zM33 46h1v1h-1zM52 46h1v1h-1zM34 51h1v1h-1zM51 51h1v1h-1zM28 55h1v1h-1zM57 55h1v1h-1zM39 63h1v1h-1zM46 63h1v1h-1z"/>
<path fill="#717171" d="M22 31h1v1h-1zM63 31h1v1h-1zM22 54h1v1h-1zM63 54h1v1h-1z"/>
<path fill="#727272" d="M37 32h1v1h-1zM48 32h1v1h-1zM37 53h1v1h-1zM48 53h1v1h-1z"/>
<path fill="#737373" d="M32 32h1v1h-1zM53 32h1v1h-1zM19 40h1v1h-1zM66 40h1v1h-1zM19 45h1v1h-1zM66 45h1v1h-1zM32 53h1v1h-1zM53 53h1v1h-1z"/>
<path fill="#747474" d="M28 29h1v1h-1zM57 29h1v1h-1zM31 30h1v1h-1zM54 30h1v1h-1zM41 31h1v1h-1zM44 31h1v1h-1zM32 40h1v1h-1zM53 40h1v1h-1zM32 45h1v1h-1zM53 45h1v1h-1zM41 54h1v1h-1zM44 54h1v1h-1zM31 55h1v1h-1zM54 55h1v1h-1zM28 56h1v1h-1zM57 56h1v1h-1z"/>
<path fill="#777777" d="M34 20h1v1h-1zM51 20h1v1h-1zM39 21h1v1h-1zM46 21h1v1h-1zM42 25h2v1h-2zM26 27h1v1h-1zM59 27h1v1h-1zM26 58h1v1h-1zM59 58h1v1h-1zM42 60h2v1h-2zM39 64h1v1h-1zM46 64h1v1h-1zM34 65h1v1h-1zM51 65h1v1h-1z"/>
<path fill="#7a7a7a" d="M33 28h1v1h-1zM52 28h1v1h-1zM35 34h1v1h-1zM50 34h1v1h-1zM35 51h1v1h-1zM50 51h1v1h-1zM33 57h1v1h-1zM52 57h1v1h-1z"/>
<path fill="#7b7b7b" d="M38 20h1v1h-1zM47 20h1v1h-1zM33 21h1v1h-1zM52 21h1v1h-1zM23 32h1v1h-1zM62 32h1v1h-1zM23 53h1v1h-1zM62 53h1v1h-1zM33 64h1v1h-1zM52 64h1v1h-1zM38 65h1v1h-1zM47 65h1v1h-1z"/>
<path fill="#7c7c7c" d="M42 32h2v1h-2zM42 53h2v1h-2z"/>
<path fill="#7d7d7d" d="M33 22h1v1h-1zM52 22h1v1h-1zM33 63h1v1h-1zM52 63h1v1h-1z"/>
<path fill="#7f7f7f" d="M34 24h1v1h-1zM51 24h1v1h-1zM40 29h1v1h-1zM45 29h1v1h-1zM26 37h1v1h-1zM59 37h1v1h-1zM26 48h1v1h-1zM59 48h1v1h-1zM40 56h1v1h-1zM45 56h1v1h-1zM34 61h1v1h-1zM51 61h1v1h-1z"/>
<path fill="#818181" d="M26 39h1v1h-1zM59 39h1v1h-1zM26 46h1v1h-1zM59 46h1v1h-1z"/>
<path fill="#838383" d="M32 38h1v1h-1zM53 38h1v1h-1zM22 40h1v1h-1zM63 40h1v1h-1zM22 45h1v1h-1zM63 45h1v1h-1zM32 47h1v1h-1zM53 47h1v1h-1z"/>
<path fill="#848484" d="M25 27h1v1h-1zM60 27h1v1h-1zM25 58h1v1h-1zM60 58h1v1h-1z"/>
<path fill="#858585" d="M36 34h1v1h-1zM49 34h1v1h-1zM20 40h1v1h-1zM65 40h1v1h-1zM20 45h1v1h-1zM65 45h1v1h-1zM36 51h1v1h-1zM49 51h1v1h-1z"/>
<path fill="#868686" d="M29 36h1v1h-1zM56 36h1v1h-1zM29 49h1v1h-1zM56 49h1v1h-1z"/>
<path fill="#878787" d="M23 41h1v1h-1zM62 41h1v1h-1zM23 44h1v1h-1zM62 44h1v1h-1z"/>
<path fill="#898989" d="M35 29h1v1h-1zM50 29h1v1h-1zM35 56h1v1h-1zM50 56h1v1h-1z"/>
<path fill="#8a8a8a" d="M33 23h1v1h-1zM52 23h1v1h-1zM37 24h1v1h-1zM48 24h1v1h-1zM34 28h1v1h-1zM51 28h1v1h-1zM34 57h1v1h-1zM51 57h1v1h-1zM37 61h1v1h-1zM48 61h1v1h-1zM33 62h1v1h-1zM52 62h1v1h-1z"/>
<path fill="#8b8b8b" d="M28 40h1v1h-1zM57 40h1v1h-1zM28 45h1v1h-1zM57 45h1v1h-1z"/>
<path fill="#8c8c8c" d="M31 37h1v1h-1zM54 37h1v1h-1zM31 48h1v1h-1zM54 48h1v1h-1z"/>
<path fill="#8d8d8d" d="M27 31h1v1h-1zM58 31h1v1h-1zM26 38h1v1h-1zM59 38h1v1h-1zM32 39h1v1h-1zM53 39h1v1h-1zM32 46h1v1h-1zM53 46h1v1h-1zM26 47h1v1h-1zM59 47h1v1h-1zM27 54h1v1h-1zM58 54h1v1h-1z"/>
<path fill="#8e8e8e" d="M31 40h1v1h-1zM54 40h1v1h-1zM31 45h1v1h-1zM54 45h1v1h-1z"/>
<path fill="#8f8f8f" d="M38 23h1v1h-1zM47 23h1v1h-1zM26 32h1v1h-1zM59 32h1v1h-1zM26 53h1v1h-1zM59 53h1v1h-1zM38 62h1v1h-1zM47 62h1v1h-1z"/>
<path fill="#909090" d="M32 29h1v1h-1zM53 29h1v1h-1zM23 31h1v1h-1zM62 31h1v1h-1zM19 41h1v1h-1zM66 41h1v1h-1zM19 44h1v1h-1zM66 44h1v1h-1zM23 54h1v1h-1zM62 54h1v1h-1zM32 56h1v1h-1zM53 56h1v1h-1z"/>
<path fill="#919191" d="M33 33h1v1h-1zM52 33h1v1h-1zM30 36h1v1h-1zM55 36h1v1h-1zM30 49h1v1h-1zM55 49h1v1h-1zM33 52h1v1h-1zM52 52h1v1h-1z"/>
<path fill="#929292" d="M32 31h1v1h-1zM53 31h1v1h-1zM27 36h2v1h-2zM57 36h2v1h-2zM27 49h2v1h-2zM57 49h2v1h-2zM32 54h1v1h-1zM53 54h1v1h-1z"/>
<path fill="#939393" d="M41 30h1v1h-1zM44 30h1v1h-1zM41 55h1v1h-1zM44 55h1v1h-1z"/>
<path fill="#969696" d="M23 29h1v1h-1zM62 29h1v1h-1zM23 56h1v1h-1zM62 56h1v1h-1z"/>
<path fill="#979797" d="M35 20h1v1h-1zM37 20h1v1h-1zM48 20h1v1h-1zM50 20h1v1h-1zM41 26h1v1h-1zM44 26h1v1h-1zM23 42h1v1h-1zM62 42h1v1h-1zM23 43h1v1h-1zM62 43h1v1h-1zM41 59h1v1h-1zM44 59h1v1h-1zM35 65h1v1h-1zM37 65h1v1h-1zM48 65h1v1h-1zM50 65h1v1h-1z"/>
<path fill="#989898" d="M35 24h1v1h-1zM50 24h1v1h-1zM25 32h1v1h-1zM60 32h1v1h-1zM25 53h1v1h-1zM60 53h1v1h-1zM35 61h1v1h-1zM50 61h1v1h-1z"/>
<path fill="#999999" d="M30 40h1v1h-1zM55 40h1v1h-1zM30 45h1v1h-1zM55 45h1v1h-1z"/>
<path fill="#9a9a9a" d="M27 29h1v1h-1zM58 29h1v1h-1zM27 56h1v1h-1zM58 56h1v1h-1z"/>
<path fill="#9b9b9b" d="M27 28h1v1h-1zM58 28h1v1h-1zM27 57h1v1h-1zM58 57h1v1h-1z"/>
<path fill="#9d9d9d" d="M36 24h1v1h-1zM49 24h1v1h-1zM42 31h2v1h-2zM42 54h2v1h-2zM36 61h1v1h-1zM49 61h1v1h-1z"/>
<path fill="#9e9e9e" d="M41 27h1v1h-1zM44 27h1v1h-1zM41 58h1v1h-1zM44 58h1v1h-1z"/>
<path fill="#9f9f9f" d="M24 28h1v1h-1zM61 28h1v1h-1zM24 57h1v1h-1zM61 57h1v1h-1z"/>
<path fill="#a0a0a0" d="M34 21h1v1h-1zM51 21h1v1h-1zM27 39h1v1h-1zM58 39h1v1h-1zM27 46h1v1h-1zM58 46h1v1h-1zM34 64h1v1h-1zM51 64h1v1h-1z"/>
<path fill="#a1a1a1" d="M19 42h1v1h-1zM66 42h1v1h-1zM19 43h1v1h-1zM66 43h1v1h-1z"/>
<path fill="#a2a2a2" d="M38 21h1v1h-1zM47 21h1v1h-1zM23 30h1v1h-1zM27 30h1v1h-1zM58 30h1v1h-1zM62 30h1v1h-1zM34 33h1v1h-1zM36 33h1v1h-1zM49 33h1v1h-1zM51 33h1v1h-1zM34 52h1v1h-1zM36 52h1v1h-1zM49 52h1v1h-1zM51 52h1v1h-1zM23 55h1v1h-1zM27 55h1v1h-1zM58 55h1v1h-1zM62 55h1v1h-1zM38 64h1v1h-1zM47 64h1v1h-1z"/>
<path fill="#a3a3a3" d="M36 20h1v1h-1zM49 20h1v1h-1zM36 65h1v1h-1zM49 65h1v1h-1z"/>
<path fill="#a6a6a6" d="M25 28h1v1h-1zM60 28h1v1h-1zM21 40h1v1h-1zM64 40h1v1h-1zM21 45h1v1h-1zM64 45h1v1h-1zM25 57h1v1h-1zM60 57h1v1h-1z"/>
<path fill="#a7a7a7" d="M36 30h1v1h-1zM49 30h1v1h-1zM36 55h1v1h-1zM49 55h1v1h-1z"/>
<path fill="#a8a8a8" d="M36 31h1v1h-1zM49 31h1v1h-1zM36 54h1v1h-1zM49 54h1v1h-1z"/>
<path fill="#a9a9a9" d="M38 22h1v1h-1zM47 22h1v1h-1zM20 41h1v1h-1zM22 41h1v1h-1zM63 41h1v1h-1zM65 41h1v1h-1zM20 44h1v1h-1zM22 44h1v1h-1zM63 44h1v1h-1zM65 44h1v1h-1zM38 63h1v1h-1zM47 63h1v1h-1z"/>
<path fill="#aaaaaa" d="M24 32h1v1h-1zM61 32h1v1h-1zM24 53h1v1h-1zM61 53h1v1h-1z"/>
<path fill="#ababab" d="M32 30h1v1h-1zM53 30h1v1h-1zM32 55h1v1h-1zM53 55h1v1h-1z"/>
<path fill="#acacac" d="M34 22h1v1h-1zM51 22h1v1h-1zM34 63h1v1h-1zM51 63h1v1h-1z"/>
<path fill="#afafaf" d="M26 28h1v1h-1zM59 28h1v1h-1zM26 57h1v1h-1zM59 57h1v1h-1z"/>
<path fill="#b1b1b1" d="M37 23h1v1h-1zM48 23h1v1h-1zM34 29h1v1h-1zM51 29h1v1h-1zM36 32h1v1h-1zM49 32h1v1h-1zM36 53h1v1h-1zM49 53h1v1h-1zM34 56h1v1h-1zM51 56h1v1h-1zM37 62h1v1h-1zM48 62h1v1h-1z"/>
<path fill="#b2b2b2" d="M26 31h1v1h-1zM59 31h1v1h-1zM26 54h1v1h-1zM59 54h1v1h-1z"/>
<path fill="#b7b7b7" d="M35 21h1v1h-1zM50 21h1v1h-1zM35 64h1v1h-1zM50 64h1v1h-1z"/>
<path fill="#b8b8b8" d="M42 26h2v1h-2zM24 29h1v1h-1zM61 29h1v1h-1zM31 38h1v1h-1zM54 38h1v1h-1zM29 40h1v1h-1zM56 40h1v1h-1zM29 45h1v1h-1zM56 45h1v1h-1zM31 47h1v1h-1zM54 47h1v1h-1zM24 56h1v1h-1zM61 56h1v1h-1zM42 59h2v1h-2z"/>
<path fill="#bababa" d="M37 21h1v1h-1zM48 21h1v1h-1zM28 39h1v1h-1zM57 39h1v1h-1zM28 46h1v1h-1zM57 46h1v1h-1zM37 64h1v1h-1zM48 64h1v1h-1z"/>
<path fill="#bcbcbc" d="M34 23h1v1h-1zM51 23h1v1h-1zM41 28h1v1h-1zM44 28h1v1h-1zM27 37h1v1h-1zM58 37h1v1h-1zM27 48h1v1h-1zM58 48h1v1h-1zM41 57h1v1h-1zM44 57h1v1h-1zM34 62h1v1h-1zM51 62h1v1h-1z"/>
<path fill="#bebebe" d="M33 29h1v1h-1zM52 29h1v1h-1zM24 30h1v1h-1zM61 30h1v1h-1zM35 33h1v1h-1zM50 33h1v1h-1zM20 42h1v1h-1zM65 42h1v1h-1zM20 43h1v1h-1zM65 43h1v1h-1zM35 52h1v1h-1zM50 52h1v1h-1zM24 55h1v1h-1zM61 55h1v1h-1zM33 56h1v1h-1zM52 56h1v1h-1z"/>
<path fill="#bfbfbf" d="M36 21h1v1h-1zM49 21h1v1h-1zM36 64h1v1h-1zM49 64h1v1h-1z"/>
<path fill="#c0c0c0" d="M28 37h1v1h-1zM57 37h1v1h-1zM31 39h1v1h-1zM54 39h1v1h-1zM22 42h1v1h-1zM63 42h1v1h-1zM22 43h1v1h-1zM63 43h1v1h-1zM31 46h1v1h-1zM54 46h1v1h-1zM28 48h1v1h-1zM57 48h1v1h-1z"/>
<path fill="#c1c1c1" d="M33 31h1v1h-1zM52 31h1v1h-1zM27 38h1v1h-1zM58 38h1v1h-1zM27 47h1v1h-1zM58 47h1v1h-1zM33 54h1v1h-1zM52 54h1v1h-1z"/>
<path fill="#c3c3c3" d="M42 30h2v1h-2zM42 55h2v1h-2z"/>
<path fill="#c4c4c4" d="M36 23h1v1h-1zM49 23h1v1h-1zM36 62h1v1h-1zM49 62h1v1h-1z"/>
<path fill="#c5c5c5" d="M42 27h2v1h-2zM26 30h1v1h-1zM59 30h1v1h-1zM26 55h1v1h-1zM59 55h1v1h-1zM42 58h2v1h-2z"/>
<path fill="#c8c8c8" d="M35 23h1v1h-1zM50 23h1v1h-1zM41 29h1v1h-1zM44 29h1v1h-1zM41 56h1v1h-1zM44 56h1v1h-1zM35 62h1v1h-1zM50 62h1v1h-1z"/>
<path fill="#c9c9c9" d="M33 30h1v1h-1zM35 30h1v1h-1zM50 30h1v1h-1zM52 30h1v1h-1zM33 55h1v1h-1zM35 55h1v1h-1zM50 55h1v1h-1zM52 55h1v1h-1z"/>
<path fill="#cbcbcb" d="M34 30h1v1h-1zM51 30h1v1h-1zM34 55h1v1h-1zM51 55h1v1h-1z"/>
<path fill="#cdcdcd" d="M25 31h1v1h-1zM60 31h1v1h-1zM30 39h1v1h-1zM55 39h1v1h-1zM30 46h1v1h-1zM55 46h1v1h-1zM25 54h1v1h-1zM60 54h1v1h-1z"/>
<path fill="#cecece" d="M28 38h1v1h-1zM57 38h1v1h-1zM28 47h1v1h-1zM57 47h1v1h-1z"/>
<path fill="#cfcfcf" d="M25 29h1v1h-1zM60 29h1v1h-1zM25 56h1v1h-1zM60 56h1v1h-1z"/>
<path fill="#d1d1d1" d="M35 32h1v1h-1zM50 32h1v1h-1zM35 53h1v1h-1zM50 53h1v1h-1z"/>
<path fill="#d2d2d2" d="M24 31h1v1h-1zM61 31h1v1h-1zM24 54h1v1h-1zM61 54h1v1h-1z"/>
<path fill="#d5d5d5" d="M29 37h1v1h-1zM56 37h1v1h-1zM29 48h1v1h-1zM56 48h1v1h-1z"/>
<path fill="#d7d7d7" d="M33 32h1v1h-1zM52 32h1v1h-1zM33 53h1v1h-1zM52 53h1v1h-1z"/>
<path fill="#d9d9d9" d="M30 37h1v1h-1zM55 37h1v1h-1zM21 41h1v1h-1zM64 41h1v1h-1zM21 44h1v1h-1zM64 44h1v1h-1zM30 48h1v1h-1zM55 48h1v1h-1z"/>
<path fill="#e1e1e1" d="M37 22h1v1h-1zM48 22h1v1h-1zM37 63h1v1h-1zM48 63h1v1h-1z"/>
<path fill="#e6e6e6" d="M35 22h1v1h-1zM50 22h1v1h-1zM35 63h1v1h-1zM50 63h1v1h-1z"/>
<path fill="#e7e7e7" d="M26 29h1v1h-1zM59 29h1v1h-1zM30 38h1v1h-1zM55 38h1v1h-1zM30 47h1v1h-1zM55 47h1v1h-1zM26 56h1v1h-1zM59 56h1v1h-1z"/>
<path fill="#f2f2f2" d="M34 32h1v1h-1zM51 32h1v1h-1zM34 53h1v1h-1zM51 53h1v1h-1z"/>
<path fill="#f6f6f6" d="M42 28h2v1h-2zM42 57h2v1h-2z"/>
<path fill="#f8f8f8" d="M21 42h1v1h-1zM64 42h1v1h-1zM21 43h1v1h-1zM64 43h1v1h-1z"/>
<path fill="#fafafa" d="M42 29h2v1h-2zM42 56h2v1h-2z"/>
<path fill="#fefefe" d="M36 22h1v1h-1zM49 22h1v1h-1zM36 63h1v1h-1zM49 63h1v1h-1z"/>
<path fill="#ffffff" d="M25 30h1v1h-1zM60 30h1v1h-1zM34 31h2v1h-2zM50 31h2v1h-2zM29 38h1v1h-1zM56 38h1v1h-1zM29 39h1v1h-1zM56 39h1v1h-1zM29 46h1v1h-1zM56 46h1v1h-1zM29 47h1v1h-1zM56 47h1v1h-1zM34 54h2v1h-2zM50 54h2v1h-2zM25 55h1v1h-1zM60 55h1v1h-1z"/>
</g>
</g></g>
<g clip-path="url(#clipb)"><path d="M265.8 933.8C267.9 934.1 275.0 934.3 278.5 935.2C282.1 936.2 284.5 937.6 287.0 939.5C289.5 941.4 292.3 945.4 293.4 946.5M311.7 933.8C312.8 935.2 316.4 938.9 318.1 942.3C319.7 945.7 321.0 952.3 321.6 954.3M356.2 933.8C355.4 935.2 352.0 939.2 351.3 942.3C350.6 945.4 350.9 949.1 352.0 952.2C353.1 955.3 355.6 958.2 357.7 960.7C359.7 963.1 362.9 966.0 364.0 967.0M377.4 933.8L385.9 943.7M441.0 942.3C439.1 943.0 432.8 945.1 429.7 946.5C426.6 948.0 425.5 949.1 422.6 950.8C419.8 952.4 417.2 953.8 412.7 956.4C408.3 959.0 398.6 964.7 395.8 966.3M386.6 973.4C385.3 974.6 381.5 978.1 378.8 980.4C376.1 982.8 373.2 985.4 370.4 987.5C367.5 989.6 364.7 991.3 361.9 993.2C359.1 995.0 356.2 997.6 353.4 998.8C350.6 1000.0 346.3 1001.4 344.9 1000.2C343.5 999.0 344.9 993.2 344.9 991.7M407.8 995.3C408.9 996.8 412.0 1001.4 414.2 1004.5C416.3 1007.5 419.5 1012.1 420.5 1013.6M340.7 1021.4C339.8 1022.8 337.6 1027.8 335.0 1029.9C332.5 1032.0 328.7 1032.7 325.2 1034.1C321.6 1035.5 317.4 1036.0 313.9 1038.4C310.3 1040.7 306.9 1044.5 304.0 1048.3C301.0 1052.0 297.8 1057.2 296.2 1061.0C294.6 1064.7 294.0 1067.6 294.1 1070.9C294.2 1074.2 295.7 1077.8 296.9 1080.7C298.1 1083.7 300.4 1087.2 301.1 1088.5M365.4 1032.7C367.2 1034.1 372.1 1038.6 376.0 1041.2C379.9 1043.8 386.6 1047.1 388.7 1048.3M427.6 1034.8C426.0 1036.4 421.6 1040.8 418.4 1044.0C415.2 1047.2 411.7 1050.7 408.5 1053.9C405.3 1057.1 400.9 1061.6 399.3 1063.1M439.6 1022.8L441.0 1021.4M357.7 1070.2C359.8 1069.7 365.8 1068.3 370.4 1067.3C375.0 1066.4 382.7 1065.0 385.2 1064.5M346.3 1075.1C346.6 1077.2 346.6 1084.7 347.8 1087.8C348.9 1090.9 350.6 1091.3 353.4 1093.5C356.2 1095.6 361.2 1097.9 364.7 1100.5C368.2 1103.1 373.0 1107.6 374.6 1109.0M441.0 1068.7C439.6 1069.8 434.9 1072.6 432.5 1075.1C430.2 1077.6 427.8 1080.3 426.9 1083.6C425.9 1086.9 426.4 1092.0 426.9 1094.9C427.3 1097.7 429.2 1099.6 429.7 1100.5M381.0 1090.6C382.5 1090.4 387.2 1088.8 390.1 1089.2C393.1 1089.7 396.3 1091.6 398.6 1093.5C401.0 1095.3 402.9 1097.9 404.3 1100.5C405.7 1103.1 406.6 1107.6 407.1 1109.0M282.8 1087.1C282.3 1088.6 281.1 1092.6 280.0 1096.3C278.8 1099.9 276.4 1106.9 275.7 1109.0M316.7 1100.5L322.3 1109.0M441.0 940.9C443.4 940.4 450.4 939.2 455.1 938.1C459.8 936.9 466.9 934.5 469.3 933.8M496.8 946.5C496.9 948.0 496.4 952.5 497.5 955.0C498.6 957.5 500.9 959.7 503.2 961.4C505.4 963.0 509.6 964.3 510.9 964.9M571.0 933.8C571.4 935.7 572.6 941.6 573.8 945.1C575.0 948.7 576.4 952.0 578.0 955.0C579.7 958.1 581.6 961.1 583.7 963.5C585.8 965.8 587.7 968.0 590.7 969.1C593.8 970.3 600.2 970.3 602.0 970.6M607.0 933.8L607.7 943.7M607.7 970.6L613.3 969.8M470.7 964.9C471.0 967.3 472.8 973.6 472.8 979.0C472.8 984.4 471.0 994.3 470.7 997.4M441.0 983.3L447.4 997.4M517.3 972.7C520.6 972.9 528.6 973.7 537.1 974.1C545.5 974.4 563.0 974.7 568.1 974.8M516.6 991.7C516.9 993.6 517.5 999.3 518.7 1003.0C519.9 1006.8 522.0 1010.5 523.6 1014.3C525.3 1018.2 527.8 1024.4 528.6 1026.4M547.0 1024.9C548.6 1024.4 553.8 1023.4 556.8 1021.4C559.9 1019.4 563.0 1015.8 565.3 1012.9C567.7 1010.1 568.1 1005.9 571.0 1004.5C573.8 1003.0 577.6 1004.0 582.3 1004.5C587.0 1004.9 593.1 1006.7 599.2 1007.3C605.3 1007.9 615.7 1007.9 619.0 1008.0M441.0 1025.7C442.4 1024.5 446.2 1020.4 449.5 1018.6C452.8 1016.8 457.0 1015.8 460.8 1015.1C464.5 1014.3 468.3 1014.0 472.1 1014.3C475.8 1014.7 480.2 1016.0 483.4 1017.2C486.6 1018.4 489.9 1020.7 491.2 1021.4M467.8 1029.9L474.2 1041.9M490.4 1042.6L501.7 1048.3M599.9 1034.1L610.5 1045.4M506.7 1080.7C507.3 1079.1 508.2 1073.9 510.2 1070.9C512.2 1067.8 515.2 1064.7 518.7 1062.4C522.2 1060.0 527.2 1058.3 531.4 1056.7C535.7 1055.2 539.7 1054.5 544.1 1053.2C548.6 1051.9 553.3 1049.8 558.3 1049.0C563.2 1048.1 569.6 1047.7 573.8 1048.3C578.0 1048.8 581.6 1050.4 583.7 1052.5C585.8 1054.6 586.4 1058.4 586.5 1061.0C586.6 1063.6 584.7 1066.9 584.4 1068.0M454.4 1060.3C456.0 1062.3 460.2 1067.6 463.6 1072.3C467.0 1077.0 473.0 1085.8 474.9 1088.5M547.0 1074.4L552.6 1086.4M583.7 1072.3C582.5 1074.2 579.2 1079.8 576.6 1083.6C574.0 1087.3 570.5 1091.6 568.1 1094.9C565.8 1098.2 563.4 1101.9 562.5 1103.3M498.9 1098.4L496.8 1109.0M539.9 1107.6L554.0 1106.2M649.4 933.8C649.1 935.7 648.4 941.6 648.0 945.1C647.5 948.7 646.8 953.4 646.5 955.0M680.5 943.7C680.0 944.7 678.5 947.5 677.6 949.4C676.8 951.2 675.9 954.1 675.5 955.0M713.7 936.7L709.4 941.6M768.0 933.8C769.6 934.6 773.6 937.5 777.2 938.8C780.9 940.1 787.8 941.1 789.9 941.6M720.7 972.0C717.9 972.0 709.6 971.7 703.8 972.0C697.9 972.2 691.8 973.0 685.4 973.4C679.0 973.7 668.9 974.0 665.6 974.1M657.1 973.4C654.3 973.1 645.4 972.3 640.2 972.0C635.0 971.6 628.4 971.4 626.1 971.3M710.1 988.9C709.3 990.6 706.5 995.7 705.2 998.8C703.9 1001.9 703.1 1004.5 702.3 1007.3C701.6 1010.1 701.2 1014.3 700.9 1015.8M731.3 988.2C732.8 989.5 736.8 993.5 740.5 996.0C744.1 998.5 748.3 1000.3 753.2 1003.0C758.2 1005.8 767.3 1010.7 770.2 1012.2M797.0 998.8C796.3 1000.2 793.6 1004.0 792.8 1007.3C791.9 1010.6 792.2 1016.7 792.1 1018.6M624.7 1008.0C627.2 1007.9 634.3 1007.5 640.2 1007.3C646.1 1007.1 655.5 1005.6 660.0 1006.6C664.4 1007.5 664.9 1010.7 667.0 1012.9C669.2 1015.2 668.9 1018.1 672.7 1020.0C676.4 1021.9 686.8 1023.5 689.6 1024.2M712.9 1027.8L713.7 1028.5M626.1 1046.1C627.7 1046.5 631.5 1048.0 636.0 1048.3C640.4 1048.5 646.7 1047.5 652.9 1047.5C659.1 1047.5 670.0 1048.1 673.4 1048.3M738.4 1051.1C739.4 1050.1 742.0 1046.8 744.7 1045.4C747.4 1044.0 751.6 1042.6 754.6 1042.6C757.7 1042.6 760.5 1043.8 763.1 1045.4C765.7 1047.1 769.0 1051.3 770.2 1052.5M688.2 1054.6C687.5 1056.6 685.2 1062.7 684.0 1066.6C682.8 1070.5 681.9 1074.4 681.2 1077.9C680.5 1081.5 680.0 1086.2 679.7 1087.8M712.9 1063.8C712.8 1065.2 712.7 1069.8 712.2 1072.3C711.8 1074.7 710.5 1077.6 710.1 1078.6M782.9 1061.7C781.5 1063.4 777.5 1067.9 774.4 1072.3C771.3 1076.6 766.2 1085.2 764.5 1087.8M631.7 1079.3C633.8 1080.5 640.4 1084.0 644.4 1086.4C648.4 1088.8 652.2 1091.3 655.7 1093.5C659.3 1095.6 664.0 1098.2 665.6 1099.1M732.0 1087.1C729.7 1088.4 722.6 1092.6 717.9 1094.9C713.2 1097.1 709.6 1099.1 703.8 1100.5C697.9 1101.9 686.1 1102.9 682.6 1103.3M619.0 1089.2L627.5 1106.2M800.5 948.7C802.3 948.9 807.5 948.9 811.1 950.1C814.8 951.2 820.5 954.8 822.4 955.7M875.4 933.8C873.4 935.9 867.0 942.3 863.4 946.5C859.7 950.8 856.1 955.5 853.5 959.3C850.9 963.0 848.8 967.5 847.9 969.1M917.1 933.8C916.5 935.7 914.1 940.9 913.5 945.1C913.0 949.4 913.3 954.5 913.5 959.3C913.8 964.0 914.5 968.7 915.0 973.4C915.4 978.1 916.1 985.2 916.4 987.5M808.3 982.6C807.4 984.1 804.5 988.1 802.7 991.7C800.8 995.4 797.9 1002.3 797.0 1004.5M844.3 974.1C843.3 975.6 840.0 980.3 838.0 983.3C836.0 986.2 833.3 990.3 832.3 991.7M869.8 976.2L863.4 981.2M969.3 972.7L959.5 984.0M876.1 993.9L887.4 1005.2M844.3 1015.1L832.3 1027.1M890.9 1012.9C892.0 1014.8 895.5 1019.1 897.3 1024.2C899.1 1029.4 900.8 1040.7 901.5 1044.0M935.4 1053.9C934.3 1051.8 930.5 1045.4 928.4 1041.2C926.3 1037.0 924.1 1032.7 922.7 1028.5C921.3 1024.2 920.6 1019.3 919.9 1015.8C919.2 1012.2 917.8 1009.4 918.5 1007.3C919.2 1005.2 921.8 1004.1 924.1 1003.0C926.5 1002.0 929.8 1000.7 932.6 1000.9C935.4 1001.2 938.3 1002.2 941.1 1004.5C943.9 1006.7 945.7 1010.0 949.6 1014.3C953.5 1018.7 961.9 1027.9 964.4 1030.6M814.0 1037.0C815.4 1038.4 819.7 1042.6 822.4 1045.4C825.1 1048.3 828.9 1052.5 830.2 1053.9M843.6 1060.3C845.7 1060.7 848.8 1062.6 856.3 1063.1C863.9 1063.6 883.4 1063.1 888.8 1063.1M797.0 1070.2C798.4 1071.0 803.1 1072.9 805.5 1075.1C807.8 1077.3 809.9 1078.9 811.1 1083.6C812.3 1088.3 812.3 1100.1 812.5 1103.3M941.8 1064.5C941.0 1066.3 938.9 1071.7 936.9 1075.1C934.9 1078.5 931.0 1083.3 929.8 1085.0M954.5 1081.5C955.1 1083.7 956.6 1090.3 958.0 1094.9C959.5 1099.5 962.2 1106.6 963.0 1109.0M839.4 1107.6C840.3 1106.2 842.7 1101.1 845.0 1099.1C847.4 1097.1 849.7 1096.4 853.5 1095.6C857.3 1094.8 862.1 1094.8 867.6 1094.2C873.2 1093.6 883.5 1092.4 886.7 1092.0M915.0 1098.4L911.4 1109.0M275.7 1109.0C274.8 1110.2 271.7 1113.7 270.1 1116.1C268.4 1118.4 266.5 1121.9 265.8 1123.1M323.0 1109.0L326.6 1115.4M349.9 1113.2C349.3 1115.1 347.9 1120.3 346.3 1124.5C344.8 1128.8 341.6 1136.3 340.7 1138.7M374.6 1109.0C376.3 1110.2 381.0 1113.6 384.5 1116.1C388.0 1118.5 393.9 1122.5 395.8 1123.8M407.1 1109.0L407.8 1111.8M441.0 1120.3C439.6 1121.5 435.5 1124.1 432.5 1127.4C429.6 1130.7 424.9 1138.0 423.3 1140.1M298.3 1126.0C300.2 1127.1 306.1 1130.4 309.6 1133.0C313.2 1135.6 316.9 1138.7 319.5 1141.5C322.1 1144.3 323.9 1146.7 325.2 1150.0C326.5 1153.3 327.5 1157.5 327.3 1161.3C327.0 1165.0 324.8 1169.0 323.7 1172.6C322.7 1176.1 321.4 1180.8 320.9 1182.5M285.6 1160.6C287.3 1161.4 292.3 1164.0 295.5 1165.5C298.7 1167.0 303.1 1169.0 304.7 1169.7M360.5 1179.6C361.9 1179.5 365.8 1178.6 369.0 1178.9C372.1 1179.3 377.8 1181.3 379.5 1181.8M418.4 1146.4C417.0 1148.2 412.7 1153.6 409.9 1157.0C407.1 1160.4 403.8 1163.6 401.4 1166.9C399.1 1170.2 397.1 1173.3 395.8 1176.8C394.5 1180.3 394.4 1183.4 393.7 1188.1C393.0 1192.8 391.9 1202.2 391.6 1205.1M409.9 1190.2C411.8 1190.0 416.7 1189.3 421.2 1188.8C425.7 1188.3 434.2 1187.6 436.8 1187.4M435.3 1157.0L441.0 1161.3M313.2 1202.9C312.7 1205.2 311.1 1211.5 310.3 1216.4C309.5 1221.2 309.0 1227.2 308.2 1231.9C307.4 1236.6 306.6 1239.9 305.4 1244.6C304.2 1249.3 302.6 1255.4 301.1 1260.2C299.7 1264.9 298.3 1269.1 296.9 1272.9C295.5 1276.6 293.4 1281.1 292.7 1282.8M351.3 1205.1C350.7 1206.9 349.3 1213.1 347.8 1216.4C346.2 1219.7 345.2 1223.1 342.1 1224.8C339.1 1226.6 331.5 1226.6 329.4 1227.0M385.9 1219.2C385.0 1220.8 382.4 1226.3 380.3 1229.1C378.1 1231.9 375.8 1234.0 373.2 1236.1C370.6 1238.3 366.1 1240.9 364.7 1241.8M429.7 1224.1L441.0 1226.3M277.1 1229.8L278.5 1230.5M265.8 1260.9L280.0 1253.8M328.0 1255.2C329.6 1256.4 334.8 1260.0 337.9 1262.3C340.9 1264.5 344.9 1267.6 346.3 1268.6M407.8 1249.6C408.9 1251.1 412.2 1255.9 414.2 1258.7C416.2 1261.6 418.9 1265.2 419.8 1266.5M378.8 1269.3L397.2 1270.0M413.5 1282.8L421.2 1283.5M441.0 1120.3C442.4 1119.8 446.7 1117.7 449.5 1117.5C452.3 1117.2 455.6 1117.2 458.0 1118.9C460.3 1120.5 462.2 1123.8 463.6 1127.4C465.0 1130.9 465.7 1135.8 466.4 1140.1C467.1 1144.3 467.7 1148.3 467.8 1152.8C468.0 1157.3 467.3 1164.6 467.1 1166.9M496.1 1109.0C496.2 1110.4 496.1 1115.1 496.8 1117.5C497.5 1119.8 499.7 1122.2 500.3 1123.1M507.4 1131.6C507.2 1133.5 507.2 1139.6 506.0 1142.9C504.8 1146.2 502.5 1149.0 500.3 1151.4C498.2 1153.7 495.9 1155.5 493.3 1157.0C490.7 1158.6 486.2 1160.0 484.8 1160.6M575.2 1120.3L580.2 1131.6M545.5 1142.9C547.0 1143.1 551.0 1143.7 554.0 1144.3C557.1 1144.9 560.6 1145.7 563.9 1146.4C567.2 1147.1 572.1 1148.2 573.8 1148.6M441.0 1158.4L448.1 1165.5M460.8 1178.2C460.5 1179.9 460.0 1184.3 459.4 1188.1C458.8 1191.9 458.2 1196.8 457.2 1200.8C456.3 1204.8 455.5 1208.6 453.7 1212.1C451.9 1215.7 448.8 1219.7 446.7 1222.0C444.5 1224.4 441.9 1225.5 441.0 1226.3M578.0 1159.9C578.7 1160.8 580.4 1164.1 582.3 1165.5C584.2 1166.9 586.5 1168.0 589.3 1168.3C592.2 1168.7 595.9 1168.1 599.2 1167.6C602.5 1167.2 607.5 1165.9 609.1 1165.5M501.7 1200.8C502.2 1199.2 502.9 1193.8 504.6 1190.9C506.2 1188.1 508.6 1185.5 511.6 1183.9C514.7 1182.2 518.2 1181.4 522.9 1181.0C527.6 1180.7 537.1 1181.6 539.9 1181.8M549.1 1186.7C550.6 1187.4 554.4 1190.1 558.3 1190.9C562.1 1191.8 568.1 1190.9 572.4 1191.6C576.6 1192.3 580.6 1193.4 583.7 1195.2C586.7 1196.9 588.6 1199.2 590.7 1202.2C592.9 1205.3 594.7 1209.8 596.4 1213.5C598.0 1217.3 599.2 1220.6 600.6 1224.8C602.0 1229.1 603.5 1234.3 604.9 1239.0C606.3 1243.7 607.7 1248.4 609.1 1253.1C610.5 1257.8 611.9 1262.5 613.3 1267.2C614.8 1271.9 616.9 1279.0 617.6 1281.3M539.9 1203.7C538.9 1204.8 535.9 1208.4 534.2 1210.7C532.6 1213.1 530.7 1216.6 530.0 1217.8M559.0 1209.3C559.8 1211.2 562.0 1216.4 563.9 1220.6C565.8 1224.8 569.2 1232.4 570.3 1234.7M487.6 1207.9C486.7 1208.6 482.9 1209.8 482.0 1212.1C481.0 1214.5 481.5 1218.7 482.0 1222.0C482.4 1225.3 483.4 1228.8 484.8 1231.9C486.2 1235.0 488.3 1238.3 490.4 1240.4C492.6 1242.5 496.3 1243.9 497.5 1244.6M542.7 1246.7C538.9 1247.0 526.7 1247.9 520.1 1248.2C513.5 1248.4 506.0 1248.2 503.2 1248.2M548.4 1246.7C550.5 1247.1 556.6 1247.3 561.1 1248.9C565.6 1250.4 570.7 1253.6 575.2 1255.9C579.7 1258.3 584.4 1260.6 587.9 1263.0C591.5 1265.3 595.0 1268.9 596.4 1270.0M441.0 1265.8L453.7 1256.6M520.1 1267.2C521.5 1268.6 525.8 1273.3 528.6 1275.7C531.4 1278.1 532.8 1279.9 537.1 1281.3C541.3 1282.8 545.1 1283.6 554.0 1284.2C563.0 1284.8 584.6 1284.8 590.7 1284.9M474.9 1285.6L494.7 1285.6M627.5 1109.0L633.1 1113.2M662.8 1116.8C662.1 1118.1 659.6 1122.1 658.6 1124.5C657.5 1127.0 656.8 1130.4 656.4 1131.6M683.3 1130.2C682.7 1131.6 681.5 1136.3 679.7 1138.7C678.0 1141.0 675.2 1142.7 672.7 1144.3C670.2 1146.0 666.2 1147.8 664.9 1148.6M734.8 1125.2C733.2 1128.0 728.2 1136.4 725.0 1141.5C721.7 1146.6 718.1 1151.4 715.1 1155.6C712.0 1159.9 709.4 1163.2 706.6 1166.9C703.8 1170.7 700.9 1174.7 698.1 1178.2C695.3 1181.8 693.4 1184.2 689.6 1188.1C685.9 1192.0 677.9 1199.3 675.5 1201.5M629.6 1148.6L620.4 1157.0M628.9 1171.9C630.5 1172.7 635.1 1175.4 638.8 1176.8C642.4 1178.2 648.8 1179.8 650.8 1180.3M780.0 1116.8C781.5 1116.8 785.7 1116.2 788.5 1116.8C791.3 1117.4 795.6 1119.7 797.0 1120.3M777.2 1120.3C776.5 1121.7 774.0 1124.8 773.0 1128.8C771.9 1132.8 771.3 1138.0 770.9 1144.3C770.4 1150.7 770.3 1163.2 770.2 1166.9M797.0 1154.2L788.5 1161.3M737.0 1171.2C738.3 1170.8 742.1 1169.5 744.7 1169.0C747.3 1168.6 751.2 1168.5 752.5 1168.3M778.6 1176.8C780.3 1177.5 785.5 1180.1 788.5 1181.0C791.6 1182.0 795.6 1182.2 797.0 1182.5M771.6 1194.5C770.6 1195.8 767.6 1200.0 765.9 1202.2C764.3 1204.5 762.4 1206.9 761.7 1207.9M631.0 1190.9C631.8 1192.6 634.5 1196.8 636.0 1200.8C637.4 1204.8 639.2 1210.2 639.5 1215.0C639.7 1219.7 638.4 1224.1 637.4 1229.1C636.3 1234.0 634.5 1239.7 633.1 1244.6C631.7 1249.6 629.6 1256.4 628.9 1258.7M672.7 1217.1C671.3 1219.3 666.9 1226.1 664.2 1230.5C661.5 1234.8 657.7 1241.1 656.4 1243.2M797.0 1227.7C793.9 1228.1 783.8 1229.3 778.6 1230.5C773.5 1231.7 769.9 1233.1 765.9 1234.7C761.9 1236.4 758.4 1238.7 754.6 1240.4C750.9 1242.0 747.1 1243.2 743.3 1244.6C739.6 1246.0 736.3 1247.7 732.0 1248.9C727.8 1250.0 722.6 1251.0 717.9 1251.7C713.2 1252.4 708.7 1252.6 703.8 1253.1C698.8 1253.6 690.8 1254.3 688.2 1254.5M682.6 1255.9C680.9 1256.2 676.7 1256.4 672.7 1257.3C668.7 1258.3 663.0 1259.7 658.6 1261.6C654.1 1263.5 650.1 1266.2 645.8 1268.6C641.6 1271.1 635.2 1275.1 633.1 1276.4M708.0 1276.4C706.6 1277.2 702.7 1280.1 699.5 1281.3C696.3 1282.6 690.7 1283.7 688.9 1284.2M733.4 1284.9L761.7 1284.9M839.4 1109.0L833.7 1116.1M797.0 1120.3C798.4 1121.7 802.7 1125.7 805.5 1128.8C808.3 1131.8 811.1 1135.1 814.0 1138.7C816.8 1142.2 820.0 1146.2 822.4 1150.0C824.9 1153.7 827.6 1157.7 828.8 1161.3C830.0 1164.8 830.1 1168.3 829.5 1171.2C828.9 1174.0 827.1 1176.6 825.3 1178.2C823.4 1179.9 820.8 1180.3 818.2 1181.0C815.6 1181.8 811.1 1182.2 809.7 1182.5M805.5 1182.5L797.0 1182.5M799.8 1152.8L797.0 1155.6M878.9 1114.7C878.8 1116.3 878.0 1121.2 878.2 1124.5C878.5 1127.8 879.1 1131.6 880.3 1134.4C881.6 1137.3 883.8 1139.6 886.0 1141.5C888.2 1143.4 892.5 1145.0 893.8 1145.7M911.4 1109.0C910.7 1110.9 908.4 1116.5 907.2 1120.3C906.0 1124.1 904.8 1129.7 904.4 1131.6M963.7 1109.0L970.8 1123.1M939.7 1127.4C937.8 1128.5 931.9 1131.8 928.4 1134.4C924.8 1137.0 921.1 1140.1 918.5 1142.9C915.9 1145.7 914.1 1148.3 912.8 1151.4C911.5 1154.4 910.7 1158.0 910.7 1161.3C910.7 1164.6 911.9 1167.6 912.8 1171.2C913.8 1174.7 915.8 1180.6 916.4 1182.5M853.5 1164.8C855.2 1164.9 860.3 1164.7 863.4 1165.5C866.5 1166.3 869.5 1167.6 871.9 1169.7C874.2 1171.9 875.8 1174.5 877.5 1178.2C879.3 1182.0 881.6 1190.0 882.5 1192.3M935.4 1171.9C937.3 1171.0 943.1 1168.3 946.7 1166.9C950.4 1165.5 955.6 1164.0 957.3 1163.4M859.2 1186.7C858.0 1187.4 854.0 1189.1 852.1 1190.9C850.2 1192.8 848.7 1195.5 847.9 1198.0C847.0 1200.5 847.3 1204.5 847.2 1205.8M922.0 1193.8C922.5 1195.4 924.1 1199.9 924.8 1203.7C925.6 1207.4 926.5 1212.4 926.3 1216.4C926.0 1220.4 923.9 1225.8 923.4 1227.7M945.3 1201.5C947.2 1200.9 953.0 1198.9 956.6 1198.0C960.3 1197.1 965.5 1196.2 967.2 1195.9M797.0 1228.4L808.3 1224.8M850.0 1217.1C850.2 1218.6 850.3 1223.3 851.4 1226.3C852.4 1229.2 854.8 1231.4 856.3 1234.7C857.9 1238.0 859.5 1241.8 860.6 1246.0C861.6 1250.3 862.3 1254.3 862.7 1260.2C863.0 1266.0 862.7 1277.8 862.7 1281.3M888.8 1222.7C887.9 1223.5 885.2 1225.9 883.2 1227.7C881.2 1229.4 877.9 1232.4 876.8 1233.3M937.6 1235.4C939.1 1236.5 943.3 1239.9 946.7 1241.8C950.2 1243.7 954.2 1245.6 958.0 1246.7C961.9 1247.9 968.1 1248.5 970.1 1248.9M837.3 1235.4C836.2 1237.0 833.1 1241.4 830.9 1244.6C828.7 1247.8 826.2 1251.2 823.8 1254.5C821.5 1257.8 818.7 1260.2 816.8 1264.4C814.9 1268.6 813.2 1277.3 812.5 1279.9M894.5 1270.8C895.7 1269.9 898.7 1267.0 901.5 1265.8C904.4 1264.6 908.1 1263.6 911.4 1263.7C914.7 1263.8 918.3 1265.0 921.3 1266.5C924.4 1268.0 928.4 1271.8 929.8 1272.9M833.7 1280.6L842.9 1280.6M306.8 1289.8C309.4 1290.2 316.8 1291.7 322.3 1291.9C327.9 1292.2 337.0 1291.4 340.0 1291.2M349.9 1292.7C351.9 1292.5 358.1 1292.2 361.9 1291.9C365.7 1291.7 370.7 1291.4 372.5 1291.2M431.1 1295.5L441.0 1304.0M373.9 1306.1C374.7 1307.4 376.6 1311.7 378.8 1313.8C381.1 1316.0 384.0 1318.3 387.3 1318.8C390.6 1319.3 394.1 1318.7 398.6 1316.7C403.1 1314.7 411.6 1308.4 414.2 1306.8M266.5 1312.4C268.8 1313.4 275.8 1316.0 280.0 1318.1C284.1 1320.2 288.3 1323.0 291.3 1325.1C294.2 1327.3 296.6 1329.9 297.6 1330.8M323.7 1322.3C322.8 1323.5 320.0 1326.6 318.1 1329.4C316.2 1332.2 313.7 1336.0 312.4 1339.3C311.1 1342.6 310.4 1345.2 310.3 1349.2C310.2 1353.2 311.5 1360.9 311.7 1363.3M357.7 1327.3C356.5 1327.9 352.7 1328.6 350.6 1330.8C348.5 1333.0 345.6 1337.2 344.9 1340.7C344.2 1344.2 345.3 1347.9 346.3 1352.0C347.4 1356.1 350.5 1363.2 351.3 1365.4M388.7 1338.6L390.8 1339.3M428.3 1347.0L441.0 1344.2M270.1 1369.6C271.9 1369.2 277.4 1367.5 281.4 1366.8C285.4 1366.1 292.0 1365.6 294.1 1365.4M390.8 1366.1C391.2 1367.8 392.5 1372.2 393.0 1376.0C393.4 1379.8 392.7 1384.7 393.7 1388.7C394.6 1392.7 396.4 1396.2 398.6 1400.0C400.9 1403.8 403.8 1407.1 407.1 1411.3C410.4 1415.6 416.5 1423.1 418.4 1425.4M410.6 1385.9C413.1 1385.7 420.4 1384.6 425.5 1384.5C430.5 1384.4 438.4 1385.1 441.0 1385.2M286.3 1398.6C288.8 1397.5 296.1 1394.1 301.1 1392.2C306.2 1390.4 314.1 1388.1 316.7 1387.3M438.9 1419.8L441.0 1418.4M328.0 1410.6C328.2 1412.4 329.6 1417.6 329.4 1421.2C329.2 1424.9 328.2 1429.0 326.6 1432.5C324.9 1436.0 322.3 1439.6 319.5 1442.4C316.7 1445.2 312.2 1447.7 309.6 1449.5C307.0 1451.2 304.9 1452.4 304.0 1453.0M267.2 1443.8C268.4 1445.9 272.7 1453.2 274.3 1456.5C275.9 1459.8 276.7 1462.4 277.1 1463.6M359.1 1463.6C359.3 1460.8 359.5 1451.1 360.5 1446.6C361.4 1442.2 362.1 1438.9 364.7 1436.7C367.3 1434.6 374.1 1434.4 376.0 1433.9M378.8 1432.5L388.7 1433.2M423.3 1431.8C424.6 1433.3 428.4 1438.0 431.1 1441.0C433.8 1443.9 438.2 1448.0 439.6 1449.5M394.4 1458.6L388.7 1463.6M441.0 1304.0C442.2 1304.7 445.7 1306.5 448.1 1308.2C450.4 1309.8 453.9 1312.9 455.1 1313.8M607.0 1295.5C604.8 1296.7 598.2 1300.2 593.6 1302.5C589.0 1304.9 584.2 1307.5 579.4 1309.6C574.7 1311.7 570.5 1313.8 565.3 1315.3C560.1 1316.7 554.0 1317.4 548.4 1318.1C542.7 1318.8 538.2 1318.8 531.4 1319.5C524.6 1320.2 511.4 1321.8 507.4 1322.3M496.1 1326.6C494.7 1327.5 490.4 1329.9 487.6 1332.2C484.8 1334.6 481.5 1338.3 479.1 1340.7C476.8 1343.0 476.1 1344.8 473.5 1346.3C470.9 1347.9 467.1 1349.6 463.6 1349.9C460.1 1350.1 456.1 1348.7 452.3 1347.7C448.5 1346.8 442.9 1344.8 441.0 1344.2M571.0 1332.2C570.0 1334.1 567.4 1338.3 565.3 1343.5C563.2 1348.7 559.4 1360.0 558.3 1363.3M530.0 1352.0C530.9 1353.4 533.8 1357.6 535.7 1360.5C537.5 1363.3 540.4 1367.5 541.3 1368.9M610.5 1309.6C609.9 1311.7 607.8 1317.6 607.0 1322.3C606.2 1327.0 605.5 1333.1 605.6 1337.9C605.7 1342.6 606.9 1345.9 607.7 1350.6C608.5 1355.3 609.6 1361.2 610.5 1366.1C611.5 1371.1 612.4 1375.5 613.3 1380.2C614.3 1384.9 615.2 1389.9 616.2 1394.4C617.1 1398.8 618.5 1405.0 619.0 1407.1M502.5 1371.1C502.3 1373.1 502.3 1379.6 501.7 1383.1C501.2 1386.5 501.0 1388.9 498.9 1391.5C496.8 1394.1 490.7 1397.4 489.0 1398.6M441.0 1387.3C442.4 1387.5 446.4 1387.3 449.5 1388.7C452.5 1390.1 457.7 1394.6 459.4 1395.8M549.8 1384.5C552.4 1384.7 559.7 1385.1 565.3 1385.9C571.0 1386.7 580.6 1388.8 583.7 1389.4M541.3 1395.8L538.5 1405.7M538.5 1409.9C538.2 1411.6 538.0 1417.0 537.1 1419.8C536.1 1422.6 535.2 1424.7 532.8 1426.9C530.5 1429.0 526.5 1430.9 522.9 1432.5C519.4 1434.2 514.9 1434.9 511.6 1436.7C508.3 1438.6 504.6 1442.6 503.2 1443.8M449.5 1410.6L441.0 1417.0M467.1 1404.3C467.1 1406.4 467.3 1412.5 467.1 1417.0C467.0 1421.4 467.0 1426.6 466.4 1431.1C465.8 1435.6 465.0 1440.5 463.6 1443.8C462.2 1447.1 460.3 1449.2 458.0 1450.9C455.6 1452.5 452.3 1453.6 449.5 1453.7C446.7 1453.8 442.4 1451.9 441.0 1451.6M575.2 1424.0C575.4 1425.9 576.9 1431.6 576.6 1435.3C576.4 1439.1 575.2 1443.1 573.8 1446.6C572.4 1450.2 569.8 1453.7 568.1 1456.5C566.5 1459.3 564.6 1462.4 563.9 1463.6M587.9 1463.6L607.7 1462.2M647.3 1287.0C649.6 1287.5 656.2 1288.2 661.4 1289.8C666.6 1291.5 673.2 1294.5 678.3 1296.9C683.5 1299.2 687.8 1301.6 692.5 1304.0C697.2 1306.3 701.5 1308.8 706.6 1311.0C711.6 1313.3 720.1 1316.3 722.8 1317.4M624.7 1291.9C626.3 1294.2 631.5 1300.8 634.5 1305.4C637.6 1310.0 640.2 1315.0 643.0 1319.5C645.8 1324.0 648.7 1328.2 651.5 1332.2C654.3 1336.2 657.1 1339.7 660.0 1343.5C662.8 1347.3 665.6 1350.8 668.4 1354.8C671.3 1358.8 674.1 1363.5 676.9 1367.5C679.7 1371.5 682.3 1375.1 685.4 1378.8C688.5 1382.6 692.2 1386.4 695.3 1390.1C698.3 1393.9 700.9 1397.4 703.8 1401.4C706.6 1405.4 709.2 1409.9 712.2 1414.1C715.3 1418.4 718.4 1421.4 722.1 1426.9C725.9 1432.3 732.7 1443.3 734.8 1446.6M661.4 1316.0C663.3 1317.3 668.9 1321.3 672.7 1323.7C676.4 1326.2 679.0 1329.5 684.0 1330.8C688.9 1332.1 699.3 1331.4 702.3 1331.5M739.8 1328.0C739.9 1330.1 740.6 1336.2 740.5 1340.7C740.4 1345.2 739.8 1349.9 739.1 1354.8C738.4 1359.8 736.7 1367.8 736.3 1370.3M797.0 1343.5C795.1 1344.2 788.5 1345.9 785.7 1347.7C782.9 1349.6 781.3 1351.7 780.0 1354.8C778.8 1357.9 778.4 1361.9 777.9 1366.1C777.5 1370.3 777.5 1375.5 777.2 1380.2C777.0 1384.9 776.6 1392.0 776.5 1394.4M672.7 1391.5C671.0 1392.0 665.1 1392.5 662.8 1394.4C660.4 1396.2 659.0 1400.0 658.6 1402.8C658.1 1405.7 659.1 1408.0 660.0 1411.3C660.8 1414.6 662.9 1420.7 663.5 1422.6M737.7 1400.0L751.8 1402.8M770.2 1405.0C770.0 1407.2 769.3 1413.6 769.5 1418.4C769.6 1423.2 770.0 1429.4 770.9 1433.9C771.7 1438.4 772.9 1441.9 774.4 1445.2C775.9 1448.5 776.3 1452.3 780.0 1453.7C783.8 1455.1 794.2 1453.7 797.0 1453.7M788.5 1409.2L797.0 1415.6M619.0 1414.1C619.9 1416.5 622.8 1422.6 624.7 1428.3C626.5 1433.9 629.4 1444.8 630.3 1448.0M703.8 1433.9C702.8 1435.1 699.8 1438.2 698.1 1441.0C696.5 1443.8 694.6 1449.2 693.9 1450.9M672.7 1450.9L676.9 1463.6M811.1 1292.7C811.6 1294.8 813.2 1300.4 814.0 1305.4C814.7 1310.3 815.1 1317.4 815.4 1322.3C815.6 1327.3 815.7 1330.9 815.4 1335.0C815.0 1339.2 813.6 1345.0 813.2 1347.0M862.7 1289.1C862.8 1290.9 864.0 1296.5 863.4 1299.7C862.8 1302.9 861.7 1306.2 859.2 1308.2C856.6 1310.2 851.6 1311.5 847.9 1311.7C844.1 1312.0 839.6 1310.7 836.6 1309.6C833.5 1308.5 830.7 1306.1 829.5 1305.4M946.7 1287.0C945.3 1287.7 941.1 1288.9 938.3 1291.2C935.4 1293.6 932.3 1297.6 929.8 1301.1C927.3 1304.7 924.7 1308.7 923.4 1312.4C922.1 1316.2 921.8 1320.9 922.0 1323.7C922.3 1326.6 924.4 1328.4 924.8 1329.4M887.4 1307.5L888.1 1308.2M945.3 1328.7C947.2 1327.6 952.5 1324.0 956.6 1322.3C960.8 1320.7 967.8 1319.4 970.1 1318.8M879.6 1328.7C880.9 1329.7 885.2 1332.6 887.4 1335.0C889.6 1337.5 892.2 1340.4 893.1 1343.5C893.9 1346.6 893.1 1350.6 892.4 1353.4C891.7 1356.2 889.4 1359.3 888.8 1360.5M859.2 1340.7C858.2 1341.6 854.9 1344.0 853.5 1346.3C852.1 1348.7 851.2 1353.4 850.7 1354.8M926.3 1333.6C926.5 1335.7 927.6 1342.3 927.7 1346.3C927.8 1350.3 927.6 1353.6 927.0 1357.6C926.4 1361.6 924.6 1368.2 924.1 1370.3M943.9 1358.3C946.0 1358.3 952.3 1358.1 956.6 1358.3C961.0 1358.6 967.8 1359.5 970.1 1359.8M797.0 1344.2L799.8 1343.5M846.4 1367.5C846.4 1368.9 845.7 1373.2 846.4 1376.0C847.2 1378.8 848.8 1381.9 850.7 1384.5C852.6 1387.1 856.6 1390.4 857.7 1391.5M883.9 1376.0C885.9 1376.9 890.8 1379.9 895.9 1381.7C901.0 1383.4 911.2 1385.8 914.3 1386.6M926.3 1386.6C928.7 1387.4 935.2 1389.5 941.1 1391.5C947.0 1393.5 958.2 1397.4 961.6 1398.6M797.0 1388.7C798.6 1388.6 803.4 1388.0 806.9 1388.0C810.4 1388.0 814.9 1387.7 818.2 1388.7C821.5 1389.8 824.8 1391.8 826.7 1394.4C828.6 1397.0 829.5 1401.0 829.5 1404.3C829.5 1407.6 828.6 1410.4 826.7 1414.1C824.8 1417.9 819.6 1424.7 818.2 1426.9M877.5 1392.2C877.1 1394.5 875.9 1402.0 874.7 1405.7C873.5 1409.3 872.8 1411.8 870.5 1414.1C868.1 1416.5 864.1 1417.4 860.6 1419.8C857.0 1422.1 851.2 1426.9 849.3 1428.3M910.7 1404.3C910.1 1405.9 908.2 1410.4 907.2 1414.1C906.1 1417.9 904.4 1422.6 904.4 1426.9C904.4 1431.1 905.8 1435.6 907.2 1439.6C908.6 1443.6 910.5 1446.9 912.8 1450.9C915.2 1454.9 919.9 1461.5 921.3 1463.6M929.8 1412.7C931.2 1413.7 935.0 1416.5 938.3 1418.4C941.6 1420.3 947.7 1423.1 949.6 1424.0M951.0 1436.7C952.4 1437.2 956.3 1438.9 959.5 1439.6C962.6 1440.3 968.3 1440.7 970.1 1441.0M814.0 1432.5C812.5 1434.2 808.3 1439.1 805.5 1442.4C802.7 1445.7 798.4 1450.6 797.0 1452.3M842.2 1446.6C843.9 1447.6 848.6 1450.2 852.1 1452.3C855.6 1454.4 860.3 1457.3 863.4 1459.3C866.5 1461.4 869.3 1463.5 870.5 1464.3M829.5 1458.6L830.2 1465.0M797.0 1415.6L799.8 1417.0M277.1 1465.0C278.1 1466.4 281.4 1469.9 282.8 1473.5C284.2 1477.0 284.7 1482.2 285.6 1486.2C286.5 1490.2 286.8 1493.7 288.4 1497.5C290.1 1501.3 292.9 1505.0 295.5 1508.8C298.1 1512.6 300.9 1516.3 304.0 1520.1C307.0 1523.9 310.3 1528.6 313.9 1531.4C317.4 1534.2 321.9 1535.2 325.2 1537.0C328.5 1538.9 331.3 1540.3 333.6 1542.7C336.0 1545.1 337.9 1549.2 339.3 1551.2C340.7 1553.2 341.6 1554.1 342.1 1554.7M359.1 1465.0C358.6 1466.4 357.4 1471.0 356.2 1473.5C355.1 1475.9 352.7 1478.8 352.0 1479.8M374.6 1472.8C376.0 1472.2 380.5 1470.5 383.1 1469.2C385.7 1467.9 389.0 1465.7 390.1 1465.0M325.2 1493.3C326.6 1492.3 330.3 1489.3 333.6 1487.6C336.9 1486.0 343.1 1484.1 344.9 1483.4M402.2 1487.6C402.3 1489.7 402.3 1496.3 402.9 1500.3C403.4 1504.3 404.0 1507.6 405.7 1511.6C407.3 1515.6 411.6 1522.2 412.7 1524.3M438.2 1484.8L436.8 1496.1M358.4 1529.3C359.9 1528.2 364.4 1524.7 367.5 1522.9C370.7 1521.2 374.2 1519.6 377.4 1518.7C380.6 1517.7 385.1 1517.5 386.6 1517.3M423.3 1537.8C421.8 1539.0 417.0 1542.5 414.2 1545.5C411.3 1548.6 407.7 1554.4 406.4 1556.1M292.0 1562.5C293.0 1563.9 296.6 1568.6 298.3 1571.0C300.1 1573.3 302.1 1573.5 302.6 1576.6C303.0 1579.7 302.6 1584.8 301.1 1589.3C299.7 1593.8 297.4 1599.1 294.1 1603.4C290.8 1607.8 283.5 1613.5 281.4 1615.5M325.2 1575.2C327.0 1574.7 332.2 1573.1 336.5 1572.4C340.7 1571.7 347.1 1570.7 350.6 1571.0C354.1 1571.2 354.8 1571.9 357.7 1573.8C360.5 1575.7 364.0 1579.4 367.5 1582.3C371.1 1585.1 375.5 1588.0 378.8 1590.7C382.1 1593.4 385.9 1597.2 387.3 1598.5M265.8 1592.1L275.0 1583.7M436.8 1568.1C435.8 1569.5 433.0 1573.2 431.1 1576.6C429.2 1580.0 426.4 1586.6 425.5 1588.6M327.3 1592.1C327.3 1594.3 326.9 1600.1 327.3 1604.9C327.6 1609.6 328.8 1615.0 329.4 1620.4C330.0 1625.8 330.6 1634.5 330.8 1637.3M371.8 1610.5C370.6 1611.9 367.2 1615.5 364.7 1619.0C362.2 1622.5 358.6 1628.6 356.9 1631.7C355.3 1634.8 355.2 1636.4 354.8 1637.3M400.7 1612.6C399.9 1614.4 397.6 1619.1 395.8 1623.2C394.0 1627.3 391.1 1635.0 390.1 1637.3M426.9 1623.9C428.3 1624.3 433.0 1625.5 435.3 1626.0C437.7 1626.6 440.1 1627.2 441.0 1627.5M470.7 1477.0C469.3 1476.4 465.3 1473.8 462.2 1473.5C459.1 1473.1 455.1 1473.7 452.3 1474.9C449.5 1476.1 447.1 1478.4 445.2 1480.5C443.4 1482.7 441.7 1486.4 441.0 1487.6M481.3 1489.7C480.7 1491.5 479.3 1497.1 477.7 1500.3C476.2 1503.5 474.2 1506.0 472.1 1508.8C470.0 1511.6 466.2 1515.9 465.0 1517.3M549.8 1467.8C547.7 1468.5 540.8 1470.2 537.1 1472.1C533.3 1473.9 530.5 1476.8 527.2 1479.1C523.9 1481.5 519.6 1483.6 517.3 1486.2C514.9 1488.8 513.5 1491.8 513.0 1494.7C512.6 1497.5 513.0 1500.6 514.5 1503.1C515.9 1505.7 517.8 1507.9 521.5 1510.2C525.3 1512.6 534.5 1516.1 537.1 1517.3M544.1 1518.0C545.8 1518.6 550.5 1520.9 554.0 1521.5C557.5 1522.1 562.6 1522.7 565.3 1521.5C568.0 1520.3 569.2 1518.0 570.3 1514.4C571.3 1510.9 571.7 1505.3 571.7 1500.3C571.7 1495.4 570.5 1487.4 570.3 1484.8M609.1 1465.0C610.3 1466.2 614.6 1468.5 616.2 1472.1C617.7 1475.6 617.9 1477.5 618.3 1486.2C618.6 1494.9 618.3 1518.0 618.3 1524.3M443.8 1548.3C445.2 1549.5 449.5 1553.1 452.3 1555.4C455.1 1557.8 458.7 1559.9 460.8 1562.5C462.9 1565.1 464.2 1567.2 465.0 1571.0C465.8 1574.7 466.2 1580.8 465.7 1585.1C465.3 1589.3 463.5 1592.8 462.2 1596.4C460.9 1599.9 458.7 1604.6 458.0 1606.3M519.4 1542.7C518.1 1543.4 513.9 1545.1 511.6 1546.9C509.4 1548.8 507.0 1551.2 506.0 1554.0C504.9 1556.8 504.8 1560.1 505.3 1563.9C505.7 1567.7 507.3 1572.6 508.8 1576.6C510.3 1580.6 513.2 1584.1 514.5 1587.9C515.8 1591.7 516.2 1597.3 516.6 1599.2M547.0 1548.3C547.9 1549.5 551.7 1551.9 552.6 1555.4C553.5 1558.9 553.3 1565.8 552.6 1569.5C551.9 1573.3 551.4 1575.4 548.4 1578.0C545.3 1580.6 536.6 1583.9 534.2 1585.1M482.0 1578.0C483.4 1580.4 487.4 1587.1 490.4 1592.1C493.5 1597.2 498.7 1605.7 500.3 1608.4M613.3 1564.6C610.5 1564.6 600.4 1563.8 596.4 1564.6C592.4 1565.4 590.9 1566.8 589.3 1569.5C587.8 1572.2 587.2 1577.1 587.2 1580.8C587.2 1584.6 587.8 1589.3 589.3 1592.1C590.9 1595.0 593.1 1596.4 596.4 1597.8C599.7 1599.2 607.0 1600.1 609.1 1600.6M573.1 1601.3C571.8 1602.1 568.0 1603.8 565.3 1606.3C562.6 1608.7 559.7 1612.6 556.8 1616.2C554.0 1619.7 550.2 1624.4 548.4 1627.5C546.5 1630.5 546.0 1633.3 545.5 1634.5M592.2 1616.2C591.7 1617.8 590.2 1622.5 589.3 1626.0C588.5 1629.6 587.6 1635.5 587.2 1637.3M441.0 1627.5C443.4 1627.7 450.4 1628.2 455.1 1628.9C459.8 1629.6 466.2 1630.3 469.3 1631.7C472.3 1633.1 472.8 1636.4 473.5 1637.3M636.0 1474.9C637.8 1474.5 643.5 1473.4 647.3 1472.8C651.0 1472.2 656.7 1471.6 658.6 1471.4M699.5 1469.2C701.4 1469.8 707.3 1471.6 710.8 1472.8C714.4 1473.9 717.3 1474.4 720.7 1476.3C724.1 1478.2 729.5 1482.8 731.3 1484.1M797.0 1470.7C794.4 1470.8 786.2 1470.7 781.5 1471.4C776.8 1472.1 770.9 1474.3 768.7 1474.9M670.6 1482.0C670.2 1483.8 668.7 1489.0 668.4 1493.3C668.2 1497.5 668.2 1502.9 669.2 1507.4C670.1 1511.9 673.3 1518.0 674.1 1520.1M701.6 1494.0C702.1 1495.5 703.8 1500.2 704.5 1503.1C705.2 1506.1 705.6 1510.2 705.9 1511.6M743.3 1501.0C742.6 1502.1 740.5 1504.8 739.1 1507.4C737.7 1510.0 735.5 1515.0 734.8 1516.6M758.2 1488.3C759.2 1490.1 761.8 1494.3 764.5 1498.9C767.2 1503.5 772.7 1513.0 774.4 1515.9M640.2 1530.0C641.8 1531.2 647.7 1534.5 650.1 1537.0C652.4 1539.6 653.8 1542.5 654.3 1545.5C654.8 1548.6 654.1 1552.6 652.9 1555.4C651.7 1558.2 650.1 1560.9 647.3 1562.5C644.4 1564.0 639.5 1564.2 636.0 1564.6C632.4 1564.9 627.7 1564.6 626.1 1564.6M720.7 1538.5L724.2 1542.0M754.6 1535.6L755.3 1544.1M686.8 1550.5L686.1 1555.4M704.5 1548.3C705.3 1550.5 707.9 1556.4 709.4 1561.1C710.9 1565.8 712.9 1574.0 713.7 1576.6M765.2 1563.9C763.4 1564.6 758.3 1566.0 754.6 1568.1C751.0 1570.2 747.0 1573.8 743.3 1576.6C739.7 1579.4 734.5 1583.7 732.7 1585.1M792.1 1549.8C791.0 1550.5 787.5 1552.1 785.7 1554.0C783.9 1555.9 782.2 1557.5 781.5 1561.1C780.8 1564.6 780.9 1570.7 781.5 1575.2C782.0 1579.7 783.6 1584.0 785.0 1587.9C786.4 1591.8 789.1 1596.7 789.9 1598.5M624.7 1600.6C627.2 1600.4 634.3 1599.9 640.2 1599.2C646.1 1598.5 654.6 1598.0 660.0 1596.4C665.4 1594.7 668.2 1590.8 672.7 1589.3C677.2 1587.8 681.9 1587.3 686.8 1587.2C691.8 1587.1 696.9 1587.3 702.3 1588.6C707.8 1589.9 716.5 1593.9 719.3 1595.0M676.9 1607.7C678.3 1609.3 682.3 1613.7 685.4 1617.6C688.5 1621.5 693.6 1628.8 695.3 1631.0M650.8 1616.2C651.4 1618.0 653.4 1624.0 654.3 1627.5C655.3 1630.9 656.1 1635.1 656.4 1636.6M623.2 1620.4L623.9 1637.3M753.2 1617.6L753.9 1623.9M773.0 1613.3C773.9 1614.7 776.0 1619.7 778.6 1621.8C781.2 1623.9 785.5 1625.3 788.5 1626.0C791.6 1626.8 795.6 1626.0 797.0 1626.0M797.0 1472.1C797.9 1473.5 801.2 1477.7 802.7 1480.5C804.1 1483.4 805.0 1487.6 805.5 1489.0M828.8 1465.0C829.4 1466.4 831.0 1470.7 832.3 1473.5C833.6 1476.3 835.8 1480.5 836.6 1482.0M867.6 1465.0C869.0 1466.2 873.1 1469.6 876.1 1472.1C879.2 1474.5 884.4 1478.5 886.0 1479.8M921.3 1465.0L924.1 1467.1M959.5 1465.0C957.8 1465.9 953.0 1469.0 949.6 1470.7C946.2 1472.3 940.7 1474.2 939.0 1474.9M797.0 1510.2C797.9 1511.6 800.9 1516.1 802.7 1518.7C804.4 1521.3 806.8 1524.6 807.6 1525.7M888.1 1501.7C885.2 1502.2 875.8 1503.6 870.5 1504.6C865.2 1505.5 860.6 1506.4 856.3 1507.4C852.1 1508.3 848.1 1508.8 845.0 1510.2C842.0 1511.6 840.1 1514.2 838.0 1515.9C835.8 1517.5 834.6 1518.6 832.3 1520.1C830.1 1521.6 825.8 1524.2 824.5 1525.0M969.3 1494.7C967.2 1495.1 960.4 1496.1 956.6 1497.5C952.9 1498.9 949.6 1500.6 946.7 1503.1C943.9 1505.7 942.3 1509.3 939.7 1513.0C937.1 1516.8 934.3 1521.5 931.2 1525.7C928.1 1530.0 924.8 1534.9 921.3 1538.5C917.8 1542.0 914.0 1544.1 910.0 1546.9C906.0 1549.8 899.4 1554.0 897.3 1555.4M891.7 1559.7C890.0 1561.5 885.1 1567.4 881.8 1571.0C878.5 1574.5 875.4 1577.5 871.9 1580.8C868.3 1584.1 864.0 1588.0 860.6 1590.7C857.2 1593.4 852.9 1596.0 851.4 1597.1M847.2 1529.3C848.7 1530.6 853.2 1534.3 856.3 1537.0C859.5 1539.8 864.6 1544.1 866.2 1545.5M887.4 1530.7L894.5 1534.9M814.7 1537.0C816.0 1538.5 820.1 1543.1 822.4 1545.5C824.8 1548.0 827.7 1550.8 828.8 1551.9M851.4 1566.0L854.2 1568.8M952.4 1557.5L942.5 1566.7M938.3 1572.4C937.3 1573.3 933.8 1575.4 932.6 1578.0C931.4 1580.6 931.0 1584.1 931.2 1587.9C931.4 1591.7 932.4 1596.6 934.0 1600.6C935.7 1604.6 938.4 1608.6 941.1 1611.9C943.8 1615.2 948.7 1619.0 950.3 1620.4M960.2 1586.5L970.1 1597.1M888.1 1590.7C889.4 1591.9 893.9 1595.2 895.9 1597.8C897.9 1600.4 899.4 1603.0 900.1 1606.3C900.8 1609.6 900.8 1613.6 900.1 1617.6C899.4 1621.6 896.6 1628.2 895.9 1630.3M833.7 1613.3C834.7 1615.2 837.3 1620.8 839.4 1624.6C841.5 1628.5 845.3 1634.6 846.4 1636.6M859.2 1613.3C860.6 1615.2 864.7 1620.8 867.6 1624.6C870.6 1628.5 875.3 1634.6 876.8 1636.6M797.0 1627.5C798.4 1627.0 802.7 1625.6 805.5 1624.6C808.3 1623.7 812.5 1622.3 814.0 1621.8" fill="none" stroke="#fdf4fd" stroke-width="2.6" stroke-linecap="round" stroke-linejoin="round" stroke-opacity="0.92"/><path d="M421.8 951.3L427.9 943.9L431.2 949.4zM364.8 991.2L370.5 983.5L374.1 988.9zM333.6 1032.0L336.0 1022.7L341.3 1026.3zM419.5 1043.0L423.6 1034.3L428.1 1038.9zM564.2 974.7L555.1 977.7L555.2 971.3zM576.9 1004.5L567.9 1007.7L567.9 1001.3zM449.9 1018.3L445.0 1026.5L440.9 1021.6zM587.3 1063.3L581.4 1055.8L587.5 1053.8zM666.8 974.0L675.6 970.5L675.9 976.9zM625.8 971.2L634.9 968.5L634.6 974.9zM672.5 1019.7L664.3 1014.7L669.3 1010.7zM767.2 1010.6L757.7 1009.1L760.8 1003.5zM638.7 1048.8L629.2 1050.1L630.6 1043.8zM850.4 964.8L852.0 955.4L857.6 958.5zM915.8 982.1L911.7 973.4L918.1 972.8zM918.0 1004.5L922.7 1012.8L916.3 1013.9zM964.1 1030.2L955.6 1025.7L960.4 1021.4zM853.7 1062.5L844.2 1063.7L845.6 1057.4zM844.7 1099.6L842.4 1108.9L837.0 1105.3zM327.8 1164.2L323.0 1155.9L329.3 1154.8zM393.4 1189.7L391.9 1180.2L398.2 1181.4zM305.7 1243.2L304.5 1233.7L310.8 1235.1zM329.1 1227.0L337.4 1222.4L338.5 1228.7zM462.2 1125.2L454.5 1119.5L459.9 1116.0zM467.2 1165.8L464.4 1156.6L470.8 1156.9zM484.8 1160.6L491.8 1154.2L494.3 1160.1zM610.8 1165.1L602.7 1170.2L601.3 1163.9zM538.7 1181.7L529.6 1184.5L529.9 1178.1zM578.2 1193.5L568.6 1193.8L570.5 1187.7zM606.2 1243.3L600.5 1235.6L606.6 1233.7zM492.9 1244.1L485.3 1238.4L490.6 1234.9zM504.3 1248.2L513.3 1245.0L513.3 1251.4zM558.4 1248.4L549.0 1250.1L550.1 1243.8zM550.0 1283.5L540.6 1285.2L541.6 1278.9zM457.7 1198.3L456.0 1188.9L462.3 1189.9zM705.8 1168.0L708.6 1158.9L713.7 1162.8zM774.8 1125.2L775.9 1115.7L781.7 1118.6zM640.2 1217.8L634.9 1209.9L641.1 1208.3zM756.2 1239.6L762.9 1232.7L765.7 1238.4zM724.8 1250.3L732.9 1245.4L734.2 1251.7zM672.5 1257.4L680.9 1252.9L681.8 1259.3zM814.3 1182.6L821.4 1176.3L823.8 1182.3zM909.8 1165.5L908.6 1156.1L914.8 1157.4zM863.7 1165.5L854.5 1168.1L854.9 1161.7zM856.4 1234.8L849.1 1228.7L854.6 1225.5zM812.9 1278.7L812.2 1269.1L818.3 1270.8zM412.3 1307.9L406.5 1315.5L403.0 1310.1zM311.5 1360.8L307.4 1352.1L313.8 1351.5zM346.6 1332.8L353.2 1325.9L356.0 1331.6zM393.7 1389.0L390.0 1380.2L396.4 1379.8zM329.6 1422.8L325.2 1414.3L331.6 1413.5zM372.1 1434.9L364.1 1440.2L362.6 1434.0zM559.5 1316.2L567.9 1311.6L568.9 1317.9zM507.2 1322.3L515.8 1318.1L516.5 1324.5zM470.3 1349.5L474.4 1340.9L478.9 1345.4zM457.3 1394.3L448.1 1391.7L451.8 1386.5zM609.8 1362.0L605.0 1353.7L611.3 1352.5zM534.1 1424.7L536.0 1415.3L541.5 1418.6zM455.7 1453.7L458.8 1444.7L463.8 1448.7zM693.7 1304.6L684.2 1303.4L687.0 1297.7zM653.3 1335.0L645.7 1329.3L651.0 1325.7zM688.1 1382.4L680.1 1377.1L685.3 1373.3zM708.6 1408.8L701.0 1403.0L706.3 1399.5zM776.8 1389.0L774.0 1379.8L780.4 1380.1zM663.6 1422.9L657.8 1415.2L663.9 1413.3zM781.5 1455.8L773.8 1450.1L779.1 1446.5zM813.3 1302.6L808.3 1294.5L814.5 1293.1zM833.5 1309.0L842.9 1307.5L841.8 1313.8zM922.0 1323.9L919.9 1314.6L926.3 1315.4zM822.7 1389.0L813.5 1391.6L813.9 1385.2zM850.8 1427.2L856.0 1419.2L859.9 1424.3zM904.1 1428.3L902.9 1418.8L909.1 1420.2zM854.9 1453.9L845.5 1452.2L848.7 1446.7zM282.7 1473.3L275.0 1467.6L280.3 1464.0zM340.0 1552.3L332.4 1546.6L337.7 1543.0zM302.9 1577.0L294.9 1571.8L300.0 1567.9zM371.0 1585.2L362.0 1581.8L366.2 1576.9zM327.3 1602.3L324.1 1593.3L330.5 1593.3zM459.5 1472.4L469.0 1472.9L466.6 1478.8zM514.1 1488.5L519.6 1480.6L523.3 1485.8zM571.0 1493.0L575.0 1501.6L568.6 1502.2zM462.0 1563.5L453.0 1560.2L457.1 1555.3zM503.7 1556.8L506.8 1547.8L511.8 1551.8zM554.7 1558.1L546.6 1553.0L551.6 1549.0zM590.2 1596.6L585.4 1588.3L591.6 1587.1zM564.8 1606.6L570.7 1599.1L574.1 1604.5zM651.7 1471.9L643.4 1476.7L642.2 1470.5zM770.2 1474.5L778.0 1469.0L779.7 1475.2zM652.9 1542.8L646.1 1536.1L651.8 1533.3zM756.0 1567.6L763.2 1561.2L765.6 1567.2zM782.9 1555.8L788.6 1548.2L792.2 1553.5zM634.8 1599.7L626.1 1603.7L625.5 1597.3zM678.5 1588.4L670.1 1592.9L669.1 1586.6zM839.1 1514.9L844.1 1506.8L848.1 1511.8zM899.1 1554.2L904.8 1546.6L908.4 1551.9zM853.0 1596.0L858.6 1588.2L862.2 1593.5zM930.1 1580.5L934.2 1571.9L938.8 1576.4zM809.5 1623.3L802.0 1629.2L800.0 1623.1z" fill="#fdf4fd" fill-opacity="0.95"/></g>
<rect x="263.52" y="930.96" width="708.96" height="708.48" fill="none" stroke="#000" stroke-width="2.9"/>
<path d="M263.52 1639.44v7.6M263.52 1639.44h-7.6M293.06 1639.44v7.6M263.52 1609.92h-7.6M322.60 1639.44v12.5M263.52 1580.40h-12.5M352.14 1639.44v7.6M263.52 1550.88h-7.6M381.68 1639.44v7.6M263.52 1521.36h-7.6M411.22 1639.44v7.6M263.52 1491.84h-7.6M440.76 1639.44v7.6M263.52 1462.32h-7.6M470.30 1639.44v12.5M263.52 1432.80h-12.5M499.84 1639.44v7.6M263.52 1403.28h-7.6M529.38 1639.44v7.6M263.52 1373.76h-7.6M558.92 1639.44v7.6M263.52 1344.24h-7.6M588.46 1639.44v7.6M263.52 1314.72h-7.6M618.00 1639.44v12.5M263.52 1285.20h-12.5M647.54 1639.44v7.6M263.52 1255.68h-7.6M677.08 1639.44v7.6M263.52 1226.16h-7.6M706.62 1639.44v7.6M263.52 1196.64h-7.6M736.16 1639.44v7.6M263.52 1167.12h-7.6M765.70 1639.44v12.5M263.52 1137.60h-12.5M795.24 1639.44v7.6M263.52 1108.08h-7.6M824.78 1639.44v7.6M263.52 1078.56h-7.6M854.32 1639.44v7.6M263.52 1049.04h-7.6M883.86 1639.44v7.6M263.52 1019.52h-7.6M913.40 1639.44v12.5M263.52 990.00h-12.5M942.94 1639.44v7.6M263.52 960.48h-7.6M972.48 1639.44v7.6M263.52 930.96h-7.6" stroke="#000" stroke-width="2.6" fill="none"/>
<rect x="1003.5" y="1032.6" width="32.0" height="505.0" fill="url(#cbgb)" stroke="#000" stroke-width="2.8"/>
<path d="M1035.5 1537.60h11" stroke="#000" stroke-width="2.5"/>
<path d="M1035.5 1391.22h11" stroke="#000" stroke-width="2.5"/>
<path d="M1035.5 1244.85h11" stroke="#000" stroke-width="2.5"/>
<path d="M1035.5 1098.47h11" stroke="#000" stroke-width="2.5"/>
<g transform="translate(80.83 43.99) scale(1.1814 1.0342)"><text font-size="42">(a)</text></g>
<g transform="translate(191.93 102.46) scale(1.1343 0.9798)"><text font-size="40">10</text></g>
<g transform="translate(215.34 250.05) scale(1.0954 0.9981)"><text font-size="40">5</text></g>
<g transform="translate(214.71 397.66) scale(1.1294 0.9798)"><text font-size="40">0</text></g>
<g transform="translate(215.11 545.25) scale(1.1077 0.9981)"><text font-size="40">5</text></g>
<g transform="translate(192.04 692.86) scale(1.1314 0.9798)"><text font-size="40">10</text></g>
<g transform="translate(318.56 795.51) scale(1.1543 0.9725)"><text font-size="40">10</text></g>
<g transform="translate(478.19 795.50) scale(1.1138 0.9907)"><text font-size="40">5</text></g>
<g transform="translate(606.86 795.51) scale(1.1588 0.9725)"><text font-size="40">0</text></g>
<g transform="translate(754.34 795.50) scale(1.0954 0.9907)"><text font-size="40">5</text></g>
<g transform="translate(889.74 795.51) scale(1.1314 0.9725)"><text font-size="40">10</text></g>
<g transform="translate(566.62 855.52) scale(1.2398 0.8686)"><text font-size="40"><tspan font-style="italic">x</tspan>/µm</text></g>
<g transform="translate(111.82 430.97) scale(1.0950 1.1487) rotate(-90)"><text font-size="40"><tspan font-style="italic">y</tspan>/µm</text></g>
<g transform="translate(80.90 944.05) scale(1.1429 1.0275)"><text font-size="42">(b)</text></g>
<g transform="translate(191.93 1002.46) scale(1.1343 0.9798)"><text font-size="40">10</text></g>
<g transform="translate(215.34 1150.05) scale(1.0954 0.9981)"><text font-size="40">5</text></g>
<g transform="translate(214.71 1297.66) scale(1.1294 0.9798)"><text font-size="40">0</text></g>
<g transform="translate(215.11 1445.25) scale(1.1077 0.9981)"><text font-size="40">5</text></g>
<g transform="translate(192.04 1592.86) scale(1.1314 0.9798)"><text font-size="40">10</text></g>
<g transform="translate(318.56 1695.51) scale(1.1543 0.9725)"><text font-size="40">10</text></g>
<g transform="translate(478.19 1695.50) scale(1.1138 0.9907)"><text font-size="40">5</text></g>
<g transform="translate(606.86 1695.51) scale(1.1588 0.9725)"><text font-size="40">0</text></g>
<g transform="translate(754.34 1695.50) scale(1.0954 0.9907)"><text font-size="40">5</text></g>
<g transform="translate(889.74 1695.51) scale(1.1314 0.9725)"><text font-size="40">10</text></g>
<g transform="translate(566.62 1755.52) scale(1.2398 0.8686)"><text font-size="40"><tspan font-style="italic">x</tspan>/µm</text></g>
<g transform="translate(111.82 1330.97) scale(1.0950 1.1487) rotate(-90)"><text font-size="40"><tspan font-style="italic">y</tspan>/µm</text></g>
<g transform="translate(1061.77 145.26) scale(1.1048 0.9889)"><text font-size="40">25</text></g>
<g transform="translate(1061.77 246.26) scale(1.1048 0.9798)"><text font-size="40">20</text></g>
<g transform="translate(1059.72 347.26) scale(1.1371 0.9889)"><text font-size="40">15</text></g>
<g transform="translate(1059.72 448.26) scale(1.1371 0.9798)"><text font-size="40">10</text></g>
<g transform="translate(1061.24 549.25) scale(1.0954 0.9981)"><text font-size="40">5</text></g>
<g transform="translate(1061.99 650.26) scale(1.1412 0.9798)"><text font-size="40">0</text></g>
<g transform="translate(1059.72 1110.76) scale(1.1371 0.9889)"><text font-size="40">15</text></g>
<g transform="translate(1059.72 1257.26) scale(1.1371 0.9798)"><text font-size="40">10</text></g>
<g transform="translate(1061.24 1403.65) scale(1.0954 0.9981)"><text font-size="40">5</text></g>
<g transform="translate(1061.99 1550.26) scale(1.1412 0.9798)"><text font-size="40">0</text></g>
<g transform="translate(1158.55 611.42) scale(0.9317 1.2158) rotate(-90)"><text font-size="40">Intensity/(10<tspan dy="-15" font-size="27">15</tspan><tspan dy="15"> V</tspan><tspan dy="-15" font-size="27">2</tspan><tspan dy="15">·m</tspan><tspan dy="-15" font-size="27">−2</tspan><tspan dy="15">)</tspan></text></g>
<g transform="translate(1158.55 1522.22) scale(0.9317 1.2153) rotate(-90)"><text font-size="40">Intensity/(10<tspan dy="-15" font-size="27">15</tspan><tspan dy="15"> V</tspan><tspan dy="-15" font-size="27">2</tspan><tspan dy="15">·m</tspan><tspan dy="-15" font-size="27">−2</tspan><tspan dy="15">)</tspan></text></g>
<rect x="182.50" y="534.75" width="25.80" height="2.5"/>
<rect x="160.50" y="682.35" width="26.50" height="2.5"/>
<rect x="287.40" y="783.75" width="26.60" height="2.5"/>
<rect x="446.40" y="783.75" width="26.70" height="2.5"/>
<rect x="182.50" y="1434.75" width="25.80" height="2.5"/>
<rect x="160.50" y="1582.35" width="26.50" height="2.5"/>
<rect x="287.40" y="1683.75" width="26.60" height="2.5"/>
<rect x="446.40" y="1683.75" width="26.70" height="2.5"/>
</svg>
</body></html>
